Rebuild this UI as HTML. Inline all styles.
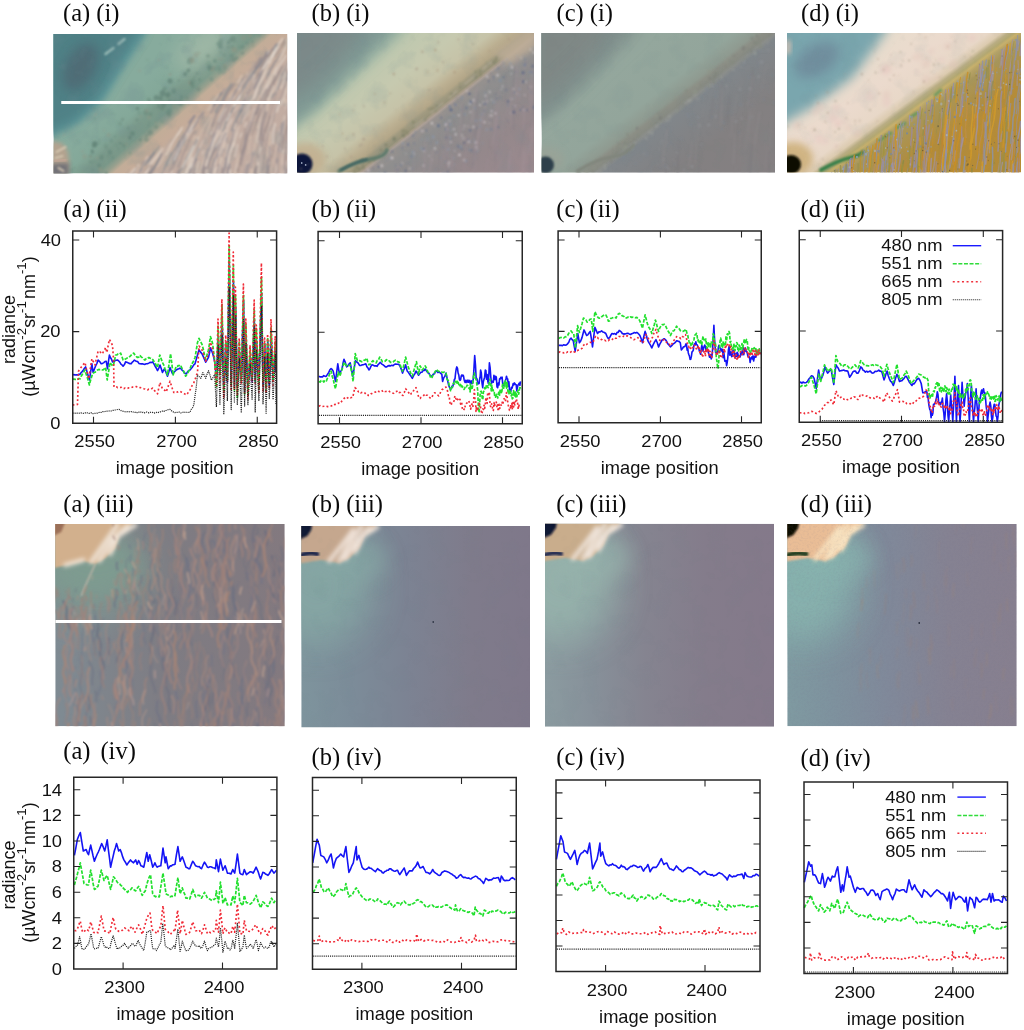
<!DOCTYPE html>
<html><head><meta charset="utf-8"><title>figure</title>
<style>html,body{margin:0;padding:0;background:#fff;}svg{display:block}</style></head>
<body>
<svg width="1024" height="1030" viewBox="0 0 1024 1030">
<defs>

<filter id="bl05" x="-20%" y="-20%" width="140%" height="140%"><feGaussianBlur stdDeviation="0.55"/></filter>
<filter id="bl08" x="-20%" y="-20%" width="140%" height="140%"><feGaussianBlur stdDeviation="0.85"/></filter>
<filter id="bl1" x="-20%" y="-20%" width="140%" height="140%"><feGaussianBlur stdDeviation="1"/></filter>
<filter id="bl2" x="-20%" y="-20%" width="140%" height="140%"><feGaussianBlur stdDeviation="2"/></filter>
<filter id="bl3" x="-30%" y="-30%" width="160%" height="160%"><feGaussianBlur stdDeviation="3.5"/></filter>
<filter id="bl6" x="-40%" y="-40%" width="180%" height="180%"><feGaussianBlur stdDeviation="6"/></filter>
<filter id="bl10" x="-50%" y="-50%" width="200%" height="200%"><feGaussianBlur stdDeviation="10"/></filter>
<filter id="bl18" x="-60%" y="-60%" width="220%" height="220%"><feGaussianBlur stdDeviation="18"/></filter>
<filter id="mot" x="0" y="0" width="100%" height="100%">
  <feTurbulence type="fractalNoise" baseFrequency="0.055" numOctaves="3" seed="4"/>
  <feColorMatrix type="matrix" values="0 0 0 0 0.15  0 0 0 0 0.25  0 0 0 0 0.28  3.2 0 0 0 -1.55"/>
</filter>
<filter id="motL" x="0" y="0" width="100%" height="100%">
  <feTurbulence type="fractalNoise" baseFrequency="0.07" numOctaves="3" seed="9"/>
  <feColorMatrix type="matrix" values="0 0 0 0 1  0 0 0 0 1  0 0 0 0 0.95  3.2 0 0 0 -1.6"/>
</filter>
<filter id="grain" x="0" y="0" width="100%" height="100%">
  <feTurbulence type="fractalNoise" baseFrequency="0.45" numOctaves="2" seed="2"/>
  <feColorMatrix type="matrix" values="0 0 0 0 0.2  0 0 0 0 0.2  0 0 0 0 0.3  2.6 0 0 0 -1.2"/>
</filter>

</defs>
<rect width="1024" height="1030" fill="#fff"/>
<svg x="53.5" y="34" width="234" height="139.5" viewBox="0 0 234 139.5" overflow="hidden">
<linearGradient id="ga1" gradientUnits="userSpaceOnUse" x1="228.5" y1="149.7" x2="53.9" y2="-49.6"><stop offset="0.0000" stop-color="#c1aca2"/><stop offset="0.3208" stop-color="#c2ada2"/><stop offset="0.4000" stop-color="#c3ac9b"/><stop offset="0.4151" stop-color="#c5ac99"/><stop offset="0.4491" stop-color="#c2ad98"/><stop offset="0.4679" stop-color="#98a08e"/><stop offset="0.4906" stop-color="#7a9889"/><stop offset="0.5283" stop-color="#7b9a8b"/><stop offset="0.5698" stop-color="#84a899"/><stop offset="0.6415" stop-color="#87ab9d"/><stop offset="0.7925" stop-color="#87ab9d"/><stop offset="1.0000" stop-color="#87ab9d"/></linearGradient>
<rect width="234" height="139.5" fill="url(#ga1)"/>
<polygon points="-20.0,-20.0 100.0,-20.0 92.0,0.0 72.0,30.0 50.0,66.0 26.0,88.0 -20.0,112.0" fill="#5f9a9c" filter="url(#bl3)"/>
<polygon points="-20.0,-20.0 94.0,-20.0 86.0,0.0 66.0,30.0 44.0,66.0 20.0,88.0 -20.0,106.0" fill="#4f8186" filter="url(#bl6)"/>
<ellipse cx="27" cy="33" rx="26" ry="15" fill="#506b74" filter="url(#bl6)" opacity="0.9" transform="rotate(-62 27 33)"/>
<ellipse cx="150" cy="14" rx="34" ry="16" fill="#a6bba9" filter="url(#bl10)" opacity="0.8" transform="rotate(-38 150 14)"/>
<path d="M52 20L60 14M65 10L71 5" stroke="#a9c6c0" stroke-width="2.4" stroke-linecap="round" filter="url(#bl1)" opacity=".85"/>
<rect width="234" height="139.5" filter="url(#mot)" opacity="0.22"/>
<g filter="url(#bl1)"><path d="M133.3 27.2a2.7 2.7 0 1 0 5.3 0a2.7 2.7 0 1 0 -5.3 0M90.8 105.7a2.2 2.2 0 1 0 4.4 0a2.2 2.2 0 1 0 -4.4 0M53.0 122.5a1.1 1.1 0 1 0 2.2 0a1.1 1.1 0 1 0 -2.2 0M173.3 8.5a1.6 1.6 0 1 0 3.3 0a1.6 1.6 0 1 0 -3.3 0M118.1 57.1a2.2 2.2 0 1 0 4.3 0a2.2 2.2 0 1 0 -4.3 0M113.7 67.5a2.3 2.3 0 1 0 4.6 0a2.3 2.3 0 1 0 -4.6 0M54.2 118.4a2.3 2.3 0 1 0 4.5 0a2.3 2.3 0 1 0 -4.5 0M126.3 63.0a1.7 1.7 0 1 0 3.4 0a1.7 1.7 0 1 0 -3.4 0M178.1 25.7a2.3 2.3 0 1 0 4.6 0a2.3 2.3 0 1 0 -4.6 0M187.5 19.2a1.6 1.6 0 1 0 3.2 0a1.6 1.6 0 1 0 -3.2 0M94.0 98.6a2.7 2.7 0 1 0 5.4 0a2.7 2.7 0 1 0 -5.4 0M60.2 102.6a1.2 1.2 0 1 0 2.4 0a1.2 1.2 0 1 0 -2.4 0M114.4 81.1a1.5 1.5 0 1 0 2.9 0a1.5 1.5 0 1 0 -2.9 0M164.6 12.9a2.3 2.3 0 1 0 4.6 0a2.3 2.3 0 1 0 -4.6 0M134.7 25.8a2.2 2.2 0 1 0 4.3 0a2.2 2.2 0 1 0 -4.3 0M112.6 79.9a1.5 1.5 0 1 0 3.1 0a1.5 1.5 0 1 0 -3.1 0M93.6 91.8a1.0 1.0 0 1 0 2.0 0a1.0 1.0 0 1 0 -2.0 0M124.5 68.6a2.8 2.8 0 1 0 5.5 0a2.8 2.8 0 1 0 -5.5 0M142.3 39.3a1.3 1.3 0 1 0 2.5 0a1.3 1.3 0 1 0 -2.5 0" fill="#5a7a70" fill-opacity="0.4"/>
<path d="M152.6 29.9a2.7 2.7 0 1 0 5.3 0a2.7 2.7 0 1 0 -5.3 0M184.0 13.4a2.3 2.3 0 1 0 4.6 0a2.3 2.3 0 1 0 -4.6 0M38.4 127.8a1.8 1.8 0 1 0 3.6 0a1.8 1.8 0 1 0 -3.6 0M167.9 37.6a2.2 2.2 0 1 0 4.5 0a2.2 2.2 0 1 0 -4.5 0M114.3 80.6a1.2 1.2 0 1 0 2.4 0a1.2 1.2 0 1 0 -2.4 0M203.1 1.6a2.1 2.1 0 1 0 4.2 0a2.1 2.1 0 1 0 -4.2 0M49.7 111.4a2.5 2.5 0 1 0 5.0 0a2.5 2.5 0 1 0 -5.0 0M164.7 38.8a1.6 1.6 0 1 0 3.3 0a1.6 1.6 0 1 0 -3.3 0M165.7 18.1a1.6 1.6 0 1 0 3.2 0a1.6 1.6 0 1 0 -3.2 0M44.0 109.2a1.8 1.8 0 1 0 3.6 0a1.8 1.8 0 1 0 -3.6 0M84.0 79.1a1.8 1.8 0 1 0 3.5 0a1.8 1.8 0 1 0 -3.5 0M182.0 8.2a1.1 1.1 0 1 0 2.2 0a1.1 1.1 0 1 0 -2.2 0M60.8 111.0a2.0 2.0 0 1 0 4.1 0a2.0 2.0 0 1 0 -4.1 0M163.9 38.0a2.6 2.6 0 1 0 5.2 0a2.6 2.6 0 1 0 -5.2 0M99.4 72.5a1.3 1.3 0 1 0 2.6 0a1.3 1.3 0 1 0 -2.6 0M15.4 135.9a2.2 2.2 0 1 0 4.4 0a2.2 2.2 0 1 0 -4.4 0M19.5 133.7a1.2 1.2 0 1 0 2.3 0a1.2 1.2 0 1 0 -2.3 0M139.5 42.7a1.7 1.7 0 1 0 3.4 0a1.7 1.7 0 1 0 -3.4 0M38.5 110.6a2.6 2.6 0 1 0 5.3 0a2.6 2.6 0 1 0 -5.3 0M154.0 36.3a2.2 2.2 0 1 0 4.5 0a2.2 2.2 0 1 0 -4.5 0M162.1 34.4a2.5 2.5 0 1 0 5.0 0a2.5 2.5 0 1 0 -5.0 0" fill="#6f9082" fill-opacity="0.4"/>
<path d="M144.5 45.8a1.7 1.7 0 1 0 3.4 0a1.7 1.7 0 1 0 -3.4 0M106.2 74.6a2.4 2.4 0 1 0 4.9 0a2.4 2.4 0 1 0 -4.9 0M73.1 94.3a1.4 1.4 0 1 0 2.9 0a1.4 1.4 0 1 0 -2.9 0M100.7 93.0a2.0 2.0 0 1 0 4.0 0a2.0 2.0 0 1 0 -4.0 0M197.7 7.7a1.2 1.2 0 1 0 2.3 0a1.2 1.2 0 1 0 -2.3 0M137.0 52.0a2.3 2.3 0 1 0 4.7 0a2.3 2.3 0 1 0 -4.7 0M95.6 80.2a1.6 1.6 0 1 0 3.1 0a1.6 1.6 0 1 0 -3.1 0M152.5 22.0a1.9 1.9 0 1 0 3.9 0a1.9 1.9 0 1 0 -3.9 0M142.8 55.2a2.1 2.1 0 1 0 4.3 0a2.1 2.1 0 1 0 -4.3 0M176.9 5.0a2.7 2.7 0 1 0 5.3 0a2.7 2.7 0 1 0 -5.3 0M89.7 78.6a2.7 2.7 0 1 0 5.4 0a2.7 2.7 0 1 0 -5.4 0M187.5 13.1a1.8 1.8 0 1 0 3.6 0a1.8 1.8 0 1 0 -3.6 0M76.0 99.5a2.3 2.3 0 1 0 4.7 0a2.3 2.3 0 1 0 -4.7 0M91.4 101.5a1.6 1.6 0 1 0 3.2 0a1.6 1.6 0 1 0 -3.2 0M103.4 71.1a1.3 1.3 0 1 0 2.5 0a1.3 1.3 0 1 0 -2.5 0M119.8 67.3a1.7 1.7 0 1 0 3.4 0a1.7 1.7 0 1 0 -3.4 0M108.7 54.8a2.4 2.4 0 1 0 4.8 0a2.4 2.4 0 1 0 -4.8 0M93.0 65.7a2.1 2.1 0 1 0 4.3 0a2.1 2.1 0 1 0 -4.3 0M68.2 111.6a2.1 2.1 0 1 0 4.2 0a2.1 2.1 0 1 0 -4.2 0" fill="#5f8074" fill-opacity="0.4"/>
<path d="M37.4 117.7a1.6 1.6 0 1 0 3.1 0a1.6 1.6 0 1 0 -3.1 0M106.3 59.3a2.8 2.8 0 1 0 5.5 0a2.8 2.8 0 1 0 -5.5 0M129.6 40.1a2.0 2.0 0 1 0 4.1 0a2.0 2.0 0 1 0 -4.1 0M38.9 110.0a2.6 2.6 0 1 0 5.1 0a2.6 2.6 0 1 0 -5.1 0M65.5 109.2a1.2 1.2 0 1 0 2.4 0a1.2 1.2 0 1 0 -2.4 0M135.7 49.0a1.8 1.8 0 1 0 3.5 0a1.8 1.8 0 1 0 -3.5 0M85.4 105.8a1.3 1.3 0 1 0 2.6 0a1.3 1.3 0 1 0 -2.6 0M132.8 36.6a2.0 2.0 0 1 0 4.1 0a2.0 2.0 0 1 0 -4.1 0M114.0 46.9a2.5 2.5 0 1 0 5.1 0a2.5 2.5 0 1 0 -5.1 0M74.8 103.8a1.6 1.6 0 1 0 3.1 0a1.6 1.6 0 1 0 -3.1 0M112.1 60.8a2.4 2.4 0 1 0 4.7 0a2.4 2.4 0 1 0 -4.7 0" fill="#5a7a70" fill-opacity="0.6"/>
<path d="M63.7 115.0a1.5 1.5 0 1 0 3.0 0a1.5 1.5 0 1 0 -3.0 0M175.5 26.6a1.4 1.4 0 1 0 2.8 0a1.4 1.4 0 1 0 -2.8 0M38.1 112.4a2.0 2.0 0 1 0 4.1 0a2.0 2.0 0 1 0 -4.1 0M35.3 127.9a1.7 1.7 0 1 0 3.4 0a1.7 1.7 0 1 0 -3.4 0M169.6 33.6a2.0 2.0 0 1 0 3.9 0a2.0 2.0 0 1 0 -3.9 0M136.8 47.3a2.7 2.7 0 1 0 5.4 0a2.7 2.7 0 1 0 -5.4 0M57.1 123.6a2.0 2.0 0 1 0 4.0 0a2.0 2.0 0 1 0 -4.0 0M75.4 119.3a1.3 1.3 0 1 0 2.5 0a1.3 1.3 0 1 0 -2.5 0M168.7 31.7a1.6 1.6 0 1 0 3.3 0a1.6 1.6 0 1 0 -3.3 0M192.1 9.2a1.6 1.6 0 1 0 3.3 0a1.6 1.6 0 1 0 -3.3 0M37.5 136.0a1.7 1.7 0 1 0 3.4 0a1.7 1.7 0 1 0 -3.4 0M177.2 12.8a1.7 1.7 0 1 0 3.5 0a1.7 1.7 0 1 0 -3.5 0M163.0 9.2a1.2 1.2 0 1 0 2.4 0a1.2 1.2 0 1 0 -2.4 0M175.9 22.0a2.4 2.4 0 1 0 4.8 0a2.4 2.4 0 1 0 -4.8 0M137.9 45.6a1.7 1.7 0 1 0 3.4 0a1.7 1.7 0 1 0 -3.4 0M56.5 106.9a1.6 1.6 0 1 0 3.1 0a1.6 1.6 0 1 0 -3.1 0M175.1 5.9a1.7 1.7 0 1 0 3.5 0a1.7 1.7 0 1 0 -3.5 0M64.2 89.7a2.3 2.3 0 1 0 4.6 0a2.3 2.3 0 1 0 -4.6 0M131.0 63.9a2.3 2.3 0 1 0 4.7 0a2.3 2.3 0 1 0 -4.7 0M164.8 6.9a2.5 2.5 0 1 0 4.9 0a2.5 2.5 0 1 0 -4.9 0M35.2 122.0a1.8 1.8 0 1 0 3.6 0a1.8 1.8 0 1 0 -3.6 0" fill="#66877a" fill-opacity="0.4"/>
<path d="M123.8 46.6a1.5 1.5 0 1 0 3.0 0a1.5 1.5 0 1 0 -3.0 0M94.2 89.0a1.6 1.6 0 1 0 3.2 0a1.6 1.6 0 1 0 -3.2 0M81.4 86.0a2.1 2.1 0 1 0 4.2 0a2.1 2.1 0 1 0 -4.2 0M44.6 106.2a1.1 1.1 0 1 0 2.3 0a1.1 1.1 0 1 0 -2.3 0M169.1 21.0a1.7 1.7 0 1 0 3.4 0a1.7 1.7 0 1 0 -3.4 0M163.6 10.2a2.7 2.7 0 1 0 5.5 0a2.7 2.7 0 1 0 -5.5 0M164.5 34.9a1.8 1.8 0 1 0 3.7 0a1.8 1.8 0 1 0 -3.7 0M107.3 87.6a1.4 1.4 0 1 0 2.7 0a1.4 1.4 0 1 0 -2.7 0M173.2 13.2a1.8 1.8 0 1 0 3.6 0a1.8 1.8 0 1 0 -3.6 0M51.1 113.6a1.7 1.7 0 1 0 3.4 0a1.7 1.7 0 1 0 -3.4 0M67.2 85.5a1.8 1.8 0 1 0 3.7 0a1.8 1.8 0 1 0 -3.7 0M43.1 137.2a1.2 1.2 0 1 0 2.4 0a1.2 1.2 0 1 0 -2.4 0M158.1 34.2a2.1 2.1 0 1 0 4.2 0a2.1 2.1 0 1 0 -4.2 0M155.9 45.2a2.1 2.1 0 1 0 4.2 0a2.1 2.1 0 1 0 -4.2 0M105.3 63.2a1.6 1.6 0 1 0 3.2 0a1.6 1.6 0 1 0 -3.2 0" fill="#6f9082" fill-opacity="0.6"/>
<path d="M194.3 1.8a2.2 2.2 0 1 0 4.4 0a2.2 2.2 0 1 0 -4.4 0M93.7 83.5a1.8 1.8 0 1 0 3.6 0a1.8 1.8 0 1 0 -3.6 0M136.2 26.4a2.5 2.5 0 1 0 4.9 0a2.5 2.5 0 1 0 -4.9 0M167.3 25.3a1.1 1.1 0 1 0 2.3 0a1.1 1.1 0 1 0 -2.3 0M169.9 31.6a1.5 1.5 0 1 0 2.9 0a1.5 1.5 0 1 0 -2.9 0M45.1 135.9a2.1 2.1 0 1 0 4.1 0a2.1 2.1 0 1 0 -4.1 0M156.6 35.8a2.2 2.2 0 1 0 4.4 0a2.2 2.2 0 1 0 -4.4 0M118.6 72.0a2.0 2.0 0 1 0 4.0 0a2.0 2.0 0 1 0 -4.0 0M178.4 16.0a2.7 2.7 0 1 0 5.5 0a2.7 2.7 0 1 0 -5.5 0M159.3 33.1a1.3 1.3 0 1 0 2.7 0a1.3 1.3 0 1 0 -2.7 0M86.3 82.5a1.0 1.0 0 1 0 2.1 0a1.0 1.0 0 1 0 -2.1 0M35.8 123.0a1.1 1.1 0 1 0 2.3 0a1.1 1.1 0 1 0 -2.3 0M197.8 11.5a1.6 1.6 0 1 0 3.2 0a1.6 1.6 0 1 0 -3.2 0" fill="#8e9684" fill-opacity="0.6"/>
<path d="M104.0 72.6a1.3 1.3 0 1 0 2.5 0a1.3 1.3 0 1 0 -2.5 0M159.4 26.9a2.0 2.0 0 1 0 4.0 0a2.0 2.0 0 1 0 -4.0 0M181.4 24.1a1.7 1.7 0 1 0 3.4 0a1.7 1.7 0 1 0 -3.4 0M51.4 139.2a1.6 1.6 0 1 0 3.1 0a1.6 1.6 0 1 0 -3.1 0M113.0 77.8a2.7 2.7 0 1 0 5.4 0a2.7 2.7 0 1 0 -5.4 0M94.6 68.0a1.4 1.4 0 1 0 2.9 0a1.4 1.4 0 1 0 -2.9 0M111.3 61.1a1.8 1.8 0 1 0 3.6 0a1.8 1.8 0 1 0 -3.6 0M77.3 99.6a2.3 2.3 0 1 0 4.6 0a2.3 2.3 0 1 0 -4.6 0M45.9 123.4a2.3 2.3 0 1 0 4.5 0a2.3 2.3 0 1 0 -4.5 0M43.4 131.5a2.2 2.2 0 1 0 4.5 0a2.2 2.2 0 1 0 -4.5 0M38.2 110.7a2.6 2.6 0 1 0 5.3 0a2.6 2.6 0 1 0 -5.3 0M36.9 116.6a1.4 1.4 0 1 0 2.8 0a1.4 1.4 0 1 0 -2.8 0" fill="#66877a" fill-opacity="0.6"/>
<path d="M52.9 100.9a2.2 2.2 0 1 0 4.4 0a2.2 2.2 0 1 0 -4.4 0M165.3 1.5a1.5 1.5 0 1 0 3.0 0a1.5 1.5 0 1 0 -3.0 0M144.4 19.0a1.4 1.4 0 1 0 2.9 0a1.4 1.4 0 1 0 -2.9 0M134.4 48.9a1.6 1.6 0 1 0 3.1 0a1.6 1.6 0 1 0 -3.1 0M164.5 25.4a1.3 1.3 0 1 0 2.7 0a1.3 1.3 0 1 0 -2.7 0M177.6 15.7a1.6 1.6 0 1 0 3.2 0a1.6 1.6 0 1 0 -3.2 0M83.7 107.5a1.1 1.1 0 1 0 2.2 0a1.1 1.1 0 1 0 -2.2 0M139.9 20.9a2.6 2.6 0 1 0 5.2 0a2.6 2.6 0 1 0 -5.2 0M42.1 124.0a1.5 1.5 0 1 0 3.0 0a1.5 1.5 0 1 0 -3.0 0M28.6 122.5a2.5 2.5 0 1 0 5.1 0a2.5 2.5 0 1 0 -5.1 0M187.5 3.8a2.7 2.7 0 1 0 5.5 0a2.7 2.7 0 1 0 -5.5 0M71.5 110.5a1.5 1.5 0 1 0 3.0 0a1.5 1.5 0 1 0 -3.0 0M91.3 76.8a2.1 2.1 0 1 0 4.2 0a2.1 2.1 0 1 0 -4.2 0M100.6 88.6a1.3 1.3 0 1 0 2.5 0a1.3 1.3 0 1 0 -2.5 0" fill="#8e9684" fill-opacity="0.4"/>
<path d="M105.0 64.7a2.2 2.2 0 1 0 4.4 0a2.2 2.2 0 1 0 -4.4 0M107.2 70.4a2.8 2.8 0 1 0 5.6 0a2.8 2.8 0 1 0 -5.6 0M100.2 63.7a2.6 2.6 0 1 0 5.2 0a2.6 2.6 0 1 0 -5.2 0M153.6 33.8a2.4 2.4 0 1 0 4.9 0a2.4 2.4 0 1 0 -4.9 0M81.9 74.5a2.0 2.0 0 1 0 4.1 0a2.0 2.0 0 1 0 -4.1 0" fill="#5f8074" fill-opacity="0.6"/></g>
<g filter="url(#bl1)"><path d="M116.1 39.3a1.0 1.0 0 1 0 2.0 0a1.0 1.0 0 1 0 -2.0 0M39.4 74.5a1.2 1.2 0 1 0 2.3 0a1.2 1.2 0 1 0 -2.3 0M112.6 33.7a0.6 0.6 0 1 0 1.2 0a0.6 0.6 0 1 0 -1.2 0M129.8 12.7a0.8 0.8 0 1 0 1.5 0a0.8 0.8 0 1 0 -1.5 0M3.1 103.3a1.1 1.1 0 1 0 2.2 0a1.1 1.1 0 1 0 -2.2 0M39.9 84.9a1.3 1.3 0 1 0 2.5 0a1.3 1.3 0 1 0 -2.5 0M23.9 77.4a1.0 1.0 0 1 0 2.0 0a1.0 1.0 0 1 0 -2.0 0M139.9 9.3a0.8 0.8 0 1 0 1.6 0a0.8 0.8 0 1 0 -1.6 0M22.2 106.8a1.0 1.0 0 1 0 2.1 0a1.0 1.0 0 1 0 -2.1 0M57.8 79.2a1.0 1.0 0 1 0 2.1 0a1.0 1.0 0 1 0 -2.1 0M0.1 114.1a0.8 0.8 0 1 0 1.5 0a0.8 0.8 0 1 0 -1.5 0M93.1 25.9a0.9 0.9 0 1 0 1.7 0a0.9 0.9 0 1 0 -1.7 0M33.6 109.9a0.8 0.8 0 1 0 1.7 0a0.8 0.8 0 1 0 -1.7 0M12.0 130.1a1.0 1.0 0 1 0 2.0 0a1.0 1.0 0 1 0 -2.0 0" fill="#6f9082" fill-opacity="0.4"/>
<path d="M48.5 68.3a1.2 1.2 0 1 0 2.4 0a1.2 1.2 0 1 0 -2.4 0M9.4 100.6a1.0 1.0 0 1 0 2.1 0a1.0 1.0 0 1 0 -2.1 0M27.9 117.4a1.1 1.1 0 1 0 2.3 0a1.1 1.1 0 1 0 -2.3 0M22.4 91.1a0.6 0.6 0 1 0 1.3 0a0.6 0.6 0 1 0 -1.3 0M40.9 80.6a1.1 1.1 0 1 0 2.2 0a1.1 1.1 0 1 0 -2.2 0M64.3 42.4a0.7 0.7 0 1 0 1.5 0a0.7 0.7 0 1 0 -1.5 0M115.2 40.8a1.3 1.3 0 1 0 2.6 0a1.3 1.3 0 1 0 -2.6 0M3.7 113.0a0.6 0.6 0 1 0 1.2 0a0.6 0.6 0 1 0 -1.2 0M49.6 96.5a0.8 0.8 0 1 0 1.5 0a0.8 0.8 0 1 0 -1.5 0M85.2 36.7a1.0 1.0 0 1 0 1.9 0a1.0 1.0 0 1 0 -1.9 0M104.4 25.9a1.1 1.1 0 1 0 2.2 0a1.1 1.1 0 1 0 -2.2 0" fill="#9a8f80" fill-opacity="0.4"/></g>
<polygon points="-3.0,107.0 8.0,109.0 14.0,116.0 16.0,128.0 15.0,142.0 -3.0,142.0" fill="#b3a38f" filter="url(#bl2)"/>
<polygon points="-3.0,130.0 15.0,129.0 15.0,142.0 -3.0,142.0" fill="#6a6c74" filter="url(#bl2)" opacity="0.9"/>
<path d="M3 118L12 113M2 124L9 122M5 134L10 137" stroke="#d8cab4" stroke-width="2.2" stroke-linecap="round" filter="url(#bl1)" opacity=".85"/>
<path d="M1 127L12 126" stroke="#c6a898" stroke-width="3" stroke-linecap="round" filter="url(#bl1)" opacity=".8"/>
<g filter="url(#bl08)">
<path d="M208.7 84.9L207.5 88.7L206.2 92.5L205.1 96.3L204.4 100.3L204.0 104.2L203.9 108.2M144.6 103.1L143.5 107.0L142.2 110.7L140.5 114.4L138.7 117.9L137.4 121.7L136.5 125.6L135.5 129.5L134.1 133.2L132.5 136.9L131.4 140.7L130.7 144.7L130.1 148.6L128.9 152.5L127.6 156.3L126.7 160.2L126.4 164.1L126.0 168.1M216.1 27.8L214.4 31.5L213.1 35.2L211.6 38.9L209.7 42.5L207.7 45.9L205.9 49.5L204.5 53.2L203.4 57.1L202.1 60.9L200.4 64.5M207.5 107.2L207.3 111.2L207.0 115.2L206.5 119.1L205.6 123.0L204.8 127.0L204.3 130.9L204.2 134.9L204.3 138.9L204.2 142.9L203.8 146.9L203.0 150.8L202.3 154.8L201.8 158.7M261.8 85.6L261.2 89.6L260.8 93.6M261.1 101.5L260.9 105.5L260.3 109.5L260.0 113.5L260.2 117.5L260.4 121.5L260.0 125.5L259.4 129.4L259.2 133.4L259.5 137.4L259.6 141.4M244.6 9.9L242.7 13.4L240.7 16.9L239.1 20.5L238.0 24.4L236.8 28.2L235.3 31.9L233.5 35.4L231.9 39.1L230.9 43.0L230.1 46.9L228.9 50.7L227.4 54.4M166.1 94.3L164.8 98.0L163.1 101.7L161.3 105.2L159.7 108.9L158.7 112.8L157.8 116.7L156.6 120.5L155.0 124.2L153.5 127.9L152.4 131.7M241.4 -6.2L239.4 -2.7L237.2 0.6L234.9 3.9L232.7 7.2M219.9 52.7L218.5 56.4L217.2 60.2L215.8 63.9L214.2 67.6L212.3 71.1L210.4 74.6M247.9 18.8L246.5 22.6M242.7 29.6L241.1 33.3L239.9 37.1L238.7 40.9M235.3 48.2L233.9 51.9L233.0 55.8L232.0 59.7L230.6 63.4L229.0 67.1L227.9 70.9" stroke="#dfd2c6" stroke-width="1.5" stroke-opacity="0.8" fill="none" stroke-linecap="round" stroke-linejoin="round"/>
<path d="M180.5 108.5L179.0 112.2L177.5 116.0L176.3 119.8L175.5 123.7L175.0 127.7L174.5 131.6M173.0 139.5L172.0 143.3L171.0 147.2L170.3 151.1L170.0 155.1L170.0 159.1M238.2 92.1L237.9 96.1L237.3 100.1L236.5 104.0L235.5 107.8L234.6 111.7L234.0 115.7L233.7 119.7M233.4 127.7L233.1 131.7L232.4 135.6L231.5 139.5L230.5 143.4L229.7 147.3M229.0 155.3L228.9 159.3M81.6 134.3L78.8 137.2L76.2 140.2L74.0 143.6L71.9 147.0L69.3 150.0M128.6 93.6L126.7 97.1L124.4 100.4L122.0 103.6L119.8 106.9L118.0 110.5L116.4 114.2L114.7 117.8L112.5 121.1M229.1 4.5L226.9 7.9L224.6 11.2L222.5 14.5L220.7 18.1L219.2 21.9L217.9 25.6L216.3 29.3M232.4 21.5L230.5 25.0L228.2 28.3L225.8 31.4L223.6 34.8L221.9 38.4L220.2 42.1L218.1 45.5L215.8 48.7L213.7 52.1L212.1 55.8L210.6 59.5L208.7 63.0M227.2 66.4L225.8 70.1L224.5 73.9L223.6 77.8M221.8 89.6L220.7 93.5L219.9 97.4L219.6 101.4L219.6 105.4L219.3 109.4M102.6 139.5L101.3 143.3L100.0 147.0L98.2 150.6L96.2 154.1L94.6 157.7L93.4 161.6L92.4 165.4M89.5 172.9L87.8 176.5L86.6 180.3L85.8 184.3L85.0 188.2L83.9 192.0L82.5 195.8L81.2 199.6" stroke="#e4d8ce" stroke-width="1.5" stroke-opacity="0.8" fill="none" stroke-linecap="round" stroke-linejoin="round"/>
<path d="M178.3 85.0L176.6 88.7L175.0 92.3L173.7 96.1L172.8 100.0L172.1 104.0L171.5 107.9L170.7 111.8L169.6 115.7L168.4 119.5M174.2 110.6L173.7 114.5L173.3 118.5L172.7 122.5L171.9 126.4L170.9 130.2L169.9 134.1M236.5 88.7L236.2 92.7L235.8 96.7L235.1 100.6L234.3 104.6L233.5 108.5L233.1 112.5M214.1 24.4L212.4 28.0L210.7 31.6L208.8 35.1L206.7 38.5M202.1 45.1L200.0 48.5M85.1 130.7L83.3 134.3L81.3 137.7L78.9 141.0L76.5 144.1L74.4 147.5L72.7 151.1L71.0 154.8L68.9 158.2L66.6 161.5M62.7 168.4M171.4 96.3L169.9 100.0M167.2 107.5L166.5 111.5L165.9 115.4L164.9 119.3L163.6 123.1L162.4 126.9L161.7 130.8L161.4 134.8L161.1 138.8L160.4 142.8M142.7 84.8M139.0 91.9L136.6 95.1L134.4 98.4L132.7 102.1L131.1 105.7M126.7 112.4M188.2 48.4L186.1 51.8L184.2 55.4M180.4 62.4L178.0 65.6L175.6 68.8M171.0 75.3L169.1 78.9L167.5 82.5L165.9 86.2L164.0 89.7L161.9 93.1L159.7 96.4L157.5 99.8M192.8 88.6L191.4 92.3M188.0 99.5L186.3 103.2M184.0 110.8L183.3 114.7L182.5 118.7L181.6 122.6M109.6 114.2L107.6 117.6L105.5 121.0L102.9 124.1L100.3 127.1L98.1 130.4L96.2 133.9L94.1 137.3L91.5 140.4L89.1 143.6L87.0 147.0L85.3 150.6L83.1 154.0L80.7 157.1L78.4 160.4L76.6 164.0" stroke="#e4d8ce" stroke-width="1.5" stroke-opacity="0.6" fill="none" stroke-linecap="round" stroke-linejoin="round"/>
<path d="M233.0 14.1L231.1 17.7L229.4 21.3M225.6 28.3L223.3 31.6L220.9 34.8L218.7 38.1L216.7 41.6L215.0 45.2L213.6 49.0L212.0 52.7L210.3 56.3L208.3 59.7L206.1 63.1L204.1 66.5L202.4 70.2M172.9 102.4M170.5 110.1L170.0 114.0L169.1 117.9L167.9 121.7L166.8 125.6L166.3 129.5M165.3 137.5L164.3 141.4L163.7 145.3L163.7 149.3L163.6 153.3M162.5 161.2L162.4 165.2M198.1 100.1L197.0 104.0L195.9 107.8L195.5 111.8L195.4 115.8L195.1 119.8M193.6 127.7L193.5 131.7L193.7 135.6L193.7 139.6L193.2 143.6L192.7 147.6L192.7 151.6L193.0 155.6M216.1 30.1L214.0 33.5L211.9 36.9L210.1 40.4M206.0 51.7L204.2 55.3L202.3 58.8L200.7 62.5L199.4 66.3L198.5 70.2L197.4 74.0L196.0 77.7L194.3 81.4L192.9 85.1M214.7 27.0L212.3 30.2L209.8 33.4M203.9 43.8L202.3 47.4L200.3 50.9L198.1 54.3M171.5 55.2L168.9 58.1M224.7 49.1L223.0 52.7L221.1 56.2L219.1 59.7L217.2 63.2L215.8 67.0L214.7 70.8L213.6 74.6L212.2 78.4M257.3 7.9L255.8 11.6L254.3 15.3M250.9 22.6L248.9 26.0L246.8 29.4L244.7 32.8L242.9 36.4M244.8 85.8L244.1 89.7L243.7 93.7L243.8 97.7L244.0 101.7L243.8 105.7L243.1 109.6L242.7 113.6L242.8 117.6L243.0 121.6M206.9 86.4L205.5 90.2L204.1 93.9M202.4 101.7L202.0 105.7L201.6 109.7L200.8 113.6L199.8 117.5L198.9 121.4M198.2 129.3L198.3 133.3L198.2 137.3L197.6 141.3L196.8 145.2L196.2 149.2M256.0 107.0L255.8 111.0L255.1 115.0L254.6 118.9L254.5 122.9L254.7 126.9L254.3 130.9L253.6 134.8L253.2 138.8M220.0 112.4L219.9 116.4L219.8 120.4L219.4 124.3L218.7 128.3L217.8 132.2L216.9 136.1L216.1 140.0L215.6 144.0L215.3 147.9L215.3 151.9L215.2 155.9M186.6 45.5L184.3 48.8M178.9 59.4L176.6 62.7L174.6 66.2L173.1 69.9L171.5 73.5L169.4 77.0L167.3 80.4L165.7 84.0L164.4 87.8L162.8 91.5L160.8 94.9M262.2 -10.4L260.4 -6.9L258.7 -3.2L257.0 0.4L255.1 3.9L253.1 7.4L250.9 10.7M246.3 17.3L244.2 20.7M240.7 27.8L239.3 31.6L237.9 35.3M230.1 33.4L228.0 36.8L226.3 40.4L225.0 44.2L223.9 48.1L222.7 51.9L221.0 55.5L219.3 59.1L217.7 62.8L216.6 66.6M214.9 74.4L213.6 78.2L212.2 82.0L210.8 85.7M95.5 121.9M91.4 128.7L88.7 131.7L86.2 134.8L84.1 138.2L82.2 141.7L80.0 145.0L77.4 148.1M166.1 73.4L164.4 77.0L162.4 80.5L160.2 83.8L158.0 87.2L156.3 90.8L154.9 94.5L153.4 98.2L151.5 101.8L149.4 105.2L147.6 108.7L146.2 112.5L145.0 116.3L143.7 120.1L141.9 123.7" stroke="#d8c5b4" stroke-width="1.5" stroke-opacity="0.6" fill="none" stroke-linecap="round" stroke-linejoin="round"/>
<path d="M201.4 28.8L199.6 32.4L197.9 36.0L196.1 39.6L193.9 43.0L191.6 46.2L189.3 49.5L187.2 52.9L185.4 56.4M265.3 35.6L263.8 39.3L262.7 43.2L262.1 47.1L261.3 51.0L260.1 54.8L258.9 58.7L258.3 62.6M218.2 116.5L217.6 120.5M215.8 128.3L215.7 132.3" stroke="#dbcabe" stroke-width="1.0" stroke-opacity="0.8" fill="none" stroke-linecap="round" stroke-linejoin="round"/>
<path d="M215.5 35.8L213.0 38.9L210.7 42.2L208.9 45.8L207.1 49.4L204.9 52.7L202.5 55.9L200.4 59.3M197.1 66.6L195.0 70.0L192.8 73.3L190.9 76.8L189.5 80.6M185.9 87.7M269.4 31.8L268.7 35.7L268.5 39.7L268.0 43.7L267.0 47.6L266.2 51.5L266.1 55.5M265.7 63.5L265.1 67.4L264.8 71.4L265.2 75.4L265.4 79.4L265.0 83.4L264.5 87.4L264.6 91.4M226.2 94.5L226.0 98.5L225.6 102.5L224.9 106.4L224.1 110.3L223.6 114.3L223.4 118.3L223.5 122.3L223.7 126.3L223.5 130.3L223.1 134.3L222.3 138.2L221.7 142.1L221.3 146.1L221.3 150.1L221.5 154.1L221.5 158.1M179.6 109.3L178.0 112.9L176.7 116.7L176.0 120.7L175.3 124.6L174.1 128.4L172.7 132.2L171.7 136.1L171.2 140.0L170.8 144.0L170.0 147.9L169.0 151.8M167.9 159.7L167.8 163.7M172.1 80.7L170.9 84.5L169.5 88.3L167.9 91.9L166.1 95.5L164.2 99.0L162.5 102.6M159.2 114.1L158.3 118.0L157.3 121.9L156.1 125.7L154.7 129.5L153.3 133.2L152.0 137.0L151.1 140.9M233.0 100.7M232.6 108.7L231.8 112.6L230.8 116.5M229.2 124.3L228.9 128.3L228.7 132.3L228.3 136.3L227.5 140.2L226.4 144.0L225.5 147.9L225.0 151.9L224.8 155.9L224.6 159.9L224.0 163.9L223.1 167.7M219.9 51.8L218.7 55.6L217.1 59.3L215.4 62.9L214.2 66.7L213.4 70.6L212.7 74.6L211.7 78.5L210.3 82.2L209.0 86.0L208.2 89.9L207.9 93.9M206.6 101.8L205.6 105.7M245.4 72.3L244.2 76.1L242.8 79.9L241.4 83.6L240.3 87.5L239.5 91.4L239.0 95.4L238.7 99.3M213.0 99.7L211.9 103.5L210.6 107.3L209.3 111.1L208.3 115.0L207.6 118.9L207.4 122.9L207.2 126.9L206.8 130.9L206.1 134.8L205.1 138.7L204.0 142.6L203.1 146.4L202.5 150.4L202.2 154.4" stroke="#dbcabe" stroke-width="1.0" stroke-opacity="0.6" fill="none" stroke-linecap="round" stroke-linejoin="round"/>
<path d="M237.3 130.0L237.5 134.0L237.7 138.0L237.9 142.0L237.8 146.0L237.5 150.0L237.0 153.9L236.3 157.9L235.7 161.8L235.2 165.8L235.1 169.8L235.2 173.8L235.4 177.8M198.4 38.5L196.1 41.7L194.0 45.2L192.3 48.8L190.9 52.5L189.4 56.2L187.7 59.8L185.6 63.3L183.5 66.7L181.6 70.2L180.1 73.9L178.8 77.7M174.7 88.9L172.9 92.5M194.4 38.7L192.4 42.2L190.5 45.7L188.4 49.1L186.0 52.3L183.4 55.4L181.2 58.7L179.3 62.2L177.6 65.8L175.7 69.3L173.4 72.6" stroke="#dfd2c6" stroke-width="1.0" stroke-opacity="0.6" fill="none" stroke-linecap="round" stroke-linejoin="round"/>
<path d="M245.9 93.7L245.5 97.7L244.7 101.6L243.8 105.5L243.3 109.5L243.2 113.5L243.0 117.5L242.2 121.4L241.2 125.3L240.6 129.2L240.5 133.2L240.4 137.2L239.7 141.2M237.4 80.2L237.2 84.2L237.0 88.2L236.5 92.2L235.7 96.1L235.0 100.0M149.3 119.8L147.4 123.4M145.0 131.0L144.0 134.9L142.7 138.6L141.1 142.3" stroke="#d8c5b4" stroke-width="1.0" stroke-opacity="0.6" fill="none" stroke-linecap="round" stroke-linejoin="round"/>
<path d="M160.5 102.1L159.2 105.9L157.9 109.6L156.1 113.2L154.1 116.7L152.6 120.4L151.5 124.3L150.5 128.1L149.0 131.8L147.3 135.5L145.9 139.2M144.2 147.0L143.1 150.9L141.7 154.6L140.4 158.4M224.2 68.0L223.3 71.9L222.1 75.7L220.6 79.4L218.9 83.0L217.7 86.8L216.9 90.8L216.2 94.7L215.1 98.5M272.3 76.2L272.0 80.2M270.6 88.1L270.4 92.1L270.5 96.1M269.6 104.0L268.8 108.0L268.5 111.9L268.6 115.9L268.5 119.9M267.1 127.8L266.7 131.8M248.5 67.7L247.6 71.6L247.1 75.6L246.8 79.6L246.7 83.6L246.6 87.6L246.2 91.6L245.6 95.5L244.8 99.4L243.9 103.4L243.3 107.3L242.8 111.3M242.7 119.3L242.7 123.3M185.0 70.7L182.9 74.1L181.0 77.7M178.4 85.2L177.3 89.1M174.2 96.4L172.4 100.0L170.9 103.7L169.8 107.6L169.0 111.5L168.1 115.4L167.0 119.2L165.6 123.0M163.1 130.6M229.7 110.0L229.8 114.0L229.7 118.0L229.2 121.9L228.7 125.9L228.3 129.9M228.7 137.9L229.0 141.9L229.1 145.9M217.8 47.6L216.4 51.4L215.4 55.3M213.8 63.1L212.8 67.0L211.7 70.8L210.3 74.6L208.9 78.3L207.6 82.1L206.5 86.0L205.8 89.9L205.4 93.9L205.2 97.9M117.3 109.1L114.9 112.2L112.6 115.5L110.6 119.0L108.8 122.6L107.2 126.2L105.5 129.8L103.6 133.3M107.9 114.3L105.7 117.6L103.6 121.1L101.2 124.2L98.5 127.2L96.1 130.4L94.2 133.9L92.1 137.3L89.5 140.4L87.0 143.5L85.0 146.9L83.2 150.5L80.9 153.8M252.9 32.0L252.1 35.9M249.5 43.4L248.2 47.2L247.5 51.1L246.9 55.1L245.8 59.0L244.6 62.8L243.7 66.7L243.4 70.6L243.0 74.6M241.1 82.4L240.8 86.4L240.9 90.4" stroke="#dbcabe" stroke-width="1.5" stroke-opacity="0.6" fill="none" stroke-linecap="round" stroke-linejoin="round"/>
<path d="M185.2 93.3L183.7 97.0L182.6 100.9L181.8 104.8L181.0 108.7L180.0 112.6M96.7 125.8L94.5 129.2M89.2 135.2L86.9 138.5L85.0 142.0L83.0 145.5M168.7 124.2L167.5 128.0L166.5 131.9L166.1 135.8L165.9 139.8L165.3 143.8L164.4 147.7L163.8 151.7L163.9 155.7L164.0 159.7L163.6 163.6L163.0 167.6L162.7 171.6L163.0 175.6M106.5 117.5L104.1 120.7L101.5 123.8L98.9 126.8L96.7 130.1L94.7 133.6L92.9 137.2L91.0 140.7L88.8 144.0L86.3 147.2L83.9 150.4L81.8 153.8L80.0 157.4L78.4 161.1M272.7 17.6L271.8 21.5M270.2 29.4L268.9 33.2L267.6 36.9L266.8 40.8L266.4 44.8L266.0 48.8L265.2 52.7L264.1 56.6L263.4 60.5M259.3 29.2L257.5 32.8L256.2 36.5L255.0 40.4L253.5 44.1L251.7 47.6L250.0 51.3L248.8 55.1L248.0 59.0L246.8 62.8L245.3 66.5L243.7 70.2M233.6 74.4M231.2 82.0L230.4 86.0L229.9 89.9L229.7 93.9L229.6 97.9L229.4 101.9L229.0 105.9M227.5 113.8L226.7 117.7M222.7 33.7L220.9 37.2L218.9 40.7L216.7 44.0L214.5 47.4L212.4 50.8L210.6 54.4L209.1 58.1L207.8 61.9" stroke="#dfd2c6" stroke-width="1.5" stroke-opacity="0.6" fill="none" stroke-linecap="round" stroke-linejoin="round"/>
<path d="M248.1 128.2M247.1 136.2L246.9 140.2L246.3 144.1L245.3 148.0L244.4 151.9L243.9 155.8L243.7 159.8M176.8 136.3L176.3 140.3L176.1 144.3L175.9 148.3L175.4 152.2L174.6 156.1L173.7 160.0L173.2 164.0L173.0 168.0" stroke="#e4d8ce" stroke-width="2.0" stroke-opacity="0.6" fill="none" stroke-linecap="round" stroke-linejoin="round"/>
<path d="M38.9 171.6L36.9 175.0L35.1 178.6M201.2 41.4L199.8 45.2L198.5 49.0L196.7 52.5L194.7 56.0L193.2 59.7L192.1 63.6M189.0 70.9L187.4 74.6M185.5 82.3M182.5 89.8L181.4 93.6L180.7 97.6L179.9 101.5L178.6 105.3M163.4 133.2L162.1 137.0L161.3 140.9L160.6 144.9L159.6 148.8L158.3 152.5L157.0 156.3L155.9 160.2L155.3 164.1L155.0 168.1M153.6 176.0L152.4 179.8L151.4 183.7M160.4 132.7L159.3 136.5L158.7 140.5L158.4 144.5L157.9 148.4L157.0 152.3L156.1 156.2L155.4 160.2L155.3 164.2L155.4 168.2M223.8 40.9L222.2 44.6M219.6 52.1L217.9 55.8L215.9 59.3M156.7 117.5L155.9 121.5L155.3 125.4L154.5 129.3L153.4 133.2L152.1 137.0L150.9 140.8L149.9 144.7L149.3 148.6M221.7 11.0L219.9 14.5M273.9 105.8L273.5 109.8L272.8 113.7L272.3 117.7L272.3 121.7L272.5 125.7L272.1 129.7L271.4 133.6L270.9 137.6L270.9 141.6L271.0 145.6L270.7 149.6L270.0 153.5L269.5 157.5M150.2 116.4L148.8 120.1M145.5 127.4L144.3 131.2L143.5 135.1L142.8 139.1M246.1 119.2L245.1 123.1L244.3 127.0L243.9 131.0L243.8 135.0L243.6 139.0L243.0 143.0M183.2 130.0L182.5 134.0L181.7 137.9L181.0 141.8L180.5 145.8L180.3 149.8L180.4 153.8L180.7 157.8L180.8 161.8M164.4 135.5M161.5 142.9L160.8 146.9L160.1 150.8L159.1 154.6L157.7 158.4L156.6 162.3L156.0 166.2L155.7 170.2L155.0 174.1L153.9 178.0L152.8 181.8M254.5 -2.4L252.3 0.9L249.8 4.0L247.5 7.2L245.6 10.8L243.9 14.4L241.7 17.7M249.8 -13.1L247.3 -10.0L245.2 -6.6L243.2 -3.1L241.0 0.2M173.7 84.9L172.2 88.7L170.5 92.2L168.4 95.7L166.3 99.1L164.6 102.7L163.2 106.4L162.0 110.3L160.7 114.0L158.9 117.6" stroke="#dbcabe" stroke-width="1.5" stroke-opacity="0.8" fill="none" stroke-linecap="round" stroke-linejoin="round"/>
<path d="M242.2 -6.0L240.1 -2.6L238.5 1.1M235.0 8.2L232.8 11.6L231.0 15.2L229.6 18.9L228.2 22.7L226.3 26.2M129.5 92.8L127.6 96.4L125.7 99.9M121.4 106.6M116.5 113.0L114.4 116.4L112.6 119.9L111.0 123.6L109.2 127.2L107.2 130.6M223.6 28.6L222.2 32.3L221.0 36.2L219.8 40.0L218.3 43.7L216.6 47.3L214.8 50.9L213.1 54.5L211.6 58.2L210.5 62.0L209.7 66.0L208.9 69.9L207.9 73.8M205.2 81.3M157.7 80.8L156.0 84.4L154.0 87.8L151.7 91.1L149.5 94.4L147.7 98.0L146.2 101.7L144.7 105.4L142.9 109.0L140.8 112.4L138.8 115.9L137.2 119.5L135.9 123.3L134.7 127.1L133.2 130.8M95.3 123.1L93.3 126.6L90.9 129.8L88.6 133.1L86.6 136.5" stroke="#d8c5b4" stroke-width="1.0" stroke-opacity="0.8" fill="none" stroke-linecap="round" stroke-linejoin="round"/>
<path d="M140.6 137.1L139.6 141.0M137.0 148.5L135.4 152.2L133.9 155.9L132.7 159.7L132.0 163.6L131.4 167.6M129.6 175.4L128.3 179.2L127.1 183.0L126.4 186.9M271.3 55.1L271.2 59.1L271.4 63.1L271.3 67.1L270.7 71.0L270.5 75.0L270.8 79.0L271.0 83.0L270.6 87.0M270.6 99.0L270.5 103.0L269.9 106.9L269.7 110.9L270.0 114.9M217.5 90.5M216.9 98.5L216.8 102.5L216.6 106.4L216.1 110.4L215.4 114.4L214.7 118.3L214.2 122.3M155.5 116.2L153.4 119.6L151.4 123.1L149.9 126.8L148.6 130.6L147.5 134.4L146.1 138.2M188.4 41.4L186.5 44.9L184.2 48.2M201.0 29.5L199.2 33.1L197.5 36.7L195.9 40.3L194.0 43.9L192.0 47.3M186.9 118.3L185.5 122.1L184.2 125.8L183.1 129.7M182.1 137.6L181.8 141.6L181.5 145.6L180.8 149.6L179.9 153.4L178.9 157.3L178.0 161.2L177.4 165.2L177.1 169.2M176.8 177.1M252.2 69.6L250.7 73.3L249.4 77.1M247.9 85.0L247.6 88.9L247.2 92.9M254.3 97.5L254.6 101.5L254.5 105.5L254.0 109.5L253.6 113.4L253.8 117.4M253.7 125.4L253.2 129.4M269.1 7.3L268.1 11.2L266.6 14.9L265.0 18.5L263.8 22.4L263.1 26.3L262.2 30.2L260.8 34.0L259.5 37.7L258.7 41.7L258.3 45.6L257.5 49.6L256.3 53.4L255.4 57.3L255.1 61.3L254.9 65.3M141.9 102.5L140.6 106.3L139.3 110.1L137.6 113.7L135.7 117.2L133.8 120.7L132.2 124.4L131.1 128.3L130.0 132.1L128.7 135.9L127.0 139.5L125.3 143.2L124.0 146.9L123.1 150.8" stroke="#d8c5b4" stroke-width="1.5" stroke-opacity="0.8" fill="none" stroke-linecap="round" stroke-linejoin="round"/>
<path d="M210.5 41.7L208.7 45.3L206.5 48.6L204.4 52.0L202.8 55.7L201.5 59.5L199.8 63.1L197.7 66.5L195.9 70.1L194.5 73.8L193.4 77.7L191.8 81.3L189.9 84.9L188.3 88.5M203.9 67.1M201.0 74.5L200.0 78.4L199.2 82.3L198.2 86.2L196.8 89.9L195.3 93.7L193.9 97.4M224.0 129.8L223.2 133.8L222.8 137.7L222.8 141.7L222.9 145.7L222.7 149.7L222.0 153.7M220.7 161.6L220.6 165.6L220.7 169.6L220.6 173.6L220.0 177.5L219.2 181.4L218.6 185.4L218.4 189.4M165.3 91.4L163.6 95.1L162.3 98.8L161.3 102.7L160.5 106.6L159.6 110.5L158.4 114.3L156.9 118.1L155.5 121.8L154.4 125.6L153.7 129.6L153.3 133.6L152.9 137.5L152.2 141.5L151.2 145.4M207.9 107.0L207.6 111.0L207.1 114.9M205.1 122.7L204.8 126.7L204.7 130.7L204.2 134.7L203.2 138.5L202.5 142.5M242.2 44.9L241.0 48.8L239.4 52.4L237.6 56.0L236.1 59.7L235.1 63.6L234.3 67.5L233.1 71.3L231.5 75.0M215.2 51.2L213.8 54.9L212.5 58.7L210.8 62.3L208.9 65.8L206.9 69.3L205.1 72.9L203.7 76.6M226.9 6.9L224.6 10.2L222.4 13.6L220.8 17.2L219.4 20.9L217.7 24.6L215.7 28.0L213.6 31.5L211.9 35.1L210.6 38.9L209.4 42.7L207.7 46.3M204.1 53.4L202.9 57.3L201.9 61.1L200.7 64.9" stroke="#e4d8ce" stroke-width="1.0" stroke-opacity="0.6" fill="none" stroke-linecap="round" stroke-linejoin="round"/>
<path d="M231.9 95.2M230.3 103.1L229.9 107.0L229.9 111.0L229.8 115.0L229.2 119.0M165.8 60.0L163.1 62.9L160.6 66.1L158.5 69.5L156.5 73.0L154.4 76.4M242.7 126.8L241.9 130.7L241.1 134.7L241.0 138.6L240.9 142.6L240.4 146.6L239.5 150.5L238.9 154.5L238.9 158.5L238.7 162.5L238.0 166.4L237.2 170.3L236.8 174.3L236.8 178.3L236.5 182.3L235.6 186.2L234.9 190.1M184.4 98.6L182.5 102.1L180.9 105.8L179.8 109.7L178.8 113.5L177.4 117.3M174.1 124.5L172.9 128.3M171.3 136.2L170.3 140.1L168.9 143.8L167.5 147.6L166.6 151.5L166.1 155.4L165.7 159.4" stroke="#dfd2c6" stroke-width="1.0" stroke-opacity="0.8" fill="none" stroke-linecap="round" stroke-linejoin="round"/>
<path d="M198.4 122.5L198.3 126.5L198.4 130.5L198.3 134.5L198.0 138.5L197.4 142.4L196.6 146.3M273.9 125.3L273.7 129.3L273.9 133.3L274.2 137.3L274.4 141.3L274.3 145.3L274.0 149.3L273.5 153.2L272.8 157.2L272.3 161.1L272.1 165.1" stroke="#d8c5b4" stroke-width="2.0" stroke-opacity="0.6" fill="none" stroke-linecap="round" stroke-linejoin="round"/>
<path d="M264.2 57.3L263.3 61.2M262.7 69.1L262.9 73.1L262.8 77.1L262.3 81.1L261.7 85.0L261.2 89.0M235.7 114.4L235.7 118.4L235.8 122.4L235.9 126.4M235.0 134.3" stroke="#e4d8ce" stroke-width="1.0" stroke-opacity="0.8" fill="none" stroke-linecap="round" stroke-linejoin="round"/>
<path d="M139.1 123.8L138.0 127.6L136.6 131.4L134.9 135.0L133.3 138.7L131.9 142.5L131.0 146.3L130.4 150.3L129.7 154.2L128.7 158.1L127.4 161.9M268.2 71.5L267.9 75.5L267.3 79.4L266.3 83.3L265.1 87.1L264.3 91.0L263.8 95.0" stroke="#dfd2c6" stroke-width="2.0" stroke-opacity="0.8" fill="none" stroke-linecap="round" stroke-linejoin="round"/>
<path d="M253.0 -16.5L251.2 -12.9L249.6 -9.3L247.8 -5.7L245.6 -2.4L243.3 0.9L241.1 4.2L239.2 7.8M251.2 8.7L249.5 12.3L247.5 15.8L245.8 19.4L244.6 23.2L243.6 27.1L242.2 30.8L240.4 34.4L238.9 38.1L237.9 42.0L237.1 45.9L236.0 49.8M233.2 57.2M231.8 65.1L231.2 69.1" stroke="#d8c5b4" stroke-width="2.0" stroke-opacity="0.8" fill="none" stroke-linecap="round" stroke-linejoin="round"/>
<path d="M88.3 136.8L86.6 140.4L84.7 143.9L82.4 147.2L80.1 150.5L78.2 154.0L76.7 157.7L74.9 161.3L72.7 164.6" stroke="#dbcabe" stroke-width="2.0" stroke-opacity="0.6" fill="none" stroke-linecap="round" stroke-linejoin="round"/>
<path d="M257.7 40.4L257.1 44.4L256.4 48.3L255.2 52.1L253.9 55.9L253.0 59.8L252.7 63.8L252.4 67.8L251.7 71.8L250.8 75.6L250.0 79.6L249.8 83.6L249.9 87.6L249.7 91.6L249.1 95.5L248.4 99.4M94.3 122.8L92.5 126.4L90.9 130.1L89.0 133.6L86.8 137.0L84.5 140.3L82.5 143.7L80.9 147.3" stroke="#dbcabe" stroke-width="2.0" stroke-opacity="0.8" fill="none" stroke-linecap="round" stroke-linejoin="round"/>
<path d="M270.4 123.6L269.8 127.5L269.6 131.5L269.4 135.5L269.2 139.5L268.7 143.5L267.9 147.4L266.9 151.3" stroke="#e4d8ce" stroke-width="2.0" stroke-opacity="0.8" fill="none" stroke-linecap="round" stroke-linejoin="round"/>
<path d="M213.4 18.4L211.6 21.9L209.6 25.4L207.4 28.7L205.0 31.9L202.5 35.0M195.4 129.7L194.3 133.6L193.6 137.5L193.4 141.5M192.4 149.4L191.4 153.3M141.2 81.4L139.1 84.8L137.3 88.4L135.8 92.1L134.0 95.7L131.9 99.1L129.7 102.4L127.6 105.9L126.0 109.5L124.6 113.3M119.4 124.0M142.9 125.7L140.8 129.1L138.8 132.6L137.0 136.1L135.6 139.9L134.4 143.7L133.2 147.5L132.0 151.3L130.5 155.0M53.0 160.3L50.7 163.6L48.6 167.0L47.1 170.6M212.5 29.7M208.7 36.7L207.2 40.4L205.7 44.2L204.1 47.8L202.3 51.4L200.2 54.8M251.7 29.5M249.5 37.1L247.9 40.8L246.2 44.4L244.7 48.1L243.7 52.0L242.9 55.9M233.0 135.4L232.0 139.3L231.2 143.2L230.8 147.2L230.7 151.2L230.3 155.2L229.4 159.1M202.3 135.5L201.4 139.4L200.4 143.3L199.4 147.1L198.7 151.1L198.4 155.1L198.2 159.1L198.0 163.1L197.5 167.0L196.8 171.0L195.8 174.8L194.7 178.7L193.9 182.6L193.4 186.6L193.2 190.6L193.1 194.6L192.7 198.6" stroke="#878490" stroke-width="1.5" stroke-opacity="0.8" fill="none" stroke-linecap="round" stroke-linejoin="round"/>
<path d="M254.1 112.3L253.7 116.3L252.9 120.2L252.3 124.2L251.8 128.1L251.8 132.1L252.0 136.1L252.0 140.1L251.8 144.1L251.2 148.1L250.5 152.0M140.9 96.6L138.8 100.0L136.8 103.5L135.4 107.2L134.1 111.0L132.4 114.6L130.5 118.1L128.9 121.8L127.9 125.6L126.6 129.4L124.9 133.1M98.9 132.2L96.7 135.5L94.8 139.0L93.3 142.7L91.9 146.5M88.4 153.7L86.4 157.1L84.6 160.7L83.1 164.4L82.0 168.3M201.8 28.7L199.9 32.1L197.7 35.5M192.5 41.6L190.0 44.7M206.9 23.8L204.5 27.0L202.3 30.4L200.3 33.8M202.8 28.4M198.0 34.8L196.1 38.3L194.5 42.0L192.8 45.6L190.7 49.0L188.5 52.3M192.9 100.4L192.1 104.3L191.7 108.3L191.2 112.2L190.3 116.1L189.3 120.0M203.5 132.4L203.4 136.4L203.4 140.4L203.0 144.4L202.2 148.3L201.3 152.2L200.5 156.1L200.2 160.1L200.1 164.1M199.6 172.1L198.8 176.0L197.9 179.9L197.2 183.8L196.9 187.8L196.9 191.8L196.7 195.8M219.1 115.5L218.8 119.5L218.4 123.4M216.4 131.2L215.7 135.1L215.4 139.1L215.0 143.1M237.0 75.8L235.8 79.6L235.1 83.5L234.9 87.5L234.7 91.5L234.1 95.5L233.3 99.4L232.9 103.4L233.0 107.4L233.0 111.4L232.5 115.3L231.8 119.3L231.4 123.3L231.5 127.3L231.5 131.3L231.0 135.2M127.2 116.8L125.0 120.1L123.3 123.7L121.9 127.5L120.2 131.1L118.1 134.5L116.0 137.9M113.1 145.4L111.7 149.1L109.9 152.7M232.8 106.2L233.0 110.2L233.3 114.2L233.1 118.2L232.6 122.2L232.2 126.1L232.3 130.1L232.6 134.1L232.5 138.1L231.9 142.1L231.6 146.1" stroke="#998b8a" stroke-width="1.5" stroke-opacity="0.6" fill="none" stroke-linecap="round" stroke-linejoin="round"/>
<path d="M215.7 47.8M212.7 55.2L210.8 58.7L208.7 62.1M205.4 69.4L204.1 73.2L202.6 76.8L200.7 80.4M270.0 89.0L268.9 92.8L268.2 96.7L267.9 100.7L267.4 104.7L266.3 108.6L265.3 112.4L264.8 116.4M96.4 121.7L94.3 125.2L91.9 128.4L89.4 131.5L87.2 134.8L85.3 138.3L83.5 141.9M198.5 88.7L196.7 92.2L195.1 95.9L193.8 99.7L192.9 103.6L192.0 107.5L190.9 111.3L189.6 115.1L188.1 118.8M185.4 126.3M184.1 134.2L183.6 138.2M92.3 127.7L90.7 131.4L88.8 134.9L86.8 138.4L84.6 141.8L82.5 145.2M238.7 60.3M236.1 67.9L235.1 71.7L234.4 75.7L234.1 79.6L233.9 83.6L233.6 87.6M96.4 130.9L93.8 133.9L91.2 137.0L88.7 140.1L86.5 143.4L84.6 146.9M273.3 73.5L272.4 77.4L271.8 81.3L271.5 85.3L271.3 89.3L270.8 93.3L270.0 97.2L269.0 101.1L267.8 104.9M220.7 41.8L219.4 45.6L218.0 49.3L216.5 53.0L214.8 56.6L212.9 60.2L211.0 63.7L209.1 67.2M206.1 74.6L205.1 78.5L204.2 82.4L203.3 86.3L202.3 90.2L201.1 94.0L199.7 97.7L198.3 101.5M246.7 -9.5L244.8 -6.0M219.9 111.7L219.7 115.7L219.2 119.7L218.2 123.6L217.3 127.5L216.8 131.4" stroke="#9f8d88" stroke-width="1.5" stroke-opacity="0.6" fill="none" stroke-linecap="round" stroke-linejoin="round"/>
<path d="M175.5 134.0L174.0 137.7L172.8 141.5L172.1 145.5L171.7 149.5L171.1 153.4L170.3 157.3L169.1 161.2M167.2 168.9L166.8 172.9L166.5 176.9L165.9 180.8M175.9 64.2L173.9 67.7L172.4 71.4L171.2 75.2L169.5 78.8L167.6 82.3L166.0 86.0L164.9 89.8L163.7 93.7L162.1 97.3L160.4 100.9L159.2 104.7L158.4 108.7L157.3 112.5M229.4 16.9L226.9 20.0M221.9 26.3L219.8 29.7L217.9 33.2L216.1 36.8L214.4 40.4M210.4 47.3L208.1 50.6L205.7 53.8M196.8 87.1L195.2 90.8L193.8 94.5L192.9 98.4L192.2 102.3L191.7 106.3L191.0 110.2L190.0 114.1L188.8 117.9L187.7 121.8L186.9 125.7M186.5 133.7" stroke="#878490" stroke-width="1.0" stroke-opacity="0.6" fill="none" stroke-linecap="round" stroke-linejoin="round"/>
<path d="M158.2 113.4L156.3 116.9L154.9 120.6L153.8 124.5M150.7 131.8L149.1 135.5L147.9 139.3L147.1 143.2L145.9 147.1L144.4 150.7L143.0 154.5M174.1 70.2L172.0 73.6L170.3 77.2L168.3 80.7L165.9 83.9L163.5 87.1L161.4 90.5L159.6 94.1L158.0 97.7" stroke="#998b8a" stroke-width="1.5" stroke-opacity="0.4" fill="none" stroke-linecap="round" stroke-linejoin="round"/>
<path d="M246.2 17.6L244.6 21.2L243.1 24.9L241.4 28.5L239.3 32.0L237.2 35.3L235.4 38.9L234.1 42.7L232.8 46.5M206.5 69.7L204.9 73.4L203.1 76.9L201.2 80.5L199.8 84.2L198.8 88.1L197.9 92.0L196.8 95.8L195.4 99.6L193.8 103.2L192.4 107.0L191.5 110.9L190.9 114.8L190.3 118.8L189.4 122.7L188.3 126.5L187.1 130.4M216.4 51.5L214.5 55.0L212.4 58.4L210.2 61.8L208.3 65.3L206.8 69.0L205.6 72.8L204.4 76.6L203.0 80.4M229.4 32.2L227.3 35.6L225.6 39.2L224.0 42.8L222.0 46.3L219.7 49.6M255.3 115.0L255.2 119.0L254.9 123.0M253.7 130.9L253.0 134.9L252.6 138.9M271.5 74.0L270.9 77.9L269.9 81.8L268.8 85.6L267.9 89.5L267.4 93.5L267.2 97.5L266.8 101.5L266.1 105.4L265.0 109.3L264.0 113.1L263.2 117.0L262.8 121.0L262.6 125.0L262.1 129.0L261.3 132.9M168.3 133.4L167.3 137.3L166.2 141.1L165.2 145.0L164.7 148.9L164.5 152.9L164.5 156.9L164.3 160.9M265.0 83.4L263.9 87.3L262.9 91.1L262.4 95.1L262.1 99.1L261.4 103.0L260.2 106.9L259.4 110.8L259.1 114.8M242.0 112.5L241.5 116.4L241.3 120.4L241.5 124.4L241.8 128.4L242.0 132.4L242.1 136.4L241.8 140.4L241.3 144.4M240.3 152.3L240.2 156.3L240.4 160.3L240.7 164.3L240.9 168.3L240.9 172.3L240.5 176.3M254.1 -17.6L251.8 -14.4L249.0 -11.5L246.4 -8.5L244.3 -5.1L242.2 -1.6M267.5 28.1M266.0 35.9L264.6 39.7L263.3 43.4L262.5 47.4L262.1 51.3L261.4 55.3L260.3 59.1M241.9 59.6L241.0 63.5L240.4 67.5L239.8 71.4L239.0 75.3L238.0 79.2L236.8 83.0L235.7 86.9L234.9 90.8L234.5 94.8L234.4 98.8L234.3 102.8L233.9 106.7L233.1 110.7L232.2 114.6" stroke="#90868a" stroke-width="1.5" stroke-opacity="0.6" fill="none" stroke-linecap="round" stroke-linejoin="round"/>
<path d="M229.6 39.8L227.8 43.3L226.3 47.0L225.0 50.8L223.5 54.5L221.6 58.0L219.6 61.5L218.0 65.1L216.8 69.0L215.7 72.8L214.4 76.6L212.8 80.2L211.1 83.9" stroke="#90868a" stroke-width="1.0" stroke-opacity="0.4" fill="none" stroke-linecap="round" stroke-linejoin="round"/>
<path d="M254.7 0.8L253.2 4.5L251.9 8.3M248.8 15.7L246.9 19.2M83.6 132.6L82.0 136.3L80.2 139.8L78.1 143.2L75.8 146.5L73.7 149.9L71.8 153.4L70.3 157.1L69.0 160.9L67.6 164.7L66.1 168.4M62.3 175.4L60.4 178.9L58.9 182.6M164.9 120.3L163.9 124.1M161.2 131.7L159.5 135.3L158.3 139.1L157.6 143.0L156.7 146.9L155.3 150.7L153.9 154.4L153.1 158.4L152.6 162.3M150.8 170.1L149.8 174.0L149.2 177.9M213.5 126.7L213.5 130.7L213.5 134.7L213.0 138.7L212.2 142.6L211.6 146.6L211.5 150.6L211.6 154.6M260.5 -22.8L258.5 -19.3L256.4 -15.9L254.0 -12.7L251.4 -9.7L249.0 -6.5L246.9 -3.1L245.1 0.5M240.9 7.3M231.9 50.4L230.4 54.1L229.2 58.0L228.1 61.8L226.7 65.6L224.9 69.2L223.1 72.7L221.6 76.4L220.5 80.3L219.7 84.2L218.9 88.1L217.7 91.9L216.2 95.7L214.8 99.4L213.8 103.3L213.2 107.2M189.1 75.1L188.0 79.0M184.8 86.3L183.4 90.0M181.7 97.9" stroke="#90868a" stroke-width="1.0" stroke-opacity="0.6" fill="none" stroke-linecap="round" stroke-linejoin="round"/>
<path d="M90.2 126.6L88.4 130.2M182.5 55.4L180.8 59.0L178.7 62.5M174.4 69.2L172.7 72.8L171.3 76.6L169.9 80.3L168.3 84.0L166.3 87.5L164.3 90.9L162.6 94.5M206.6 35.5L204.9 39.1L202.9 42.5L200.5 45.7L198.3 49.0L196.5 52.7L194.9 56.3L192.8 59.7M225.0 113.2L224.5 117.2L224.2 121.2L224.2 125.2L224.2 129.2L224.1 133.2L223.8 137.2L223.2 141.1L222.3 145.1L221.5 149.0L220.7 152.9M244.8 128.9L243.8 132.8L243.2 136.7M242.9 144.7L242.3 148.7L241.4 152.6M240.0 160.5L239.9 164.5L239.7 168.4L238.9 172.4L237.9 176.3L237.2 180.2L236.9 184.2M211.5 96.4L210.5 100.3L209.7 104.2L209.2 108.2L208.7 112.2L208.1 116.1L207.2 120.0L206.2 123.9L205.0 127.7M248.7 5.7L246.5 9.1L244.2 12.4L242.4 15.9L240.9 19.6L239.4 23.3L237.5 26.9M233.4 33.7L231.9 37.4M229.3 45.0L227.5 48.6L225.6 52.1L224.1 55.8" stroke="#998b8a" stroke-width="1.0" stroke-opacity="0.8" fill="none" stroke-linecap="round" stroke-linejoin="round"/>
<path d="M152.6 97.3L151.2 101.1L149.5 104.7L147.5 108.2L145.5 111.6L143.7 115.2L142.3 118.9M74.6 140.0L72.5 143.4M164.6 87.1L163.3 90.9L161.7 94.6L159.8 98.1L157.9 101.6L156.2 105.3L154.9 109.0M270.7 48.9L269.7 52.8L268.9 56.7L268.4 60.7L268.4 64.7M268.6 72.6L268.4 76.6L267.8 80.6L267.1 84.5L266.7 88.5L266.6 92.5L266.8 96.5L267.0 100.5L267.0 104.5L266.5 108.5L265.9 112.4M184.4 69.3L182.0 72.5L179.7 75.7L177.5 79.1L175.6 82.6L174.0 86.3L172.5 90.0L171.0 93.7L169.2 97.3L167.3 100.8L165.1 104.2L163.1 107.6L161.1 111.1L159.5 114.8L158.2 118.5M98.6 130.5L96.7 134.0M91.8 140.3L89.4 143.5L87.5 147.1L85.7 150.6M267.6 66.0L266.9 69.9L266.5 73.9L266.4 77.9L266.5 81.9L266.4 85.9L266.1 89.9M264.7 97.8L263.8 101.7L263.2 105.6L262.9 109.6L262.9 113.6L262.9 117.6L262.8 121.6L262.5 125.6" stroke="#9f8d88" stroke-width="1.0" stroke-opacity="0.6" fill="none" stroke-linecap="round" stroke-linejoin="round"/>
<path d="M222.4 10.3L220.2 13.6L217.7 16.7L215.3 20.0L213.3 23.4L211.6 27.1L209.7 30.5L207.3 33.8M214.6 17.8L212.4 21.1L210.4 24.6L208.4 28.0L206.1 31.3L203.5 34.4L200.9 37.4L198.6 40.7L196.6 44.2L194.8 47.7L192.9 51.2L190.6 54.5L188.2 57.7L185.8 60.9L183.7 64.3L182.1 68.0M264.4 -3.2L263.0 0.6L261.5 4.2L259.7 7.8L257.8 11.4L256.2 15.0L254.9 18.8L253.9 22.7L253.1 26.6L252.2 30.5L251.1 34.3M248.3 41.8L246.9 45.6L245.9 49.5L245.3 53.4L245.0 57.4M172.8 123.5L172.3 127.5L171.4 131.4L170.3 135.2L169.2 139.1M168.2 151.0M180.6 49.8L178.3 53.2L176.0 56.4L173.8 59.7L172.0 63.3L170.5 67.0L168.9 70.7L166.9 74.1L164.7 77.5L162.6 80.9L161.0 84.6L159.7 88.3L158.3 92.1M141.3 139.0L140.6 142.9L139.6 146.8L138.4 150.6L137.1 154.4L136.1 158.3L135.4 162.2L135.1 166.2M134.3 178.2L133.6 182.1L132.8 186.1L132.3 190.0" stroke="#90868a" stroke-width="1.5" stroke-opacity="0.8" fill="none" stroke-linecap="round" stroke-linejoin="round"/>
<path d="M254.7 109.4L253.8 113.3M251.4 125.0L251.1 129.0L251.0 133.0L250.9 137.0L250.7 141.0L250.2 145.0L249.4 148.9L248.5 152.8L247.6 156.7L246.8 160.6L246.4 164.6L246.2 168.6L246.2 172.6M143.1 104.3L140.7 107.5L138.6 110.9L137.0 114.6L135.5 118.3L133.6 121.8L131.5 125.2M127.7 132.2M220.1 14.9L218.3 18.5L216.4 22.1L214.4 25.5L212.0 28.7L209.6 31.9L207.3 35.2L205.4 38.7L203.8 42.4L202.2 46.0L200.4 49.6L198.2 53.0L196.0 56.3L193.9 59.7L192.2 63.3L190.8 67.0L189.4 70.8M245.0 41.8L243.4 45.5M241.5 53.2L240.9 57.2L240.1 61.1L239.0 64.9L237.7 68.7L236.7 72.6L236.1 76.5L235.9 80.5L235.7 84.5L235.1 88.5L234.2 92.4M222.7 59.6L221.7 63.5L220.9 67.4L219.6 71.2L218.1 74.9L216.7 78.6L215.9 82.5L215.3 86.5L214.5 90.4L213.3 94.2L212.1 98.0L211.4 102.0L211.2 106.0L210.8 110.0M271.7 20.6L270.0 24.2L268.4 27.9L267.3 31.7L266.5 35.6M264.9 43.4L263.8 47.3L262.4 51.0L261.2 54.8L260.3 58.7M195.1 105.6L193.9 109.4L192.5 113.1L191.0 116.9L189.7 120.6L188.6 124.5L187.9 128.4L187.5 132.4" stroke="#998b8a" stroke-width="1.0" stroke-opacity="0.6" fill="none" stroke-linecap="round" stroke-linejoin="round"/>
<path d="M71.7 142.9L69.0 145.8M101.0 119.6L98.7 122.8L96.2 125.9L93.6 129.0M88.7 135.2L86.6 138.6M173.5 103.5L172.6 107.4M170.3 115.1L168.7 118.7L167.2 122.4M165.6 130.3L164.9 134.2L164.0 138.1L162.7 141.9L161.5 145.7L160.9 149.7L160.6 153.7L160.4 157.7L159.8 161.6M158.1 169.4M230.6 86.9L229.7 90.8L229.3 94.8L229.1 98.8L229.1 102.8L229.1 106.8L228.8 110.8L228.1 114.7L227.3 118.7" stroke="#878490" stroke-width="1.0" stroke-opacity="0.8" fill="none" stroke-linecap="round" stroke-linejoin="round"/>
<path d="M149.8 79.0L147.1 82.0L144.8 85.3L142.8 88.8L140.7 92.2L138.2 95.3L135.6 98.3M131.7 105.3L129.6 108.7L127.1 111.8L124.7 115.0L122.8 118.6L121.1 122.2L119.1 125.6M140.8 82.4L138.2 85.4L135.6 88.5M175.8 130.0L175.0 133.9L174.3 137.9L174.2 141.9L174.4 145.9L174.3 149.9L173.9 153.8L173.4 157.8L173.4 161.8L173.7 165.8M173.6 173.8L173.1 177.7" stroke="#878490" stroke-width="2.0" stroke-opacity="0.6" fill="none" stroke-linecap="round" stroke-linejoin="round"/>
<path d="M213.0 109.2L211.9 113.0L211.0 116.9L210.6 120.9L210.5 124.9L210.4 128.9L210.0 132.9L209.2 136.8M209.6 22.8L207.6 26.2L205.3 29.5L203.1 32.9L201.5 36.5L199.9 40.2L197.9 43.7L195.7 47.0M133.8 124.2L132.3 127.8L130.4 131.4L128.4 134.8L126.6 138.4L125.2 142.2M268.3 109.0L268.5 113.0L268.5 117.0L268.0 120.9L267.4 124.9L266.9 128.8L266.7 132.8L266.9 136.8L267.1 140.8M201.3 133.8L201.5 137.8L201.8 141.8L201.8 145.8L201.5 149.7L200.9 153.7L200.4 157.7L200.2 161.7L200.5 165.7L200.7 169.6" stroke="#90868a" stroke-width="1.5" stroke-opacity="0.4" fill="none" stroke-linecap="round" stroke-linejoin="round"/>
<path d="M213.2 67.1L212.1 70.9L211.5 74.9L210.8 78.8L209.7 82.7L208.4 86.4L207.5 90.3L207.0 94.3L206.7 98.3L206.1 102.2L205.1 106.1M273.3 45.2L272.5 49.1L271.4 52.9L270.8 56.9L270.8 60.9L270.6 64.9L269.9 68.8L269.2 72.8L269.1 76.8M268.9 84.7L268.1 88.7L267.6 92.6M216.9 82.1L215.7 86.0L214.2 89.7L212.6 93.3L211.1 97.0M209.5 104.9L208.7 108.8L207.5 112.6M205.0 120.2L204.5 124.1M203.5 132.1L202.5 136.0L201.3 139.8L200.4 143.7L199.9 147.6M228.6 33.5L226.7 37.0L224.6 40.4L222.4 43.7L220.5 47.3L219.1 51.0L217.7 54.8L216.0 58.4L214.0 61.8L212.1 65.3L210.5 69.0L209.3 72.8L208.2 76.7L206.7 80.4L204.9 84.0L203.2 87.6M201.1 95.3" stroke="#998b8a" stroke-width="1.5" stroke-opacity="0.8" fill="none" stroke-linecap="round" stroke-linejoin="round"/>
<path d="M267.1 121.6L266.1 125.4M264.5 133.3L264.3 137.3L263.9 141.2L262.9 145.1M261.2 152.9L261.0 156.9L260.6 160.9L259.8 164.8L258.7 168.7M257.6 176.6M244.8 53.7L243.4 57.5L241.8 61.1L240.2 64.8L238.7 68.5L237.5 72.3L236.7 76.2L236.1 80.2L235.5 84.1L234.7 88.0L233.6 91.9L232.4 95.7L231.3 99.6L230.4 103.4L229.8 107.4L229.5 111.4L229.3 115.4M96.8 137.6L94.9 141.1L93.3 144.8L92.1 148.6L90.9 152.4L89.4 156.1L87.6 159.7L85.8 163.2L84.2 166.9L83.0 170.7M267.1 102.6L266.9 106.6L266.3 110.6L266.2 114.6L266.5 118.6L266.7 122.6M241.1 21.7L239.5 25.4L237.5 28.9M234.1 36.1L233.0 39.9M231.7 5.6L229.8 9.2L227.7 12.6L225.4 15.8L223.1 19.1L221.0 22.5" stroke="#9f8d88" stroke-width="1.5" stroke-opacity="0.8" fill="none" stroke-linecap="round" stroke-linejoin="round"/>
<path d="M172.3 99.1L170.6 102.7L168.6 106.2L166.9 109.8L165.5 113.5L164.5 117.4L163.4 121.2L161.8 124.9L160.1 128.5L158.7 132.3L157.7 136.1L157.0 140.1M216.0 112.5L216.1 116.5L216.0 120.5L215.4 124.4L214.7 128.4L214.4 132.4L214.5 136.4L214.5 140.4L213.9 144.3L213.2 148.3L212.8 152.2L212.9 156.2L212.9 160.2L212.4 164.2L211.6 168.1M141.1 135.1L139.8 138.8L138.1 142.5L136.2 146.0L134.6 149.7L133.6 153.5L132.6 157.4L131.2 161.1L129.5 164.8L128.1 168.5M199.8 118.4L198.8 122.3L198.3 126.3L198.1 130.3L197.8 134.3M196.0 142.1M194.4 149.9L194.2 153.9L194.0 157.9L193.5 161.9L192.5 165.8L191.5 169.6M171.3 55.0L169.1 58.4L166.7 61.6L164.5 64.9L162.7 68.5L161.1 72.2L159.3 75.7L157.1 79.1M189.4 44.9L187.7 48.5L185.8 52.0L183.7 55.4L181.5 58.8L179.5 62.2L177.9 65.9L176.5 69.6L175.3 73.4L174.0 77.2L172.4 80.9L170.6 84.4L168.7 88.0L167.0 91.6L165.6 95.4M242.7 126.8L242.9 130.7L242.9 134.7L242.5 138.7L242.0 142.7L241.4 146.7M180.6 95.8L179.7 99.7L179.0 103.6L178.0 107.5L176.6 111.3L175.2 115.0L174.0 118.8L173.3 122.8L172.9 126.7L172.3 130.7L171.5 134.6L170.4 138.5L169.5 142.3M228.7 89.2L228.3 93.2L227.4 97.1L226.4 100.9M225.5 108.9L225.6 112.9L225.3 116.9M223.7 124.7L223.2 128.7M207.5 23.9L205.9 27.5L203.9 31.0L201.7 34.3M161.4 99.5L160.2 103.3L159.0 107.2L157.5 110.9L155.7 114.4L153.9 118.0L152.4 121.8L151.5 125.6L150.6 129.5L149.3 133.3L147.8 137.0M145.2 144.6L144.5 148.5L143.9 152.5L143.0 156.4L141.8 160.2L140.6 164.0" stroke="#878490" stroke-width="1.5" stroke-opacity="0.6" fill="none" stroke-linecap="round" stroke-linejoin="round"/>
<path d="M258.1 7.4M255.2 14.8L253.4 18.4L251.6 21.9M249.4 29.6L248.3 33.5L246.9 37.2L245.3 40.9L243.9 44.6L243.0 48.5L242.3 52.5L241.5 56.4L240.3 60.2L239.0 64.0M150.9 137.9L149.7 141.8L149.0 145.7L148.6 149.7L148.1 153.6L147.2 157.6L146.1 161.4L145.1 165.3L144.5 169.2" stroke="#9f8d88" stroke-width="2.0" stroke-opacity="0.8" fill="none" stroke-linecap="round" stroke-linejoin="round"/>
<path d="M212.9 78.3L212.0 82.2L210.7 86.0L209.5 89.8L208.8 93.8L208.5 97.7L208.2 101.7L207.5 105.7L206.6 109.6M125.3 135.8L123.9 139.6L122.1 143.1L120.4 146.8L119.2 150.6L118.3 154.5L117.3 158.4L116.0 162.1L114.4 165.8L113.2 169.6L112.5 173.5L111.9 177.5L111.1 181.4L109.9 185.2L108.7 189.1L108.0 193.0" stroke="#90868a" stroke-width="2.0" stroke-opacity="0.6" fill="none" stroke-linecap="round" stroke-linejoin="round"/>
<path d="M107.8 120.1L106.3 123.8L104.5 127.4L102.6 130.9L100.6 134.3L98.5 137.7L96.5 141.2L94.7 144.8L93.3 148.5L92.1 152.4L91.0 156.2L89.9 160.0L88.6 163.8L87.2 167.6L85.5 171.2L83.8 174.8L82.2 178.5M162.8 112.5L161.0 116.0L159.0 119.5L157.2 123.1L155.8 126.9L154.8 130.7L153.8 134.6M151.7 133.4L150.8 137.3L149.4 141.0L147.9 144.7L146.9 148.6L146.3 152.5L145.6 156.5L144.5 160.3L143.3 164.1M142.4 172.1L142.0 176.0" stroke="#90868a" stroke-width="2.0" stroke-opacity="0.8" fill="none" stroke-linecap="round" stroke-linejoin="round"/>
<path d="M255.7 73.0L255.0 76.9L254.6 80.9L254.5 84.9L254.2 88.9L253.6 92.8L252.6 96.7L251.6 100.6L250.7 104.5L250.0 108.4L249.7 112.4L249.6 116.4L249.3 120.4L248.7 124.4L247.8 128.3" stroke="#9f8d88" stroke-width="1.0" stroke-opacity="0.4" fill="none" stroke-linecap="round" stroke-linejoin="round"/>
<path d="M256.6 23.8L254.7 27.3L253.2 31.0L251.9 34.8M248.8 42.2L246.9 45.7L245.2 49.3L244.1 53.2L243.1 57.1L241.9 60.9L240.3 64.5L238.7 68.2L237.5 72.0L236.7 75.9L236.0 79.9" stroke="#9f8d88" stroke-width="1.5" stroke-opacity="0.4" fill="none" stroke-linecap="round" stroke-linejoin="round"/>
<path d="M193.4 130.4L192.3 134.2L191.2 138.1L190.5 142.0L190.0 146.0L189.8 150.0L189.6 153.9L189.1 157.9L188.2 161.8L187.1 165.7M185.4 173.5L185.1 177.5L184.9 181.5L184.6 185.5L184.0 189.4L183.0 193.3" stroke="#878490" stroke-width="1.5" stroke-opacity="0.4" fill="none" stroke-linecap="round" stroke-linejoin="round"/>
<path d="M258.2 -0.5L256.5 3.1L254.9 6.8L252.9 10.2L250.6 13.5L248.5 16.9L246.7 20.5L245.3 24.2L243.7 27.9M118.9 104.8L116.4 107.9L114.2 111.3L112.4 114.8L110.6 118.4L108.6 121.9L106.3 125.2M213.9 30.0L211.6 33.3L209.1 36.4L206.7 39.6L204.6 43.0L202.9 46.6L201.1 50.2L199.0 53.6L196.6 56.8L194.3 60.1L192.5 63.7L190.9 67.3L189.3 71.0L187.3 74.5L185.1 77.8" stroke="#878490" stroke-width="1.0" stroke-opacity="0.4" fill="none" stroke-linecap="round" stroke-linejoin="round"/>
<path d="M198.0 71.7L197.1 75.5M194.3 83.0L192.9 86.8M191.4 94.6L190.9 98.6L190.2 102.5L189.1 106.4L188.0 110.2L187.2 114.2L187.0 118.2L186.9 122.2L186.7 126.2L186.1 130.1L185.4 134.0L184.9 138.0" stroke="#9f8d88" stroke-width="1.0" stroke-opacity="0.8" fill="none" stroke-linecap="round" stroke-linejoin="round"/>
<path d="M213.8 18.6M209.8 25.5L207.8 29.0L205.4 32.2L203.0 35.4L200.8 38.7L199.0 42.3L197.2 45.9" stroke="#7f8a94" stroke-width="1.5" stroke-opacity="0.4" fill="none" stroke-linecap="round" stroke-linejoin="round"/>
<path d="M191.4 78.5L189.8 82.1L188.4 85.9L187.2 89.7M110.5 136.1L108.6 139.6L106.7 143.2L105.2 146.8L104.0 150.7L102.7 154.5M150.0 82.5L147.9 85.9M143.1 96.9L141.2 100.4" stroke="#6e7c89" stroke-width="1.0" stroke-opacity="0.6" fill="none" stroke-linecap="round" stroke-linejoin="round"/>
<path d="M168.2 58.5L165.9 61.8M161.6 68.6L159.3 71.8M240.4 33.2L239.0 37.0L237.4 40.6M233.8 47.7" stroke="#6e7c89" stroke-width="1.5" stroke-opacity="0.6" fill="none" stroke-linecap="round" stroke-linejoin="round"/>
<path d="M105.8 112.4L103.3 115.5L101.1 118.9L99.0 122.3L96.9 125.7L94.6 128.9" stroke="#75838f" stroke-width="1.5" stroke-opacity="0.4" fill="none" stroke-linecap="round" stroke-linejoin="round"/>
<path d="M199.8 34.7L198.1 38.3L196.4 41.9L194.7 45.5L192.7 49.0L190.6 52.4L188.5 55.8" stroke="#6e7c89" stroke-width="1.0" stroke-opacity="0.4" fill="none" stroke-linecap="round" stroke-linejoin="round"/>
<path d="M235.5 27.2L233.7 30.8L231.7 34.2L229.8 37.7L228.0 41.3L226.6 45.1L225.3 48.9L224.2 52.7L223.0 56.5L221.6 60.3M202.7 34.7L200.2 37.8L197.6 40.9L195.2 44.1L193.2 47.5L191.3 51.0L189.2 54.5M133.0 101.7L131.2 105.3L129.6 108.9L128.1 112.6L126.4 116.2L124.4 119.7L122.4 123.2L120.8 126.9L119.5 130.6" stroke="#75838f" stroke-width="1.0" stroke-opacity="0.6" fill="none" stroke-linecap="round" stroke-linejoin="round"/>
<path d="M154.3 114.7L153.3 118.5L152.5 122.4M91.6 126.0L89.8 129.5L88.1 133.1L86.1 136.6M81.7 143.3" stroke="#7f8a94" stroke-width="1.0" stroke-opacity="0.6" fill="none" stroke-linecap="round" stroke-linejoin="round"/>
<path d="M219.8 60.0L218.4 63.7M190.9 67.4L189.5 71.2L187.9 74.9L186.3 78.5L184.5 82.1L182.7 85.6L181.0 89.3L179.5 93.0L178.3 96.8M100.6 118.0L98.2 121.2L95.8 124.4L93.7 127.8L91.9 131.3" stroke="#707e8c" stroke-width="1.5" stroke-opacity="0.6" fill="none" stroke-linecap="round" stroke-linejoin="round"/>
<path d="M180.4 71.6L179.0 75.3L177.3 79.0L175.3 82.4L173.4 86.0L172.0 89.7L170.7 93.5L169.0 97.1M224.3 9.6L222.2 13.0L220.4 16.5M216.4 23.5M106.2 123.9L104.3 127.5L102.3 130.9L99.9 134.1L97.5 137.3L95.3 140.6L93.4 144.2L91.6 147.8L89.7 151.3M145.9 114.4L144.2 118.0L142.9 121.8L141.8 125.7M139.2 133.2M125.9 107.2L124.1 110.8L122.2 114.3L119.9 117.6L117.7 120.9L115.8 124.5L114.2 128.1L112.5 131.7L110.4 135.1M106.6 142.2L105.1 145.9" stroke="#75838f" stroke-width="1.5" stroke-opacity="0.6" fill="none" stroke-linecap="round" stroke-linejoin="round"/>
<path d="M238.0 39.3L236.6 43.1L235.1 46.8L233.4 50.4L231.6 53.9" stroke="#707e8c" stroke-width="1.0" stroke-opacity="0.4" fill="none" stroke-linecap="round" stroke-linejoin="round"/>
<path d="M177.7 50.2L175.6 53.6L173.3 56.9L171.3 60.4L169.7 64.0L168.1 67.7L166.0 71.1L163.9 74.5L162.2 78.1" stroke="#75838f" stroke-width="2.0" stroke-opacity="0.6" fill="none" stroke-linecap="round" stroke-linejoin="round"/>
<path d="M252.0 -8.9L249.9 -5.5L247.8 -2.1L245.5 1.2L243.0 4.3M226.2 20.8L224.3 24.3L222.5 27.9L220.4 31.3L218.1 34.6L216.2 38.1L214.6 41.7L212.7 45.3" stroke="#707e8c" stroke-width="1.5" stroke-opacity="0.4" fill="none" stroke-linecap="round" stroke-linejoin="round"/>
<path d="M166.4 103.1L165.0 106.8L163.3 110.5L161.5 114.0" stroke="#6e7c89" stroke-width="1.5" stroke-opacity="0.4" fill="none" stroke-linecap="round" stroke-linejoin="round"/>
<path d="M143.6 106.1L141.9 109.7L140.0 113.2L137.8 116.6L135.6 119.9L133.8 123.5L132.2 127.2L130.6 130.8L128.8 134.4L126.7 137.8L124.8 141.3L123.4 145.0M247.6 11.4L245.5 14.8L243.7 18.4L242.2 22.1L240.6 25.8" stroke="#7f8a94" stroke-width="1.5" stroke-opacity="0.6" fill="none" stroke-linecap="round" stroke-linejoin="round"/>
<path d="M244.6 30.7L242.8 34.3L241.3 38.0L240.0 41.8L238.8 45.6" stroke="#75838f" stroke-width="1.0" stroke-opacity="0.4" fill="none" stroke-linecap="round" stroke-linejoin="round"/>
<path d="M149.6 106.6L147.9 110.2L146.1 113.8L144.2 117.3L142.4 120.8L140.7 124.5L139.3 128.2M140.2 89.0L138.2 92.5L136.2 96.0L134.1 99.4M129.3 105.8L127.3 109.2L125.5 112.8L123.6 116.3L121.4 119.6L119.1 122.9L117.0 126.3L115.3 130.0M264.6 17.3L263.4 21.1L262.2 24.9M160.9 104.1L159.4 107.7L158.2 111.6L157.1 115.4" stroke="#e9e2da" stroke-width="1.0" stroke-opacity="0.4" fill="none" stroke-linecap="round" stroke-linejoin="round"/>
<path d="M247.8 -11.6L245.5 -8.3M240.7 -1.9L238.7 1.5L236.9 5.1L234.9 8.6M215.6 16.4L213.9 20.0M140.8 122.8M137.9 130.2L136.8 134.1" stroke="#e9e2da" stroke-width="1.0" stroke-opacity="0.6" fill="none" stroke-linecap="round" stroke-linejoin="round"/>
<path d="M200.3 39.9L197.9 43.2L195.9 46.6L194.0 50.1L191.8 53.5L189.4 56.7L187.0 59.9L184.9 63.3L183.0 66.8M228.1 42.1L226.3 45.7L224.8 49.4L223.6 53.3L222.5 57.1" stroke="#ece6de" stroke-width="1.0" stroke-opacity="0.4" fill="none" stroke-linecap="round" stroke-linejoin="round"/>
<path d="M139.2 129.7L137.7 133.5M127.6 95.1L125.4 98.4L123.1 101.7M118.6 137.4L117.2 141.1L115.7 144.8M111.9 151.8L110.1 155.4L108.7 159.2" stroke="#e2d8ce" stroke-width="1.5" stroke-opacity="0.6" fill="none" stroke-linecap="round" stroke-linejoin="round"/>
<path d="M229.6 5.6M225.8 12.6L223.6 15.9L221.4 19.3L219.6 22.9" stroke="#ece6de" stroke-width="1.5" stroke-opacity="0.4" fill="none" stroke-linecap="round" stroke-linejoin="round"/>
<path d="M250.3 -13.6L248.1 -10.3L246.2 -6.8L244.4 -3.2M173.2 94.2M170.1 101.5L168.3 105.1L166.7 108.8M124.0 118.7L122.2 122.3L120.2 125.8M117.1 133.1M114.5 140.7M144.1 84.9L141.8 88.2L139.7 91.6L138.0 95.2L136.3 98.9" stroke="#e2d8ce" stroke-width="1.0" stroke-opacity="0.6" fill="none" stroke-linecap="round" stroke-linejoin="round"/>
<path d="M140.3 112.0L138.3 115.4L136.6 119.0L135.0 122.7L133.2 126.3L131.1 129.7L129.1 133.2" stroke="#e9e2da" stroke-width="1.5" stroke-opacity="0.6" fill="none" stroke-linecap="round" stroke-linejoin="round"/>
<path d="M222.8 14.2L220.8 17.7L218.7 21.0L216.2 24.2L213.8 27.4L211.7 30.8L209.8 34.3M186.6 61.9L184.6 65.4L182.4 68.7L180.2 72.1M176.9 79.3L175.4 83.0L173.6 86.6" stroke="#ece6de" stroke-width="1.5" stroke-opacity="0.6" fill="none" stroke-linecap="round" stroke-linejoin="round"/>
<path d="M168.7 98.9L167.3 102.7L165.7 106.3L163.8 109.9L162.2 113.5M139.0 95.4L136.8 98.8L134.5 102.0L132.1 105.3L129.8 108.5L127.7 111.9L125.8 115.4L124.1 119.1L122.5 122.7L120.8 126.4M237.6 1.9L236.0 5.5L234.4 9.2L232.3 12.6L230.3 16.0L228.6 19.7L227.2 23.4L225.6 27.1" stroke="#ece6de" stroke-width="1.0" stroke-opacity="0.6" fill="none" stroke-linecap="round" stroke-linejoin="round"/>
<path d="M172.7 74.0L170.6 77.4L168.5 80.8L166.5 84.3L164.9 87.9" stroke="#e9e2da" stroke-width="1.5" stroke-opacity="0.4" fill="none" stroke-linecap="round" stroke-linejoin="round"/>
</g>
<rect x="7.75" y="67" width="218.75" height="3" fill="#fff"/>
</svg>
<svg x="297" y="33" width="237" height="139.75" viewBox="0 0 237 139.75" overflow="hidden">
<linearGradient id="gb1" gradientUnits="userSpaceOnUse" x1="224.0" y1="149.8" x2="63.7" y2="-53.5"><stop offset="0.0000" stop-color="#9c8a8f"/><stop offset="0.1892" stop-color="#94888b"/><stop offset="0.3668" stop-color="#8f8e8e"/><stop offset="0.4015" stop-color="#98928f"/><stop offset="0.4112" stop-color="#ada097"/><stop offset="0.4189" stop-color="#a59a86"/><stop offset="0.4247" stop-color="#98937a"/><stop offset="0.4440" stop-color="#a29b81"/><stop offset="0.4556" stop-color="#b3a688"/><stop offset="0.4826" stop-color="#bcb092"/><stop offset="0.5251" stop-color="#c6c3a8"/><stop offset="0.6062" stop-color="#c6c9af"/><stop offset="0.7297" stop-color="#bdc8af"/><stop offset="1.0000" stop-color="#b9c6af"/></linearGradient>
<rect width="237" height="139.75" fill="url(#gb1)"/>
<polygon points="-20.0,-20.0 118.0,-20.0 104.0,2.0 62.0,40.0 22.0,78.0 -20.0,108.0" fill="#97b0a2" filter="url(#bl6)"/>
<polygon points="-20.0,-20.0 104.0,-20.0 90.0,2.0 50.0,40.0 12.0,78.0 -20.0,100.0" fill="#809a94" filter="url(#bl6)"/>
<polygon points="-20.0,-20.0 80.0,-20.0 48.0,22.0 14.0,56.0 -20.0,72.0" fill="#7c8989" filter="url(#bl10)" opacity="0.95"/>
<rect width="237" height="139.75" filter="url(#mot)" opacity="0.12"/>
<polygon points="196.0,22.0 240.0,-12.0 240.0,14.0 212.0,32.0" fill="#bfae98" filter="url(#bl3)" opacity="0.85"/>
<g filter="url(#bl1)"><path d="M108.5 100.0a1.7 1.7 0 1 0 3.3 0a1.7 1.7 0 1 0 -3.3 0M57.6 134.4a1.9 1.9 0 1 0 3.8 0a1.9 1.9 0 1 0 -3.8 0M196.6 27.4a1.9 1.9 0 1 0 3.8 0a1.9 1.9 0 1 0 -3.8 0M177.7 38.9a1.2 1.2 0 1 0 2.3 0a1.2 1.2 0 1 0 -2.3 0M56.1 138.2a1.7 1.7 0 1 0 3.3 0a1.7 1.7 0 1 0 -3.3 0M136.8 77.2a1.6 1.6 0 1 0 3.1 0a1.6 1.6 0 1 0 -3.1 0M162.5 50.8a1.0 1.0 0 1 0 2.0 0a1.0 1.0 0 1 0 -2.0 0M133.0 75.7a1.4 1.4 0 1 0 2.9 0a1.4 1.4 0 1 0 -2.9 0M107.1 97.9a1.3 1.3 0 1 0 2.7 0a1.3 1.3 0 1 0 -2.7 0M135.4 75.0a1.0 1.0 0 1 0 2.0 0a1.0 1.0 0 1 0 -2.0 0M181.7 41.8a1.8 1.8 0 1 0 3.6 0a1.8 1.8 0 1 0 -3.6 0" fill="#868668" fill-opacity="0.6"/>
<path d="M153.7 60.9a1.3 1.3 0 1 0 2.6 0a1.3 1.3 0 1 0 -2.6 0M181.4 38.2a1.7 1.7 0 1 0 3.4 0a1.7 1.7 0 1 0 -3.4 0M198.0 24.8a1.5 1.5 0 1 0 3.1 0a1.5 1.5 0 1 0 -3.1 0M189.6 31.9a1.4 1.4 0 1 0 2.8 0a1.4 1.4 0 1 0 -2.8 0M74.9 126.7a1.6 1.6 0 1 0 3.2 0a1.6 1.6 0 1 0 -3.2 0" fill="#7e8068" fill-opacity="0.6"/>
<path d="M177.1 44.1a1.5 1.5 0 1 0 3.0 0a1.5 1.5 0 1 0 -3.0 0M82.9 117.1a1.1 1.1 0 1 0 2.1 0a1.1 1.1 0 1 0 -2.1 0M138.5 73.3a1.5 1.5 0 1 0 3.0 0a1.5 1.5 0 1 0 -3.0 0M126.3 86.4a1.6 1.6 0 1 0 3.2 0a1.6 1.6 0 1 0 -3.2 0M64.5 134.8a1.6 1.6 0 1 0 3.3 0a1.6 1.6 0 1 0 -3.3 0M87.5 111.9a1.5 1.5 0 1 0 3.1 0a1.5 1.5 0 1 0 -3.1 0M60.8 135.9a1.4 1.4 0 1 0 2.7 0a1.4 1.4 0 1 0 -2.7 0M71.0 128.6a1.4 1.4 0 1 0 2.8 0a1.4 1.4 0 1 0 -2.8 0M130.6 76.0a1.0 1.0 0 1 0 2.1 0a1.0 1.0 0 1 0 -2.1 0M64.7 131.9a1.2 1.2 0 1 0 2.4 0a1.2 1.2 0 1 0 -2.4 0M195.5 29.4a1.3 1.3 0 1 0 2.7 0a1.3 1.3 0 1 0 -2.7 0" fill="#767a64" fill-opacity="0.6"/>
<path d="M162.1 54.3a1.1 1.1 0 1 0 2.2 0a1.1 1.1 0 1 0 -2.2 0M63.5 127.5a1.9 1.9 0 1 0 3.9 0a1.9 1.9 0 1 0 -3.9 0M95.7 106.1a1.6 1.6 0 1 0 3.1 0a1.6 1.6 0 1 0 -3.1 0" fill="#767a64" fill-opacity="0.8"/>
<path d="M104.4 98.0a1.5 1.5 0 1 0 3.0 0a1.5 1.5 0 1 0 -3.0 0M153.1 61.7a1.2 1.2 0 1 0 2.4 0a1.2 1.2 0 1 0 -2.4 0M114.7 89.2a1.6 1.6 0 1 0 3.2 0a1.6 1.6 0 1 0 -3.2 0" fill="#868668" fill-opacity="0.8"/>
<path d="M104.5 102.4a1.8 1.8 0 1 0 3.7 0a1.8 1.8 0 1 0 -3.7 0" fill="#7e8068" fill-opacity="0.8"/></g>
<path d="M118 93L128 85M134 80L146 70M152 65L160 58M168 51L178 43M186 36L194 29" stroke="#cfc2b8" stroke-width="1.1" fill="none" stroke-linecap="round" filter="url(#bl1)" opacity=".45"/>
<path d="M42 138Q60 128 74 126T90 117" stroke="#5f7a6c" stroke-width="3.6" fill="none" stroke-linecap="round" filter="url(#bl1)"/>
<path d="M44 137Q58 129 70 126.5" stroke="#3b6060" stroke-width="2.2" fill="none" stroke-linecap="round" filter="url(#bl1)"/>
<ellipse cx="8" cy="127" rx="21" ry="17" fill="#c2b091" filter="url(#bl3)" opacity=".9"/>
<circle cx="5" cy="131" r="10.5" fill="#10183a" filter="url(#bl1)"/>
<path d="M4.1 130.0a0.7 0.7 0 1 0 1.3 0a0.7 0.7 0 1 0 -1.3 0M7.8 131.9a0.8 0.8 0 1 0 1.7 0a0.8 0.8 0 1 0 -1.7 0" fill="#c9d4e8" fill-opacity="0.8"/>
<g filter="url(#bl1)"><path d="M193.7 78.2a0.9 0.9 0 1 0 1.9 0a0.9 0.9 0 1 0 -1.9 0M169.2 58.0a0.7 0.7 0 1 0 1.3 0a0.7 0.7 0 1 0 -1.3 0M233.1 54.0a0.7 0.7 0 1 0 1.5 0a0.7 0.7 0 1 0 -1.5 0M131.5 122.9a0.7 0.7 0 1 0 1.4 0a0.7 0.7 0 1 0 -1.4 0M134.5 126.5a0.6 0.6 0 1 0 1.2 0a0.6 0.6 0 1 0 -1.2 0M70.1 137.5a1.2 1.2 0 1 0 2.4 0a1.2 1.2 0 1 0 -2.4 0M191.4 90.1a0.6 0.6 0 1 0 1.2 0a0.6 0.6 0 1 0 -1.2 0M116.9 120.9a0.7 0.7 0 1 0 1.4 0a0.7 0.7 0 1 0 -1.4 0M104.7 130.0a0.7 0.7 0 1 0 1.4 0a0.7 0.7 0 1 0 -1.4 0M177.6 109.5a1.2 1.2 0 1 0 2.4 0a1.2 1.2 0 1 0 -2.4 0M189.5 68.2a0.8 0.8 0 1 0 1.6 0a0.8 0.8 0 1 0 -1.6 0M188.9 43.6a1.2 1.2 0 1 0 2.4 0a1.2 1.2 0 1 0 -2.4 0M147.8 91.3a1.1 1.1 0 1 0 2.1 0a1.1 1.1 0 1 0 -2.1 0M157.0 117.9a0.6 0.6 0 1 0 1.3 0a0.6 0.6 0 1 0 -1.3 0M226.2 76.9a0.7 0.7 0 1 0 1.4 0a0.7 0.7 0 1 0 -1.4 0" fill="#d4ccd2" fill-opacity="0.8"/>
<path d="M138.7 109.8a1.2 1.2 0 1 0 2.4 0a1.2 1.2 0 1 0 -2.4 0M135.0 104.2a1.2 1.2 0 1 0 2.4 0a1.2 1.2 0 1 0 -2.4 0M82.5 138.6a0.7 0.7 0 1 0 1.4 0a0.7 0.7 0 1 0 -1.4 0M177.8 87.7a1.2 1.2 0 1 0 2.4 0a1.2 1.2 0 1 0 -2.4 0M114.7 119.3a1.2 1.2 0 1 0 2.4 0a1.2 1.2 0 1 0 -2.4 0M182.5 87.0a1.2 1.2 0 1 0 2.4 0a1.2 1.2 0 1 0 -2.4 0M149.7 117.4a0.7 0.7 0 1 0 1.4 0a0.7 0.7 0 1 0 -1.4 0M179.7 117.8a0.9 0.9 0 1 0 1.9 0a0.9 0.9 0 1 0 -1.9 0M157.1 131.4a0.6 0.6 0 1 0 1.3 0a0.6 0.6 0 1 0 -1.3 0M156.3 82.7a0.8 0.8 0 1 0 1.5 0a0.8 0.8 0 1 0 -1.5 0M195.6 69.1a1.2 1.2 0 1 0 2.4 0a1.2 1.2 0 1 0 -2.4 0M188.7 96.6a1.1 1.1 0 1 0 2.3 0a1.1 1.1 0 1 0 -2.3 0M104.9 110.4a1.0 1.0 0 1 0 2.1 0a1.0 1.0 0 1 0 -2.1 0M221.0 56.1a1.2 1.2 0 1 0 2.4 0a1.2 1.2 0 1 0 -2.4 0M221.4 62.2a0.8 0.8 0 1 0 1.6 0a0.8 0.8 0 1 0 -1.6 0M151.4 91.5a1.1 1.1 0 1 0 2.2 0a1.1 1.1 0 1 0 -2.2 0M150.3 116.1a1.1 1.1 0 1 0 2.2 0a1.1 1.1 0 1 0 -2.2 0" fill="#8a99ad" fill-opacity="0.8"/>
<path d="M155.7 96.2a1.2 1.2 0 1 0 2.4 0a1.2 1.2 0 1 0 -2.4 0M226.9 62.1a0.8 0.8 0 1 0 1.6 0a0.8 0.8 0 1 0 -1.6 0M125.8 117.3a1.1 1.1 0 1 0 2.1 0a1.1 1.1 0 1 0 -2.1 0M172.4 79.1a1.1 1.1 0 1 0 2.3 0a1.1 1.1 0 1 0 -2.3 0M191.8 82.4a0.6 0.6 0 1 0 1.1 0a0.6 0.6 0 1 0 -1.1 0M214.0 34.3a1.2 1.2 0 1 0 2.3 0a1.2 1.2 0 1 0 -2.3 0M150.4 130.7a1.1 1.1 0 1 0 2.3 0a1.1 1.1 0 1 0 -2.3 0M170.1 93.2a0.8 0.8 0 1 0 1.6 0a0.8 0.8 0 1 0 -1.6 0M213.8 66.0a1.0 1.0 0 1 0 2.0 0a1.0 1.0 0 1 0 -2.0 0M171.6 70.8a1.2 1.2 0 1 0 2.5 0a1.2 1.2 0 1 0 -2.5 0M187.6 62.8a1.0 1.0 0 1 0 1.9 0a1.0 1.0 0 1 0 -1.9 0M124.2 98.0a1.2 1.2 0 1 0 2.5 0a1.2 1.2 0 1 0 -2.5 0M212.7 80.1a0.6 0.6 0 1 0 1.2 0a0.6 0.6 0 1 0 -1.2 0M204.9 53.3a0.8 0.8 0 1 0 1.5 0a0.8 0.8 0 1 0 -1.5 0M152.6 109.1a1.2 1.2 0 1 0 2.4 0a1.2 1.2 0 1 0 -2.4 0M125.4 132.6a1.1 1.1 0 1 0 2.2 0a1.1 1.1 0 1 0 -2.2 0M149.4 96.1a0.8 0.8 0 1 0 1.5 0a0.8 0.8 0 1 0 -1.5 0M175.6 67.2a1.2 1.2 0 1 0 2.3 0a1.2 1.2 0 1 0 -2.3 0" fill="#d4ccd2" fill-opacity="0.6"/>
<path d="M213.8 40.7a0.6 0.6 0 1 0 1.1 0a0.6 0.6 0 1 0 -1.1 0M164.2 102.2a0.8 0.8 0 1 0 1.7 0a0.8 0.8 0 1 0 -1.7 0M228.2 48.9a0.8 0.8 0 1 0 1.6 0a0.8 0.8 0 1 0 -1.6 0M193.7 66.8a0.7 0.7 0 1 0 1.5 0a0.7 0.7 0 1 0 -1.5 0M166.7 92.7a0.7 0.7 0 1 0 1.3 0a0.7 0.7 0 1 0 -1.3 0M199.5 42.2a1.1 1.1 0 1 0 2.1 0a1.1 1.1 0 1 0 -2.1 0M166.0 127.0a0.9 0.9 0 1 0 1.9 0a0.9 0.9 0 1 0 -1.9 0M157.7 101.4a1.0 1.0 0 1 0 1.9 0a1.0 1.0 0 1 0 -1.9 0M111.8 135.5a0.9 0.9 0 1 0 1.8 0a0.9 0.9 0 1 0 -1.8 0M136.8 115.4a1.2 1.2 0 1 0 2.4 0a1.2 1.2 0 1 0 -2.4 0M108.1 120.6a0.6 0.6 0 1 0 1.3 0a0.6 0.6 0 1 0 -1.3 0M232.5 16.5a0.9 0.9 0 1 0 1.8 0a0.9 0.9 0 1 0 -1.8 0M219.5 60.6a0.7 0.7 0 1 0 1.4 0a0.7 0.7 0 1 0 -1.4 0M170.6 108.6a1.2 1.2 0 1 0 2.4 0a1.2 1.2 0 1 0 -2.4 0M151.2 133.4a0.7 0.7 0 1 0 1.3 0a0.7 0.7 0 1 0 -1.3 0M203.6 56.4a0.7 0.7 0 1 0 1.4 0a0.7 0.7 0 1 0 -1.4 0M185.7 69.0a0.6 0.6 0 1 0 1.1 0a0.6 0.6 0 1 0 -1.1 0M83.7 132.7a1.2 1.2 0 1 0 2.3 0a1.2 1.2 0 1 0 -2.3 0" fill="#e4dde0" fill-opacity="0.6"/>
<path d="M200.4 94.2a0.9 0.9 0 1 0 1.8 0a0.9 0.9 0 1 0 -1.8 0M86.9 139.6a0.9 0.9 0 1 0 1.9 0a0.9 0.9 0 1 0 -1.9 0M198.7 65.5a0.7 0.7 0 1 0 1.5 0a0.7 0.7 0 1 0 -1.5 0M215.9 73.6a0.6 0.6 0 1 0 1.1 0a0.6 0.6 0 1 0 -1.1 0M171.2 60.7a1.2 1.2 0 1 0 2.5 0a1.2 1.2 0 1 0 -2.5 0M80.7 133.8a1.1 1.1 0 1 0 2.2 0a1.1 1.1 0 1 0 -2.2 0M205.8 44.3a0.9 0.9 0 1 0 1.8 0a0.9 0.9 0 1 0 -1.8 0M225.3 48.6a1.1 1.1 0 1 0 2.1 0a1.1 1.1 0 1 0 -2.1 0M125.9 116.2a0.9 0.9 0 1 0 1.7 0a0.9 0.9 0 1 0 -1.7 0M215.6 79.1a1.2 1.2 0 1 0 2.3 0a1.2 1.2 0 1 0 -2.3 0M172.9 97.5a0.8 0.8 0 1 0 1.6 0a0.8 0.8 0 1 0 -1.6 0M198.0 61.5a0.6 0.6 0 1 0 1.2 0a0.6 0.6 0 1 0 -1.2 0M152.7 76.7a1.1 1.1 0 1 0 2.1 0a1.1 1.1 0 1 0 -2.1 0M225.0 39.7a1.2 1.2 0 1 0 2.3 0a1.2 1.2 0 1 0 -2.3 0" fill="#4a5a80" fill-opacity="0.8"/>
<path d="M115.9 122.5a0.8 0.8 0 1 0 1.5 0a0.8 0.8 0 1 0 -1.5 0M134.7 103.0a0.9 0.9 0 1 0 1.8 0a0.9 0.9 0 1 0 -1.8 0M195.4 78.0a0.6 0.6 0 1 0 1.2 0a0.6 0.6 0 1 0 -1.2 0M164.1 64.5a1.0 1.0 0 1 0 1.9 0a1.0 1.0 0 1 0 -1.9 0M171.0 116.5a0.9 0.9 0 1 0 1.8 0a0.9 0.9 0 1 0 -1.8 0M73.2 137.3a0.7 0.7 0 1 0 1.4 0a0.7 0.7 0 1 0 -1.4 0M202.2 47.4a1.2 1.2 0 1 0 2.3 0a1.2 1.2 0 1 0 -2.3 0M176.9 75.1a1.1 1.1 0 1 0 2.1 0a1.1 1.1 0 1 0 -2.1 0M167.8 128.0a1.2 1.2 0 1 0 2.5 0a1.2 1.2 0 1 0 -2.5 0M198.3 37.3a0.7 0.7 0 1 0 1.5 0a0.7 0.7 0 1 0 -1.5 0M211.1 34.4a0.7 0.7 0 1 0 1.5 0a0.7 0.7 0 1 0 -1.5 0M184.2 81.2a0.9 0.9 0 1 0 1.7 0a0.9 0.9 0 1 0 -1.7 0M182.5 93.3a0.9 0.9 0 1 0 1.7 0a0.9 0.9 0 1 0 -1.7 0M166.4 81.3a1.2 1.2 0 1 0 2.5 0a1.2 1.2 0 1 0 -2.5 0M187.7 60.2a0.6 0.6 0 1 0 1.1 0a0.6 0.6 0 1 0 -1.1 0M147.7 128.4a0.9 0.9 0 1 0 1.8 0a0.9 0.9 0 1 0 -1.8 0M163.0 113.7a1.1 1.1 0 1 0 2.1 0a1.1 1.1 0 1 0 -2.1 0" fill="#7f8ea3" fill-opacity="0.8"/>
<path d="M193.1 96.3a1.1 1.1 0 1 0 2.1 0a1.1 1.1 0 1 0 -2.1 0M144.9 112.6a0.7 0.7 0 1 0 1.4 0a0.7 0.7 0 1 0 -1.4 0M173.0 109.1a0.8 0.8 0 1 0 1.5 0a0.8 0.8 0 1 0 -1.5 0M152.1 134.2a0.7 0.7 0 1 0 1.5 0a0.7 0.7 0 1 0 -1.5 0M163.9 76.7a0.6 0.6 0 1 0 1.1 0a0.6 0.6 0 1 0 -1.1 0M205.3 29.4a0.9 0.9 0 1 0 1.8 0a0.9 0.9 0 1 0 -1.8 0M209.9 72.2a1.0 1.0 0 1 0 2.1 0a1.0 1.0 0 1 0 -2.1 0M163.7 66.9a0.7 0.7 0 1 0 1.4 0a0.7 0.7 0 1 0 -1.4 0" fill="#6a7c98" fill-opacity="0.6"/>
<path d="M151.6 73.5a1.2 1.2 0 1 0 2.5 0a1.2 1.2 0 1 0 -2.5 0M138.1 137.1a0.6 0.6 0 1 0 1.3 0a0.6 0.6 0 1 0 -1.3 0M233.5 38.9a1.2 1.2 0 1 0 2.5 0a1.2 1.2 0 1 0 -2.5 0M102.9 132.3a1.0 1.0 0 1 0 2.0 0a1.0 1.0 0 1 0 -2.0 0M200.4 35.4a1.0 1.0 0 1 0 2.1 0a1.0 1.0 0 1 0 -2.1 0M117.7 98.9a0.9 0.9 0 1 0 1.8 0a0.9 0.9 0 1 0 -1.8 0M157.3 72.0a1.1 1.1 0 1 0 2.3 0a1.1 1.1 0 1 0 -2.3 0M227.2 26.3a0.9 0.9 0 1 0 1.8 0a0.9 0.9 0 1 0 -1.8 0M116.5 101.4a0.6 0.6 0 1 0 1.3 0a0.6 0.6 0 1 0 -1.3 0M89.5 127.5a0.6 0.6 0 1 0 1.3 0a0.6 0.6 0 1 0 -1.3 0M152.9 105.9a0.8 0.8 0 1 0 1.6 0a0.8 0.8 0 1 0 -1.6 0M114.6 135.5a0.7 0.7 0 1 0 1.4 0a0.7 0.7 0 1 0 -1.4 0M143.0 125.0a0.7 0.7 0 1 0 1.4 0a0.7 0.7 0 1 0 -1.4 0M226.5 32.2a1.2 1.2 0 1 0 2.5 0a1.2 1.2 0 1 0 -2.5 0M157.1 70.5a0.7 0.7 0 1 0 1.4 0a0.7 0.7 0 1 0 -1.4 0M216.5 59.3a1.0 1.0 0 1 0 2.0 0a1.0 1.0 0 1 0 -2.0 0M233.0 59.3a0.7 0.7 0 1 0 1.4 0a0.7 0.7 0 1 0 -1.4 0" fill="#6a7c98" fill-opacity="0.8"/>
<path d="M227.6 30.3a0.7 0.7 0 1 0 1.5 0a0.7 0.7 0 1 0 -1.5 0M148.2 104.6a1.0 1.0 0 1 0 2.0 0a1.0 1.0 0 1 0 -2.0 0M161.2 114.2a0.7 0.7 0 1 0 1.4 0a0.7 0.7 0 1 0 -1.4 0M235.8 74.3a1.1 1.1 0 1 0 2.1 0a1.1 1.1 0 1 0 -2.1 0M104.9 114.8a0.6 0.6 0 1 0 1.1 0a0.6 0.6 0 1 0 -1.1 0M218.6 38.7a0.6 0.6 0 1 0 1.2 0a0.6 0.6 0 1 0 -1.2 0M153.7 77.2a1.0 1.0 0 1 0 2.0 0a1.0 1.0 0 1 0 -2.0 0M172.7 69.0a1.2 1.2 0 1 0 2.3 0a1.2 1.2 0 1 0 -2.3 0M149.7 138.7a1.0 1.0 0 1 0 2.0 0a1.0 1.0 0 1 0 -2.0 0M140.2 92.7a1.2 1.2 0 1 0 2.3 0a1.2 1.2 0 1 0 -2.3 0M195.9 46.9a0.6 0.6 0 1 0 1.3 0a0.6 0.6 0 1 0 -1.3 0M186.6 70.7a1.2 1.2 0 1 0 2.5 0a1.2 1.2 0 1 0 -2.5 0M128.4 97.4a0.9 0.9 0 1 0 1.8 0a0.9 0.9 0 1 0 -1.8 0M225.4 74.3a0.8 0.8 0 1 0 1.6 0a0.8 0.8 0 1 0 -1.6 0M133.1 109.1a0.6 0.6 0 1 0 1.2 0a0.6 0.6 0 1 0 -1.2 0" fill="#56688c" fill-opacity="0.8"/>
<path d="M165.4 105.2a1.1 1.1 0 1 0 2.1 0a1.1 1.1 0 1 0 -2.1 0M136.7 93.1a0.8 0.8 0 1 0 1.6 0a0.8 0.8 0 1 0 -1.6 0M151.3 129.2a1.1 1.1 0 1 0 2.1 0a1.1 1.1 0 1 0 -2.1 0M223.0 25.0a1.1 1.1 0 1 0 2.2 0a1.1 1.1 0 1 0 -2.2 0" fill="#d4ccd2" fill-opacity="0.4"/>
<path d="M92.0 124.7a1.1 1.1 0 1 0 2.1 0a1.1 1.1 0 1 0 -2.1 0M219.6 23.1a0.9 0.9 0 1 0 1.9 0a0.9 0.9 0 1 0 -1.9 0M234.6 15.1a1.2 1.2 0 1 0 2.4 0a1.2 1.2 0 1 0 -2.4 0M178.0 112.5a0.7 0.7 0 1 0 1.3 0a0.7 0.7 0 1 0 -1.3 0M209.0 26.5a0.9 0.9 0 1 0 1.7 0a0.9 0.9 0 1 0 -1.7 0M129.2 106.0a1.2 1.2 0 1 0 2.3 0a1.2 1.2 0 1 0 -2.3 0" fill="#8a99ad" fill-opacity="0.4"/>
<path d="M190.8 48.1a1.0 1.0 0 1 0 2.0 0a1.0 1.0 0 1 0 -2.0 0M192.6 87.6a0.7 0.7 0 1 0 1.4 0a0.7 0.7 0 1 0 -1.4 0M99.6 137.1a0.8 0.8 0 1 0 1.5 0a0.8 0.8 0 1 0 -1.5 0M234.9 32.7a0.9 0.9 0 1 0 1.7 0a0.9 0.9 0 1 0 -1.7 0M107.5 137.7a1.2 1.2 0 1 0 2.4 0a1.2 1.2 0 1 0 -2.4 0M94.1 118.4a1.0 1.0 0 1 0 2.1 0a1.0 1.0 0 1 0 -2.1 0M166.0 109.7a1.2 1.2 0 1 0 2.5 0a1.2 1.2 0 1 0 -2.5 0M147.7 90.4a0.7 0.7 0 1 0 1.4 0a0.7 0.7 0 1 0 -1.4 0M209.9 68.5a1.2 1.2 0 1 0 2.3 0a1.2 1.2 0 1 0 -2.3 0M193.1 40.1a0.7 0.7 0 1 0 1.4 0a0.7 0.7 0 1 0 -1.4 0M231.0 54.9a0.6 0.6 0 1 0 1.2 0a0.6 0.6 0 1 0 -1.2 0M202.1 64.8a0.7 0.7 0 1 0 1.4 0a0.7 0.7 0 1 0 -1.4 0M210.0 87.9a0.6 0.6 0 1 0 1.2 0a0.6 0.6 0 1 0 -1.2 0" fill="#4a5a80" fill-opacity="0.6"/>
<path d="M123.7 106.6a0.9 0.9 0 1 0 1.8 0a0.9 0.9 0 1 0 -1.8 0M123.0 115.2a1.2 1.2 0 1 0 2.4 0a1.2 1.2 0 1 0 -2.4 0M176.1 105.6a0.6 0.6 0 1 0 1.1 0a0.6 0.6 0 1 0 -1.1 0M206.1 32.9a0.9 0.9 0 1 0 1.8 0a0.9 0.9 0 1 0 -1.8 0M151.8 104.0a1.0 1.0 0 1 0 2.0 0a1.0 1.0 0 1 0 -2.0 0M135.0 103.8a0.7 0.7 0 1 0 1.4 0a0.7 0.7 0 1 0 -1.4 0M145.8 139.6a1.0 1.0 0 1 0 2.0 0a1.0 1.0 0 1 0 -2.0 0M235.0 42.4a0.6 0.6 0 1 0 1.2 0a0.6 0.6 0 1 0 -1.2 0M155.9 124.8a0.9 0.9 0 1 0 1.8 0a0.9 0.9 0 1 0 -1.8 0M212.4 30.4a1.1 1.1 0 1 0 2.1 0a1.1 1.1 0 1 0 -2.1 0M177.2 107.9a0.6 0.6 0 1 0 1.3 0a0.6 0.6 0 1 0 -1.3 0M217.3 65.2a0.6 0.6 0 1 0 1.2 0a0.6 0.6 0 1 0 -1.2 0" fill="#8a99ad" fill-opacity="0.6"/>
<path d="M148.1 96.3a1.0 1.0 0 1 0 1.9 0a1.0 1.0 0 1 0 -1.9 0M173.2 117.5a1.2 1.2 0 1 0 2.4 0a1.2 1.2 0 1 0 -2.4 0M178.9 95.2a0.7 0.7 0 1 0 1.3 0a0.7 0.7 0 1 0 -1.3 0M114.9 103.0a1.0 1.0 0 1 0 2.0 0a1.0 1.0 0 1 0 -2.0 0M171.6 97.4a1.1 1.1 0 1 0 2.2 0a1.1 1.1 0 1 0 -2.2 0M195.5 43.9a1.1 1.1 0 1 0 2.2 0a1.1 1.1 0 1 0 -2.2 0M168.4 75.0a1.1 1.1 0 1 0 2.1 0a1.1 1.1 0 1 0 -2.1 0M169.8 106.9a1.0 1.0 0 1 0 2.1 0a1.0 1.0 0 1 0 -2.1 0M234.3 34.5a1.1 1.1 0 1 0 2.2 0a1.1 1.1 0 1 0 -2.2 0M222.6 76.9a0.9 0.9 0 1 0 1.7 0a0.9 0.9 0 1 0 -1.7 0M145.9 114.7a0.6 0.6 0 1 0 1.1 0a0.6 0.6 0 1 0 -1.1 0M159.8 112.9a1.0 1.0 0 1 0 2.0 0a1.0 1.0 0 1 0 -2.0 0M110.0 111.5a1.1 1.1 0 1 0 2.1 0a1.1 1.1 0 1 0 -2.1 0M93.5 125.7a0.6 0.6 0 1 0 1.2 0a0.6 0.6 0 1 0 -1.2 0M177.5 119.4a0.7 0.7 0 1 0 1.5 0a0.7 0.7 0 1 0 -1.5 0M208.3 57.0a1.0 1.0 0 1 0 2.1 0a1.0 1.0 0 1 0 -2.1 0" fill="#56688c" fill-opacity="0.6"/>
<path d="M226.5 23.4a0.6 0.6 0 1 0 1.1 0a0.6 0.6 0 1 0 -1.1 0M176.9 108.9a0.9 0.9 0 1 0 1.8 0a0.9 0.9 0 1 0 -1.8 0M153.0 85.4a0.7 0.7 0 1 0 1.4 0a0.7 0.7 0 1 0 -1.4 0M122.2 97.8a0.8 0.8 0 1 0 1.6 0a0.8 0.8 0 1 0 -1.6 0M231.3 39.0a1.1 1.1 0 1 0 2.2 0a1.1 1.1 0 1 0 -2.2 0M227.5 77.2a0.9 0.9 0 1 0 1.8 0a0.9 0.9 0 1 0 -1.8 0M200.7 84.8a0.9 0.9 0 1 0 1.8 0a0.9 0.9 0 1 0 -1.8 0M113.6 123.8a1.1 1.1 0 1 0 2.2 0a1.1 1.1 0 1 0 -2.2 0" fill="#7f8ea3" fill-opacity="0.6"/>
<path d="M191.5 59.0a1.2 1.2 0 1 0 2.3 0a1.2 1.2 0 1 0 -2.3 0M165.6 95.8a0.8 0.8 0 1 0 1.7 0a0.8 0.8 0 1 0 -1.7 0M217.0 73.1a1.0 1.0 0 1 0 2.0 0a1.0 1.0 0 1 0 -2.0 0" fill="#e4dde0" fill-opacity="0.4"/>
<path d="M134.0 90.3a1.0 1.0 0 1 0 1.9 0a1.0 1.0 0 1 0 -1.9 0M186.5 89.1a0.9 0.9 0 1 0 1.7 0a0.9 0.9 0 1 0 -1.7 0M235.9 19.5a0.8 0.8 0 1 0 1.5 0a0.8 0.8 0 1 0 -1.5 0M181.9 72.1a0.9 0.9 0 1 0 1.8 0a0.9 0.9 0 1 0 -1.8 0M161.2 82.3a0.7 0.7 0 1 0 1.3 0a0.7 0.7 0 1 0 -1.3 0M151.7 87.9a0.8 0.8 0 1 0 1.6 0a0.8 0.8 0 1 0 -1.6 0M178.4 114.3a0.8 0.8 0 1 0 1.5 0a0.8 0.8 0 1 0 -1.5 0M197.6 80.4a0.9 0.9 0 1 0 1.8 0a0.9 0.9 0 1 0 -1.8 0M93.9 125.0a1.2 1.2 0 1 0 2.4 0a1.2 1.2 0 1 0 -2.4 0M175.9 93.9a0.8 0.8 0 1 0 1.5 0a0.8 0.8 0 1 0 -1.5 0M215.7 55.8a0.8 0.8 0 1 0 1.7 0a0.8 0.8 0 1 0 -1.7 0M161.3 121.9a1.1 1.1 0 1 0 2.3 0a1.1 1.1 0 1 0 -2.3 0M193.5 82.4a1.0 1.0 0 1 0 2.0 0a1.0 1.0 0 1 0 -2.0 0" fill="#e4dde0" fill-opacity="0.8"/>
<path d="M113.1 123.4a1.1 1.1 0 1 0 2.2 0a1.1 1.1 0 1 0 -2.2 0M161.1 68.9a0.6 0.6 0 1 0 1.2 0a0.6 0.6 0 1 0 -1.2 0M98.2 132.8a0.7 0.7 0 1 0 1.3 0a0.7 0.7 0 1 0 -1.3 0M116.1 110.3a1.0 1.0 0 1 0 1.9 0a1.0 1.0 0 1 0 -1.9 0M163.5 116.3a1.2 1.2 0 1 0 2.4 0a1.2 1.2 0 1 0 -2.4 0M186.4 77.9a1.1 1.1 0 1 0 2.2 0a1.1 1.1 0 1 0 -2.2 0M218.0 47.0a0.6 0.6 0 1 0 1.2 0a0.6 0.6 0 1 0 -1.2 0" fill="#56688c" fill-opacity="0.4"/>
<path d="M110.4 130.5a0.7 0.7 0 1 0 1.4 0a0.7 0.7 0 1 0 -1.4 0M228.9 77.0a1.2 1.2 0 1 0 2.4 0a1.2 1.2 0 1 0 -2.4 0M143.2 84.7a1.1 1.1 0 1 0 2.1 0a1.1 1.1 0 1 0 -2.1 0M76.0 135.7a0.7 0.7 0 1 0 1.3 0a0.7 0.7 0 1 0 -1.3 0" fill="#4a5a80" fill-opacity="0.4"/>
<path d="M184.5 110.2a1.0 1.0 0 1 0 1.9 0a1.0 1.0 0 1 0 -1.9 0M152.1 97.2a1.1 1.1 0 1 0 2.3 0a1.1 1.1 0 1 0 -2.3 0M152.4 91.3a1.2 1.2 0 1 0 2.5 0a1.2 1.2 0 1 0 -2.5 0M155.6 125.9a0.7 0.7 0 1 0 1.4 0a0.7 0.7 0 1 0 -1.4 0" fill="#7f8ea3" fill-opacity="0.4"/>
<path d="M139.2 119.3a1.0 1.0 0 1 0 2.1 0a1.0 1.0 0 1 0 -2.1 0" fill="#6a7c98" fill-opacity="0.4"/></g>
<g filter="url(#bl1)"><path d="M226.8 96.0Q226.9 85.8 227.3 75.6M98.1 156.4Q98.1 144.5 101.1 133.0M185.2 92.0Q188.3 77.2 190.0 62.1M233.8 103.2Q235.1 93.1 235.2 82.9M128.6 158.9Q132.8 137.7 136.0 116.3M175.0 88.1Q176.3 71.2 179.9 54.6M176.0 128.5Q180.4 113.1 182.0 97.2M153.6 147.6Q155.5 134.9 154.8 122.0M195.9 111.1Q198.9 97.9 199.5 84.4M224.4 153.6Q226.2 135.8 226.7 117.9M211.6 136.3Q212.0 126.9 213.3 117.5M233.4 77.1Q233.3 56.5 235.0 35.9M231.6 120.4Q235.4 107.3 237.0 93.8M149.4 123.9Q150.7 105.7 150.5 87.5" stroke="#a5939a" stroke-width="1.5" stroke-opacity="0.4" fill="none" stroke-linecap="round"/>
<path d="M140.8 141.4Q142.4 120.8 142.7 100.1M181.2 114.5Q183.3 97.9 187.9 81.8M155.5 108.8Q156.9 86.3 160.0 63.9M166.5 119.6Q166.4 105.1 168.4 90.7M220.4 72.4Q220.9 58.7 221.3 45.0M175.0 135.0Q176.5 114.0 180.5 93.4" stroke="#857c84" stroke-width="1.5" stroke-opacity="0.2" fill="none" stroke-linecap="round"/>
<path d="M143.7 133.6Q147.0 123.2 147.4 112.4M224.7 49.6Q227.3 39.4 228.7 28.9M197.4 122.5Q198.2 109.2 200.3 96.1M221.6 67.7Q221.6 57.9 224.5 48.6M209.4 82.2Q212.6 69.1 214.8 55.8M220.0 62.9Q219.1 48.8 220.4 34.7M200.0 124.2Q199.1 102.9 200.1 81.5M166.6 141.8Q168.8 123.0 169.1 104.0M207.0 160.2Q211.3 143.5 213.3 126.3M198.1 97.1Q199.1 80.7 198.2 64.2M199.1 90.3Q202.0 74.1 202.6 57.7M234.3 72.6Q235.5 60.2 237.2 47.9" stroke="#a5939a" stroke-width="1.5" stroke-opacity="0.2" fill="none" stroke-linecap="round"/>
<path d="M240.2 152.9Q243.3 142.6 243.7 131.9M216.6 96.4Q216.8 84.6 217.4 72.8M231.7 158.2Q233.8 140.7 233.3 123.1M178.5 102.0Q178.7 83.7 179.8 65.4M175.5 106.0Q179.2 89.8 182.2 73.6M214.7 68.3Q216.5 51.0 217.9 33.7M177.8 104.1Q178.6 81.6 181.5 59.2M233.6 94.4Q236.9 76.5 239.5 58.4M176.5 131.6Q177.9 122.4 178.3 113.1M165.3 95.3Q166.9 82.6 165.8 69.9M149.9 106.5Q150.3 96.2 152.9 86.3" stroke="#857c84" stroke-width="1.5" stroke-opacity="0.4" fill="none" stroke-linecap="round"/>
<path d="M221.8 124.6Q224.4 107.2 229.1 90.3M149.3 136.4Q149.0 119.8 151.6 103.3M208.1 70.8Q208.9 55.0 209.2 39.1M197.3 127.5Q197.8 111.6 200.0 95.9M197.1 135.8Q199.2 123.6 201.0 111.4" stroke="#857c84" stroke-width="1.0" stroke-opacity="0.4" fill="none" stroke-linecap="round"/>
<path d="M116.8 144.4Q116.0 126.0 117.5 107.7M200.3 136.5Q202.7 126.4 202.1 116.0M199.1 116.3Q200.2 104.7 203.1 93.3M148.9 135.4Q151.3 118.9 152.8 102.3M125.0 158.5Q126.4 144.8 127.2 131.0M214.7 143.7Q215.3 128.9 215.8 114.0M205.1 125.5Q204.7 109.7 207.2 94.0M200.9 156.9Q201.7 141.5 204.7 126.3M187.5 148.4Q189.1 134.2 191.7 120.2M204.6 103.6Q205.8 92.5 205.8 81.2M213.7 93.8Q218.8 71.4 221.9 48.6" stroke="#a5939a" stroke-width="1.0" stroke-opacity="0.2" fill="none" stroke-linecap="round"/>
<path d="M168.7 111.1Q172.6 91.6 173.9 71.8M191.3 124.7Q192.0 114.8 191.8 104.8M151.2 146.3Q152.5 135.9 153.9 125.5" stroke="#857c84" stroke-width="1.0" stroke-opacity="0.2" fill="none" stroke-linecap="round"/>
<path d="M227.3 141.9Q227.8 127.8 229.1 113.7M180.7 116.8Q181.9 97.8 185.3 79.1M219.1 60.2Q218.9 42.6 220.3 25.2M212.7 87.7Q214.0 72.7 216.1 57.9M163.4 109.5Q163.3 89.6 165.0 69.8M177.8 139.1Q178.0 124.8 178.2 110.5M126.3 150.1Q128.3 128.2 128.5 106.3" stroke="#a5939a" stroke-width="1.0" stroke-opacity="0.4" fill="none" stroke-linecap="round"/>
<path d="M239.3 86.4Q241.0 74.4 242.2 62.4" stroke="#a5939a" stroke-width="2.0" stroke-opacity="0.2" fill="none" stroke-linecap="round"/></g>
<g filter="url(#bl1)"><path d="M41.6 81.3a0.8 0.8 0 1 0 1.5 0a0.8 0.8 0 1 0 -1.5 0M211.0 6.3a1.3 1.3 0 1 0 2.7 0a1.3 1.3 0 1 0 -2.7 0M76.1 96.0a0.8 0.8 0 1 0 1.6 0a0.8 0.8 0 1 0 -1.6 0M124.0 18.4a0.9 0.9 0 1 0 1.8 0a0.9 0.9 0 1 0 -1.8 0M10.2 131.3a0.8 0.8 0 1 0 1.6 0a0.8 0.8 0 1 0 -1.6 0M139.1 37.3a1.4 1.4 0 1 0 2.7 0a1.4 1.4 0 1 0 -2.7 0M13.2 111.9a0.7 0.7 0 1 0 1.5 0a0.7 0.7 0 1 0 -1.5 0M129.3 39.0a1.2 1.2 0 1 0 2.4 0a1.2 1.2 0 1 0 -2.4 0M3.1 135.8a1.0 1.0 0 1 0 2.0 0a1.0 1.0 0 1 0 -2.0 0M55.6 77.5a0.8 0.8 0 1 0 1.5 0a0.8 0.8 0 1 0 -1.5 0M76.6 60.9a1.2 1.2 0 1 0 2.4 0a1.2 1.2 0 1 0 -2.4 0" fill="#a9957c" fill-opacity="0.4"/>
<path d="M61.5 112.8a1.5 1.5 0 1 0 3.0 0a1.5 1.5 0 1 0 -3.0 0M85.9 69.6a1.4 1.4 0 1 0 2.8 0a1.4 1.4 0 1 0 -2.8 0M174.9 11.2a1.2 1.2 0 1 0 2.4 0a1.2 1.2 0 1 0 -2.4 0M46.7 115.7a1.3 1.3 0 1 0 2.6 0a1.3 1.3 0 1 0 -2.6 0M124.3 18.9a1.4 1.4 0 1 0 2.8 0a1.4 1.4 0 1 0 -2.8 0M107.9 82.1a1.1 1.1 0 1 0 2.2 0a1.1 1.1 0 1 0 -2.2 0M28.7 123.5a1.3 1.3 0 1 0 2.7 0a1.3 1.3 0 1 0 -2.7 0M55.1 101.4a1.3 1.3 0 1 0 2.5 0a1.3 1.3 0 1 0 -2.5 0M140.2 9.2a1.2 1.2 0 1 0 2.3 0a1.2 1.2 0 1 0 -2.3 0M130.8 57.1a1.5 1.5 0 1 0 3.0 0a1.5 1.5 0 1 0 -3.0 0M144.9 29.2a1.3 1.3 0 1 0 2.6 0a1.3 1.3 0 1 0 -2.6 0M65.8 73.2a1.1 1.1 0 1 0 2.1 0a1.1 1.1 0 1 0 -2.1 0M92.2 60.4a1.1 1.1 0 1 0 2.3 0a1.1 1.1 0 1 0 -2.3 0M24.7 113.1a1.1 1.1 0 1 0 2.1 0a1.1 1.1 0 1 0 -2.1 0M76.1 112.1a0.9 0.9 0 1 0 1.8 0a0.9 0.9 0 1 0 -1.8 0M98.2 76.6a0.8 0.8 0 1 0 1.6 0a0.8 0.8 0 1 0 -1.6 0M56.8 72.7a0.8 0.8 0 1 0 1.7 0a0.8 0.8 0 1 0 -1.7 0M48.9 105.7a0.9 0.9 0 1 0 1.7 0a0.9 0.9 0 1 0 -1.7 0M104.9 63.3a0.8 0.8 0 1 0 1.6 0a0.8 0.8 0 1 0 -1.6 0" fill="#a39382" fill-opacity="0.4"/>
<path d="M65.5 106.1a1.3 1.3 0 1 0 2.5 0a1.3 1.3 0 1 0 -2.5 0M63.8 111.4a0.9 0.9 0 1 0 1.9 0a0.9 0.9 0 1 0 -1.9 0M53.1 123.8a1.0 1.0 0 1 0 2.0 0a1.0 1.0 0 1 0 -2.0 0M118.2 35.9a1.4 1.4 0 1 0 2.8 0a1.4 1.4 0 1 0 -2.8 0M160.6 6.5a1.0 1.0 0 1 0 2.0 0a1.0 1.0 0 1 0 -2.0 0" fill="#a39382" fill-opacity="0.6"/>
<path d="M137.2 17.0a1.2 1.2 0 1 0 2.3 0a1.2 1.2 0 1 0 -2.3 0M156.5 39.2a1.2 1.2 0 1 0 2.3 0a1.2 1.2 0 1 0 -2.3 0M95.4 41.1a1.4 1.4 0 1 0 2.8 0a1.4 1.4 0 1 0 -2.8 0M191.4 17.8a0.9 0.9 0 1 0 1.9 0a0.9 0.9 0 1 0 -1.9 0M44.5 100.5a1.0 1.0 0 1 0 2.0 0a1.0 1.0 0 1 0 -2.0 0" fill="#a9957c" fill-opacity="0.6"/></g>
</svg>
<svg x="541.5" y="33" width="233.5" height="139.75" viewBox="0 0 233.5 139.75" overflow="hidden">
<linearGradient id="gc1" gradientUnits="userSpaceOnUse" x1="217.3" y1="150.1" x2="58.2" y2="-55.3"><stop offset="0.0000" stop-color="#858082"/><stop offset="0.2308" stop-color="#838081"/><stop offset="0.4000" stop-color="#81868a"/><stop offset="0.4154" stop-color="#8b8e8b"/><stop offset="0.4269" stop-color="#888b83"/><stop offset="0.4462" stop-color="#8c8f86"/><stop offset="0.4615" stop-color="#8f9a90"/><stop offset="0.5154" stop-color="#93a59b"/><stop offset="0.6923" stop-color="#94a79d"/><stop offset="1.0000" stop-color="#94a79d"/></linearGradient>
<rect width="233.5" height="139.75" fill="url(#gc1)"/>
<polygon points="-20.0,-20.0 112.0,-20.0 98.0,2.0 58.0,40.0 20.0,78.0 -20.0,106.0" fill="#8b9d96" filter="url(#bl6)"/>
<polygon points="-20.0,-20.0 98.0,-20.0 84.0,2.0 48.0,40.0 10.0,78.0 -20.0,98.0" fill="#80908d" filter="url(#bl6)"/>
<polygon points="-20.0,-20.0 80.0,-20.0 48.0,22.0 14.0,56.0 -20.0,72.0" fill="#7f8785" filter="url(#bl10)" opacity="0.95"/>
<rect width="233.5" height="139.75" filter="url(#mot)" opacity="0.07"/>
<g filter="url(#bl1)"><path d="M43.8 139.0a1.7 1.7 0 1 0 3.4 0a1.7 1.7 0 1 0 -3.4 0M151.4 58.7a2.1 2.1 0 1 0 4.1 0a2.1 2.1 0 1 0 -4.1 0M82.9 111.6a1.1 1.1 0 1 0 2.1 0a1.1 1.1 0 1 0 -2.1 0M165.8 38.6a1.9 1.9 0 1 0 3.7 0a1.9 1.9 0 1 0 -3.7 0M71.7 113.3a1.4 1.4 0 1 0 2.8 0a1.4 1.4 0 1 0 -2.8 0M82.6 114.1a2.0 2.0 0 1 0 4.0 0a2.0 2.0 0 1 0 -4.0 0M113.3 82.6a1.9 1.9 0 1 0 3.8 0a1.9 1.9 0 1 0 -3.8 0M76.5 112.8a1.4 1.4 0 1 0 2.8 0a1.4 1.4 0 1 0 -2.8 0M134.5 77.8a1.4 1.4 0 1 0 2.8 0a1.4 1.4 0 1 0 -2.8 0M184.6 27.5a1.7 1.7 0 1 0 3.4 0a1.7 1.7 0 1 0 -3.4 0M154.4 52.2a1.3 1.3 0 1 0 2.6 0a1.3 1.3 0 1 0 -2.6 0M80.7 115.3a2.1 2.1 0 1 0 4.2 0a2.1 2.1 0 1 0 -4.2 0" fill="#8f9488" fill-opacity="0.6"/>
<path d="M143.5 57.7a1.3 1.3 0 1 0 2.6 0a1.3 1.3 0 1 0 -2.6 0M115.7 80.7a1.1 1.1 0 1 0 2.2 0a1.1 1.1 0 1 0 -2.2 0M211.3 9.9a2.2 2.2 0 1 0 4.4 0a2.2 2.2 0 1 0 -4.4 0M113.3 90.1a1.1 1.1 0 1 0 2.2 0a1.1 1.1 0 1 0 -2.2 0M140.2 71.5a1.3 1.3 0 1 0 2.7 0a1.3 1.3 0 1 0 -2.7 0M170.0 48.3a2.0 2.0 0 1 0 4.1 0a2.0 2.0 0 1 0 -4.1 0M82.0 110.3a1.7 1.7 0 1 0 3.5 0a1.7 1.7 0 1 0 -3.5 0M73.2 119.9a1.7 1.7 0 1 0 3.4 0a1.7 1.7 0 1 0 -3.4 0M158.5 52.1a1.2 1.2 0 1 0 2.3 0a1.2 1.2 0 1 0 -2.3 0M208.6 5.3a1.8 1.8 0 1 0 3.6 0a1.8 1.8 0 1 0 -3.6 0" fill="#7f837a" fill-opacity="0.6"/>
<path d="M215.7 5.4a2.1 2.1 0 1 0 4.2 0a2.1 2.1 0 1 0 -4.2 0M186.7 27.9a1.3 1.3 0 1 0 2.6 0a1.3 1.3 0 1 0 -2.6 0M75.7 115.8a1.8 1.8 0 1 0 3.7 0a1.8 1.8 0 1 0 -3.7 0M189.2 29.9a2.0 2.0 0 1 0 3.9 0a2.0 2.0 0 1 0 -3.9 0M36.1 139.2a1.5 1.5 0 1 0 3.0 0a1.5 1.5 0 1 0 -3.0 0M217.0 13.4a2.1 2.1 0 1 0 4.1 0a2.1 2.1 0 1 0 -4.1 0M84.4 101.5a1.6 1.6 0 1 0 3.1 0a1.6 1.6 0 1 0 -3.1 0M108.4 92.4a1.3 1.3 0 1 0 2.6 0a1.3 1.3 0 1 0 -2.6 0M214.6 9.1a1.7 1.7 0 1 0 3.5 0a1.7 1.7 0 1 0 -3.5 0" fill="#858a80" fill-opacity="0.6"/>
<path d="M182.3 33.2a1.6 1.6 0 1 0 3.2 0a1.6 1.6 0 1 0 -3.2 0M174.6 35.0a1.1 1.1 0 1 0 2.2 0a1.1 1.1 0 1 0 -2.2 0M190.5 23.0a1.9 1.9 0 1 0 3.9 0a1.9 1.9 0 1 0 -3.9 0M226.4 2.6a1.8 1.8 0 1 0 3.6 0a1.8 1.8 0 1 0 -3.6 0M90.8 106.9a1.9 1.9 0 1 0 3.9 0a1.9 1.9 0 1 0 -3.9 0M50.9 138.7a1.1 1.1 0 1 0 2.1 0a1.1 1.1 0 1 0 -2.1 0" fill="#7f837a" fill-opacity="0.4"/>
<path d="M76.2 110.7a1.2 1.2 0 1 0 2.3 0a1.2 1.2 0 1 0 -2.3 0M176.8 43.7a1.1 1.1 0 1 0 2.3 0a1.1 1.1 0 1 0 -2.3 0M171.2 43.9a2.0 2.0 0 1 0 4.0 0a2.0 2.0 0 1 0 -4.0 0M172.2 40.5a2.0 2.0 0 1 0 4.0 0a2.0 2.0 0 1 0 -4.0 0M207.6 18.0a1.9 1.9 0 1 0 3.8 0a1.9 1.9 0 1 0 -3.8 0" fill="#787c76" fill-opacity="0.4"/>
<path d="M132.5 64.3a1.8 1.8 0 1 0 3.6 0a1.8 1.8 0 1 0 -3.6 0M117.7 88.7a1.5 1.5 0 1 0 3.0 0a1.5 1.5 0 1 0 -3.0 0M166.0 52.5a1.7 1.7 0 1 0 3.3 0a1.7 1.7 0 1 0 -3.3 0M152.7 51.8a1.2 1.2 0 1 0 2.4 0a1.2 1.2 0 1 0 -2.4 0M51.7 134.6a1.2 1.2 0 1 0 2.4 0a1.2 1.2 0 1 0 -2.4 0" fill="#8f9488" fill-opacity="0.4"/>
<path d="M94.3 95.2a1.3 1.3 0 1 0 2.5 0a1.3 1.3 0 1 0 -2.5 0M68.1 128.5a1.2 1.2 0 1 0 2.4 0a1.2 1.2 0 1 0 -2.4 0M166.9 45.4a1.4 1.4 0 1 0 2.7 0a1.4 1.4 0 1 0 -2.7 0M117.1 85.3a1.8 1.8 0 1 0 3.5 0a1.8 1.8 0 1 0 -3.5 0M140.5 72.5a1.1 1.1 0 1 0 2.1 0a1.1 1.1 0 1 0 -2.1 0M200.4 15.1a1.7 1.7 0 1 0 3.3 0a1.7 1.7 0 1 0 -3.3 0M213.9 2.6a1.3 1.3 0 1 0 2.5 0a1.3 1.3 0 1 0 -2.5 0M69.2 127.7a1.1 1.1 0 1 0 2.1 0a1.1 1.1 0 1 0 -2.1 0M136.3 75.1a1.9 1.9 0 1 0 3.8 0a1.9 1.9 0 1 0 -3.8 0" fill="#787c76" fill-opacity="0.6"/>
<path d="M94.3 101.7a1.9 1.9 0 1 0 3.7 0a1.9 1.9 0 1 0 -3.7 0M74.3 114.3a1.4 1.4 0 1 0 2.8 0a1.4 1.4 0 1 0 -2.8 0M200.5 26.0a1.6 1.6 0 1 0 3.1 0a1.6 1.6 0 1 0 -3.1 0M216.3 8.5a1.7 1.7 0 1 0 3.5 0a1.7 1.7 0 1 0 -3.5 0" fill="#858a80" fill-opacity="0.4"/></g>
<g filter="url(#bl1)"><path d="M147.6 67.1a1.3 1.3 0 1 0 2.6 0a1.3 1.3 0 1 0 -2.6 0M90.2 115.8a0.8 0.8 0 1 0 1.6 0a0.8 0.8 0 1 0 -1.6 0M103.6 105.2a1.2 1.2 0 1 0 2.4 0a1.2 1.2 0 1 0 -2.4 0M109.8 100.6a1.0 1.0 0 1 0 1.9 0a1.0 1.0 0 1 0 -1.9 0M145.7 67.8a1.4 1.4 0 1 0 2.8 0a1.4 1.4 0 1 0 -2.8 0M124.7 87.6a0.9 0.9 0 1 0 1.7 0a0.9 0.9 0 1 0 -1.7 0M107.0 99.6a1.0 1.0 0 1 0 1.9 0a1.0 1.0 0 1 0 -1.9 0M211.9 20.2a1.5 1.5 0 1 0 3.0 0a1.5 1.5 0 1 0 -3.0 0M92.2 109.6a1.0 1.0 0 1 0 2.0 0a1.0 1.0 0 1 0 -2.0 0M191.2 37.2a0.9 0.9 0 1 0 1.8 0a0.9 0.9 0 1 0 -1.8 0M62.4 132.5a0.9 0.9 0 1 0 1.8 0a0.9 0.9 0 1 0 -1.8 0M126.8 83.5a1.3 1.3 0 1 0 2.6 0a1.3 1.3 0 1 0 -2.6 0" fill="#a3a6a0" fill-opacity="0.6"/>
<path d="M169.3 53.2a1.3 1.3 0 1 0 2.5 0a1.3 1.3 0 1 0 -2.5 0M137.2 75.5a1.5 1.5 0 1 0 2.9 0a1.5 1.5 0 1 0 -2.9 0M55.7 139.6a0.9 0.9 0 1 0 1.7 0a0.9 0.9 0 1 0 -1.7 0M145.5 68.1a1.4 1.4 0 1 0 2.7 0a1.4 1.4 0 1 0 -2.7 0M126.4 87.1a1.4 1.4 0 1 0 2.8 0a1.4 1.4 0 1 0 -2.8 0" fill="#9b9e9a" fill-opacity="0.4"/>
<path d="M153.7 62.2a0.9 0.9 0 1 0 1.8 0a0.9 0.9 0 1 0 -1.8 0M89.1 112.1a1.0 1.0 0 1 0 1.9 0a1.0 1.0 0 1 0 -1.9 0M142.7 69.7a1.2 1.2 0 1 0 2.4 0a1.2 1.2 0 1 0 -2.4 0M178.6 44.3a1.3 1.3 0 1 0 2.6 0a1.3 1.3 0 1 0 -2.6 0M110.2 98.7a0.8 0.8 0 1 0 1.6 0a0.8 0.8 0 1 0 -1.6 0M87.5 116.5a0.9 0.9 0 1 0 1.7 0a0.9 0.9 0 1 0 -1.7 0M58.3 138.6a1.1 1.1 0 1 0 2.2 0a1.1 1.1 0 1 0 -2.2 0M62.3 135.7a1.4 1.4 0 1 0 2.8 0a1.4 1.4 0 1 0 -2.8 0M140.1 72.2a1.0 1.0 0 1 0 2.1 0a1.0 1.0 0 1 0 -2.1 0" fill="#9b9e9a" fill-opacity="0.6"/>
<path d="M113.8 93.1a1.5 1.5 0 1 0 3.0 0a1.5 1.5 0 1 0 -3.0 0M155.0 65.7a1.5 1.5 0 1 0 3.0 0a1.5 1.5 0 1 0 -3.0 0M225.8 10.0a1.0 1.0 0 1 0 2.0 0a1.0 1.0 0 1 0 -2.0 0M151.5 62.7a1.1 1.1 0 1 0 2.2 0a1.1 1.1 0 1 0 -2.2 0" fill="#a3a6a0" fill-opacity="0.4"/></g>
<path d="M36 138Q55 126 70 124T92 112" stroke="#80857c" stroke-width="3.2" fill="none" stroke-linecap="round" filter="url(#bl1)"/>
<ellipse cx="6" cy="127" rx="17" ry="13" fill="#9aa397" filter="url(#bl3)" opacity=".8"/>
<circle cx="4" cy="132" r="8.5" fill="#2d404c" filter="url(#bl1)"/>
<g filter="url(#bl1)"><path d="M231.6 69.4a1.0 1.0 0 1 0 2.0 0a1.0 1.0 0 1 0 -2.0 0M123.8 132.3a0.6 0.6 0 1 0 1.3 0a0.6 0.6 0 1 0 -1.3 0M147.9 81.0a0.7 0.7 0 1 0 1.4 0a0.7 0.7 0 1 0 -1.4 0M138.8 105.7a1.0 1.0 0 1 0 2.1 0a1.0 1.0 0 1 0 -2.1 0M227.7 58.9a0.7 0.7 0 1 0 1.4 0a0.7 0.7 0 1 0 -1.4 0M121.5 133.4a1.0 1.0 0 1 0 2.0 0a1.0 1.0 0 1 0 -2.0 0M145.0 139.4a0.8 0.8 0 1 0 1.6 0a0.8 0.8 0 1 0 -1.6 0M121.6 95.2a0.6 0.6 0 1 0 1.2 0a0.6 0.6 0 1 0 -1.2 0M229.4 42.0a1.1 1.1 0 1 0 2.2 0a1.1 1.1 0 1 0 -2.2 0M174.8 74.0a0.8 0.8 0 1 0 1.6 0a0.8 0.8 0 1 0 -1.6 0M104.3 121.5a0.9 0.9 0 1 0 1.8 0a0.9 0.9 0 1 0 -1.8 0M164.0 56.0a1.2 1.2 0 1 0 2.3 0a1.2 1.2 0 1 0 -2.3 0M144.9 81.3a1.0 1.0 0 1 0 2.0 0a1.0 1.0 0 1 0 -2.0 0M81.1 124.2a1.0 1.0 0 1 0 1.9 0a1.0 1.0 0 1 0 -1.9 0M119.8 91.3a0.8 0.8 0 1 0 1.7 0a0.8 0.8 0 1 0 -1.7 0M206.8 44.2a0.9 0.9 0 1 0 1.8 0a0.9 0.9 0 1 0 -1.8 0" fill="#7b8796" fill-opacity="0.6"/>
<path d="M206.9 84.5a1.2 1.2 0 1 0 2.4 0a1.2 1.2 0 1 0 -2.4 0M173.3 53.4a1.0 1.0 0 1 0 2.0 0a1.0 1.0 0 1 0 -2.0 0M145.9 83.7a1.1 1.1 0 1 0 2.1 0a1.1 1.1 0 1 0 -2.1 0M132.8 131.2a0.9 0.9 0 1 0 1.7 0a0.9 0.9 0 1 0 -1.7 0M185.4 80.3a1.1 1.1 0 1 0 2.2 0a1.1 1.1 0 1 0 -2.2 0M110.1 103.6a0.6 0.6 0 1 0 1.2 0a0.6 0.6 0 1 0 -1.2 0M93.4 130.3a1.1 1.1 0 1 0 2.2 0a1.1 1.1 0 1 0 -2.2 0M98.0 126.4a0.9 0.9 0 1 0 1.8 0a0.9 0.9 0 1 0 -1.8 0M198.2 71.4a1.2 1.2 0 1 0 2.3 0a1.2 1.2 0 1 0 -2.3 0M149.3 73.2a0.6 0.6 0 1 0 1.2 0a0.6 0.6 0 1 0 -1.2 0M148.0 92.1a1.1 1.1 0 1 0 2.2 0a1.1 1.1 0 1 0 -2.2 0M169.1 52.5a1.1 1.1 0 1 0 2.2 0a1.1 1.1 0 1 0 -2.2 0M182.1 90.0a1.0 1.0 0 1 0 2.0 0a1.0 1.0 0 1 0 -2.0 0M217.1 17.6a1.0 1.0 0 1 0 2.0 0a1.0 1.0 0 1 0 -2.0 0M108.6 134.9a0.7 0.7 0 1 0 1.3 0a0.7 0.7 0 1 0 -1.3 0M146.2 123.1a1.1 1.1 0 1 0 2.2 0a1.1 1.1 0 1 0 -2.2 0M128.2 96.5a0.9 0.9 0 1 0 1.7 0a0.9 0.9 0 1 0 -1.7 0M107.9 138.0a1.2 1.2 0 1 0 2.4 0a1.2 1.2 0 1 0 -2.4 0M180.8 88.9a1.2 1.2 0 1 0 2.4 0a1.2 1.2 0 1 0 -2.4 0M194.5 49.2a0.8 0.8 0 1 0 1.6 0a0.8 0.8 0 1 0 -1.6 0M162.5 60.7a1.1 1.1 0 1 0 2.3 0a1.1 1.1 0 1 0 -2.3 0M209.9 71.8a0.9 0.9 0 1 0 1.9 0a0.9 0.9 0 1 0 -1.9 0M158.8 111.2a0.6 0.6 0 1 0 1.3 0a0.6 0.6 0 1 0 -1.3 0M206.1 67.4a0.8 0.8 0 1 0 1.6 0a0.8 0.8 0 1 0 -1.6 0M215.3 30.0a1.1 1.1 0 1 0 2.2 0a1.1 1.1 0 1 0 -2.2 0" fill="#7b8796" fill-opacity="0.4"/>
<path d="M221.9 18.0a0.6 0.6 0 1 0 1.2 0a0.6 0.6 0 1 0 -1.2 0M198.9 33.7a0.9 0.9 0 1 0 1.8 0a0.9 0.9 0 1 0 -1.8 0M199.2 85.4a1.1 1.1 0 1 0 2.2 0a1.1 1.1 0 1 0 -2.2 0M157.1 92.5a1.1 1.1 0 1 0 2.1 0a1.1 1.1 0 1 0 -2.1 0M183.9 52.6a1.1 1.1 0 1 0 2.2 0a1.1 1.1 0 1 0 -2.2 0M216.1 43.5a1.2 1.2 0 1 0 2.3 0a1.2 1.2 0 1 0 -2.3 0M134.4 119.7a1.0 1.0 0 1 0 2.0 0a1.0 1.0 0 1 0 -2.0 0M68.2 136.4a0.6 0.6 0 1 0 1.2 0a0.6 0.6 0 1 0 -1.2 0M118.0 110.3a0.6 0.6 0 1 0 1.3 0a0.6 0.6 0 1 0 -1.3 0M135.3 138.9a1.0 1.0 0 1 0 2.0 0a1.0 1.0 0 1 0 -2.0 0M232.4 34.6a0.7 0.7 0 1 0 1.4 0a0.7 0.7 0 1 0 -1.4 0M119.7 108.2a1.0 1.0 0 1 0 2.0 0a1.0 1.0 0 1 0 -2.0 0M210.1 83.6a0.8 0.8 0 1 0 1.7 0a0.8 0.8 0 1 0 -1.7 0M141.4 137.0a1.0 1.0 0 1 0 2.1 0a1.0 1.0 0 1 0 -2.1 0M101.8 120.2a0.9 0.9 0 1 0 1.9 0a0.9 0.9 0 1 0 -1.9 0M208.3 56.1a0.9 0.9 0 1 0 1.7 0a0.9 0.9 0 1 0 -1.7 0M225.3 17.6a1.0 1.0 0 1 0 2.1 0a1.0 1.0 0 1 0 -2.1 0M131.2 126.8a0.6 0.6 0 1 0 1.2 0a0.6 0.6 0 1 0 -1.2 0M159.4 62.5a0.7 0.7 0 1 0 1.4 0a0.7 0.7 0 1 0 -1.4 0M106.8 102.9a0.6 0.6 0 1 0 1.2 0a0.6 0.6 0 1 0 -1.2 0M121.5 126.5a0.8 0.8 0 1 0 1.5 0a0.8 0.8 0 1 0 -1.5 0" fill="#9a9da3" fill-opacity="0.4"/>
<path d="M207.4 55.7a1.0 1.0 0 1 0 2.1 0a1.0 1.0 0 1 0 -2.1 0M184.4 53.1a0.7 0.7 0 1 0 1.3 0a0.7 0.7 0 1 0 -1.3 0M117.0 116.5a0.7 0.7 0 1 0 1.4 0a0.7 0.7 0 1 0 -1.4 0M115.7 131.6a0.6 0.6 0 1 0 1.3 0a0.6 0.6 0 1 0 -1.3 0M156.0 84.3a0.9 0.9 0 1 0 1.7 0a0.9 0.9 0 1 0 -1.7 0M197.8 56.2a0.9 0.9 0 1 0 1.7 0a0.9 0.9 0 1 0 -1.7 0M166.0 92.0a1.1 1.1 0 1 0 2.3 0a1.1 1.1 0 1 0 -2.3 0M124.2 134.4a1.0 1.0 0 1 0 2.1 0a1.0 1.0 0 1 0 -2.1 0M202.0 29.2a0.9 0.9 0 1 0 1.7 0a0.9 0.9 0 1 0 -1.7 0M173.4 83.4a1.1 1.1 0 1 0 2.2 0a1.1 1.1 0 1 0 -2.2 0M179.9 46.8a0.7 0.7 0 1 0 1.4 0a0.7 0.7 0 1 0 -1.4 0M126.5 136.2a0.7 0.7 0 1 0 1.3 0a0.7 0.7 0 1 0 -1.3 0M158.6 111.6a0.7 0.7 0 1 0 1.5 0a0.7 0.7 0 1 0 -1.5 0M123.9 102.3a0.6 0.6 0 1 0 1.3 0a0.6 0.6 0 1 0 -1.3 0M149.3 133.4a1.2 1.2 0 1 0 2.4 0a1.2 1.2 0 1 0 -2.4 0M219.0 29.1a1.1 1.1 0 1 0 2.1 0a1.1 1.1 0 1 0 -2.1 0M193.5 88.7a1.1 1.1 0 1 0 2.2 0a1.1 1.1 0 1 0 -2.2 0" fill="#9a9da3" fill-opacity="0.6"/>
<path d="M169.4 84.2a1.1 1.1 0 1 0 2.2 0a1.1 1.1 0 1 0 -2.2 0M66.7 131.5a0.7 0.7 0 1 0 1.4 0a0.7 0.7 0 1 0 -1.4 0M117.8 135.3a1.0 1.0 0 1 0 2.0 0a1.0 1.0 0 1 0 -2.0 0M128.6 109.7a0.9 0.9 0 1 0 1.9 0a0.9 0.9 0 1 0 -1.9 0M221.5 66.6a0.9 0.9 0 1 0 1.7 0a0.9 0.9 0 1 0 -1.7 0M196.4 99.4a1.1 1.1 0 1 0 2.2 0a1.1 1.1 0 1 0 -2.2 0M186.6 47.4a0.7 0.7 0 1 0 1.4 0a0.7 0.7 0 1 0 -1.4 0M96.3 138.7a0.9 0.9 0 1 0 1.8 0a0.9 0.9 0 1 0 -1.8 0M174.2 58.9a0.9 0.9 0 1 0 1.8 0a0.9 0.9 0 1 0 -1.8 0M179.4 95.8a1.1 1.1 0 1 0 2.2 0a1.1 1.1 0 1 0 -2.2 0" fill="#76828f" fill-opacity="0.6"/>
<path d="M225.0 53.2a0.8 0.8 0 1 0 1.6 0a0.8 0.8 0 1 0 -1.6 0M98.9 139.5a1.1 1.1 0 1 0 2.3 0a1.1 1.1 0 1 0 -2.3 0M150.4 70.8a0.8 0.8 0 1 0 1.7 0a0.8 0.8 0 1 0 -1.7 0M109.9 132.3a1.0 1.0 0 1 0 2.0 0a1.0 1.0 0 1 0 -2.0 0M170.1 78.8a0.6 0.6 0 1 0 1.3 0a0.6 0.6 0 1 0 -1.3 0M215.5 33.3a1.1 1.1 0 1 0 2.2 0a1.1 1.1 0 1 0 -2.2 0M153.7 124.0a0.9 0.9 0 1 0 1.7 0a0.9 0.9 0 1 0 -1.7 0M159.1 64.2a1.1 1.1 0 1 0 2.2 0a1.1 1.1 0 1 0 -2.2 0M125.1 112.7a1.0 1.0 0 1 0 2.0 0a1.0 1.0 0 1 0 -2.0 0M173.6 63.1a1.1 1.1 0 1 0 2.1 0a1.1 1.1 0 1 0 -2.1 0M174.4 93.6a0.9 0.9 0 1 0 1.9 0a0.9 0.9 0 1 0 -1.9 0M100.1 119.6a0.6 0.6 0 1 0 1.3 0a0.6 0.6 0 1 0 -1.3 0M219.8 54.1a0.9 0.9 0 1 0 1.9 0a0.9 0.9 0 1 0 -1.9 0M156.2 84.0a0.8 0.8 0 1 0 1.6 0a0.8 0.8 0 1 0 -1.6 0M189.3 79.8a1.0 1.0 0 1 0 2.1 0a1.0 1.0 0 1 0 -2.1 0M86.5 118.2a0.7 0.7 0 1 0 1.5 0a0.7 0.7 0 1 0 -1.5 0M172.4 63.1a1.0 1.0 0 1 0 2.0 0a1.0 1.0 0 1 0 -2.0 0M150.9 81.5a1.1 1.1 0 1 0 2.3 0a1.1 1.1 0 1 0 -2.3 0M103.8 138.2a1.0 1.0 0 1 0 2.0 0a1.0 1.0 0 1 0 -2.0 0M149.8 88.7a0.8 0.8 0 1 0 1.6 0a0.8 0.8 0 1 0 -1.6 0M186.2 69.1a1.0 1.0 0 1 0 2.0 0a1.0 1.0 0 1 0 -2.0 0" fill="#76828f" fill-opacity="0.4"/></g>
<g filter="url(#bl1)"><path d="M208.3 144.7Q208.9 128.3 210.0 111.8M124.2 152.7Q124.6 142.9 124.6 133.1M168.4 85.9Q171.3 76.0 171.5 65.8M185.5 89.1Q186.2 75.8 187.8 62.6M208.3 68.7Q211.2 52.8 211.5 36.8" stroke="#78767a" stroke-width="1.5" stroke-opacity="0.4" fill="none" stroke-linecap="round"/>
<path d="M210.8 99.6Q211.7 86.6 212.8 73.7M202.3 117.9Q204.7 98.9 208.3 80.2M215.8 145.7Q217.0 133.9 216.3 121.9M199.5 164.3Q201.1 144.0 200.2 123.6M203.8 116.4Q206.5 98.1 209.9 79.9M119.0 132.7Q121.8 121.5 122.8 110.0M86.5 148.0Q86.3 138.6 88.9 129.5M223.9 134.6Q224.9 122.1 224.6 109.5M220.4 56.9Q221.4 43.9 225.3 31.4M211.9 131.1Q213.5 110.9 216.0 90.7M210.7 154.6Q212.0 136.9 213.9 119.3M202.0 145.4Q204.0 134.1 204.2 122.5" stroke="#918b8e" stroke-width="1.5" stroke-opacity="0.2" fill="none" stroke-linecap="round"/>
<path d="M215.1 153.0Q216.5 143.3 216.9 133.6M226.1 160.8Q228.0 137.9 230.4 115.1M183.7 93.5Q182.1 70.7 183.3 47.9M194.9 132.9Q196.9 110.7 196.0 88.4M152.9 138.5Q151.8 125.6 152.7 112.7" stroke="#78767a" stroke-width="1.0" stroke-opacity="0.2" fill="none" stroke-linecap="round"/>
<path d="M206.7 71.0Q209.6 57.5 211.2 43.8M191.7 130.4Q193.6 116.0 193.2 101.4M120.7 133.3Q123.7 114.4 126.0 95.4M179.5 92.2Q180.2 71.6 180.0 51.0M147.3 133.8Q150.2 121.2 150.5 108.3M233.9 53.3Q237.8 38.5 238.8 23.1M213.0 110.2Q215.2 94.9 218.1 79.8" stroke="#918b8e" stroke-width="1.5" stroke-opacity="0.4" fill="none" stroke-linecap="round"/>
<path d="M186.5 83.6Q187.3 72.0 190.7 60.8M193.8 109.9Q195.3 100.1 197.4 90.4M236.0 72.4Q236.0 61.2 237.6 50.1M187.8 97.5Q187.5 86.9 187.9 76.3M233.1 129.1Q234.3 111.9 232.6 94.7M155.9 127.2Q156.5 116.4 159.6 106.0" stroke="#78767a" stroke-width="1.5" stroke-opacity="0.2" fill="none" stroke-linecap="round"/>
<path d="M158.3 95.6Q161.6 79.5 163.6 63.1M153.4 137.1Q153.8 115.3 153.3 93.4M227.9 128.2Q227.9 106.6 230.2 85.2M228.8 154.3Q229.2 143.9 231.1 133.7M193.7 140.8Q197.6 120.9 198.9 100.7" stroke="#918b8e" stroke-width="1.0" stroke-opacity="0.2" fill="none" stroke-linecap="round"/>
<path d="M204.0 84.5Q202.8 72.3 204.4 60.1" stroke="#78767a" stroke-width="2.0" stroke-opacity="0.2" fill="none" stroke-linecap="round"/>
<path d="M176.3 86.2Q179.1 67.0 180.5 47.7M134.7 163.7Q137.0 143.6 136.9 123.3M226.7 156.1Q227.4 137.4 227.4 118.6M135.4 150.2Q135.3 128.0 138.3 106.0M156.7 140.4Q158.2 129.1 160.9 118.0" stroke="#78767a" stroke-width="1.0" stroke-opacity="0.4" fill="none" stroke-linecap="round"/>
<path d="M230.5 164.8Q233.9 142.9 238.8 121.2" stroke="#918b8e" stroke-width="2.0" stroke-opacity="0.2" fill="none" stroke-linecap="round"/>
<path d="M153.4 129.8Q155.9 108.6 157.2 87.3M207.5 109.9Q206.9 93.2 208.1 76.4M189.0 103.9Q191.4 82.4 195.7 61.2" stroke="#918b8e" stroke-width="1.0" stroke-opacity="0.4" fill="none" stroke-linecap="round"/></g>
</svg>
<svg x="787" y="33" width="234" height="139.5" viewBox="0 0 234 139.5" overflow="hidden">
<linearGradient id="gd1" gradientUnits="userSpaceOnUse" x1="203.0" y1="162.2" x2="46.7" y2="-50.6"><stop offset="0.0000" stop-color="#b98c32"/><stop offset="0.2803" stop-color="#b48c3a"/><stop offset="0.3939" stop-color="#a8965a"/><stop offset="0.4205" stop-color="#b7a366"/><stop offset="0.4318" stop-color="#c7b06c"/><stop offset="0.4413" stop-color="#b3a872"/><stop offset="0.4545" stop-color="#b9ad84"/><stop offset="0.4697" stop-color="#dccbb0"/><stop offset="0.5000" stop-color="#e8d8c8"/><stop offset="0.5833" stop-color="#ebdacd"/><stop offset="0.7348" stop-color="#e8ddcd"/><stop offset="1.0000" stop-color="#e6ddcd"/></linearGradient>
<rect width="234" height="139.5" fill="url(#gd1)"/>
<polygon points="-20.0,-20.0 108.0,-20.0 98.0,0.0 66.0,44.0 24.0,75.0 -20.0,100.0" fill="#7aa6ae" filter="url(#bl6)"/>
<ellipse cx="30" cy="27" rx="25" ry="15" fill="#708c9c" filter="url(#bl6)" opacity="0.9" transform="rotate(-32 30 27)"/>
<ellipse cx="1" cy="14" rx="3.5" ry="8" fill="#d4c1b4" filter="url(#bl2)" opacity=".8"/>
<rect width="234" height="139.5" filter="url(#mot)" opacity="0.08"/>
<g filter="url(#bl2)"><path d="M134.7 46.4a4.9 4.9 0 1 0 9.8 0a4.9 4.9 0 1 0 -9.8 0M95.7 61.5a3.8 3.8 0 1 0 7.6 0a3.8 3.8 0 1 0 -7.6 0M66.2 101.9a3.0 3.0 0 1 0 6.1 0a3.0 3.0 0 1 0 -6.1 0M99.7 35.4a2.6 2.6 0 1 0 5.2 0a2.6 2.6 0 1 0 -5.2 0M6.2 92.4a3.7 3.7 0 1 0 7.3 0a3.7 3.7 0 1 0 -7.3 0M95.9 35.3a4.5 4.5 0 1 0 9.0 0a4.5 4.5 0 1 0 -9.0 0M28.1 73.8a4.4 4.4 0 1 0 8.8 0a4.4 4.4 0 1 0 -8.8 0M24.4 78.8a3.4 3.4 0 1 0 6.9 0a3.4 3.4 0 1 0 -6.9 0M56.3 87.8a2.1 2.1 0 1 0 4.2 0a2.1 2.1 0 1 0 -4.2 0M161.9 31.5a4.4 4.4 0 1 0 8.9 0a4.4 4.4 0 1 0 -8.9 0M58.2 95.0a3.1 3.1 0 1 0 6.2 0a3.1 3.1 0 1 0 -6.2 0M134.5 30.7a4.6 4.6 0 1 0 9.2 0a4.6 4.6 0 1 0 -9.2 0M142.4 18.0a2.7 2.7 0 1 0 5.5 0a2.7 2.7 0 1 0 -5.5 0M126.4 24.0a3.9 3.9 0 1 0 7.8 0a3.9 3.9 0 1 0 -7.8 0M157.0 13.2a3.5 3.5 0 1 0 7.1 0a3.5 3.5 0 1 0 -7.1 0M24.0 96.4a2.1 2.1 0 1 0 4.2 0a2.1 2.1 0 1 0 -4.2 0" fill="#e0c4b8" fill-opacity="0.4"/>
<path d="M152.1 26.6a2.9 2.9 0 1 0 5.8 0a2.9 2.9 0 1 0 -5.8 0M127.9 38.7a2.2 2.2 0 1 0 4.4 0a2.2 2.2 0 1 0 -4.4 0M79.5 63.8a3.4 3.4 0 1 0 6.9 0a3.4 3.4 0 1 0 -6.9 0M35.5 108.3a2.8 2.8 0 1 0 5.5 0a2.8 2.8 0 1 0 -5.5 0M46.7 113.8a2.3 2.3 0 1 0 4.5 0a2.3 2.3 0 1 0 -4.5 0M180.9 4.9a4.1 4.1 0 1 0 8.2 0a4.1 4.1 0 1 0 -8.2 0M69.2 98.8a2.2 2.2 0 1 0 4.5 0a2.2 2.2 0 1 0 -4.5 0M95.3 68.9a4.4 4.4 0 1 0 8.7 0a4.4 4.4 0 1 0 -8.7 0M28.2 106.3a3.9 3.9 0 1 0 7.7 0a3.9 3.9 0 1 0 -7.7 0M41.7 85.0a4.2 4.2 0 1 0 8.4 0a4.2 4.2 0 1 0 -8.4 0M45.3 74.5a3.6 3.6 0 1 0 7.2 0a3.6 3.6 0 1 0 -7.2 0M93.7 37.2a4.4 4.4 0 1 0 8.7 0a4.4 4.4 0 1 0 -8.7 0M146.5 45.0a2.4 2.4 0 1 0 4.7 0a2.4 2.4 0 1 0 -4.7 0M46.2 89.8a4.7 4.7 0 1 0 9.5 0a4.7 4.7 0 1 0 -9.5 0" fill="#e6c6c0" fill-opacity="0.4"/></g>
<g filter="url(#bl1)"><path d="M89.7 87.9a0.7 0.7 0 1 0 1.5 0a0.7 0.7 0 1 0 -1.5 0M125.8 58.9a0.7 0.7 0 1 0 1.4 0a0.7 0.7 0 1 0 -1.4 0M39.7 79.7a1.0 1.0 0 1 0 2.1 0a1.0 1.0 0 1 0 -2.1 0M91.2 60.4a0.9 0.9 0 1 0 1.8 0a0.9 0.9 0 1 0 -1.8 0M39.7 59.4a0.8 0.8 0 1 0 1.5 0a0.8 0.8 0 1 0 -1.5 0M137.7 4.4a0.8 0.8 0 1 0 1.6 0a0.8 0.8 0 1 0 -1.6 0M0.6 117.6a1.1 1.1 0 1 0 2.2 0a1.1 1.1 0 1 0 -2.2 0M123.4 10.8a0.8 0.8 0 1 0 1.7 0a0.8 0.8 0 1 0 -1.7 0M73.8 41.2a1.1 1.1 0 1 0 2.2 0a1.1 1.1 0 1 0 -2.2 0M34.7 126.1a0.9 0.9 0 1 0 1.9 0a0.9 0.9 0 1 0 -1.9 0M86.8 19.0a0.6 0.6 0 1 0 1.2 0a0.6 0.6 0 1 0 -1.2 0" fill="#a4917f" fill-opacity="0.6"/>
<path d="M82.1 76.9a1.0 1.0 0 1 0 2.0 0a1.0 1.0 0 1 0 -2.0 0M87.9 39.6a0.8 0.8 0 1 0 1.5 0a0.8 0.8 0 1 0 -1.5 0M47.6 68.2a0.9 0.9 0 1 0 1.9 0a0.9 0.9 0 1 0 -1.9 0M14.9 131.7a0.9 0.9 0 1 0 1.9 0a0.9 0.9 0 1 0 -1.9 0M28.4 62.7a0.7 0.7 0 1 0 1.4 0a0.7 0.7 0 1 0 -1.4 0M50.9 95.7a1.0 1.0 0 1 0 2.1 0a1.0 1.0 0 1 0 -2.1 0M-0.1 93.4a0.7 0.7 0 1 0 1.5 0a0.7 0.7 0 1 0 -1.5 0M26.7 96.7a1.0 1.0 0 1 0 1.9 0a1.0 1.0 0 1 0 -1.9 0M112.6 19.1a0.8 0.8 0 1 0 1.6 0a0.8 0.8 0 1 0 -1.6 0M121.1 27.5a1.0 1.0 0 1 0 2.0 0a1.0 1.0 0 1 0 -2.0 0M146.2 31.7a0.8 0.8 0 1 0 1.5 0a0.8 0.8 0 1 0 -1.5 0" fill="#918c74" fill-opacity="0.6"/>
<path d="M84.6 29.5a0.5 0.5 0 1 0 1.0 0a0.5 0.5 0 1 0 -1.0 0M154.6 43.4a0.6 0.6 0 1 0 1.2 0a0.6 0.6 0 1 0 -1.2 0M1.1 137.6a0.7 0.7 0 1 0 1.5 0a0.7 0.7 0 1 0 -1.5 0M102.0 46.8a0.9 0.9 0 1 0 1.8 0a0.9 0.9 0 1 0 -1.8 0M177.0 23.7a0.7 0.7 0 1 0 1.3 0a0.7 0.7 0 1 0 -1.3 0M37.3 88.8a1.0 1.0 0 1 0 2.0 0a1.0 1.0 0 1 0 -2.0 0M95.7 36.7a0.9 0.9 0 1 0 1.9 0a0.9 0.9 0 1 0 -1.9 0M113.4 32.4a0.9 0.9 0 1 0 1.7 0a0.9 0.9 0 1 0 -1.7 0M3.5 134.7a0.8 0.8 0 1 0 1.6 0a0.8 0.8 0 1 0 -1.6 0M77.9 99.8a0.6 0.6 0 1 0 1.2 0a0.6 0.6 0 1 0 -1.2 0M135.8 48.6a1.1 1.1 0 1 0 2.1 0a1.1 1.1 0 1 0 -2.1 0M92.5 32.5a0.6 0.6 0 1 0 1.2 0a0.6 0.6 0 1 0 -1.2 0M48.9 112.9a0.6 0.6 0 1 0 1.3 0a0.6 0.6 0 1 0 -1.3 0M57.1 40.8a0.6 0.6 0 1 0 1.2 0a0.6 0.6 0 1 0 -1.2 0M105.9 42.2a1.0 1.0 0 1 0 2.0 0a1.0 1.0 0 1 0 -2.0 0M90.2 26.1a0.8 0.8 0 1 0 1.5 0a0.8 0.8 0 1 0 -1.5 0M134.3 22.5a0.6 0.6 0 1 0 1.2 0a0.6 0.6 0 1 0 -1.2 0" fill="#b8a490" fill-opacity="0.6"/>
<path d="M151.7 44.6a1.0 1.0 0 1 0 2.0 0a1.0 1.0 0 1 0 -2.0 0M114.8 27.7a0.9 0.9 0 1 0 1.8 0a0.9 0.9 0 1 0 -1.8 0M192.8 19.7a0.6 0.6 0 1 0 1.2 0a0.6 0.6 0 1 0 -1.2 0M50.5 92.5a0.5 0.5 0 1 0 1.0 0a0.5 0.5 0 1 0 -1.0 0M30.0 70.1a1.0 1.0 0 1 0 1.9 0a1.0 1.0 0 1 0 -1.9 0M193.9 3.8a0.6 0.6 0 1 0 1.3 0a0.6 0.6 0 1 0 -1.3 0M80.5 59.6a0.7 0.7 0 1 0 1.4 0a0.7 0.7 0 1 0 -1.4 0M103.3 22.0a0.7 0.7 0 1 0 1.5 0a0.7 0.7 0 1 0 -1.5 0M148.3 26.9a0.6 0.6 0 1 0 1.2 0a0.6 0.6 0 1 0 -1.2 0M67.1 87.8a1.0 1.0 0 1 0 2.1 0a1.0 1.0 0 1 0 -2.1 0M104.6 30.9a0.6 0.6 0 1 0 1.1 0a0.6 0.6 0 1 0 -1.1 0M167.2 8.6a1.0 1.0 0 1 0 2.0 0a1.0 1.0 0 1 0 -2.0 0M31.5 130.5a0.6 0.6 0 1 0 1.1 0a0.6 0.6 0 1 0 -1.1 0M60.3 70.0a0.7 0.7 0 1 0 1.3 0a0.7 0.7 0 1 0 -1.3 0M159.9 13.7a0.9 0.9 0 1 0 1.8 0a0.9 0.9 0 1 0 -1.8 0M131.5 0.9a0.8 0.8 0 1 0 1.6 0a0.8 0.8 0 1 0 -1.6 0M71.8 87.6a0.9 0.9 0 1 0 1.7 0a0.9 0.9 0 1 0 -1.7 0" fill="#a4917f" fill-opacity="0.4"/>
<path d="M110.7 43.5a0.5 0.5 0 1 0 1.1 0a0.5 0.5 0 1 0 -1.1 0M17.3 94.3a0.7 0.7 0 1 0 1.4 0a0.7 0.7 0 1 0 -1.4 0M112.2 41.4a0.5 0.5 0 1 0 1.0 0a0.5 0.5 0 1 0 -1.0 0M38.5 129.0a0.9 0.9 0 1 0 1.9 0a0.9 0.9 0 1 0 -1.9 0M156.0 35.6a0.9 0.9 0 1 0 1.8 0a0.9 0.9 0 1 0 -1.8 0M182.8 24.1a1.1 1.1 0 1 0 2.1 0a1.1 1.1 0 1 0 -2.1 0M105.1 80.1a0.8 0.8 0 1 0 1.6 0a0.8 0.8 0 1 0 -1.6 0M67.5 90.8a0.7 0.7 0 1 0 1.3 0a0.7 0.7 0 1 0 -1.3 0M63.9 46.7a0.5 0.5 0 1 0 1.1 0a0.5 0.5 0 1 0 -1.1 0M138.7 25.1a0.7 0.7 0 1 0 1.3 0a0.7 0.7 0 1 0 -1.3 0" fill="#b8a490" fill-opacity="0.4"/>
<path d="M6.9 121.8a1.1 1.1 0 1 0 2.2 0a1.1 1.1 0 1 0 -2.2 0M17.8 120.7a0.9 0.9 0 1 0 1.8 0a0.9 0.9 0 1 0 -1.8 0M21.2 79.1a0.7 0.7 0 1 0 1.4 0a0.7 0.7 0 1 0 -1.4 0M52.3 118.7a0.8 0.8 0 1 0 1.6 0a0.8 0.8 0 1 0 -1.6 0M164.0 4.0a0.7 0.7 0 1 0 1.4 0a0.7 0.7 0 1 0 -1.4 0M124.9 25.0a0.5 0.5 0 1 0 1.0 0a0.5 0.5 0 1 0 -1.0 0M143.6 39.1a0.7 0.7 0 1 0 1.3 0a0.7 0.7 0 1 0 -1.3 0M58.2 84.9a0.9 0.9 0 1 0 1.8 0a0.9 0.9 0 1 0 -1.8 0M80.7 47.2a0.8 0.8 0 1 0 1.6 0a0.8 0.8 0 1 0 -1.6 0M150.4 31.0a1.0 1.0 0 1 0 2.0 0a1.0 1.0 0 1 0 -2.0 0M10.9 92.2a0.6 0.6 0 1 0 1.3 0a0.6 0.6 0 1 0 -1.3 0M184.7 18.1a1.0 1.0 0 1 0 2.1 0a1.0 1.0 0 1 0 -2.1 0M0.5 115.8a1.1 1.1 0 1 0 2.1 0a1.1 1.1 0 1 0 -2.1 0M47.1 99.1a1.0 1.0 0 1 0 2.0 0a1.0 1.0 0 1 0 -2.0 0" fill="#918c74" fill-opacity="0.4"/></g>
<path d="M34 137Q50 128 62 125T76 119" stroke="#357f48" stroke-width="3.8" fill="none" stroke-linecap="round" filter="url(#bl1)"/>
<path d="M92 108L104 100M110 95L118 90M124 84L130 80M148 62L154 57" stroke="#5f965f" stroke-width="2.8" fill="none" stroke-linecap="round" filter="url(#bl1)" opacity=".9"/>
<ellipse cx="6" cy="126" rx="20" ry="17" fill="#cdb07c" filter="url(#bl3)" opacity=".9"/>
<ellipse cx="4" cy="131.5" rx="10" ry="9.5" fill="#0b0b06" filter="url(#bl1)"/>
<g filter="url(#bl05)">
<path d="M15.7 160.9L14.8 165.8L14.3 170.8L14.4 175.8L13.9 180.8L13.0 185.7M12.8 195.7L12.1 200.7L11.4 205.6L11.3 210.6" stroke="#9a8ea8" stroke-width="1.0" stroke-opacity="1.0" fill="none" stroke-linecap="round" stroke-linejoin="round"/>
<path d="M39.6 143.8L39.4 148.8L39.0 153.8L38.1 158.7L37.1 163.6M124.8 94.4L124.9 99.4L124.5 104.4L123.9 109.3L123.7 114.3M124.0 124.3L123.6 129.3L123.0 134.3M64.5 137.8L64.3 142.8L64.5 147.8L64.4 152.8L63.8 157.7L63.3 162.7L63.3 167.7L63.5 172.7L63.1 177.7L62.4 182.6L62.1 187.6L62.3 192.6L62.3 197.6L61.7 202.6M176.0 63.8L175.6 68.8L175.1 73.8L175.2 78.8L175.4 83.8M174.5 93.8L174.6 98.8L174.9 103.8L174.4 108.7L174.0 113.7M219.1 14.2L217.9 19.1L217.4 24.0L217.1 29.0L216.1 33.9M131.8 112.5L131.5 117.5L130.6 122.4L129.8 127.4L129.6 132.4L129.5 137.4L129.0 142.4L128.0 147.3L127.4 152.2L127.2 157.2L127.1 162.2L126.5 167.2L125.5 172.1L125.0 177.1L124.9 182.1L124.7 187.1L123.9 192.0L123.0 196.9M92.0 131.5L91.0 136.4M89.3 146.3L89.1 151.3L88.9 156.2L88.5 161.2L87.6 166.2L86.6 171.0L85.6 176.0L85.1 180.9M144.9 67.1L144.7 72.1L143.9 77.0L142.9 81.9M142.2 91.9L141.8 96.8L140.8 101.7L140.0 106.7M130.7 79.0L130.9 84.0L130.7 89.0L130.1 93.9L129.8 98.9L130.1 103.9L130.1 108.9L129.5 113.9L129.0 118.8L129.2 123.8L129.3 128.8L128.9 133.8M139.5 93.7L139.5 98.7L139.6 103.7L139.6 108.7L139.3 113.7L138.6 118.7L137.8 123.6L137.3 128.6L137.2 133.6L137.3 138.6L137.4 143.6M215.4 16.9L215.2 21.9L215.3 26.9L215.5 31.9L215.3 36.9L214.8 41.8L214.1 46.8L213.6 51.8L213.6 56.8M158.8 56.9L158.3 61.9L158.2 66.9" stroke="#9c8a9c" stroke-width="1.5" stroke-opacity="0.8" fill="none" stroke-linecap="round" stroke-linejoin="round"/>
<path d="M106.9 102.0L106.9 107.0L107.1 112.0L106.8 116.9L106.1 121.9L105.7 126.9L105.9 131.9L105.9 136.9L105.3 141.8L104.7 146.8L104.7 151.8L104.9 156.8L104.5 161.8M149.7 119.1M149.5 129.1L148.8 134.1L148.7 139.1L148.8 144.1L148.3 149.0L147.7 154.0L147.8 159.0L147.8 164.0L147.1 169.0L146.7 173.9L146.9 178.9M170.6 71.2L170.2 76.2L169.4 81.1L168.8 86.1L168.7 91.1L168.8 96.1L168.5 101.1L167.7 106.0L167.1 111.0L166.9 116.0L167.0 121.0L166.8 126.0L166.1 130.9M165.0 140.8L165.1 145.8M136.5 138.0L135.6 142.9L134.7 147.8L134.4 152.8L133.9 157.8L132.9 162.7L132.2 167.6L132.1 172.6L131.3 177.6L130.2 182.5L129.9 187.5L129.6 192.5L128.6 197.4L127.7 202.3L127.5 207.3M32.9 150.0L32.9 155.0L32.3 159.9M126.4 122.8L126.7 127.8L126.8 132.8L126.4 137.7M125.5 147.7L125.7 152.7L126.0 157.7L125.9 162.7L125.4 167.7L124.9 172.6" stroke="#9c8a9c" stroke-width="1.5" stroke-opacity="0.6" fill="none" stroke-linecap="round" stroke-linejoin="round"/>
<path d="M240.9 116.2L240.4 121.1L240.0 126.1L239.2 131.0L237.9 135.9L237.0 140.8L236.7 145.8L236.2 150.8L235.2 155.7L234.0 160.5L233.3 165.5L233.0 170.5L232.3 175.4L231.1 180.3L230.1 185.2L229.6 190.1L229.2 195.1M23.2 157.2L22.8 162.2M113.3 121.7L113.1 126.7L112.4 131.7L111.6 136.6L110.9 141.6L110.7 146.6L110.8 151.6L110.7 156.6L110.2 161.6M214.8 58.3L214.1 63.3L213.8 68.3L213.9 73.3L213.9 78.3L213.6 83.3L212.9 88.2L212.1 93.1L211.5 98.1L211.3 103.1L211.4 108.1L211.4 113.1L211.0 118.1M161.7 56.7L161.2 61.7L160.5 66.6L160.1 71.6L160.1 76.6L160.3 81.6M198.7 59.7L198.4 64.7L198.6 69.7L198.9 74.7L198.5 79.7M198.0 89.6L198.4 94.6L198.3 99.6L197.8 104.6M204.6 36.6L204.4 41.6L203.8 46.6L202.7 51.4L201.8 56.3L201.4 61.3L201.1 66.3L200.4 71.3M198.4 81.1M94.3 102.6L93.9 107.6L93.0 112.5L91.9 117.4L91.1 122.3M90.5 132.3L89.8 137.3L88.7 142.1L87.8 147.1L87.3 152.0L87.1 157.0L86.5 162.0L85.5 166.9M195.0 133.6L194.6 138.6L194.4 143.6L194.3 148.6M193.1 158.5L192.2 163.4L191.2 168.3L190.4 173.3L190.0 178.2L189.9 183.2L189.7 188.2L189.3 193.2L188.5 198.2L187.6 203.1L186.6 208.0M95.0 125.1L95.0 130.1L94.7 135.1L94.0 140.0L93.2 144.9M92.6 154.9L92.6 159.9L92.3 164.9L91.6 169.9L90.8 174.8L90.2 179.8" stroke="#9a8ea8" stroke-width="1.5" stroke-opacity="0.8" fill="none" stroke-linecap="round" stroke-linejoin="round"/>
<path d="M161.7 56.8L161.5 61.8L161.7 66.8L161.8 71.8L161.6 76.8L161.0 81.8L160.3 86.7L159.9 91.7L159.9 96.7L160.1 101.7L160.1 106.7L159.7 111.7L159.0 116.6L158.4 121.6L158.2 126.6L158.3 131.6L158.4 136.6L158.3 141.6M105.7 130.1L105.5 135.1L105.0 140.1L103.9 145.0L102.9 149.9L102.4 154.9L102.2 159.9L101.4 164.8L100.3 169.7L99.5 174.6L99.1 179.6L98.8 184.6L97.8 189.5L96.7 194.4M234.8 7.8L233.9 12.7L233.6 17.7L233.1 22.6M194.4 32.9L193.6 37.9L193.5 42.9L193.6 47.9L193.1 52.8L192.3 57.8L191.9 62.8L192.0 67.8L191.8 72.8L191.1 77.7L190.5 82.7L190.4 87.7L190.4 92.7L189.9 97.6L189.1 102.6L188.9 107.6L188.9 112.6M178.0 137.5L177.5 142.5M175.6 152.3L175.0 157.2L174.8 162.2L174.7 167.2L174.1 172.2L173.2 177.1L172.2 182.0L171.7 187.0L171.5 192.0L171.3 197.0L170.7 201.9M24.4 156.7M23.6 166.6L23.9 171.6L23.7 176.6L23.1 181.6L23.2 186.6L23.4 191.6L22.9 196.6L22.5 201.5L22.8 206.5L22.8 211.5L22.2 216.5L22.0 221.5L22.3 226.5M207.0 22.8L206.6 27.8L205.9 32.7L205.7 37.7L205.9 42.7L205.4 47.7L204.7 52.6L204.6 57.6M155.7 75.7L154.9 80.7L154.5 85.6L154.3 90.6L153.9 95.6L153.2 100.6L152.2 105.5L151.0 110.3M176.2 105.1L175.3 110.0L174.2 114.9L173.5 119.9L173.3 124.8L173.0 129.8L172.3 134.8M200.9 106.3L200.8 111.3L200.3 116.2L199.6 121.2L199.0 126.1L198.7 131.1M199.0 141.1M198.9 151.1L198.3 156.1M144.4 125.5L144.0 130.5L143.8 135.5L143.3 140.4L142.3 145.3L141.2 150.2L140.4 155.2M139.8 165.1L139.2 170.1L138.2 175.0L137.1 179.9L136.5 184.8" stroke="#a194a6" stroke-width="1.5" stroke-opacity="0.8" fill="none" stroke-linecap="round" stroke-linejoin="round"/>
<path d="M91.4 108.1L90.6 113.1L89.6 118.0M98.7 122.9L98.6 127.9L98.3 132.9L97.6 137.9L96.7 142.8M95.2 152.7L94.9 157.7L94.9 162.7L94.8 167.7L94.6 172.7L94.0 177.6L93.2 182.6M82.0 119.3L81.0 124.2L80.4 129.2L80.2 134.2M78.7 144.0L78.2 149.0L78.0 154.0L77.5 159.0M115.2 91.1L114.1 95.9L113.4 100.9L113.1 105.9L112.6 110.8L111.7 115.8L110.5 120.6L109.8 125.6L109.4 130.5L109.0 135.5L108.1 140.4L107.0 145.3M239.7 48.9L238.8 53.8L237.9 58.8L237.2 63.7L236.8 68.7L236.8 73.7L236.7 78.7M31.5 153.4L31.6 158.4L31.2 163.4L30.6 168.4L30.3 173.4M195.1 39.9L194.4 44.8L193.4 49.8L192.7 54.7M192.3 64.7L192.3 69.7L192.0 74.7L191.4 79.6M230.7 2.4L230.7 7.4L230.5 12.3L229.9 17.3L229.1 22.2M227.5 32.1L227.2 37.1M59.7 134.9L59.4 139.9L58.4 144.8L57.3 149.7L56.8 154.7L56.4 159.7L55.3 164.5" stroke="#8a93ac" stroke-width="1.0" stroke-opacity="0.8" fill="none" stroke-linecap="round" stroke-linejoin="round"/>
<path d="M-7.9 177.9L-8.7 182.9L-9.0 187.9L-9.3 192.9L-9.9 197.8L-10.9 202.7L-12.0 207.6M62.8 129.7L62.7 134.7L62.1 139.6L61.1 144.5L60.7 149.5L60.6 154.5L59.9 159.5L59.0 164.4M94.5 134.8L94.2 139.8L93.6 144.7L92.8 149.7M91.8 159.6L91.9 164.6L91.9 169.6L91.8 174.6M90.4 184.5L89.7 189.4L89.3 194.4L89.2 199.4L89.3 204.4L89.2 209.4L88.8 214.4L88.0 219.4M109.9 106.0L109.2 111.0L108.6 116.0L108.4 121.0L108.6 126.0L108.7 131.0L108.4 135.9M107.1 145.9L106.8 150.8L106.8 155.8L107.0 160.8M36.9 146.6L35.9 151.5L35.2 156.4L35.0 161.4L34.9 166.4L34.2 171.4L33.2 176.3M96.8 123.0L96.1 128.0L95.1 132.9L94.0 137.8L93.0 142.7L92.4 147.6L92.1 152.6L91.9 157.6L91.5 162.6L90.7 167.5L89.7 172.4L88.6 177.3L87.7 182.2L87.1 187.2L86.8 192.2L86.6 197.2L86.1 202.2L85.3 207.1L84.3 212.0M125.1 83.3L124.7 88.3" stroke="#9a8ea8" stroke-width="1.5" stroke-opacity="0.6" fill="none" stroke-linecap="round" stroke-linejoin="round"/>
<path d="M63.4 126.3L63.0 131.3L62.0 136.2L60.9 141.1M39.1 145.1L39.0 150.1L38.3 155.0L37.6 160.0L37.2 165.0L37.3 170.0L37.3 175.0L36.9 179.9L36.1 184.9" stroke="#8f90ad" stroke-width="1.5" stroke-opacity="1.0" fill="none" stroke-linecap="round" stroke-linejoin="round"/>
<path d="M58.4 132.0L58.5 137.0L58.1 142.0L57.4 147.0L57.1 151.9L57.2 156.9L56.9 161.9L56.1 166.9L55.8 171.9M159.6 116.5L159.3 121.5L158.7 126.4L157.9 131.4L156.8 136.2L155.7 141.1L154.8 146.0L154.3 151.0L154.1 156.0L153.8 161.0L153.2 166.0L152.4 170.9L151.2 175.8L150.1 180.7L149.3 185.6L148.8 190.6" stroke="#8a93ac" stroke-width="1.5" stroke-opacity="1.0" fill="none" stroke-linecap="round" stroke-linejoin="round"/>
<path d="M196.2 86.4L195.8 91.3L195.5 96.3L194.8 101.3L193.6 106.1L192.7 111.1L192.4 116.1L192.1 121.0L191.3 126.0L190.2 130.9L189.3 135.8M225.8 6.7L224.9 11.6L224.5 16.6L224.4 21.6M223.7 31.5L222.8 36.5L222.0 41.4L221.7 46.4L221.6 51.4L221.4 56.4L220.7 61.3L219.7 66.2L219.1 71.2M180.8 49.8L180.3 54.7L179.7 59.7L179.5 64.7L179.6 69.7L179.9 74.7L179.9 79.7L179.4 84.7L178.8 89.6L178.5 94.6L178.7 99.6L179.0 104.6M-8.2 183.7L-8.4 188.7L-8.6 193.7M-10.0 203.5M76.4 116.9L76.0 121.9" stroke="#9a8ea8" stroke-width="1.0" stroke-opacity="0.6" fill="none" stroke-linecap="round" stroke-linejoin="round"/>
<path d="M130.3 117.4L130.4 122.4L130.3 127.4L129.7 132.3L128.9 137.2L128.4 142.2L128.5 147.2L128.5 152.2L128.0 157.2L127.2 162.1L126.6 167.1L126.5 172.1L126.6 177.1L126.4 182.1L125.6 187.0L124.9 192.0M241.6 10.1L240.8 15.0L240.5 20.0L240.4 25.0L239.8 30.0L238.9 34.9M238.3 44.9L237.9 49.8L237.0 54.8L236.3 59.7L236.2 64.7M59.4 130.9L58.7 135.9L58.6 140.9L58.5 145.9L57.8 150.8M66.0 125.1L65.3 130.0L65.0 135.0M65.0 145.0M64.1 154.9L63.3 159.9L62.6 164.8M128.0 131.9L127.0 136.8L125.9 141.7M125.2 151.6L124.5 156.6L123.4 161.5L122.5 166.4L122.1 171.4L121.8 176.3L120.9 181.3L119.8 186.1L119.1 191.1L118.8 196.1L118.3 201.1L117.3 205.9M233.5 35.8L232.7 40.7M232.4 50.7L231.8 55.7L230.9 60.6L230.3 65.6L230.3 70.6L230.1 75.5L229.3 80.5M82.9 127.2L82.5 132.2L81.6 137.2L80.5 142.0L79.6 146.9L79.2 151.9L78.9 156.9M77.3 166.8L76.2 171.7L75.5 176.6L75.2 181.6L74.9 186.6L74.2 191.5L73.1 196.4" stroke="#8a93ac" stroke-width="1.5" stroke-opacity="0.6" fill="none" stroke-linecap="round" stroke-linejoin="round"/>
<path d="M114.2 88.2L113.0 93.0L111.9 97.9L111.2 102.9L110.7 107.8L110.4 112.8L110.0 117.8L109.3 122.8L108.2 127.6L107.1 132.5L106.0 137.4M105.0 147.3M224.3 48.9M222.3 58.7L221.4 63.6L220.8 68.5L220.6 73.5L220.4 78.5L220.0 83.5L219.1 88.4M215.1 17.3L215.2 22.3L214.7 27.3L214.2 32.3M225.9 98.3L225.8 103.3L225.3 108.3L224.4 113.2L223.4 118.1L222.6 123.0L222.2 128.0L222.0 133.0L221.6 138.0M141.4 114.5L140.5 119.4L139.6 124.4L139.1 129.3L139.0 134.3L138.9 139.3L138.7 144.3L138.1 149.3L137.2 154.2L136.3 159.1L135.5 164.1L135.2 169.1L135.1 174.1L135.0 179.1L134.6 184.1L133.9 189.0M231.8 7.6L231.3 12.6L230.8 17.6M231.0 27.6L231.3 32.6L231.1 37.6L230.6 42.5L230.1 47.5L230.1 52.5M177.2 43.7L177.0 48.7L176.5 53.7L175.6 58.6L174.6 63.5L174.0 68.5L173.9 73.5L173.5 78.5L172.6 83.4" stroke="#a194a6" stroke-width="1.0" stroke-opacity="0.8" fill="none" stroke-linecap="round" stroke-linejoin="round"/>
<path d="M134.5 137.6L133.9 142.5L133.1 147.5L132.4 152.4L132.2 157.4L132.3 162.4M227.6 26.1L227.0 31.1L226.2 36.0L226.0 41.0L226.0 46.0L225.4 50.9L224.6 55.9L224.4 60.9M223.7 70.8L222.9 75.8L222.8 80.8L222.7 85.8L222.1 90.7L221.3 95.7M103.5 110.8L103.0 115.8M101.2 125.6L100.9 130.6L100.7 135.6L100.0 140.5L99.0 145.4L98.3 150.4L98.1 155.4L97.8 160.4L97.0 165.3L96.0 170.2L95.5 175.2L95.3 180.2L94.9 185.1" stroke="#8f90ad" stroke-width="1.5" stroke-opacity="0.6" fill="none" stroke-linecap="round" stroke-linejoin="round"/>
<path d="M204.7 34.9L204.3 39.9L203.7 44.9L203.4 49.9L203.6 54.9L203.9 59.9L203.9 64.9L203.5 69.8M202.7 79.8L202.9 84.8L203.2 89.8L203.2 94.8L202.7 99.8L202.1 104.7L202.0 109.7L202.3 114.7L202.5 119.7M63.7 125.9L63.3 130.9L63.4 135.9L63.2 140.9L62.6 145.8L61.8 150.8L61.4 155.8L61.4 160.8L61.3 165.8M215.1 98.6L214.3 103.5L213.8 108.5M213.5 118.5L213.4 123.5L212.9 128.5L212.1 133.4L211.2 138.3L210.3 143.2L209.7 148.2L209.4 153.2L209.3 158.2L209.2 163.2L208.8 168.2L208.1 173.1L207.2 178.1M168.7 117.9L167.9 122.8L167.5 127.8M167.5 137.8L167.0 142.7L166.2 147.7L165.6 152.6L165.6 157.6L165.7 162.6L165.3 167.6L164.5 172.6M30.3 152.1L29.3 157.0L28.4 161.9L28.1 166.9L27.9 171.9L27.4 176.9L26.3 181.8L25.5 186.7L25.1 191.7L24.9 196.7L24.4 201.7L23.4 206.6L22.5 211.5L22.1 216.5M148.5 118.9L148.0 123.9L147.6 128.9L146.8 133.8L145.7 138.7L144.6 143.5L144.0 148.5L143.7 153.5M226.5 106.8L225.6 111.7L225.3 116.7L225.1 121.7L224.3 126.6M222.8 136.5L222.6 141.5L222.0 146.5" stroke="#a194a6" stroke-width="1.5" stroke-opacity="0.6" fill="none" stroke-linecap="round" stroke-linejoin="round"/>
<path d="M238.6 54.0L237.5 58.8L237.0 63.8L236.7 68.8L236.0 73.8L234.9 78.6M233.5 88.5L233.1 93.5L232.3 98.4L231.2 103.3L230.3 108.2L229.9 113.2L229.6 118.2L228.6 123.1L227.5 128.0L226.7 132.9L226.4 137.9L225.9 142.9M133.1 136.3L133.4 141.3L133.3 146.3L132.7 151.2L132.2 156.2L132.2 161.2L132.5 166.2L132.4 171.2L131.8 176.2L131.3 181.1M96.9 128.6L96.2 133.6L95.8 138.6L95.8 143.6L95.9 148.5M95.2 158.5L94.5 163.5L93.8 168.4L93.4 173.4L93.3 178.4L93.4 183.4L93.3 188.4L92.9 193.4L92.1 198.3L91.4 203.3M90.9 213.2L91.0 218.2M102.0 98.6L102.0 103.6L101.9 108.6L101.4 113.5L100.6 118.5L99.7 123.4L98.9 128.3L98.6 133.3L98.5 138.3L98.4 143.3L98.2 148.3L97.6 153.3M95.8 163.1L95.2 168.1L94.9 173.1M195.6 28.3L195.6 33.3L195.4 38.3L194.9 43.3L194.1 48.2L193.2 53.1M229.8 6.7L229.8 11.7L229.4 16.7L228.8 21.7L228.3 26.6" stroke="#8f90ad" stroke-width="1.5" stroke-opacity="0.8" fill="none" stroke-linecap="round" stroke-linejoin="round"/>
<path d="M66.8 123.1L66.1 128.1L65.8 133.1L65.1 138.0L63.9 142.9L63.1 147.8L62.8 152.8L62.2 157.8M202.1 50.6L201.8 55.6L201.8 60.6L201.3 65.6L200.4 70.5L200.0 75.5L200.0 80.5L199.6 85.5L198.7 90.4L198.2 95.4M197.9 105.4L197.1 110.3L196.4 115.2L196.3 120.2L196.2 125.2L195.4 130.2M192.7 31.4L192.1 36.4L191.8 41.4L191.2 46.4L190.1 51.2L189.0 56.1L188.6 61.1M89.8 108.6L89.0 113.6L88.1 118.5L87.7 123.5L87.6 128.5L87.5 133.5L86.9 138.4L86.0 143.4M120.9 135.0L120.0 139.9L119.5 144.8L119.4 149.8L118.8 154.8L117.9 159.7L117.6 164.7L117.4 169.7L116.6 174.6M230.7 125.0L230.8 130.0L231.0 135.0L230.4 139.9L229.9 144.9L230.0 149.9L230.1 154.9L229.6 159.9L229.1 164.9L229.2 169.9L229.3 174.9L228.7 179.8L228.3 184.8M42.5 141.1L41.3 146.0M63.1 126.6L63.0 131.6L62.2 136.6L61.2 141.5L60.8 146.5L60.7 151.5L60.0 156.4L59.0 161.3L58.6 166.3L58.4 171.3L57.9 176.3L56.9 181.2M133.4 73.9L133.0 78.9L133.1 83.9L133.2 88.9L132.8 93.8L132.1 98.8L131.5 103.8L131.3 108.8L131.5 113.8L131.4 118.8L130.9 123.7M129.7 133.6L129.7 138.6M129.6 148.6L128.9 153.6M40.9 145.8L40.3 150.7L40.0 155.7L40.1 160.7M45.3 142.3L44.7 147.3L44.0 152.2L43.4 157.2L43.2 162.2L43.3 167.2L43.4 172.2M56.5 135.0L56.1 140.0L55.5 144.9L55.2 149.9L55.4 154.9L55.6 159.9L55.5 164.9L54.9 169.9L54.4 174.8L54.4 179.8L54.7 184.8" stroke="#9c8a9c" stroke-width="1.0" stroke-opacity="0.8" fill="none" stroke-linecap="round" stroke-linejoin="round"/>
<path d="M60.0 130.7L59.3 135.6L59.2 140.6L59.2 145.6L58.6 150.6L57.8 155.5L57.5 160.5L57.6 165.5L57.2 170.5L56.4 175.4L55.9 180.4L55.9 185.4M55.0 195.4M108.1 95.8L107.3 100.8L106.3 105.7L105.7 110.6L105.4 115.6L105.3 120.6M104.7 130.6L103.9 135.5L102.9 140.4L102.3 145.4M235.5 83.0L234.7 87.9L234.6 92.9L234.7 97.9L234.1 102.9L233.4 107.8L233.5 112.8L233.4 117.8L232.7 122.8L232.2 127.8L232.4 132.8L232.0 137.8L231.3 142.7L231.1 147.7L231.2 152.7L230.6 157.7L230.0 162.6L230.0 167.6M5.2 168.8L4.4 173.7L4.2 178.7L4.3 183.7L4.0 188.7L3.3 193.7L2.7 198.6L2.7 203.6M42.1 143.3L41.6 148.3L41.5 153.3L41.4 158.3M242.4 17.1L241.6 22.0L240.9 27.0L240.8 32.0L240.6 37.0L239.9 41.9L239.1 46.8L239.0 51.8L238.9 56.8L238.1 61.8L237.3 66.7M213.0 124.0L213.0 129.0L213.2 134.0L213.3 139.0L213.0 144.0L212.4 148.9L211.7 153.9L211.5 158.9L211.6 163.9L211.8 168.9L211.8 173.9L211.3 178.9L210.6 183.8M164.1 62.5L163.1 67.4L162.0 72.2L161.5 77.2L161.3 82.2L160.8 87.2L159.9 92.1L158.8 97.0L158.2 101.9L157.9 106.9L157.6 111.9L156.7 116.8L155.6 121.7L154.8 126.7L154.6 131.7L154.3 136.7L153.5 141.6" stroke="#9a8ea8" stroke-width="1.0" stroke-opacity="0.8" fill="none" stroke-linecap="round" stroke-linejoin="round"/>
<path d="M178.4 48.2L177.2 53.0L176.3 57.9L175.7 62.9L175.3 67.9L175.0 72.9L174.5 77.8L173.7 82.8M206.0 131.4L205.1 136.3L203.9 141.2L202.9 146.1L202.5 151.1L202.1 156.0L201.3 161.0M139.4 83.3L139.4 88.3L139.2 93.3L138.5 98.2L137.8 103.2L137.7 108.2L137.8 113.2L137.3 118.2L136.5 123.1L136.0 128.1L136.1 133.1L136.0 138.1L135.4 143.0L134.6 148.0L134.3 153.0L134.4 158.0L134.2 163.0L133.4 167.9M233.5 51.9L233.1 56.9L232.3 61.8L231.6 66.8L231.5 71.8L231.5 76.8L231.0 81.8L230.1 86.7L229.6 91.7L229.6 96.7L229.5 101.7M228.0 111.5L227.6 116.5L227.7 121.5M51.5 136.0L50.6 140.9L50.0 145.9L50.0 150.9L49.6 155.9L48.7 160.8L48.0 165.7L48.0 170.7L47.6 175.7L46.7 180.6" stroke="#8f90ad" stroke-width="1.0" stroke-opacity="0.6" fill="none" stroke-linecap="round" stroke-linejoin="round"/>
<path d="M225.6 131.1L225.8 136.1L225.6 141.1M224.3 151.0L224.0 156.0L224.1 161.0L224.4 166.0L224.3 171.0L223.8 176.0M230.3 129.0L229.8 134.0L229.2 138.9L228.9 143.9L229.1 148.9L229.3 153.9L229.4 158.9L229.0 163.9L228.4 168.9L227.9 173.8M228.2 193.8L227.7 198.8L227.1 203.8L226.7 208.7L226.8 213.7L227.1 218.7M204.7 22.7L204.3 27.7L203.7 32.6L203.8 37.6L203.9 42.6L203.3 47.6" stroke="#8f90ad" stroke-width="1.0" stroke-opacity="1.0" fill="none" stroke-linecap="round" stroke-linejoin="round"/>
<path d="M199.4 27.2L198.4 32.1M197.4 42.0L196.8 47.0L195.7 51.9L195.1 56.8M177.8 123.4L177.8 128.4L177.2 133.3L176.5 138.3L176.1 143.3L176.2 148.3L176.3 153.3L175.9 158.3M205.4 114.3L205.6 119.3L205.8 124.2L205.4 129.2L205.0 134.2L205.2 139.2L205.4 144.2L205.1 149.2L204.6 154.2M205.0 164.2M41.7 142.5L41.9 147.5M228.2 65.6L227.6 70.6L227.6 75.6L227.0 80.6L226.0 85.5L225.8 90.5L225.6 95.5L224.7 100.4L224.0 105.3L223.9 110.3M44.6 140.1L43.8 145.0L43.4 150.0L43.2 155.0L42.6 159.9L41.5 164.8L40.6 169.7L40.2 174.7L40.0 179.7L39.4 184.7L38.4 189.6L37.5 194.5L37.1 199.5L36.9 204.5L36.3 209.4L35.2 214.3M200.0 29.0M198.7 38.9L198.8 43.9M242.9 87.9L243.3 92.9L243.1 97.9L242.5 102.9L242.5 107.9L242.8 112.9L242.5 117.8L242.0 122.8L242.1 127.8L242.3 132.8L241.9 137.8L241.5 142.8L241.8 147.8L241.8 152.8L241.3 157.7L241.0 162.7L241.4 167.7L241.3 172.7L240.7 177.7M172.7 55.9L172.5 60.8L171.9 65.8L170.9 70.7L169.9 75.6L169.5 80.6L169.2 85.6L168.3 90.5L167.2 95.4L166.6 100.3L166.3 105.3L165.7 110.3L164.6 115.2L163.7 120.1M220.0 99.0L219.9 104.0L219.4 109.0L218.8 113.9L218.6 118.9M219.0 128.9L218.8 133.9L218.2 138.9L217.7 143.9L217.5 148.9L217.8 153.9L217.9 158.9L217.6 163.8L217.0 168.8M216.5 178.8L216.8 183.8L216.8 188.8M200.7 83.0L200.2 88.0L199.4 93.0L199.0 97.9L199.1 102.9L199.0 107.9L198.4 112.9L197.7 117.8L197.3 122.8L197.5 127.8L197.3 132.8L196.6 137.8L195.9 142.7L195.7 147.7L195.8 152.7L195.6 157.7M56.6 133.7L56.3 138.7L55.6 143.6L54.4 148.5L53.3 153.4L52.7 158.3L52.4 163.3L51.9 168.3L51.0 173.2L49.8 178.1" stroke="#8a93ac" stroke-width="1.5" stroke-opacity="0.8" fill="none" stroke-linecap="round" stroke-linejoin="round"/>
<path d="M147.5 65.9L146.5 70.8L146.1 75.8L145.8 80.8L145.2 85.7L144.2 90.6M204.5 51.1L204.5 56.1L204.7 61.1L204.6 66.1M203.3 76.1L202.7 81.0L202.4 86.0L202.5 91.0L202.7 96.0L202.4 101.0L201.8 106.0M172.2 115.5M172.1 125.5L171.4 130.5L170.8 135.4L170.9 140.4L170.6 145.4L169.8 150.3L169.5 155.3L169.6 160.3L169.0 165.3M192.8 46.4L192.3 51.4L192.0 56.4L191.2 61.4L190.0 66.2L189.1 71.1L188.7 76.1L188.3 81.1L187.5 86.0" stroke="#8a93ac" stroke-width="1.0" stroke-opacity="0.6" fill="none" stroke-linecap="round" stroke-linejoin="round"/>
<path d="M234.1 89.7L233.0 94.6L232.1 99.5L231.6 104.5M231.1 114.4L230.5 119.4M117.0 89.1L116.0 94.0L115.2 99.0L115.0 104.0L114.5 108.9L113.4 113.8L112.7 118.8M84.8 112.8L84.5 117.7L83.7 122.7L83.0 127.6L82.8 132.6L82.6 137.6L81.8 142.5M145.5 95.6L144.6 100.5L143.4 105.3L142.4 110.2L142.0 115.2L141.6 120.2L140.7 125.1L139.5 130.0L138.6 134.9L138.2 139.9L137.8 144.9L136.8 149.8L135.6 154.6L134.8 159.6L134.4 164.5L134.0 169.5L133.0 174.4L131.8 179.3M166.3 105.1L165.7 110.0L164.6 114.9L163.7 119.8L163.4 124.8L163.0 129.8L162.2 134.7L161.1 139.6L160.4 144.6L160.2 149.6L159.7 154.5L158.6 159.4L157.7 164.3L157.3 169.3L157.0 174.3L156.2 179.2L155.0 184.1L154.4 189.1M216.6 15.0L215.6 19.8L214.4 24.7L213.5 29.6L212.9 34.6M226.9 8.4M225.9 18.4L224.8 23.3L223.8 28.2L223.1 33.1L222.8 38.1M227.4 32.3L227.1 37.3L226.2 42.2L225.0 47.0L224.5 52.0L224.1 57.0L223.2 61.9L222.0 66.8L221.5 71.7L221.2 76.7L220.2 81.6L219.0 86.5" stroke="#a194a6" stroke-width="1.0" stroke-opacity="0.6" fill="none" stroke-linecap="round" stroke-linejoin="round"/>
<path d="M167.6 105.3L166.5 110.2L165.6 115.1L165.3 120.1L164.9 125.1L164.0 130.0L162.9 134.9M132.1 80.9L131.2 85.8L130.6 90.8L130.4 95.8L130.4 100.8L130.3 105.8L129.9 110.7L129.1 115.7L128.2 120.6L127.6 125.6L127.3 130.6L127.3 135.6L127.2 140.6L126.8 145.5L126.1 150.5M48.7 136.3L48.2 141.3L47.5 146.3L47.1 151.2L47.1 156.2L47.3 161.2M46.6 171.2M89.2 106.8L89.4 111.8L89.6 116.8L89.4 121.8L88.9 126.8L88.2 131.7L87.7 136.7L87.6 141.7L87.8 146.7L88.0 151.7L87.8 156.7M30.7 151.5L30.3 156.5M77.7 118.2L77.6 123.2L77.0 128.2L76.5 133.1L76.6 138.1L76.9 143.1L76.9 148.1L76.4 153.1M242.3 75.8L242.0 80.8L241.6 85.8L240.8 90.7L239.7 95.6M238.0 105.5L237.7 110.4L237.3 115.4M235.5 125.3M221.7 13.2L221.0 18.1L219.9 23.0L218.7 27.9L218.1 32.8L217.7 37.8M162.2 128.3L161.7 133.3L161.1 138.3L160.9 143.3L161.1 148.3L161.0 153.3L160.4 158.2M159.9 168.2L160.0 173.2L159.7 178.2L159.0 183.1L158.7 188.1L158.8 193.1L158.9 198.1L158.4 203.1L157.7 208.0L157.6 213.0M166.6 50.3L166.5 55.3L166.1 60.3L165.2 65.2M163.6 75.1L163.4 80.1L163.1 85.0L162.3 90.0L161.3 94.9L160.5 99.8L160.3 104.8L160.1 109.8L159.4 114.8" stroke="#8f90ad" stroke-width="1.0" stroke-opacity="0.8" fill="none" stroke-linecap="round" stroke-linejoin="round"/>
<path d="M127.2 129.6L126.3 134.5L125.7 139.4L125.4 144.4L125.4 149.4L125.4 154.4L125.2 159.4L124.6 164.4L123.7 169.3M139.6 69.5L139.3 74.5L139.3 79.5L139.3 84.5L138.7 89.4L137.9 94.4L137.3 99.3L137.3 104.3L137.3 109.3" stroke="#9c8a9c" stroke-width="1.0" stroke-opacity="0.6" fill="none" stroke-linecap="round" stroke-linejoin="round"/>
<path d="M165.5 54.0L165.1 59.0L164.0 63.9L162.9 68.8L162.4 73.7L162.1 78.7L161.2 83.6L160.0 88.5L159.4 93.5L159.1 98.5L158.3 103.4L157.1 108.2" stroke="#9c8a9c" stroke-width="1.0" stroke-opacity="1.0" fill="none" stroke-linecap="round" stroke-linejoin="round"/>
<path d="M215.2 129.6L214.1 134.5L213.5 139.4L213.3 144.4L212.9 149.4L212.0 154.3L210.9 159.2L210.3 164.2L210.1 169.2L209.7 174.2L208.8 179.1L207.7 184.0L207.1 188.9L206.9 193.9L206.5 198.9L205.6 203.8L204.6 208.7M68.1 139.3L67.0 144.2L66.3 149.2L66.0 154.1L65.8 159.1L65.4 164.1L64.8 169.1L63.8 174.0L62.7 178.9L61.8 183.8L61.1 188.7M162.0 122.2M161.3 132.2L160.3 137.1L159.2 142.0L158.4 146.9L158.1 151.9L157.7 156.9L156.9 161.8L155.7 166.7L154.8 171.6L154.4 176.6L154.1 181.6L153.4 186.5L152.3 191.4L151.3 196.3L150.8 201.3L150.5 206.3L149.9 211.2" stroke="#a194a6" stroke-width="1.5" stroke-opacity="1.0" fill="none" stroke-linecap="round" stroke-linejoin="round"/>
<path d="M60.6 131.3L60.7 136.3L61.0 141.3L60.9 146.3L60.3 151.2L59.9 156.2L60.1 161.2L60.4 166.2" stroke="#8a93ac" stroke-width="1.0" stroke-opacity="1.0" fill="none" stroke-linecap="round" stroke-linejoin="round"/>
<path d="M122.5 82.3L122.3 87.3L122.5 92.3" stroke="#a194a6" stroke-width="1.0" stroke-opacity="1.0" fill="none" stroke-linecap="round" stroke-linejoin="round"/>
<path d="M239.7 79.6L238.7 84.6L237.6 89.4L237.0 94.4L236.8 99.4L236.3 104.4M228.9 102.5L228.5 107.5L228.7 112.5L228.9 117.5L228.6 122.5L228.1 127.5L228.1 132.5M228.3 142.4L227.7 147.4L227.6 152.4L227.9 157.4L227.9 162.4L227.4 167.4M133.9 115.3L133.7 120.3L133.0 125.3L131.9 130.2L131.2 135.1L131.0 140.1L130.7 145.1L129.8 150.0L128.8 154.9L128.3 159.9L128.1 164.9M164.2 55.8L164.2 60.8L163.9 65.8L163.2 70.7L162.3 75.7L161.5 80.6L161.1 85.6" stroke="#8d8a44" stroke-width="1.0" stroke-opacity="0.8" fill="none" stroke-linecap="round" stroke-linejoin="round"/>
<path d="M55.3 135.4L55.2 140.4L54.5 145.3L54.0 150.3L54.1 155.3L53.8 160.3L53.0 165.2L52.9 170.2L52.9 175.2M103.1 129.9L102.9 134.9L102.0 139.8M101.5 149.8L101.0 154.8L100.1 159.7L99.8 164.7L99.7 169.7L99.0 174.6M98.2 184.6L97.9 189.6L97.0 194.5L96.5 199.5L96.5 204.5" stroke="#8d8a44" stroke-width="1.5" stroke-opacity="0.4" fill="none" stroke-linecap="round" stroke-linejoin="round"/>
<path d="M152.7 76.4L152.4 81.4L152.0 86.4L151.0 91.3L149.8 96.2L149.1 101.1" stroke="#948f4c" stroke-width="1.0" stroke-opacity="0.4" fill="none" stroke-linecap="round" stroke-linejoin="round"/>
<path d="M147.3 66.2L146.3 71.1L145.4 76.0L145.1 81.0L144.8 86.0" stroke="#8d8a44" stroke-width="1.0" stroke-opacity="0.4" fill="none" stroke-linecap="round" stroke-linejoin="round"/>
<path d="M213.1 110.7L213.1 115.7L212.4 120.7L212.3 125.7L212.6 130.7L212.3 135.7L211.7 140.6L211.7 145.6L212.0 150.6L211.6 155.6L211.1 160.6L211.1 165.6L211.4 170.6L210.9 175.5L210.4 180.5M79.5 114.7L79.1 119.7M164.6 53.6L164.1 58.6L163.6 63.6L163.8 68.6M122.9 112.4L122.1 117.4L121.2 122.3L120.9 127.3L120.8 132.3L120.0 137.2L119.1 142.1L118.8 147.1L118.6 152.1L117.9 157.1L117.0 162.0M204.8 126.1L204.1 131.1L204.0 136.1L204.2 141.1L204.0 146.1L203.3 151.0L202.8 156.0L202.8 161.0L202.9 166.0L202.5 171.0L201.8 175.9M116.6 127.6L115.4 132.5L114.7 137.4L114.5 142.4L114.0 147.4M112.0 157.2M73.2 120.8L73.1 125.8L73.0 130.8L72.9 135.8L72.4 140.8L71.6 145.7L70.6 150.6L69.8 155.6" stroke="#a0953f" stroke-width="1.0" stroke-opacity="0.6" fill="none" stroke-linecap="round" stroke-linejoin="round"/>
<path d="M59.4 129.5L58.7 134.5L58.2 139.4M58.3 149.4L57.8 154.4L57.1 159.4L57.0 164.4M103.8 104.2L103.2 109.2L102.5 114.2L101.9 119.1L101.8 124.1L102.0 129.1L102.0 134.1L101.6 139.1L100.9 144.1L100.2 149.0L99.9 154.0M94.0 127.9L93.3 132.9L93.2 137.9L92.9 142.8L92.0 147.8L91.3 152.7L91.2 157.7L91.0 162.7M98.7 102.9L98.5 107.9L98.0 112.9L97.3 117.8L96.7 122.8M161.4 137.9L161.4 142.9L161.6 147.9L161.3 152.9L160.7 157.8L160.8 162.8L161.0 167.8L160.4 172.8L160.0 177.8L160.3 182.8L160.2 187.8L159.6 192.8L159.4 197.8M48.2 137.2L47.5 142.1L47.4 147.1L47.3 152.1L46.7 157.1L45.8 162.0L45.5 167.0L45.5 172.0L45.0 177.0L44.2 181.9L43.6 186.9L43.6 191.9" stroke="#a0953f" stroke-width="1.5" stroke-opacity="0.6" fill="none" stroke-linecap="round" stroke-linejoin="round"/>
<path d="M169.5 49.9L169.0 54.9L168.1 59.8L167.5 64.8M132.0 109.3L131.8 114.3L131.8 119.3L131.6 124.3L131.1 129.3L130.3 134.2M43.9 142.2L43.1 147.1L42.5 152.1L42.3 157.1L42.4 162.1M137.4 87.3L137.3 92.3L136.5 97.3L135.6 102.2M135.2 112.2L134.5 117.1L133.6 122.0L133.3 127.0L133.2 132.0L132.4 137.0L131.6 141.9L131.3 146.9M71.7 120.7M71.1 130.7L71.2 135.7L70.5 140.6L70.1 145.6M39.1 147.8L38.9 152.8L38.9 157.8L39.0 162.8L38.8 167.8L38.3 172.8M237.2 127.8L237.5 132.8L237.6 137.8L237.1 142.8L236.5 147.8L236.4 152.8L236.7 157.8L236.7 162.8M202.0 27.3L201.6 32.3L201.1 37.3L201.2 42.3L201.4 47.3L201.0 52.3L200.5 57.2L200.6 62.2L200.9 67.2M215.1 120.9L215.0 125.9L214.4 130.9L213.4 135.8L212.5 140.7L212.1 145.7L211.9 150.7" stroke="#948f4c" stroke-width="1.5" stroke-opacity="0.6" fill="none" stroke-linecap="round" stroke-linejoin="round"/>
<path d="M183.3 39.9L182.4 44.8L181.3 49.7M207.5 127.2L206.4 132.1M205.4 142.0L204.9 147.0M202.3 161.7M101.4 113.1L100.3 118.0M99.6 127.9L98.8 132.9L97.7 137.8L97.1 142.7L96.9 147.7L96.1 152.7L95.0 157.5M95.0 102.8L94.3 107.8L94.0 112.8L94.2 117.8L93.9 122.8L93.2 127.7" stroke="#948f4c" stroke-width="1.5" stroke-opacity="0.4" fill="none" stroke-linecap="round" stroke-linejoin="round"/>
<path d="M242.8 73.0L242.7 78.0L242.2 83.0L241.6 87.9L241.4 92.9L241.6 97.9L241.7 102.9L241.3 107.9L240.6 112.9L240.2 117.9L240.4 122.9M240.3 132.9L239.7 137.8M131.7 116.1L132.0 121.1L132.1 126.1L131.6 131.0L131.4 136.0L131.7 141.0L131.6 146.0L131.0 151.0M163.8 111.2L163.0 116.1L162.0 121.0L161.4 126.0L161.3 131.0L160.7 136.0L159.6 140.8L158.9 145.8L158.7 150.8L158.3 155.8L157.4 160.7L156.4 165.6M3.8 171.9L2.9 176.8" stroke="#a0953f" stroke-width="1.5" stroke-opacity="0.8" fill="none" stroke-linecap="round" stroke-linejoin="round"/>
<path d="M85.2 139.0L84.5 144.0L84.2 149.0L83.3 153.9L82.2 158.8L81.8 163.8L81.4 168.7L80.3 173.6L79.4 178.5L79.1 183.5L78.5 188.5L77.3 193.4L76.7 198.3L76.4 203.3M116.5 127.8L115.6 132.7L114.9 137.7L114.6 142.7L114.6 147.7M114.4 157.7L113.7 162.6L112.9 167.6L112.2 172.5L111.9 177.5M184.9 135.3L184.9 140.3L185.1 145.3L184.8 150.3L184.2 155.3L184.0 160.3L184.2 165.3L184.1 170.3L183.5 175.2L183.1 180.2L183.3 185.2" stroke="#8d8a44" stroke-width="1.5" stroke-opacity="0.8" fill="none" stroke-linecap="round" stroke-linejoin="round"/>
<path d="M206.0 48.2L204.9 53.1L204.4 58.1L204.1 63.1L203.2 68.0L202.2 72.9L201.8 77.9L201.4 82.9L200.4 87.8M224.1 36.6M223.4 46.5L223.0 51.5L222.1 56.4L221.0 61.3L220.2 66.2L219.9 71.2L219.7 76.2L219.1 81.2L218.1 86.1L217.0 91.0L216.4 95.9L216.2 100.9L215.8 105.9M238.8 37.8L237.7 42.6M236.8 52.6L236.2 57.6L235.1 62.4L234.4 67.4L234.2 72.4M59.6 132.0L59.5 137.0L58.8 141.9L58.0 146.9L57.9 151.9L57.6 156.9" stroke="#8d8a44" stroke-width="1.5" stroke-opacity="0.6" fill="none" stroke-linecap="round" stroke-linejoin="round"/>
<path d="M241.5 124.5M240.3 134.4L239.1 139.2L238.3 144.1L237.9 149.1L237.3 154.1L236.2 159.0L235.1 163.8L234.6 168.8L234.2 173.8M155.8 67.9L155.8 72.9L155.6 77.9L154.8 82.9L154.0 87.8L153.5 92.8L153.4 97.8L153.4 102.8L152.9 107.7L152.0 112.6L151.3 117.6L151.1 122.6" stroke="#a0953f" stroke-width="1.0" stroke-opacity="0.4" fill="none" stroke-linecap="round" stroke-linejoin="round"/>
<path d="M158.7 60.6L158.6 65.6L158.3 70.6L157.4 75.5L156.4 80.4L155.8 85.4L155.6 90.4L155.4 95.4L154.8 100.3L153.9 105.2L153.0 110.1L152.5 115.1L152.4 120.1L152.1 125.1L151.3 130.0M136.5 97.5L136.7 102.5L136.5 107.5L135.9 112.5L135.5 117.5L135.7 122.5M207.4 56.3M206.6 66.3L205.5 71.2L204.8 76.1L204.5 81.1L203.8 86.1L202.7 90.9L202.2 95.9M179.1 136.4M178.2 146.4L177.7 151.4L177.5 156.4L177.6 161.4L177.9 166.4L178.1 171.3L177.9 176.3M50.0 137.0L50.1 142.0L49.9 147.0L49.3 152.0L48.5 156.9L48.0 161.9L48.0 166.9L48.0 171.9L47.6 176.9L46.8 181.8M45.9 191.7L45.9 196.7L45.8 201.7L45.2 206.7M227.1 8.3L226.2 13.2L225.5 18.2L225.0 23.1L224.9 28.1L224.9 33.1L224.7 38.1" stroke="#948f4c" stroke-width="1.0" stroke-opacity="0.6" fill="none" stroke-linecap="round" stroke-linejoin="round"/>
<path d="M53.5 132.8L53.7 137.8L53.9 142.8L53.6 147.8L53.0 152.7L52.7 157.7L52.9 162.7L53.1 167.7L52.7 172.7L52.1 177.6L51.9 182.6M200.2 25.1M199.8 35.1L199.3 40.1L199.4 45.1M219.7 79.9L219.8 84.9L219.7 89.9L219.0 94.9L218.3 99.8L218.3 104.8L218.4 109.8M217.3 119.8L216.8 124.7L216.9 129.7L216.9 134.7L216.4 139.7" stroke="#948f4c" stroke-width="1.5" stroke-opacity="0.8" fill="none" stroke-linecap="round" stroke-linejoin="round"/>
<path d="M123.4 113.4L122.8 118.4L122.6 123.3L122.6 128.3L122.2 133.3L121.3 138.3" stroke="#948f4c" stroke-width="1.0" stroke-opacity="0.8" fill="none" stroke-linecap="round" stroke-linejoin="round"/>
<path d="M135.4 75.9L134.4 80.8L133.7 85.7M115.3 131.6L115.3 136.6L115.6 141.6L115.8 146.6L115.7 151.6L115.2 156.6L114.7 161.6M85.9 112.0L85.6 117.0L84.7 121.9L84.1 126.9L84.1 131.9L83.7 136.9L82.8 141.8L82.3 146.7L82.3 151.7L81.8 156.7L80.9 161.6M98.1 100.7L97.4 105.7L96.6 110.6L96.5 115.6L96.4 120.6L95.6 125.6" stroke="#a0953f" stroke-width="1.0" stroke-opacity="0.8" fill="none" stroke-linecap="round" stroke-linejoin="round"/>
<path d="M182.8 41.2L182.3 46.2M127.8 105.4L127.2 110.4L126.4 115.3L126.3 120.3L126.3 125.3L125.9 130.3L125.1 135.2L124.7 140.2L124.7 145.2L124.6 150.2L123.9 155.1L123.2 160.1L123.1 165.1" stroke="#8d8a44" stroke-width="1.0" stroke-opacity="0.6" fill="none" stroke-linecap="round" stroke-linejoin="round"/>
<path d="M163.9 69.7L163.6 74.7L162.8 79.7L162.2 84.6L162.3 89.6L162.2 94.6L161.5 99.6L160.8 104.5L160.6 109.5L160.7 114.5L160.1 119.5M160.7 56.5L160.2 61.4L160.2 66.4L159.8 71.4L159.0 76.3L158.5 81.3L158.5 86.3L158.1 91.3L157.3 96.2L156.7 101.2L156.8 106.2L156.4 111.2M163.0 122.1L162.6 127.1L161.8 132.0L161.1 137.0L160.9 142.0L161.0 147.0M236.3 138.7L235.7 143.7L234.8 148.6L233.9 153.5L233.1 158.5L232.7 163.5L232.5 168.5L232.4 173.5M142.9 121.0L142.1 126.0L141.9 131.0L141.7 136.0L141.0 140.9L140.1 145.8L139.5 150.8L139.4 155.8L139.1 160.8L138.2 165.7L137.3 170.6L136.9 175.6M99.5 136.4L99.4 141.4L99.7 146.4L99.9 151.4M98.7 166.3L98.8 171.3L99.1 176.3M98.8 186.3M138.4 115.8L137.2 120.7L136.2 125.6M135.3 135.6L134.5 140.5L133.3 145.3L132.3 150.2" stroke="#d39c2c" stroke-width="1.0" stroke-opacity="0.6" fill="none" stroke-linecap="round" stroke-linejoin="round"/>
<path d="M236.7 50.1L236.6 55.1L236.8 60.1L236.8 65.1L236.6 70.0L236.0 75.0L235.3 80.0L234.6 84.9M195.3 129.1L195.2 134.1L195.3 139.1L195.0 144.1L194.2 149.1L193.8 154.1L193.9 159.1L193.8 164.1L193.1 169.0L192.5 174.0L192.5 179.0L192.6 184.0L192.0 188.9L191.3 193.9M185.9 71.0L185.6 76.0L185.7 81.0L185.4 86.0L184.7 91.0L184.3 96.0L184.5 101.0L184.2 105.9L183.4 110.9L183.1 115.9M188.3 81.3L187.5 86.3L187.3 91.3L187.1 96.2L186.4 101.2L185.4 106.1L184.6 111.0L184.4 116.0L184.2 121.0L183.6 126.0M210.9 56.6L209.8 61.5L209.0 66.4L208.5 71.4L208.2 76.4L207.8 81.4L207.1 86.3L206.1 91.2L204.9 96.1L203.9 101.0L203.2 105.9L202.9 110.9L202.6 115.9M159.9 82.2L159.6 87.2L158.8 92.2L158.1 97.1L157.7 102.1L157.8 107.1L157.8 112.1L157.3 117.1L156.4 122.0L155.8 127.0L155.7 132.0L155.8 137.0" stroke="#d39c2c" stroke-width="1.5" stroke-opacity="0.8" fill="none" stroke-linecap="round" stroke-linejoin="round"/>
<path d="M223.3 10.5L222.9 15.5L222.8 20.5M190.3 59.4L190.4 64.4L189.9 69.4L189.2 74.3L189.2 79.3L189.2 84.3M240.2 -1.1L240.0 3.9L239.7 8.8L238.9 13.8L237.9 18.7L237.1 23.6L236.7 28.6L236.6 33.6L236.1 38.6L235.3 43.5M-6.8 176.9L-7.3 181.9L-8.4 186.8L-8.9 191.8M132.9 105.0L133.2 110.0L133.2 115.0L132.8 119.9L132.2 124.9L132.2 129.9L132.5 134.9L132.5 139.9L131.9 144.9L131.4 149.8M203.2 67.5L202.3 72.4L201.6 77.4L201.5 82.4L201.3 87.4L200.4 92.3" stroke="#d39c2c" stroke-width="1.5" stroke-opacity="0.6" fill="none" stroke-linecap="round" stroke-linejoin="round"/>
<path d="M228.4 131.0L228.3 136.0L227.8 141.0L226.9 145.9L226.2 150.8L226.1 155.8M155.7 100.0L155.3 105.0L155.4 110.0L155.3 115.0L154.5 119.9L153.9 124.9L153.8 129.9M27.5 151.6L26.8 156.5L26.3 161.5L26.2 166.5L26.4 171.5L26.3 176.5M192.4 54.7L191.4 59.6L190.9 64.6L190.7 69.6L190.2 74.6L189.3 79.5L188.2 84.4L187.3 89.3L186.8 94.3" stroke="#c4842c" stroke-width="1.5" stroke-opacity="0.6" fill="none" stroke-linecap="round" stroke-linejoin="round"/>
<path d="M218.3 74.2L217.7 79.2L217.1 84.1L216.9 89.1L217.1 94.1L217.3 99.1L217.1 104.1L216.5 109.1L215.9 114.1M85.9 112.9L84.7 117.8L83.8 122.7L83.5 127.7L83.0 132.7L81.9 137.6L80.8 142.4L80.2 147.4M170.4 49.2L169.8 54.1L169.7 59.1L169.6 64.1L168.9 69.1M167.6 79.0L167.6 84.0L167.4 89.0L166.6 93.9L165.8 98.9L165.5 103.9M92.2 109.3L91.5 114.2L91.2 119.2L91.3 124.2L91.0 129.2L90.2 134.1L89.5 139.1L89.4 144.1L89.4 149.1L89.0 154.1L88.2 159.0L87.6 164.0L87.5 169.0L87.5 174.0L87.0 179.0L86.2 183.9" stroke="#cc9528" stroke-width="1.5" stroke-opacity="0.8" fill="none" stroke-linecap="round" stroke-linejoin="round"/>
<path d="M205.8 22.5L205.9 27.5L206.0 32.5L205.6 37.4M225.5 128.2L225.0 133.2L224.7 138.2L224.2 143.1L223.3 148.0L222.1 152.9L221.1 157.8M109.3 91.6L109.4 96.6L109.6 101.6L109.2 106.6L108.8 111.6L109.1 116.5L109.1 121.5L108.6 126.5L108.4 131.5L108.7 136.5L108.6 141.5L108.0 146.5L108.0 151.5L108.3 156.5L107.9 161.4M222.3 63.3L222.5 68.3L222.3 73.3L221.8 78.2L221.3 83.2L221.3 88.2L221.7 93.2L221.9 98.2M221.1 108.2" stroke="#d39c2c" stroke-width="1.0" stroke-opacity="0.8" fill="none" stroke-linecap="round" stroke-linejoin="round"/>
<path d="M235.9 106.7L235.2 111.6M233.1 121.4L232.2 126.3L231.8 131.3L231.6 136.3L231.3 141.3M205.8 23.9L205.5 28.9L205.2 33.9L204.4 38.8L203.2 43.7L202.3 48.6M236.9 42.3L236.9 47.3L236.5 52.3L235.9 57.3L235.7 62.2L235.9 67.2L236.2 72.2L236.0 77.2L235.5 82.2L235.0 87.2L234.9 92.2L235.2 97.2L235.4 102.2L235.1 107.2L234.5 112.1M57.9 137.1L57.0 142.0L55.9 146.9L55.3 151.8L55.1 156.8M53.1 166.6L52.4 171.6L52.2 176.6M153.9 85.8L153.9 90.8L154.0 95.8L153.6 100.8L152.9 105.7L152.3 110.7L152.1 115.7L152.3 120.7L152.1 125.7L151.5 130.7L150.7 135.6L150.4 140.6M101.0 101.5L100.6 106.5L100.6 111.5L100.0 116.4" stroke="#c4842c" stroke-width="1.0" stroke-opacity="0.6" fill="none" stroke-linecap="round" stroke-linejoin="round"/>
<path d="M220.4 11.5L219.8 16.5L218.9 21.4L217.9 26.3L217.1 31.2L216.6 36.2M216.3 46.2M127.7 135.3L127.0 140.3L126.3 145.2L126.1 150.2L126.2 155.2L125.9 160.2M124.5 170.1L124.5 175.1L124.5 180.1L124.0 185.1L123.2 190.0L122.8 195.0L122.9 200.0M6.6 169.4L6.1 174.4L6.2 179.4L6.2 184.4" stroke="#c4842c" stroke-width="1.5" stroke-opacity="0.8" fill="none" stroke-linecap="round" stroke-linejoin="round"/>
<path d="M176.6 75.2L175.4 80.0L174.5 85.0L174.0 89.9L173.7 94.9L173.1 99.9L172.1 104.8L170.9 109.6L169.9 114.5L169.4 119.5L169.1 124.5L168.5 129.5L167.5 134.4L166.3 139.2M90.0 105.7L89.6 110.7L88.8 115.6L88.1 120.6L87.9 125.6L88.0 130.6M67.4 122.3L67.3 127.3L66.5 132.2L65.7 137.2L65.7 142.2L65.3 147.2L64.4 152.1L63.9 157.1L63.9 162.1L63.3 167.0L62.4 171.9M170.2 81.2L169.4 86.2L168.7 91.1L168.5 96.1L168.6 101.1L168.2 106.1L167.4 111.1L166.8 116.0L166.7 121.0L166.7 126.0L166.3 131.0M153.7 59.7L152.8 64.7L152.3 69.6M180.8 39.5L180.0 44.4L179.6 49.4L179.7 54.4L179.5 59.4M77.9 137.3L77.8 142.3L77.5 147.3L76.6 152.2L75.7 157.1L75.3 162.1L75.2 167.1L74.9 172.1L74.1 177.0L73.1 181.9L72.6 186.9L72.5 191.9M242.7 128.1L242.8 133.1L242.7 138.1L242.0 143.1L241.5 148.0L241.6 153.0L241.5 158.0M240.3 168.0L240.4 173.0L240.4 177.9" stroke="#c98f24" stroke-width="1.5" stroke-opacity="0.8" fill="none" stroke-linecap="round" stroke-linejoin="round"/>
<path d="M147.4 63.8L147.1 68.8L147.2 73.8L147.3 78.8L147.0 83.8L146.3 88.7L145.8 93.7L145.9 98.7L146.1 103.7L145.8 108.7L145.1 113.6L144.6 118.6M82.8 114.1L83.1 119.1L83.0 124.1L82.4 129.0L82.2 134.0L82.4 139.0L82.4 144.0M191.4 97.2L190.9 102.2M190.0 112.1L190.1 117.1L190.4 122.1M75.1 117.4L74.3 122.3L73.7 127.3L73.6 132.3L73.7 137.3L73.6 142.3L73.0 147.3L72.2 152.2L71.7 157.2L71.6 162.2M38.0 147.4L37.7 152.4L37.1 157.3L36.7 162.3L36.9 167.3L37.2 172.3" stroke="#c98f24" stroke-width="1.0" stroke-opacity="0.6" fill="none" stroke-linecap="round" stroke-linejoin="round"/>
<path d="M198.2 65.3L198.0 70.3L197.8 75.3L197.2 80.2L196.2 85.1L195.4 90.1L195.2 95.1L195.1 100.1L194.5 105.0L193.6 109.9L192.8 114.9L192.5 119.9M181.2 61.5L180.7 66.5L179.9 71.4L179.8 76.4L179.9 81.4L179.6 86.4L178.8 91.4L178.4 96.4L178.6 101.3L178.4 106.3L177.7 111.3M88.3 110.8L87.9 115.7L87.4 120.7L87.3 125.7L87.6 130.7L87.8 135.7L87.6 140.7M153.4 139.3L153.4 144.3L152.9 149.3L152.2 154.2L151.9 159.2L152.0 164.2L151.8 169.2L151.1 174.2L150.5 179.1L150.5 184.1L150.6 189.1L150.0 194.1M109.0 91.9L108.5 96.9L108.5 101.9L108.7 106.8L108.9 111.8L108.8 116.8" stroke="#c98f24" stroke-width="1.5" stroke-opacity="0.6" fill="none" stroke-linecap="round" stroke-linejoin="round"/>
<path d="M173.5 44.6L172.6 49.5L172.2 54.5L172.3 59.5L172.0 64.5L171.1 69.4L170.6 74.4L170.6 79.4M64.9 125.1L64.6 130.1L64.7 135.1L64.1 140.1L63.3 145.0L63.1 150.0L63.1 155.0L62.5 160.0L61.7 164.9L61.5 169.9M37.0 145.1L37.0 150.1L36.8 155.1L36.1 160.1L35.3 165.0L34.7 169.9L34.5 174.9L34.5 179.9L34.5 184.9L34.1 189.9L33.4 194.9M17.6 158.9L16.8 163.8" stroke="#c98f24" stroke-width="1.0" stroke-opacity="0.8" fill="none" stroke-linecap="round" stroke-linejoin="round"/>
<path d="M207.6 62.8L207.3 67.8L206.6 72.7L205.6 77.6L204.5 82.5L203.9 87.5L203.6 92.5L203.1 97.4L202.2 102.3L201.0 107.2L200.2 112.1L199.9 117.1L199.5 122.1M219.8 12.2L219.1 17.2L218.3 22.1M18.5 161.2M16.5 171.0L15.4 175.9L14.7 180.8M184.6 111.7L184.1 116.7L183.8 121.7L183.4 126.7L182.5 131.6L181.5 136.5L180.7 141.4L180.4 146.4M179.5 156.3M219.1 35.6L218.9 40.6L218.8 45.6L218.0 50.5L217.4 55.5L217.5 60.5L217.1 65.5M215.9 75.4L215.9 80.4L215.2 85.3L214.5 90.3L214.4 95.3L214.2 100.3" stroke="#cc9528" stroke-width="1.0" stroke-opacity="0.8" fill="none" stroke-linecap="round" stroke-linejoin="round"/>
<path d="M30.9 152.2L30.0 157.1L28.8 161.9L27.8 166.8L27.4 171.8L27.0 176.8L26.1 181.7M169.8 138.3L168.7 143.1L167.8 148.0L167.3 153.0L166.9 158.0L166.5 163.0M23.7 159.0L23.7 164.0L23.3 169.0L22.4 173.9" stroke="#cc9528" stroke-width="1.5" stroke-opacity="0.6" fill="none" stroke-linecap="round" stroke-linejoin="round"/>
<path d="M137.9 92.4L137.8 97.3L137.3 102.3M135.9 112.2L135.6 117.2L135.7 122.2L135.8 127.2M227.8 109.5L228.1 114.5L227.9 119.4L227.3 124.4L226.8 129.4M227.2 139.4L227.1 144.4L226.6 149.4L226.1 154.3L226.0 159.3L226.3 164.3M80.1 117.7M79.5 127.7L79.1 132.7M79.0 142.7L78.3 147.6L78.1 152.6L78.2 157.6L77.8 162.6L77.1 167.5L77.2 172.5" stroke="#c4842c" stroke-width="1.0" stroke-opacity="0.8" fill="none" stroke-linecap="round" stroke-linejoin="round"/>
<path d="M109.5 95.6L108.6 100.5L107.5 105.4L106.8 110.3L106.4 115.3M163.0 55.2L161.9 60.0L161.4 65.0L161.0 70.0L160.0 74.9L158.8 79.8L158.2 84.7L157.9 89.7L157.0 94.6L155.8 99.5M-1.4 172.9L-1.6 177.9L-2.3 182.9M209.3 34.5L208.7 39.5L208.1 44.4L207.9 49.4L208.1 54.4L208.4 59.4L208.4 64.4L208.1 69.4L207.5 74.4L206.9 79.3L206.7 84.3" stroke="#cc9528" stroke-width="1.0" stroke-opacity="0.6" fill="none" stroke-linecap="round" stroke-linejoin="round"/>
</g>
<g filter="url(#bl05)"><path d="M168.5 97.7a0.9 0.9 0 1 0 1.8 0a0.9 0.9 0 1 0 -1.8 0M113.9 114.7a0.6 0.6 0 1 0 1.1 0a0.6 0.6 0 1 0 -1.1 0M158.9 102.1a0.9 0.9 0 1 0 1.7 0a0.9 0.9 0 1 0 -1.7 0M65.9 137.4a0.6 0.6 0 1 0 1.3 0a0.6 0.6 0 1 0 -1.3 0M80.7 117.8a0.8 0.8 0 1 0 1.6 0a0.8 0.8 0 1 0 -1.6 0M175.4 73.4a0.5 0.5 0 1 0 1.1 0a0.5 0.5 0 1 0 -1.1 0M97.9 115.1a0.8 0.8 0 1 0 1.6 0a0.8 0.8 0 1 0 -1.6 0M149.2 68.1a0.9 0.9 0 1 0 1.8 0a0.9 0.9 0 1 0 -1.8 0M218.4 51.4a0.8 0.8 0 1 0 1.7 0a0.8 0.8 0 1 0 -1.7 0M106.6 136.8a0.6 0.6 0 1 0 1.1 0a0.6 0.6 0 1 0 -1.1 0M202.5 72.6a0.7 0.7 0 1 0 1.3 0a0.7 0.7 0 1 0 -1.3 0M108.9 106.8a0.8 0.8 0 1 0 1.6 0a0.8 0.8 0 1 0 -1.6 0" fill="#a9b4c0" fill-opacity="0.8"/>
<path d="M193.8 64.6a0.6 0.6 0 1 0 1.3 0a0.6 0.6 0 1 0 -1.3 0M143.7 88.2a1.1 1.1 0 1 0 2.1 0a1.1 1.1 0 1 0 -2.1 0M182.9 70.4a1.1 1.1 0 1 0 2.2 0a1.1 1.1 0 1 0 -2.2 0M149.4 66.4a0.9 0.9 0 1 0 1.8 0a0.9 0.9 0 1 0 -1.8 0M109.6 125.3a0.5 0.5 0 1 0 1.1 0a0.5 0.5 0 1 0 -1.1 0M107.4 126.5a0.5 0.5 0 1 0 1.1 0a0.5 0.5 0 1 0 -1.1 0M106.3 117.1a0.9 0.9 0 1 0 1.8 0a0.9 0.9 0 1 0 -1.8 0M139.3 118.0a1.1 1.1 0 1 0 2.2 0a1.1 1.1 0 1 0 -2.2 0M147.9 65.2a0.7 0.7 0 1 0 1.4 0a0.7 0.7 0 1 0 -1.4 0M227.2 16.1a0.7 0.7 0 1 0 1.3 0a0.7 0.7 0 1 0 -1.3 0" fill="#7f93b0" fill-opacity="0.8"/>
<path d="M79.4 119.7a0.8 0.8 0 1 0 1.6 0a0.8 0.8 0 1 0 -1.6 0M169.7 48.4a1.0 1.0 0 1 0 2.1 0a1.0 1.0 0 1 0 -2.1 0M175.5 59.8a1.0 1.0 0 1 0 2.1 0a1.0 1.0 0 1 0 -2.1 0M143.6 100.1a0.6 0.6 0 1 0 1.3 0a0.6 0.6 0 1 0 -1.3 0M111.8 113.4a1.0 1.0 0 1 0 1.9 0a1.0 1.0 0 1 0 -1.9 0M119.0 114.2a0.8 0.8 0 1 0 1.6 0a0.8 0.8 0 1 0 -1.6 0M177.9 86.9a0.9 0.9 0 1 0 1.8 0a0.9 0.9 0 1 0 -1.8 0M165.7 57.8a0.6 0.6 0 1 0 1.2 0a0.6 0.6 0 1 0 -1.2 0M218.3 35.6a0.7 0.7 0 1 0 1.5 0a0.7 0.7 0 1 0 -1.5 0M206.4 56.7a0.7 0.7 0 1 0 1.5 0a0.7 0.7 0 1 0 -1.5 0M232.2 43.0a0.9 0.9 0 1 0 1.8 0a0.9 0.9 0 1 0 -1.8 0M154.9 62.2a0.7 0.7 0 1 0 1.3 0a0.7 0.7 0 1 0 -1.3 0M180.3 46.2a0.6 0.6 0 1 0 1.2 0a0.6 0.6 0 1 0 -1.2 0M89.9 117.7a0.9 0.9 0 1 0 1.8 0a0.9 0.9 0 1 0 -1.8 0M67.0 130.2a0.5 0.5 0 1 0 1.1 0a0.5 0.5 0 1 0 -1.1 0M194.5 72.2a1.0 1.0 0 1 0 2.1 0a1.0 1.0 0 1 0 -2.1 0M122.4 83.8a1.0 1.0 0 1 0 2.1 0a1.0 1.0 0 1 0 -2.1 0M139.3 70.3a0.8 0.8 0 1 0 1.5 0a0.8 0.8 0 1 0 -1.5 0" fill="#8ea0b6" fill-opacity="0.6"/>
<path d="M122.4 131.4a0.9 0.9 0 1 0 1.7 0a0.9 0.9 0 1 0 -1.7 0M213.3 54.6a0.9 0.9 0 1 0 1.7 0a0.9 0.9 0 1 0 -1.7 0M188.5 72.6a0.8 0.8 0 1 0 1.5 0a0.8 0.8 0 1 0 -1.5 0M211.2 54.1a0.7 0.7 0 1 0 1.3 0a0.7 0.7 0 1 0 -1.3 0M201.7 48.7a0.9 0.9 0 1 0 1.7 0a0.9 0.9 0 1 0 -1.7 0M140.2 87.5a0.8 0.8 0 1 0 1.6 0a0.8 0.8 0 1 0 -1.6 0M229.8 36.6a0.9 0.9 0 1 0 1.9 0a0.9 0.9 0 1 0 -1.9 0M122.3 126.5a0.6 0.6 0 1 0 1.2 0a0.6 0.6 0 1 0 -1.2 0M115.4 95.8a0.7 0.7 0 1 0 1.4 0a0.7 0.7 0 1 0 -1.4 0M191.7 75.3a1.0 1.0 0 1 0 2.0 0a1.0 1.0 0 1 0 -2.0 0M185.6 71.6a0.9 0.9 0 1 0 1.7 0a0.9 0.9 0 1 0 -1.7 0" fill="#a9b4c0" fill-opacity="0.4"/>
<path d="M137.4 111.7a0.8 0.8 0 1 0 1.5 0a0.8 0.8 0 1 0 -1.5 0M143.0 113.8a1.1 1.1 0 1 0 2.2 0a1.1 1.1 0 1 0 -2.2 0M208.9 39.5a0.9 0.9 0 1 0 1.9 0a0.9 0.9 0 1 0 -1.9 0M152.0 79.5a0.7 0.7 0 1 0 1.4 0a0.7 0.7 0 1 0 -1.4 0M188.5 40.4a0.8 0.8 0 1 0 1.6 0a0.8 0.8 0 1 0 -1.6 0M188.3 58.9a0.8 0.8 0 1 0 1.6 0a0.8 0.8 0 1 0 -1.6 0" fill="#8ea0b6" fill-opacity="0.4"/>
<path d="M119.9 118.2a1.0 1.0 0 1 0 2.0 0a1.0 1.0 0 1 0 -2.0 0M78.0 121.2a1.1 1.1 0 1 0 2.1 0a1.1 1.1 0 1 0 -2.1 0M129.8 78.4a0.5 0.5 0 1 0 1.0 0a0.5 0.5 0 1 0 -1.0 0M80.3 117.1a0.8 0.8 0 1 0 1.7 0a0.8 0.8 0 1 0 -1.7 0M106.5 102.5a0.6 0.6 0 1 0 1.1 0a0.6 0.6 0 1 0 -1.1 0M179.7 63.8a1.0 1.0 0 1 0 2.0 0a1.0 1.0 0 1 0 -2.0 0M195.0 36.8a1.0 1.0 0 1 0 2.0 0a1.0 1.0 0 1 0 -2.0 0M165.4 61.5a1.0 1.0 0 1 0 2.0 0a1.0 1.0 0 1 0 -2.0 0M175.9 49.4a0.7 0.7 0 1 0 1.3 0a0.7 0.7 0 1 0 -1.3 0M69.0 124.0a1.0 1.0 0 1 0 1.9 0a1.0 1.0 0 1 0 -1.9 0" fill="#8ea0b6" fill-opacity="0.8"/>
<path d="M185.9 72.0a0.8 0.8 0 1 0 1.6 0a0.8 0.8 0 1 0 -1.6 0M140.9 68.4a0.7 0.7 0 1 0 1.5 0a0.7 0.7 0 1 0 -1.5 0M74.3 122.5a0.5 0.5 0 1 0 1.0 0a0.5 0.5 0 1 0 -1.0 0M224.6 55.6a0.9 0.9 0 1 0 1.9 0a0.9 0.9 0 1 0 -1.9 0M100.1 124.1a0.6 0.6 0 1 0 1.3 0a0.6 0.6 0 1 0 -1.3 0M143.5 105.0a0.5 0.5 0 1 0 1.0 0a0.5 0.5 0 1 0 -1.0 0M109.4 105.4a1.0 1.0 0 1 0 2.0 0a1.0 1.0 0 1 0 -2.0 0M130.4 80.7a0.7 0.7 0 1 0 1.3 0a0.7 0.7 0 1 0 -1.3 0M103.6 133.0a0.9 0.9 0 1 0 1.7 0a0.9 0.9 0 1 0 -1.7 0M126.3 91.4a1.0 1.0 0 1 0 2.0 0a1.0 1.0 0 1 0 -2.0 0M213.6 16.6a0.6 0.6 0 1 0 1.2 0a0.6 0.6 0 1 0 -1.2 0M119.5 94.2a1.0 1.0 0 1 0 2.0 0a1.0 1.0 0 1 0 -2.0 0M227.7 6.9a0.9 0.9 0 1 0 1.9 0a0.9 0.9 0 1 0 -1.9 0M99.5 131.3a1.0 1.0 0 1 0 2.0 0a1.0 1.0 0 1 0 -2.0 0" fill="#7f93b0" fill-opacity="0.6"/>
<path d="M192.8 50.8a1.0 1.0 0 1 0 2.0 0a1.0 1.0 0 1 0 -2.0 0M103.0 121.1a1.1 1.1 0 1 0 2.1 0a1.1 1.1 0 1 0 -2.1 0M90.5 118.4a1.1 1.1 0 1 0 2.1 0a1.1 1.1 0 1 0 -2.1 0M203.9 64.4a0.6 0.6 0 1 0 1.3 0a0.6 0.6 0 1 0 -1.3 0M196.1 52.5a0.6 0.6 0 1 0 1.2 0a0.6 0.6 0 1 0 -1.2 0M195.7 77.7a0.6 0.6 0 1 0 1.2 0a0.6 0.6 0 1 0 -1.2 0M199.9 33.1a0.7 0.7 0 1 0 1.5 0a0.7 0.7 0 1 0 -1.5 0M218.3 36.0a0.5 0.5 0 1 0 1.1 0a0.5 0.5 0 1 0 -1.1 0M80.0 114.0a0.7 0.7 0 1 0 1.4 0a0.7 0.7 0 1 0 -1.4 0M132.4 113.5a1.0 1.0 0 1 0 1.9 0a1.0 1.0 0 1 0 -1.9 0M192.0 54.1a0.6 0.6 0 1 0 1.1 0a0.6 0.6 0 1 0 -1.1 0M137.3 79.5a0.9 0.9 0 1 0 1.8 0a0.9 0.9 0 1 0 -1.8 0M194.8 56.9a1.1 1.1 0 1 0 2.1 0a1.1 1.1 0 1 0 -2.1 0M202.6 48.2a0.8 0.8 0 1 0 1.6 0a0.8 0.8 0 1 0 -1.6 0M63.1 125.8a1.0 1.0 0 1 0 1.9 0a1.0 1.0 0 1 0 -1.9 0M144.6 72.4a1.0 1.0 0 1 0 2.0 0a1.0 1.0 0 1 0 -2.0 0M219.3 40.7a0.6 0.6 0 1 0 1.2 0a0.6 0.6 0 1 0 -1.2 0" fill="#6f86a6" fill-opacity="0.6"/>
<path d="M54.6 136.0a1.0 1.0 0 1 0 2.0 0a1.0 1.0 0 1 0 -2.0 0M94.7 139.2a0.7 0.7 0 1 0 1.4 0a0.7 0.7 0 1 0 -1.4 0M153.2 61.0a1.0 1.0 0 1 0 2.0 0a1.0 1.0 0 1 0 -2.0 0M135.4 95.2a0.8 0.8 0 1 0 1.5 0a0.8 0.8 0 1 0 -1.5 0M196.1 49.4a0.5 0.5 0 1 0 1.0 0a0.5 0.5 0 1 0 -1.0 0M164.5 103.4a0.7 0.7 0 1 0 1.4 0a0.7 0.7 0 1 0 -1.4 0M160.7 67.9a1.0 1.0 0 1 0 2.0 0a1.0 1.0 0 1 0 -2.0 0M126.2 106.8a0.6 0.6 0 1 0 1.1 0a0.6 0.6 0 1 0 -1.1 0M192.6 60.6a1.1 1.1 0 1 0 2.1 0a1.1 1.1 0 1 0 -2.1 0M98.1 102.8a0.8 0.8 0 1 0 1.6 0a0.8 0.8 0 1 0 -1.6 0M153.3 71.0a1.1 1.1 0 1 0 2.1 0a1.1 1.1 0 1 0 -2.1 0M232.1 46.7a1.0 1.0 0 1 0 2.0 0a1.0 1.0 0 1 0 -2.0 0M215.7 50.2a0.8 0.8 0 1 0 1.7 0a0.8 0.8 0 1 0 -1.7 0M205.1 40.4a0.9 0.9 0 1 0 1.8 0a0.9 0.9 0 1 0 -1.8 0M78.9 131.2a0.6 0.6 0 1 0 1.1 0a0.6 0.6 0 1 0 -1.1 0M87.0 117.9a1.0 1.0 0 1 0 1.9 0a1.0 1.0 0 1 0 -1.9 0M61.5 134.3a1.1 1.1 0 1 0 2.2 0a1.1 1.1 0 1 0 -2.2 0" fill="#a9b4c0" fill-opacity="0.6"/>
<path d="M137.8 110.1a1.1 1.1 0 1 0 2.2 0a1.1 1.1 0 1 0 -2.2 0M137.5 115.9a0.7 0.7 0 1 0 1.4 0a0.7 0.7 0 1 0 -1.4 0M166.8 84.0a1.0 1.0 0 1 0 1.9 0a1.0 1.0 0 1 0 -1.9 0M119.0 100.4a1.0 1.0 0 1 0 2.1 0a1.0 1.0 0 1 0 -2.1 0M173.4 50.5a0.6 0.6 0 1 0 1.2 0a0.6 0.6 0 1 0 -1.2 0M228.9 40.6a1.0 1.0 0 1 0 2.0 0a1.0 1.0 0 1 0 -2.0 0" fill="#6f86a6" fill-opacity="0.8"/>
<path d="M212.9 46.4a0.7 0.7 0 1 0 1.4 0a0.7 0.7 0 1 0 -1.4 0M204.1 30.0a1.0 1.0 0 1 0 2.0 0a1.0 1.0 0 1 0 -2.0 0M177.4 67.5a0.9 0.9 0 1 0 1.9 0a0.9 0.9 0 1 0 -1.9 0M100.8 137.8a0.5 0.5 0 1 0 1.1 0a0.5 0.5 0 1 0 -1.1 0" fill="#6f86a6" fill-opacity="0.4"/>
<path d="M114.4 120.1a0.6 0.6 0 1 0 1.2 0a0.6 0.6 0 1 0 -1.2 0M230.6 12.5a0.9 0.9 0 1 0 1.8 0a0.9 0.9 0 1 0 -1.8 0M189.0 56.8a1.1 1.1 0 1 0 2.2 0a1.1 1.1 0 1 0 -2.2 0M231.3 40.8a0.8 0.8 0 1 0 1.6 0a0.8 0.8 0 1 0 -1.6 0M231.5 9.1a0.8 0.8 0 1 0 1.6 0a0.8 0.8 0 1 0 -1.6 0" fill="#7f93b0" fill-opacity="0.4"/></g>
<path d="M227.3 103.6a0.5 0.5 0 1 0 0.9 0a0.5 0.5 0 1 0 -0.9 0M187.6 65.2a0.6 0.6 0 1 0 1.3 0a0.6 0.6 0 1 0 -1.3 0M100.3 138.5a0.6 0.6 0 1 0 1.2 0a0.6 0.6 0 1 0 -1.2 0M179.7 57.3a0.7 0.7 0 1 0 1.3 0a0.7 0.7 0 1 0 -1.3 0M232.0 68.2a0.5 0.5 0 1 0 1.0 0a0.5 0.5 0 1 0 -1.0 0M172.2 90.8a0.6 0.6 0 1 0 1.2 0a0.6 0.6 0 1 0 -1.2 0M185.1 111.3a0.7 0.7 0 1 0 1.5 0a0.7 0.7 0 1 0 -1.5 0M188.0 116.2a0.6 0.6 0 1 0 1.1 0a0.6 0.6 0 1 0 -1.1 0M193.9 77.1a0.4 0.4 0 1 0 0.9 0a0.4 0.4 0 1 0 -0.9 0" fill="#4f4a3a" fill-opacity="0.4"/>
<path d="M166.1 107.7a0.7 0.7 0 1 0 1.4 0a0.7 0.7 0 1 0 -1.4 0M189.5 46.8a0.5 0.5 0 1 0 1.1 0a0.5 0.5 0 1 0 -1.1 0M218.1 78.9a0.4 0.4 0 1 0 0.8 0a0.4 0.4 0 1 0 -0.8 0M184.9 132.5a0.7 0.7 0 1 0 1.4 0a0.7 0.7 0 1 0 -1.4 0M126.8 127.8a0.5 0.5 0 1 0 1.1 0a0.5 0.5 0 1 0 -1.1 0M219.3 136.8a0.5 0.5 0 1 0 0.9 0a0.5 0.5 0 1 0 -0.9 0M170.3 136.1a0.5 0.5 0 1 0 1.0 0a0.5 0.5 0 1 0 -1.0 0M203.8 111.2a0.6 0.6 0 1 0 1.2 0a0.6 0.6 0 1 0 -1.2 0M199.8 64.3a0.7 0.7 0 1 0 1.5 0a0.7 0.7 0 1 0 -1.5 0M179.4 132.3a0.7 0.7 0 1 0 1.3 0a0.7 0.7 0 1 0 -1.3 0M169.6 70.6a0.5 0.5 0 1 0 1.1 0a0.5 0.5 0 1 0 -1.1 0M222.0 39.8a0.7 0.7 0 1 0 1.5 0a0.7 0.7 0 1 0 -1.5 0M150.5 130.7a0.5 0.5 0 1 0 0.9 0a0.5 0.5 0 1 0 -0.9 0M207.4 129.9a0.4 0.4 0 1 0 0.8 0a0.4 0.4 0 1 0 -0.8 0M128.5 117.9a0.6 0.6 0 1 0 1.2 0a0.6 0.6 0 1 0 -1.2 0" fill="#5f5a4a" fill-opacity="0.6"/>
<path d="M181.7 124.5a0.5 0.5 0 1 0 0.9 0a0.5 0.5 0 1 0 -0.9 0M127.2 109.5a0.6 0.6 0 1 0 1.2 0a0.6 0.6 0 1 0 -1.2 0M211.3 110.8a0.7 0.7 0 1 0 1.5 0a0.7 0.7 0 1 0 -1.5 0M192.0 127.2a0.4 0.4 0 1 0 0.8 0a0.4 0.4 0 1 0 -0.8 0M185.0 71.8a0.6 0.6 0 1 0 1.2 0a0.6 0.6 0 1 0 -1.2 0M99.6 114.7a0.7 0.7 0 1 0 1.4 0a0.7 0.7 0 1 0 -1.4 0M191.6 44.7a0.5 0.5 0 1 0 1.0 0a0.5 0.5 0 1 0 -1.0 0M138.6 119.2a0.7 0.7 0 1 0 1.3 0a0.7 0.7 0 1 0 -1.3 0" fill="#5f5a4a" fill-opacity="0.4"/>
<path d="M217.4 46.1a0.4 0.4 0 1 0 0.9 0a0.4 0.4 0 1 0 -0.9 0M46.7 137.8a0.7 0.7 0 1 0 1.5 0a0.7 0.7 0 1 0 -1.5 0M164.7 122.6a0.4 0.4 0 1 0 0.9 0a0.4 0.4 0 1 0 -0.9 0M131.6 133.8a0.4 0.4 0 1 0 0.9 0a0.4 0.4 0 1 0 -0.9 0M154.9 78.0a0.6 0.6 0 1 0 1.2 0a0.6 0.6 0 1 0 -1.2 0M154.6 75.7a0.7 0.7 0 1 0 1.5 0a0.7 0.7 0 1 0 -1.5 0M150.7 111.6a0.7 0.7 0 1 0 1.5 0a0.7 0.7 0 1 0 -1.5 0M206.9 109.6a0.6 0.6 0 1 0 1.2 0a0.6 0.6 0 1 0 -1.2 0M213.9 118.4a0.5 0.5 0 1 0 0.9 0a0.5 0.5 0 1 0 -0.9 0M61.4 129.7a0.4 0.4 0 1 0 0.8 0a0.4 0.4 0 1 0 -0.8 0" fill="#6d6a5a" fill-opacity="0.6"/>
<path d="M155.0 138.6a0.6 0.6 0 1 0 1.3 0a0.6 0.6 0 1 0 -1.3 0M86.9 129.7a0.7 0.7 0 1 0 1.5 0a0.7 0.7 0 1 0 -1.5 0M199.4 124.0a0.5 0.5 0 1 0 0.9 0a0.5 0.5 0 1 0 -0.9 0M180.3 131.2a0.7 0.7 0 1 0 1.3 0a0.7 0.7 0 1 0 -1.3 0M181.3 70.8a0.6 0.6 0 1 0 1.3 0a0.6 0.6 0 1 0 -1.3 0M228.9 114.3a0.6 0.6 0 1 0 1.2 0a0.6 0.6 0 1 0 -1.2 0M150.5 93.3a0.7 0.7 0 1 0 1.3 0a0.7 0.7 0 1 0 -1.3 0M170.2 72.2a0.7 0.7 0 1 0 1.5 0a0.7 0.7 0 1 0 -1.5 0M214.6 23.1a0.5 0.5 0 1 0 1.0 0a0.5 0.5 0 1 0 -1.0 0M134.9 117.5a0.7 0.7 0 1 0 1.5 0a0.7 0.7 0 1 0 -1.5 0M222.0 51.4a0.6 0.6 0 1 0 1.2 0a0.6 0.6 0 1 0 -1.2 0M161.9 137.5a0.7 0.7 0 1 0 1.4 0a0.7 0.7 0 1 0 -1.4 0" fill="#4f4a3a" fill-opacity="0.6"/>
<path d="M135.5 114.4a0.6 0.6 0 1 0 1.1 0a0.6 0.6 0 1 0 -1.1 0M125.8 95.1a0.6 0.6 0 1 0 1.2 0a0.6 0.6 0 1 0 -1.2 0M188.6 42.6a0.6 0.6 0 1 0 1.1 0a0.6 0.6 0 1 0 -1.1 0M169.7 62.2a0.7 0.7 0 1 0 1.3 0a0.7 0.7 0 1 0 -1.3 0M224.3 39.4a0.5 0.5 0 1 0 0.9 0a0.5 0.5 0 1 0 -0.9 0M145.4 82.8a0.5 0.5 0 1 0 1.0 0a0.5 0.5 0 1 0 -1.0 0M138.5 111.2a0.6 0.6 0 1 0 1.1 0a0.6 0.6 0 1 0 -1.1 0" fill="#7a5a30" fill-opacity="0.4"/>
<path d="M227.0 103.2a0.7 0.7 0 1 0 1.4 0a0.7 0.7 0 1 0 -1.4 0M126.7 120.5a0.7 0.7 0 1 0 1.4 0a0.7 0.7 0 1 0 -1.4 0M179.9 60.3a0.7 0.7 0 1 0 1.4 0a0.7 0.7 0 1 0 -1.4 0M230.4 107.1a0.7 0.7 0 1 0 1.3 0a0.7 0.7 0 1 0 -1.3 0M210.7 75.7a0.7 0.7 0 1 0 1.4 0a0.7 0.7 0 1 0 -1.4 0M68.5 122.1a0.6 0.6 0 1 0 1.2 0a0.6 0.6 0 1 0 -1.2 0M64.0 134.8a0.7 0.7 0 1 0 1.5 0a0.7 0.7 0 1 0 -1.5 0M106.1 114.8a0.7 0.7 0 1 0 1.4 0a0.7 0.7 0 1 0 -1.4 0M97.8 103.3a0.7 0.7 0 1 0 1.3 0a0.7 0.7 0 1 0 -1.3 0M115.2 105.1a0.4 0.4 0 1 0 0.8 0a0.4 0.4 0 1 0 -0.8 0M179.2 128.0a0.5 0.5 0 1 0 1.0 0a0.5 0.5 0 1 0 -1.0 0M200.9 127.5a0.5 0.5 0 1 0 0.9 0a0.5 0.5 0 1 0 -0.9 0M102.3 124.8a0.5 0.5 0 1 0 1.0 0a0.5 0.5 0 1 0 -1.0 0M200.9 107.8a0.7 0.7 0 1 0 1.4 0a0.7 0.7 0 1 0 -1.4 0M112.0 91.3a0.5 0.5 0 1 0 0.9 0a0.5 0.5 0 1 0 -0.9 0M141.4 77.4a0.6 0.6 0 1 0 1.2 0a0.6 0.6 0 1 0 -1.2 0" fill="#7a5a30" fill-opacity="0.6"/>
<path d="M212.3 115.3a0.4 0.4 0 1 0 0.8 0a0.4 0.4 0 1 0 -0.8 0M191.8 31.0a0.5 0.5 0 1 0 1.0 0a0.5 0.5 0 1 0 -1.0 0M219.7 123.4a0.5 0.5 0 1 0 1.1 0a0.5 0.5 0 1 0 -1.1 0" fill="#6d6a5a" fill-opacity="0.4"/>
</svg>
<svg x="55.25" y="524" width="229.5" height="202.25" viewBox="0 0 229.5 202.25" overflow="hidden">
<linearGradient id="ga3" gradientUnits="userSpaceOnUse" x1="0" y1="0" x2="229.5" y2="0"><stop offset="0.0000" stop-color="#7f8b93"/><stop offset="0.2179" stop-color="#7f848b"/><stop offset="0.4793" stop-color="#7e7c83"/><stop offset="0.9978" stop-color="#83797f"/></linearGradient>
<rect width="229.5" height="202.25" fill="url(#ga3)"/>
<ellipse cx="34" cy="46" rx="58" ry="44" fill="#7f9a91" filter="url(#bl18)"/>
<ellipse cx="40" cy="44" rx="44" ry="24" fill="#7e9b90" filter="url(#bl10)" opacity=".85"/>
<polygon points="-5.0,-5.0 84.0,-5.0 74.0,3.0 64.0,10.0 60.0,24.0 50.0,34.0 40.0,40.0 28.0,37.0 12.0,41.0 -5.0,45.0" fill="#d2b08d" filter="url(#bl1)"/>
<polygon points="-2.0,-2.0 10.0,-2.0 6.0,8.0 -2.0,12.0" fill="#9b6f58" filter="url(#bl1)"/>
<path d="M80 1L63 12L55 30M72 2L57 16L44 37M62 1L50 18L36 38M28 36L10 41" stroke="#efe3d6" stroke-width="4.2" fill="none" stroke-linecap="round" stroke-linejoin="round" filter="url(#bl2)"/>
<path d="M40 40L30 62L26 72" stroke="#cdbcae" stroke-width="1.5" fill="none" filter="url(#bl1)" opacity=".8"/>
<g filter="url(#bl08)">
<path d="M32.2 169.2L32.9 172.6L34.2 175.9L34.9 179.3L34.3 182.8L33.5 186.2M35.2 192.9L36.1 196.3L35.8 199.8M75.0 81.7L73.6 84.9L71.9 88.0L70.7 91.3L70.5 94.8L70.8 98.2L70.9 101.7L70.0 105.1L68.4 108.2L66.8 111.3L66.0 114.7L66.2 118.2L66.5 121.7L66.2 125.2L64.9 128.4L63.2 131.5L61.9 134.7L61.5 138.2" stroke="#63687c" stroke-width="1.5" stroke-opacity="0.6" fill="none" stroke-linecap="round" stroke-linejoin="round"/>
<path d="M61.8 38.5L61.4 42.0L62.1 45.4M61.2 65.8L61.8 69.3L61.3 72.7L60.0 76.0L59.2 79.4L59.5 82.9M60.7 89.7" stroke="#6d7384" stroke-width="2.5" stroke-opacity="0.6" fill="none" stroke-linecap="round" stroke-linejoin="round"/>
<path d="M201.8 162.5L201.3 166.0L201.8 169.5L202.7 172.9L203.3 176.3M201.9 183.1L200.6 186.4L200.1 189.8L200.4 193.3L201.3 196.7L202.0 200.1L201.8 203.6L200.8 207.0L199.5 210.3M143.3 152.9L143.4 156.4L144.3 159.8L145.7 163.0M146.5 169.9L145.7 173.3M177.5 60.3L177.5 63.8L176.8 67.2L176.9 70.7L178.1 74.0L179.6 77.2L180.3 80.6L179.9 84.1L179.4 87.6L180.0 91.0L181.5 94.2L182.7 97.4L182.9 100.9L182.3 104.4L182.2 107.9L183.2 111.2M64.7 164.7L63.6 168.0L63.7 171.5L63.8 175.0L62.7 178.4L60.9 181.3L59.5 184.6M97.6 85.2M97.8 92.2L97.4 95.6L97.4 99.1L98.3 102.5L99.9 105.7L101.6 108.7L102.9 112.0L103.3 115.5L103.1 118.9L102.7 122.4L102.7 125.9L103.6 129.3L105.2 132.4L106.9 135.5L108.1 138.8L108.6 142.2L108.4 145.7M90.7 8.8L89.2 12.0L88.2 15.4L88.3 18.9L88.9 22.3L89.3 25.8M87.2 32.4M186.0 172.3L186.8 175.7L188.0 178.9M190.8 185.3L191.8 188.7L192.3 192.2L192.1 195.7L191.5 199.1L190.8 202.6L190.3 206.0L190.3 209.5L190.8 213.0L191.9 216.3L193.4 219.5L194.8 222.7L196.0 226.0L196.6 229.4L196.7 232.9L196.2 236.4M94.9 28.0L96.2 31.2L96.8 34.7L96.3 38.1L95.5 41.5L95.2 45.0" stroke="#6d7384" stroke-width="2.0" stroke-opacity="0.4" fill="none" stroke-linecap="round" stroke-linejoin="round"/>
<path d="M41.1 56.3M39.0 66.6M40.7 73.4M39.2 80.2L38.6 83.6L39.3 87.1L40.2 90.4L40.2 93.9L39.1 97.2L38.3 100.6L38.6 104.1L39.7 107.5M118.2 101.2L116.5 104.2L114.8 107.3L113.7 110.6M113.4 117.6L113.8 121.1L114.0 124.6L113.6 128.0L112.5 131.4L111.0 134.5M183.0 59.9L181.2 63.0L179.9 66.2L179.1 69.6L179.0 73.1L179.3 76.6L179.5 80.1L179.4 83.6L178.8 87.0L177.5 90.3L175.7 93.3L173.9 96.3L172.3 99.5L171.3 102.8L170.8 106.3L170.9 109.8L171.2 113.3M72.7 130.8L72.0 134.2L71.7 137.7L72.0 141.2L72.9 144.6L74.2 147.8L75.6 151.0L76.8 154.3L77.5 157.7L77.6 161.2L77.2 164.7L76.4 168.1L75.8 171.6L75.5 175.1L75.9 178.5L76.8 181.9L78.2 185.1M20.0 154.7L18.9 158.0L18.9 161.5L19.9 164.9L20.7 168.3L20.4 171.8L19.3 175.1L18.6 178.5L19.0 182.0L20.1 185.3M19.7 192.2L18.6 195.6L18.4 199.0L19.2 202.5L20.1 205.8M72.5 33.8L71.2 37.1L70.5 40.5L70.8 44.0L71.3 47.5L71.6 50.9L70.9 54.4M34.2 93.4L32.6 96.6L30.8 99.6L29.1 102.6L27.8 105.9L26.9 109.3L26.7 112.8L26.8 116.2L27.2 119.7L27.4 123.2L27.3 126.7L26.6 130.1L25.3 133.4L23.7 136.5M20.3 142.6L19.0 145.9" stroke="#6d7384" stroke-width="1.5" stroke-opacity="0.4" fill="none" stroke-linecap="round" stroke-linejoin="round"/>
<path d="M128.5 30.3L129.9 33.5L131.5 36.6L132.5 39.9L132.5 43.4L132.0 46.9L132.0 50.4L132.9 53.8M191.4 167.5L192.3 170.9L193.3 174.2L193.4 177.7L192.6 181.1L191.6 184.5L191.3 187.9L192.1 191.4L193.2 194.7L193.5 198.2L192.7 201.6L191.6 204.9M29.5 196.8L31.0 200.0L32.8 203.0L34.5 206.1L35.6 209.4L35.9 212.9L35.7 216.4L35.5 219.9L35.8 223.3L36.8 226.7M219.7 31.2L221.3 34.4L222.5 37.6M223.3 44.6L223.0 48.1L222.6 51.5L222.5 55.0L222.9 58.5L223.9 61.9L225.3 65.1L227.1 68.1M105.7 196.3L106.2 199.7M105.3 206.7L105.1 210.2L105.9 213.6L107.4 216.8L108.8 220.0L109.6 223.4L109.4 226.9L108.8 230.3L108.5 233.8M186.0 -4.0L186.9 -0.6L188.1 2.6L188.8 6.1L188.5 9.6L187.6 12.9L187.1 16.4L187.6 19.9L188.8 23.1L189.8 26.5L189.8 30.0L189.0 33.4L188.2 36.8L188.3 40.3L189.4 43.6M99.2 198.8L99.6 202.2L101.2 205.4L102.9 208.4L103.7 211.8L103.5 215.3L103.6 218.8L105.0 222.0M120.4 84.3L119.9 87.8L120.0 91.3M120.6 98.3L120.6 101.8L120.1 105.2L119.0 108.6L117.4 111.7L115.6 114.7L113.9 117.8L112.5 121.0L111.6 124.3L111.2 127.8L111.3 131.3L111.7 134.8L111.9 138.3M111.2 145.2M136.1 199.5L137.3 202.8L139.0 205.9L140.4 209.1L141.0 212.5L140.8 216.0M77.6 58.0L77.0 61.4L76.9 64.9L77.8 68.3L79.4 71.4M80.3 78.3L79.7 81.7L79.7 85.2L80.9 88.5M104.2 72.6L104.2 76.1L103.0 79.3L101.4 82.5L100.6 85.9L101.0 89.4L101.3 92.8L100.6 96.3L99.0 99.4L97.8 102.7L97.7 106.2L98.3 109.6M195.6 32.0L194.8 35.4L193.3 38.6L191.8 41.8L190.7 45.1L190.5 48.6L190.9 52.1L191.4 55.5M190.8 62.4M21.1 64.4L20.1 67.8M17.5 74.3L17.4 77.8M220.0 83.9L221.8 86.9L222.8 90.3L222.9 93.8L222.6 97.2L222.8 100.7L224.0 104.0M164.6 187.7L165.1 191.2L164.9 194.6L163.8 198.0L162.2 201.1L160.9 204.3L160.5 207.8L160.9 211.3L161.4 214.8L161.2 218.2L160.0 221.5L158.4 224.7M185.2 14.1L184.1 17.4L183.2 20.8L183.4 24.3L184.4 27.7L185.1 31.1L184.8 34.6M182.9 41.3" stroke="#686d7e" stroke-width="1.5" stroke-opacity="0.4" fill="none" stroke-linecap="round" stroke-linejoin="round"/>
<path d="M157.7 168.6L157.9 172.0L157.3 175.5L155.9 178.7L154.4 181.9L153.6 185.3L153.7 188.8M154.6 195.7L153.9 199.1L152.5 202.3L151.0 205.5M150.3 212.4M151.2 219.3M165.3 135.6L167.0 138.7L168.3 141.9L168.8 145.4L168.7 148.9L168.4 152.3L168.2 155.8M104.6 20.7L103.4 24.0L102.8 27.5L103.0 31.0L103.9 34.3L104.9 37.7M104.7 44.6L103.6 47.9L102.7 51.3L102.6 54.8L103.3 58.2L104.3 61.6L105.0 65.0L104.7 68.5L103.8 71.9L102.7 75.2L102.2 78.7M170.9 173.6L170.9 177.1L170.4 180.5L169.2 183.8L167.5 186.9L165.6 189.9L164.1 193.0L163.2 196.4L163.0 199.9L163.2 203.4M163.3 210.4L162.4 213.8L160.9 216.9L159.0 219.9L157.3 222.9L156.1 226.2L155.6 229.7L155.6 233.2M201.6 187.1L202.8 190.4L203.6 193.8L203.4 197.3L202.4 200.7L201.6 204.1L201.7 207.6L202.7 211.0L203.8 214.3L204.0 217.8L203.2 221.2L202.2 224.6L201.9 228.0L202.7 231.5L203.8 234.8L204.4 238.2L203.9 241.7L202.9 245.0L202.2 248.5L202.7 252.0M210.0 123.7L211.0 127.1L210.7 130.5L210.0 134.0L210.0 137.5L211.1 140.8L212.5 144.0L213.1 147.4L212.6 150.9L212.0 154.4L212.3 157.8L213.6 161.1L214.9 164.3L215.1 167.8L214.5 171.3M149.7 7.6L148.2 10.7L147.0 14.0L146.4 17.5L146.5 21.0L147.0 24.4L147.6 27.9L147.9 31.4L147.6 34.9M231.1 150.3L231.6 153.8L231.4 157.3L230.5 160.7L229.5 164.0L228.9 167.5L229.0 170.9L229.9 174.3" stroke="#686d7e" stroke-width="2.0" stroke-opacity="0.4" fill="none" stroke-linecap="round" stroke-linejoin="round"/>
<path d="M141.4 126.1L142.0 129.5L141.4 133.0L140.0 136.2L139.0 139.5L139.2 143.0L139.9 146.5M137.0 156.5L137.0 160.0M169.9 -8.4L169.0 -5.0L167.9 -1.7L167.3 1.8L167.5 5.3L168.3 8.7L169.5 12.0L170.3 15.4L170.5 18.9L169.9 22.3L168.9 25.7L168.0 29.0L167.7 32.5L168.2 36.0L169.2 39.3M39.5 91.6L40.2 95.0M39.4 101.9L38.1 105.2L37.2 108.6L37.0 112.1L37.6 115.5L38.5 118.9M141.5 176.5L140.6 179.9L140.6 183.4L141.2 186.8L141.9 190.2L141.9 193.7" stroke="#6a6f86" stroke-width="1.5" stroke-opacity="0.6" fill="none" stroke-linecap="round" stroke-linejoin="round"/>
<path d="M209.6 156.2L210.6 159.6L211.6 162.9L212.2 166.4L211.9 169.9L211.0 173.2L209.9 176.6L209.3 180.0M123.3 59.9L124.6 63.2L125.2 66.6L124.6 70.1M124.2 77.0L125.4 80.3L126.5 83.6L126.6 87.1L125.8 90.5L125.4 94.0L126.1 97.4L127.5 100.6L128.3 104.0M127.1 110.9L127.1 114.4L128.2 117.7L129.4 121.0L129.8 124.5M147.7 10.3L147.1 13.8L146.7 17.2L147.0 20.7L148.3 24.0L149.8 27.1L150.9 30.4L151.1 33.9L150.6 37.4L150.1 40.9L150.5 44.3L151.7 47.6M166.0 65.2L166.4 68.7L167.5 72.0L168.5 75.4L168.7 78.8L167.9 82.3L166.9 85.6L166.4 89.1L167.0 92.5M169.0 99.2L169.0 102.7L168.2 106.1L167.2 109.5L166.8 113.0L167.5 116.4L168.6 119.7L169.4 123.1L169.3 126.6L168.5 130.0M156.2 130.7L156.5 134.2L156.9 137.7L156.5 141.2L155.1 144.4L153.4 147.5L152.4 150.8L152.4 154.3L152.8 157.8L152.8 161.3L151.7 164.6L150.1 167.7L148.7 170.9L148.3 174.4L148.7 177.9L148.9 181.4L148.3 184.8M189.5 143.8L189.6 147.3L189.1 150.7L187.9 154.0L186.5 157.2L185.3 160.5L184.8 164.0L184.9 167.5M186.3 174.3L186.6 177.8L186.1 181.3L185.0 184.6L183.5 187.8L182.3 191.1L181.7 194.5" stroke="#6a6f86" stroke-width="1.5" stroke-opacity="0.4" fill="none" stroke-linecap="round" stroke-linejoin="round"/>
<path d="M18.1 83.1L16.7 86.3L15.5 89.6L14.9 93.0L15.0 96.5L15.6 100.0L16.2 103.4L16.6 106.9L16.3 110.4L15.5 113.8L14.1 117.0M216.4 32.0L217.5 35.3L218.7 38.6L219.4 42.0L219.6 45.5L219.2 49.0L218.3 52.4M216.5 59.1L216.2 62.6L216.5 66.1L217.4 69.5L218.6 72.8L219.7 76.1M154.2 156.3L153.0 159.5L152.5 163.0L152.8 166.5L153.3 170.0L153.7 173.4L153.3 176.9L152.2 180.2L150.6 183.4L149.2 186.6L148.3 189.9L148.2 193.4L148.7 196.9L149.3 200.4M42.5 97.6L43.0 101.1L42.5 104.6L42.0 108.0L42.4 111.5L43.8 114.7L45.2 117.9L45.8 121.4L45.3 124.9L44.8 128.3L45.1 131.8L46.5 135.0L47.9 138.2L48.6 141.7L48.2 145.1M99.4 75.5L98.6 78.9M96.4 85.5L95.9 89.0L96.1 92.5L96.9 95.9M98.6 102.7L98.7 106.2L98.1 109.6L97.0 112.9L95.9 116.3L95.2 119.7L95.2 123.2L95.8 126.6L96.8 130.0M206.6 0.8M209.8 7.0L211.0 10.3L211.6 13.8L211.7 17.3L211.3 20.7" stroke="#63687c" stroke-width="2.0" stroke-opacity="0.6" fill="none" stroke-linecap="round" stroke-linejoin="round"/>
<path d="M200.3 192.5L202.0 195.6L203.5 198.8L204.0 202.2L203.7 205.7L203.6 209.2L204.5 212.6L206.2 215.6L207.6 218.8L208.0 222.3L207.6 225.8L207.6 229.3L208.7 232.6L210.4 235.6L211.7 238.9L211.8 242.4M95.3 55.6L94.7 59.0L94.1 62.5L94.4 66.0L95.6 69.3L97.0 72.5M97.5 79.4M157.7 69.1L157.9 72.6L159.1 75.8L160.8 78.9L161.8 82.3L161.7 85.8L161.2 89.2L161.5 92.7L162.9 95.9L164.5 99.0L165.4 102.4M165.8 13.5L164.3 16.7L163.5 20.1L163.6 23.6L164.3 27.0L164.4 30.5L163.4 33.9L161.9 37.0L160.7 40.3L160.5 43.8L161.1 47.3L161.5 50.8L161.0 54.2L159.6 57.4L158.1 60.6" stroke="#63687c" stroke-width="1.5" stroke-opacity="0.4" fill="none" stroke-linecap="round" stroke-linejoin="round"/>
<path d="M25.6 138.5L26.5 141.9L26.8 145.4L26.6 148.9L26.0 152.3L25.3 155.8L24.9 159.2L25.0 162.7L25.7 166.2L26.9 169.5L28.3 172.6L29.8 175.8L31.0 179.1L31.6 182.6L31.7 186.1L31.2 189.5L30.6 193.0L30.0 196.4L29.8 199.9L30.1 203.4M171.7 92.5L172.9 95.8L174.2 99.0L175.6 102.3L176.6 105.6L177.1 109.1L176.9 112.6L176.3 116.0L175.5 119.4L175.0 122.9L174.9 126.4L175.4 129.9" stroke="#6d7384" stroke-width="1.5" stroke-opacity="0.6" fill="none" stroke-linecap="round" stroke-linejoin="round"/>
<path d="M45.7 146.6L45.1 150.1L45.5 153.6L46.2 157.0L46.3 160.5L45.2 163.8L43.8 167.0L42.9 170.4M192.3 48.9L192.1 52.4L192.7 55.9M195.1 62.5L196.3 65.7L197.0 69.2L197.0 72.7L196.4 76.1L195.6 79.5L194.9 83.0L194.8 86.5L195.3 89.9L196.4 93.2L197.7 96.5M199.6 103.2L199.6 106.7L199.0 110.2M120.4 167.4L121.4 170.7L122.2 174.1L122.2 177.6L121.5 181.0L120.2 184.3L119.3 187.7M73.6 14.2M73.8 21.1L75.2 24.3M75.7 31.2L75.0 34.6L75.3 38.1M77.8 44.6L77.9 48.1L77.1 51.5M79.3 61.6L79.9 65.0M69.1 134.2L70.8 137.2L71.4 140.7L71.1 144.1L71.3 147.6L72.7 150.9L74.4 153.9L75.2 157.3L75.0 160.8L75.0 164.3" stroke="#6a6f86" stroke-width="2.0" stroke-opacity="0.4" fill="none" stroke-linecap="round" stroke-linejoin="round"/>
<path d="M116.4 55.6L116.5 59.1L117.0 62.5L117.4 66.0L116.9 69.5L115.7 72.8L114.1 75.9L112.7 79.1L111.9 82.5L112.0 86.0L112.6 89.5L112.9 93.0L112.5 96.4L111.2 99.7L109.6 102.8M96.7 138.2L96.0 141.6L95.2 145.0L94.9 148.5L95.1 152.0L96.0 155.4L97.2 158.6L98.6 161.9L99.7 165.2L100.2 168.6M99.5 175.6M165.2 -1.8L166.5 1.5L166.9 5.0L166.5 8.4L166.2 11.9L166.9 15.4L168.4 18.5L170.0 21.6L170.9 25.0L170.8 28.5M173.5 122.7L175.0 125.8L175.4 129.3L175.0 132.7L175.1 136.2L176.3 139.5L178.0 142.6L179.0 145.9L178.8 149.4L178.5 152.9M220.6 124.4L219.3 127.6L218.1 130.9L217.7 134.4L218.3 137.8L219.0 141.2L218.9 144.7L217.8 148.1L216.5 151.3L215.8 154.7L216.1 158.2L216.9 161.6L217.1 165.1L216.3 168.5L214.9 171.7L213.9 175.1L214.0 178.6L214.7 182.0M137.3 49.4L138.5 52.7L138.6 56.2L138.1 59.7L138.0 63.2L138.9 66.6L140.5 69.7L142.0 72.8L142.6 76.3L142.3 79.8L141.9 83.3M222.2 111.9L222.1 115.4L220.9 118.7L219.2 121.8L217.9 125.0M218.1 132.0L218.1 135.5L217.0 138.8L215.3 141.9L214.0 145.1L213.6 148.6L214.1 152.1L214.1 155.6L213.2 158.9L211.5 162.0L210.0 165.2M155.2 15.9L154.9 19.4L155.3 22.9L154.9 26.4L153.5 29.6L151.8 32.6L151.0 36.1L151.3 39.5L151.4 43.0M33.8 137.1L35.2 140.3L36.7 143.4L37.7 146.8L37.7 150.3L37.2 153.7L36.8 157.2L37.1 160.7M39.9 167.1L41.1 170.4L41.3 173.9L40.9 177.4M226.0 22.7L226.3 26.2L227.1 29.6L227.4 33.1L226.7 36.5L225.3 39.7L224.2 43.1L224.1 46.6L224.8 50.0L225.5 53.4L225.2 56.9L224.0 60.2L222.7 63.5M222.6 70.4L223.3 73.8L223.5 77.3" stroke="#63687c" stroke-width="2.0" stroke-opacity="0.4" fill="none" stroke-linecap="round" stroke-linejoin="round"/>
<path d="M8.1 77.4L9.6 80.6L11.1 83.7L11.7 87.2L11.3 90.6L11.1 94.1L11.8 97.5L13.5 100.6L14.8 103.9" stroke="#63687c" stroke-width="2.5" stroke-opacity="0.6" fill="none" stroke-linecap="round" stroke-linejoin="round"/>
<path d="M159.2 2.4L158.8 5.9L158.0 9.3M158.1 16.3L159.3 19.6L160.7 22.8L161.8 26.1L162.1 29.6M231.2 161.3L230.7 164.7L231.2 168.2L231.8 171.6L231.3 175.1L229.9 178.3L228.7 181.6L228.5 185.1L229.2 188.5L229.6 192.0L228.8 195.4L227.3 198.6L226.3 202.0L226.5 205.5L227.2 208.9L227.2 212.4L226.2 215.7L224.7 218.9L224.0 222.3M102.2 177.2L101.7 180.7L101.2 184.2L101.7 187.6L103.1 190.8L104.5 194.1L104.7 197.6L104.1 201.0L103.8 204.5L104.5 207.9L106.0 211.1L107.1 214.4L107.2 217.9L106.6 221.3L106.4 224.8" stroke="#6a6f86" stroke-width="2.0" stroke-opacity="0.6" fill="none" stroke-linecap="round" stroke-linejoin="round"/>
<path d="M196.9 9.2M198.2 16.0L199.9 19.1L201.5 22.2L202.2 25.6L202.1 29.1L201.7 32.6L201.7 36.1L202.7 39.5L204.3 42.6L205.9 45.7L206.9 49.0L206.9 52.5L206.5 56.0L206.3 59.5M131.6 34.3L131.9 37.8L133.1 41.1L134.0 44.5L133.7 48.0L132.8 51.3L132.7 54.8L133.8 58.2L134.9 61.5L135.0 65.0L134.1 68.4L133.7 71.8L134.5 75.2L135.7 78.5M135.5 85.4L134.8 88.8L135.2 92.3L136.4 95.6L137.2 99.0M171.9 171.6L172.9 175.0L174.4 178.2L176.0 181.3L177.3 184.5L178.1 187.9L178.2 191.4L177.8 194.9L177.2 198.4L176.9 201.8L177.1 205.3L178.1 208.7" stroke="#6a6f86" stroke-width="2.5" stroke-opacity="0.4" fill="none" stroke-linecap="round" stroke-linejoin="round"/>
<path d="M200.4 60.2L201.5 63.5L201.4 67.0L201.2 70.5L201.8 74.0L203.4 77.1L205.0 80.1L205.8 83.5L205.6 87.0L205.5 90.5L206.4 93.9L208.1 97.0L209.6 100.1L210.1 103.6M209.9 110.6M201.1 -5.3L202.4 -2.1M202.9 4.8L202.1 8.2L201.7 11.7L202.2 15.2L203.5 18.4L204.7 21.7L205.1 25.2L204.6 28.6L203.8 32.0M204.5 38.9L205.9 42.2L206.9 45.5L207.0 49.0M72.9 49.0M73.6 55.9L73.0 59.3M70.6 65.9L69.8 69.3L69.6 72.8L70.1 76.3M95.9 76.8L95.5 80.3L94.3 83.6L93.8 87.1L94.4 90.5L95.4 93.9L95.7 97.4L94.9 100.8L93.8 104.1" stroke="#686d7e" stroke-width="2.5" stroke-opacity="0.4" fill="none" stroke-linecap="round" stroke-linejoin="round"/>
<path d="M48.0 94.1L47.6 97.6L46.6 101.0L45.1 104.1L43.3 107.1L41.5 110.1L40.1 113.4L39.3 116.8L39.1 120.2L39.3 123.7L39.6 127.2L39.6 130.7" stroke="#686d7e" stroke-width="1.0" stroke-opacity="0.6" fill="none" stroke-linecap="round" stroke-linejoin="round"/>
<path d="M159.1 57.8L159.7 61.2L161.4 64.3L163.1 67.4L163.9 70.8L163.7 74.3L163.8 77.8L165.0 81.0L166.8 84.0L168.2 87.2L168.3 90.7L168.1 94.2L168.7 97.7M172.1 103.8L172.9 107.2L172.7 110.7L172.8 114.2L174.0 117.5M53.5 114.0L53.5 117.5L53.1 120.9L52.9 124.4L53.3 127.9L54.5 131.2M171.6 42.6L171.4 46.1L171.7 49.6L172.9 52.9L174.5 56.0L176.3 59.0L177.6 62.2L178.2 65.7L178.1 69.2L177.7 72.7L177.7 76.2L178.3 79.6L179.6 82.8L181.3 85.9" stroke="#686d7e" stroke-width="2.0" stroke-opacity="0.6" fill="none" stroke-linecap="round" stroke-linejoin="round"/>
<path d="M216.3 128.2L217.7 131.4L218.3 134.9L218.2 138.4L217.7 141.8L217.6 145.3L218.3 148.7M24.7 174.1L23.4 177.4L22.7 180.8L22.7 184.3L23.2 187.8L23.7 191.2L23.9 194.7L23.4 198.2L22.4 201.5L20.8 204.7L19.3 207.8L18.0 211.1L17.3 214.5L17.3 218.0L17.7 221.5M186.7 156.0L186.0 159.5L186.2 163.0L186.9 166.4L187.6 169.8L187.7 173.3L187.1 176.8L185.8 180.0L184.4 183.3M86.3 51.7L86.4 55.2L85.5 58.6L83.7 61.6M81.7 68.2L82.0 71.7L81.9 75.2L80.7 78.5L78.8 81.5M228.8 157.4L230.1 160.7L231.9 163.7L233.1 167.0L233.3 170.5L232.9 174.0L232.9 177.5L233.9 180.8L235.6 183.9L237.1 187.1" stroke="#6d7384" stroke-width="2.0" stroke-opacity="0.6" fill="none" stroke-linecap="round" stroke-linejoin="round"/>
<path d="M107.3 127.3L108.3 130.7L108.1 134.2L107.5 137.6L107.5 141.1L108.6 144.5L110.2 147.6L111.2 151.0L111.0 154.5L110.4 157.9L110.5 161.4L111.6 164.7L113.1 167.9L114.1 171.2L113.9 174.7L113.3 178.2L113.4 181.7L114.5 185.0L116.1 188.1M200.1 0.8L199.0 4.1L198.0 7.5L197.4 10.9L197.4 14.4L198.0 17.9L199.0 21.2L200.1 24.6L200.9 27.9L201.3 31.4L201.0 34.9L200.2 38.3L199.2 41.7L198.1 45.0" stroke="#63687c" stroke-width="2.5" stroke-opacity="0.4" fill="none" stroke-linecap="round" stroke-linejoin="round"/>
<path d="M85.6 82.3L86.7 85.6L86.5 89.1L85.9 92.5L86.1 96.0L87.5 99.2L88.8 102.5L89.0 106.0L88.4 109.4L88.2 112.9L89.3 116.2L90.8 119.4M90.9 126.3M131.3 34.3L131.7 37.8L131.4 41.3L130.4 44.6L128.8 47.7L127.3 50.9L126.4 54.3L126.3 57.8L126.8 61.2L127.3 64.7L127.1 68.2L126.1 71.6L124.6 74.7L123.0 77.9L122.1 81.2L121.9 84.7L122.4 88.2" stroke="#6d7384" stroke-width="2.5" stroke-opacity="0.4" fill="none" stroke-linecap="round" stroke-linejoin="round"/>
<path d="M118.5 73.2L119.6 76.5L120.8 79.7L121.4 83.2L121.0 86.7L120.2 90.1M159.6 35.7L160.4 39.1L160.4 42.6L159.9 46.1L159.6 49.6L160.0 53.1L161.1 56.4L162.8 59.5L164.4 62.6" stroke="#686d7e" stroke-width="2.5" stroke-opacity="0.6" fill="none" stroke-linecap="round" stroke-linejoin="round"/>
<path d="M157.1 169.8L157.9 173.2L157.7 176.7L157.4 180.2L158.1 183.6L159.7 186.7L161.1 189.9L161.4 193.4L160.9 196.9L161.0 200.4L162.1 203.7L163.8 206.7" stroke="#63687c" stroke-width="1.0" stroke-opacity="0.4" fill="none" stroke-linecap="round" stroke-linejoin="round"/>
<path d="M133.0 101.0L134.6 104.1L135.8 107.4L135.8 110.9L135.3 114.4L135.2 117.9L136.3 121.2" stroke="#686d7e" stroke-width="1.5" stroke-opacity="0.6" fill="none" stroke-linecap="round" stroke-linejoin="round"/>
<path d="M2.3 65.7L2.2 69.2L3.1 72.6M5.8 82.6L5.1 86.0L4.6 89.5L5.1 93.0M122.1 23.3L123.2 26.6L123.9 30.0L123.6 33.5L122.7 36.9L121.8 40.3L121.5 43.8L122.1 47.2L123.3 50.5M212.3 66.0L213.2 69.4L213.2 72.9L212.4 76.2L211.4 79.6L211.0 83.1L211.6 86.5L212.7 89.8L213.5 93.2M134.5 82.6L135.2 86.0M135.8 93.0L135.2 96.4M132.5 102.8M130.4 109.5L130.3 113.0L130.8 116.5L131.5 119.9L132.0 123.4M214.7 196.8L213.9 200.2L213.4 203.7L213.5 207.2L214.1 210.6L215.3 213.9L216.7 217.1L217.9 220.4L218.7 223.8L218.8 227.3L218.4 230.8L217.6 234.2L216.9 237.6M216.6 244.6L217.4 248.0L218.7 251.3L220.0 254.5L221.2 257.8L221.8 261.2M209.6 194.1L209.6 197.6L210.2 201.0L210.5 204.5L209.7 207.9M206.9 214.3L206.4 217.8M207.4 224.7L207.2 228.2L206.1 231.5L204.5 234.7L203.5 238.0L203.5 241.5L204.2 245.0L204.4 248.5L203.7 251.9L202.3 255.1L200.9 258.3M168.6 33.8L168.6 37.3L168.0 40.7L167.2 44.1L166.6 47.6L166.6 51.1L167.4 54.5L168.6 57.8L169.9 61.0L170.8 64.4L170.9 67.9L170.4 71.4L169.5 74.8L168.9 78.2M72.3 94.7L72.0 98.2L72.7 101.6L74.2 104.8L75.6 108.0L76.1 111.5L75.8 114.9L75.2 118.4M63.4 50.3L62.6 53.7L61.6 57.0L61.0 60.5M61.5 67.4L62.7 70.7M64.8 77.4L65.1 80.9L64.7 84.4L63.9 87.8L62.9 91.1L62.3 94.6L62.4 98.1M176.7 144.5L175.1 147.6L173.7 150.8L173.1 154.3L173.4 157.7L173.8 161.2L173.2 164.7L171.8 167.9L170.2 171.0L169.3 174.4L169.4 177.9L169.9 181.3M168.4 188.1L166.8 191.2L165.6 194.5L165.5 198.0L166.0 201.4L166.0 204.9L165.0 208.3" stroke="#9c8079" stroke-width="2.0" stroke-opacity="0.6" fill="none" stroke-linecap="round" stroke-linejoin="round"/>
<path d="M169.4 169.0L170.4 172.4L170.9 175.8L170.5 179.3L169.4 182.6L168.4 186.0L168.2 189.5M216.7 -6.9L217.2 -3.5L216.8 0.0L215.9 3.4M214.7 10.3L215.2 13.7L216.3 17.1M216.6 154.7L217.9 158.0L219.5 161.1L220.6 164.4L221.0 167.9L220.6 171.4L220.0 174.8L219.9 178.3L220.7 181.7L222.2 184.9L223.7 188.1L224.7 191.4L224.8 194.9L224.2 198.4L223.7 201.9L223.9 205.4L224.9 208.7L226.4 211.9L227.8 215.1M58.1 -1.7L57.6 1.7M63.2 21.7L63.3 25.2M61.8 39.1M152.3 24.2M150.1 30.8L148.9 34.1L148.2 37.5L148.4 41.0L149.1 44.4L149.9 47.9L150.3 51.3M148.8 58.1L147.5 61.4L146.4 64.7L146.0 68.2L146.4 71.7L147.2 75.1L147.9 78.5M188.8 4.9L189.2 8.4L188.9 11.8L188.7 15.3L189.5 18.8L191.0 21.9L192.7 24.9L193.7 28.3L193.7 31.8L193.3 35.3M151.4 78.4L151.8 81.9L152.0 85.4L151.0 88.7L149.4 91.8L148.4 95.2L148.7 98.7L149.1 102.2L148.3 105.6L146.6 108.7M28.9 192.5L28.7 196.0L29.5 199.4L30.7 202.7L31.2 206.1L30.8 209.6L29.8 212.9L29.0 216.4L29.2 219.9L30.2 223.2L31.2 226.6L31.5 230.0L30.8 233.5L29.8 236.8L29.2 240.3M198.4 91.7L198.7 95.2L197.8 98.6L196.6 101.9L196.6 105.4L197.5 108.8L198.0 112.2L197.4 115.7L196.2 118.9L195.7 122.4L196.5 125.8L197.3 129.2M170.9 32.5L170.9 36.0L171.6 39.4L172.6 42.8L173.6 46.1L174.3 49.5L174.5 53.0M91.5 154.1L90.1 157.3L89.7 160.8L90.0 164.3L90.0 167.8L89.0 171.1L87.3 174.2L85.6 177.2L84.6 180.6L84.7 184.1L84.9 187.6L84.5 191.1M0.3 86.5L2.0 89.6L3.5 92.7L4.5 96.1L4.9 99.6L4.6 103.1L4.2 106.5L3.8 110.0L4.0 113.5M74.2 82.5L75.8 85.6M78.1 92.1L77.9 95.6L77.5 99.1L77.9 102.6L79.3 105.8M80.0 100.0L78.7 103.2L77.2 106.4L76.1 109.7L75.8 113.2L76.3 116.7L76.9 120.1L77.2 123.6M75.3 130.3M186.3 1.8L186.9 5.2L187.9 8.6L188.0 12.1L187.0 15.5L185.9 18.8L185.7 22.3L186.6 25.7L187.4 29.1L187.1 32.6M174.0 160.7L173.9 164.2L173.3 167.7L173.3 171.2L174.4 174.5L176.0 177.6L177.1 180.9L177.2 184.4L176.6 187.9L176.4 191.4L177.3 194.8L178.9 197.9" stroke="#a3837a" stroke-width="2.0" stroke-opacity="0.6" fill="none" stroke-linecap="round" stroke-linejoin="round"/>
<path d="M65.7 79.9L67.1 83.1L68.5 86.3L69.6 89.6L69.9 93.1L69.5 96.6L68.8 100.0L68.5 103.5L68.9 107.0L70.1 110.3L71.5 113.5L72.8 116.7L73.4 120.2L73.1 123.7L72.5 127.1L72.0 130.6L72.1 134.1L73.1 137.4L74.5 140.6M227.6 162.2L227.3 165.7L227.8 169.2L228.3 172.7L228.2 176.2L227.3 179.5L225.7 182.7L224.3 185.9L223.5 189.3L223.6 192.8M184.9 192.5L186.4 195.7L187.5 199.0L187.6 202.5L187.1 205.9L186.4 209.4L186.4 212.9L187.3 216.3L188.7 219.5L190.0 222.7L190.5 226.2L190.2 229.7L189.4 233.1L189.1 236.6L189.7 240.0M80.2 24.1L79.6 27.5L79.9 31.0L79.7 34.5M76.5 40.7M75.1 47.5L75.3 51.0L74.7 54.4L73.1 57.5L71.3 60.5M146.6 34.1L145.0 37.2L144.4 40.7L144.8 44.2L144.8 47.7L143.5 50.9L141.8 54.0M141.1 60.8L141.3 64.3L140.4 67.7L138.7 70.8L137.4 74.0L137.4 77.5L137.7 81.0L137.2 84.5L135.6 87.6M144.3 -6.0L143.6 -2.6L143.6 0.9L143.9 4.4L144.0 7.9L143.5 11.4L142.2 14.7L140.4 17.7L138.6 20.7L137.2 23.9L136.5 27.3L136.5 30.8M136.9 37.8L136.3 41.3L135.1 44.5M34.0 93.2L34.3 96.7L34.7 100.1L34.4 103.6L33.1 106.9L31.4 110.0L30.2 113.2L30.0 116.7L30.4 120.2L30.7 123.7L30.0 127.1M14.9 152.4L15.9 155.8L16.3 159.3L16.1 162.7L15.7 166.2L15.8 169.7L16.6 173.1L18.1 176.3L19.8 179.3M138.1 72.0L138.2 75.5L137.5 79.0L136.2 82.2L135.1 85.6L134.5 89.0L134.8 92.5L135.6 95.9L136.4 99.3L136.8 102.8L136.3 106.2L135.2 109.6L134.0 112.8L133.2 116.2L133.2 119.7L133.9 123.2L134.8 126.5L135.3 130.0L135.1 133.5M99.9 5.1L98.6 8.3L97.9 11.7L97.9 15.2L98.4 18.7L98.8 22.2L98.8 25.7L98.1 29.1L96.7 32.3L95.1 35.4M92.5 45.5L92.9 49.0M149.8 193.9L149.6 197.4L150.5 200.8L151.9 204.0L152.6 207.4L152.1 210.9L151.4 214.3" stroke="#ad8c80" stroke-width="1.0" stroke-opacity="0.6" fill="none" stroke-linecap="round" stroke-linejoin="round"/>
<path d="M169.4 53.6L170.9 56.7L172.0 60.0L172.0 63.5M171.1 70.5L171.9 73.9L173.4 77.1M122.7 176.5L122.6 180.0L122.8 183.5L123.2 187.0L123.3 190.5L122.9 194.0M103.4 81.9L103.2 85.4L102.0 88.7L100.5 91.9L99.8 95.3L100.0 98.8M92.4 50.3L92.9 53.8L92.6 57.3L91.6 60.6L90.0 63.7L88.6 66.9L87.8 70.3L87.9 73.8L88.5 77.3L88.8 80.8L88.4 84.3L87.2 87.5L85.6 90.7L84.3 93.9L83.7 97.3L83.9 100.8L84.5 104.3M155.2 143.6L153.7 146.8L152.4 150.0L151.6 153.4M152.9 163.8L153.1 167.3L152.6 170.8L151.5 174.1L150.0 177.3L148.7 180.5L147.9 183.9L147.9 187.4" stroke="#a98474" stroke-width="1.0" stroke-opacity="0.8" fill="none" stroke-linecap="round" stroke-linejoin="round"/>
<path d="M64.5 196.2L66.1 199.4L67.2 202.6L67.7 206.1L67.4 209.6L66.8 213.1L66.4 216.5L66.7 220.0M30.3 192.3L31.0 195.8L31.0 199.3L30.2 202.6L28.8 205.9L27.6 209.1L27.1 212.6L27.4 216.1L28.2 219.5L28.7 223.0L28.3 226.5L27.2 229.8M81.0 19.2M80.2 26.1M82.4 36.4L82.7 39.8L82.4 43.3L81.4 46.7L80.1 49.9L79.0 53.3L78.4 56.7L78.5 60.2L79.2 63.6L80.1 67.0L80.8 70.4M65.5 137.9L65.1 141.3L65.0 144.8L65.9 148.2L67.5 151.3L69.1 154.5L69.9 157.9L69.8 161.4L69.3 164.8L69.5 168.3M57.8 118.8L59.0 122.1L60.7 125.2L62.3 128.2L63.4 131.6L63.6 135.1L63.2 138.6L63.0 142.0L63.5 145.5L64.8 148.8L66.6 151.8L68.1 154.9L69.0 158.3L69.0 161.8L68.6 165.3L68.5 168.8L69.2 172.2L70.7 175.4M154.7 187.8L154.7 191.3L155.3 194.8L155.6 198.3L155.0 201.7L153.5 204.9L152.2 208.1L151.9 211.6L152.5 215.1L153.0 218.5L152.5 222.0L151.2 225.2L149.8 228.4M33.8 143.5L32.8 146.8L31.6 150.1M31.4 157.1L32.3 160.4L33.2 163.8L33.2 167.3L32.3 170.7L31.1 174.0L30.4 177.5L30.6 180.9L31.5 184.3L32.4 187.7M20.6 82.5L21.6 85.8L21.8 89.3L21.2 92.8L20.3 96.2L20.0 99.7L20.5 103.1L21.7 106.4L23.0 109.7M13.7 64.2L13.5 67.7L13.8 71.2M17.8 80.8M94.3 194.2L93.9 197.7L92.8 201.0L91.3 204.1L90.2 207.5L90.0 211.0L90.5 214.4L91.1 217.8L91.4 221.3L90.7 224.8M88.0 231.2L87.1 234.6" stroke="#a3837a" stroke-width="1.5" stroke-opacity="0.6" fill="none" stroke-linecap="round" stroke-linejoin="round"/>
<path d="M41.3 70.9L41.4 74.4M146.4 44.6L147.0 48.0L146.5 51.5L145.6 54.9L145.1 58.3L145.4 61.8L146.5 65.1L147.8 68.4L148.4 71.9L148.1 75.3L147.3 78.7L146.6 82.2M168.9 5.0L167.4 8.1L166.4 11.5L166.6 15.0L167.2 18.4L167.0 21.9L165.7 25.2L164.1 28.3L163.2 31.7M164.0 38.7L163.8 42.2L162.5 45.4M8.6 150.3L9.8 153.6L10.2 157.1L9.8 160.6L9.1 164.0L8.6 167.4L9.0 170.9L10.1 174.2L11.5 177.4L12.6 180.8L12.9 184.3L12.4 187.7L11.7 191.1M146.3 62.1L147.0 65.5L148.4 68.7L149.5 72.1L149.7 75.6L149.1 79.0L148.4 82.4L148.5 85.9L149.5 89.3L150.9 92.5M76.1 114.4L75.9 117.9L76.3 121.4L77.0 124.8L77.7 128.3L78.0 131.8L77.6 135.2L76.5 138.6L75.2 141.8L73.8 145.0L72.8 148.4L72.4 151.9L72.6 155.3" stroke="#a68780" stroke-width="1.0" stroke-opacity="0.6" fill="none" stroke-linecap="round" stroke-linejoin="round"/>
<path d="M124.1 4.4L123.3 7.8L123.3 11.3L123.7 14.7L124.4 18.2L124.7 21.7M120.4 34.8L119.3 38.2L118.8 41.6L119.1 45.1L119.7 48.6M120.3 55.5M160.2 199.4L158.6 202.6L157.7 206.0L157.3 209.4L157.4 212.9L157.6 216.4L157.8 219.9M156.5 226.8L155.0 230.0M151.4 236.0L149.9 239.1L148.9 242.4L148.5 245.9M31.3 62.1L30.6 65.5L29.0 68.7M26.2 75.1L26.2 78.6L26.5 82.0L26.5 85.5L25.5 88.9L23.9 92.0L22.2 95.1L21.4 98.5L21.5 102.0L21.8 105.4L21.6 108.9L20.5 112.2M218.1 115.9L217.8 119.4L218.3 122.9L218.8 126.3L218.9 129.8L218.2 133.2L216.8 136.5L215.2 139.6M79.1 92.9L79.2 96.4L78.5 99.8L77.1 103.1L75.4 106.2M73.5 112.9L73.7 116.3L74.2 119.8L74.5 123.3L74.1 126.8L72.9 130.1L71.3 133.2L69.8 136.3M69.2 83.9M68.3 90.8L66.7 93.9L65.7 97.2L65.7 100.7L66.3 104.2L66.2 107.7L65.0 111.0L63.5 114.1L62.6 117.5L62.9 121.0L63.4 124.4L63.1 127.9M145.5 33.4L146.4 36.8L146.8 40.2L146.6 43.7L145.7 47.1L144.4 50.4M74.2 164.7L74.4 168.2L74.1 171.6L73.0 175.0L71.4 178.1L69.7 181.1L68.3 184.4L67.6 187.8L67.7 191.3L68.1 194.8L68.4 198.3L68.1 201.8L67.2 205.1L65.6 208.3M94.5 119.2L95.7 122.5L96.7 125.8L96.7 129.3L95.8 132.7L95.2 136.2L95.4 139.7M58.4 65.4L58.1 68.9L58.3 72.4L58.4 75.9M29.0 44.8M35.5 67.8L35.9 71.3L35.6 74.7L35.7 78.2L37.0 81.5L38.8 84.5M158.4 150.9L158.0 154.4L157.4 157.8L157.4 161.3L158.3 164.7L159.8 167.9L161.1 171.1L161.6 174.6M160.6 181.5L160.6 185.0L161.5 188.4L163.0 191.5M158.9 25.3L158.0 28.7L157.5 32.1L158.1 35.6L159.4 38.8L160.0 42.3L159.5 45.7L158.6 49.1L158.7 52.6L159.9 55.9L160.9 59.3L160.8 62.8L160.0 66.1L159.6 69.6L160.4 73.0L161.6 76.3L162.1 79.8L161.4 83.2M79.5 197.8L79.3 201.3L80.1 204.7L81.6 207.9L83.1 211.1L83.6 214.5L83.2 218.0L82.9 221.5L83.5 224.9L85.0 228.1L86.5 231.2L87.2 234.7L86.9 238.2L86.5 241.6M172.9 185.0L172.8 188.5L173.3 191.9L173.9 195.4L174.2 198.9M172.5 205.6L171.0 208.8L169.8 212.1L169.3 215.5L169.6 219.0L170.2 222.4L170.7 225.9M169.6 232.8L168.1 236.0L166.8 239.2L165.9 242.6M11.7 76.5L10.6 79.8L9.4 83.1M8.4 90.0L9.0 93.4L9.9 96.8L10.6 100.2L10.6 103.7L9.9 107.2M107.2 5.4L107.7 8.8L107.6 12.3L107.0 15.7L105.8 19.1L104.5 22.3L103.3 25.6L102.6 29.0L102.5 32.5L103.0 36.0L103.8 39.4L104.7 42.8M199.9 11.9M199.4 18.8L200.5 22.1L201.4 25.5L201.3 29.0L200.4 32.4M199.5 39.2L200.5 42.6L201.5 45.9L201.7 49.4L200.9 52.8L199.9 56.2M200.5 63.1L201.6 66.4L202.0 69.9" stroke="#a98474" stroke-width="1.5" stroke-opacity="0.6" fill="none" stroke-linecap="round" stroke-linejoin="round"/>
<path d="M137.4 143.2L136.6 146.6L136.6 150.1L137.3 153.5L138.2 156.9L138.8 160.4L138.6 163.9L137.6 167.2L136.4 170.5L135.3 173.8L135.0 177.3L135.5 180.8L136.4 184.2L137.1 187.6L137.3 191.1L136.6 194.5M140.7 119.1L140.0 122.6L140.5 126.0L141.6 129.4L142.4 132.8L142.1 136.2L141.1 139.6L140.3 143.0L140.6 146.5L141.6 149.8L142.6 153.2L142.5 156.7L141.6 160.1L140.7 163.5L140.7 167.0M197.2 37.2L196.9 40.7L197.3 44.2L198.6 47.4L200.3 50.5L201.5 53.8L201.8 57.3L201.4 60.8M9.3 94.7L9.8 98.2L10.1 101.7L9.8 105.1L8.8 108.5L7.4 111.7L5.8 114.8M155.9 198.5L155.8 202.0M157.3 208.8L158.4 212.1L159.3 215.5L159.8 219.0L159.6 222.5L158.9 225.9L157.8 229.2L156.8 232.6L156.1 236.0L155.9 239.5L156.3 243.0L157.2 246.3L158.2 249.7M0.1 189.2L1.3 192.4L2.2 195.8L2.2 199.3L1.5 202.8L0.5 206.1L0.0 209.6L0.4 213.1" stroke="#a98474" stroke-width="1.0" stroke-opacity="0.6" fill="none" stroke-linecap="round" stroke-linejoin="round"/>
<path d="M154.6 137.3M154.2 144.3L154.9 147.7L156.2 150.9L157.9 154.0L159.5 157.1L160.6 160.4L161.0 163.9L160.8 167.4L160.4 170.9L160.1 174.4L160.5 177.9L161.6 181.2L163.2 184.3L164.9 187.4L166.3 190.6L167.0 194.0L167.0 197.5M105.9 124.8L106.1 128.3L106.8 131.7M108.9 138.4L109.8 141.8L110.3 145.3L110.1 148.8L109.5 152.2L108.5 155.5L107.5 158.9L106.6 162.3L106.2 165.8L106.4 169.3L107.1 172.7L108.1 176.0L109.2 179.3L110.1 182.7L110.5 186.2L110.4 189.7M182.9 110.2L182.3 113.6L182.5 117.1L182.7 120.6L182.2 124.0L180.7 127.2L178.9 130.2L177.8 133.5M106.5 108.7M106.0 115.7L106.5 119.2L107.7 122.5L109.3 125.6M14.0 79.9L14.4 83.4L14.2 86.9L14.3 90.4L15.4 93.7L17.2 96.7L18.8 99.8L19.5 103.2L19.4 106.7M210.2 115.6L209.6 119.1L208.4 122.4L207.8 125.8L208.4 129.3L209.4 132.6L209.5 136.1M53.3 98.2L51.9 101.4L51.0 104.8L50.6 108.3L50.9 111.7L51.6 115.2L52.3 118.6L52.7 122.1L52.4 125.6L51.4 128.9L50.1 132.2L48.7 135.4M47.2 142.2L47.4 145.7M165.0 81.8L164.2 85.2M165.0 95.6L166.1 98.9L167.3 102.2L168.2 105.6M168.3 112.5L167.6 116.0L166.6 119.3L165.7 122.7L165.0 126.1L164.9 129.6L165.5 133.1L166.4 136.5L167.6 139.8L168.7 143.1M182.3 10.7L181.7 14.1L180.2 17.3L179.1 20.7L179.2 24.2L179.9 27.6L180.0 31.1L178.9 34.4L177.5 37.6L176.8 41.0L177.3 44.5L177.9 48.0L177.5 51.4M129.1 -3.8L127.8 -0.6L127.2 2.9L127.6 6.3L128.2 9.8L128.1 13.3L127.0 16.6L125.4 19.8L124.3 23.1L124.1 26.6L124.6 30.0M124.6 37.0L123.3 40.2L121.8 43.3M225.9 38.3L225.7 41.8M227.2 48.7L226.7 52.1L225.5 55.4L224.9 58.8L225.4 62.3M47.0 144.5L47.1 148.0L48.0 151.4L48.9 154.8M48.3 161.7M46.7 171.9L47.6 175.3M111.0 79.9L111.3 83.4L112.0 86.8M111.4 93.8L109.9 97.0L108.5 100.1M114.4 104.8L114.4 108.3L114.0 111.8L114.2 115.3L115.4 118.5L117.2 121.6M119.0 128.2L118.7 131.7L118.5 135.2L119.3 138.6L120.9 141.8L122.6 144.8L123.5 148.2M123.1 155.2L123.3 158.7L124.6 161.9L126.3 165.0M228.3 61.7L229.6 64.9L230.8 68.2L231.4 71.7M230.8 78.6L230.0 82.0L229.4 85.5L229.2 89.0L229.8 92.4L230.8 95.7L232.2 99.0L233.5 102.2M196.8 151.7L197.9 155.0L197.9 158.5L197.5 162.0L197.7 165.5L199.0 168.8L200.7 171.8L202.2 175.0L202.7 178.5L202.4 181.9" stroke="#a68780" stroke-width="1.5" stroke-opacity="0.6" fill="none" stroke-linecap="round" stroke-linejoin="round"/>
<path d="M120.1 14.5L119.7 18.0L119.5 21.5L120.4 24.9L122.1 27.9L123.3 31.2L123.4 34.7L123.0 38.2L123.3 41.7L124.7 44.8L126.3 48.0L127.0 51.4L126.6 54.9L126.4 58.4L127.4 61.7L129.1 64.8L130.3 68.1M167.1 -1.9L168.0 1.5L167.9 5.0L167.6 8.5L168.2 11.9L169.8 15.1L171.6 18.1L172.4 21.5L172.3 25.0L172.0 28.5L172.7 31.9L174.4 35.0M94.9 -3.5L94.0 -0.1L93.3 3.3L93.5 6.8L94.6 10.1L95.8 13.4L96.1 16.9L95.5 20.4L94.6 23.7L94.2 27.2M195.7 156.7L194.9 160.1L193.6 163.4L192.2 166.6L191.3 170.0M43.4 116.1L42.7 119.6L43.1 123.1L44.5 126.3M45.5 133.1L44.8 136.5L44.9 140.0L46.1 143.3L47.4 146.5L47.7 150.0L47.0 153.5L46.7 157.0L47.7 160.3L49.2 163.5M59.0 160.0L58.5 163.5L58.6 167.0L59.2 170.4L60.2 173.8M62.0 180.6L62.2 184.1L61.8 187.5L60.9 190.9L59.8 194.2L58.7 197.6L58.0 201.0M170.0 57.5L168.7 60.7L167.4 64.0L167.0 67.4L167.6 70.9L168.1 74.3L167.6 77.8L166.2 81.0L165.0 84.3L164.8 87.8M223.4 156.5L224.2 159.9L224.1 163.4L223.3 166.8L222.4 170.2L222.4 173.7M224.4 180.4L225.3 183.8L225.2 187.3M177.6 100.5L177.6 104.0L176.7 107.3L175.3 110.6L174.2 113.9L173.7 117.3L174.1 120.8L174.9 124.2L175.5 127.7L175.4 131.2L174.5 134.6M23.7 56.8M27.5 73.3L27.4 76.8M218.2 196.9L219.4 200.2L219.8 203.7L219.2 207.1M219.1 214.1L220.4 217.3L221.8 220.5L222.4 224.0L221.9 227.4L221.3 230.9L221.5 234.4L222.7 237.7L224.2 240.8L225.0 244.2" stroke="#9c8079" stroke-width="1.5" stroke-opacity="0.8" fill="none" stroke-linecap="round" stroke-linejoin="round"/>
<path d="M191.4 136.9L190.2 140.2L189.2 143.6L188.8 147.1L189.0 150.6L189.8 154.0L190.8 157.3L191.7 160.7L192.1 164.2L191.8 167.7L190.9 171.0L189.7 174.3L188.8 177.7M163.5 80.6L163.3 84.1L164.0 87.5L165.6 90.7L167.0 93.9L167.6 97.3L167.3 100.8L166.8 104.3L167.0 107.8L168.1 111.1L169.7 114.2L170.9 117.5M170.4 124.4M132.0 58.6L132.3 62.0L132.2 65.5L131.4 69.0L130.2 72.2L128.7 75.4L127.2 78.6L126.2 81.9L125.6 85.4L125.7 88.9L126.2 92.3L126.9 95.8L127.4 99.2L127.4 102.7M125.6 109.5L124.2 112.7L122.7 115.8M104.8 99.5L105.1 103.0L104.9 106.5M104.2 113.5L104.4 117.0L105.2 120.4L106.6 123.6L108.2 126.7L109.9 129.8L111.1 133.0L111.7 136.5L111.6 140.0M68.3 156.4L68.0 159.9M65.1 166.2L63.7 169.5L63.2 172.9L63.5 176.4L64.0 179.9L63.8 183.4L62.6 186.7L61.0 189.8M107.9 85.4L107.2 88.9L107.4 92.4M108.7 99.2L108.5 102.7L107.4 106.0L106.1 109.3L105.2 112.6L105.2 116.1L105.9 119.6L106.6 123.0" stroke="#a68780" stroke-width="2.0" stroke-opacity="0.4" fill="none" stroke-linecap="round" stroke-linejoin="round"/>
<path d="M102.3 45.1L103.9 48.2L105.5 51.3L106.4 54.7L106.2 58.2L105.9 61.7L106.5 65.1L108.0 68.3L109.7 71.3L110.6 74.7L110.5 78.2L110.2 81.7L110.6 85.1M179.8 1.1L180.4 4.5M180.2 11.5L179.1 14.8L177.8 18.0L176.5 21.3L175.8 24.7L175.7 28.2L176.2 31.7L177.0 35.1L177.7 38.5L177.8 42.0L177.3 45.5M80.4 58.5L78.7 61.6L77.6 64.9M77.7 71.9L77.8 75.4L77.2 78.8L75.7 82.0L73.9 85.0L72.3 88.1L71.6 91.5L71.6 95.0L71.9 98.5L71.8 102.0L70.9 105.4M170.6 37.8L169.1 41.0L168.3 44.4L168.6 47.9L169.3 51.3L169.2 54.8L168.0 58.1L166.6 61.3L166.1 64.8L166.7 68.3L167.2 71.7L166.8 75.2L165.4 78.4L164.2 81.7L164.1 85.2L164.8 88.6M19.6 183.0L20.2 186.5L19.8 190.0L18.9 193.3L18.3 196.8L18.6 200.3L19.7 203.6L20.9 206.9L21.5 210.3M176.0 184.9L176.2 188.4L176.5 191.9L176.4 195.4L175.8 198.8L174.4 202.1L172.6 205.1L170.9 208.1L169.6 211.4L168.9 214.8L168.9 218.3L169.3 221.8M169.1 228.8L168.0 232.1L166.4 235.2M201.8 12.6L202.6 16.0L202.7 19.5L202.0 22.9L200.9 26.2L200.0 29.6L199.9 33.1M116.6 172.1L118.0 175.3L118.9 178.7L119.0 182.2L118.6 185.6L118.0 189.1M21.3 155.9L20.4 159.2L19.7 162.7M21.3 169.5L22.2 172.8L22.2 176.3L21.4 179.7M224.8 155.9L226.1 159.2L226.7 162.6L226.3 166.1L225.6 169.5L225.1 173.0L225.6 176.4L226.9 179.7L228.2 183.0L228.8 186.4L228.5 189.9L227.7 193.3L227.3 196.8L227.7 200.2L228.9 203.5L230.3 206.8L231.0 210.2" stroke="#ad8c80" stroke-width="2.0" stroke-opacity="0.6" fill="none" stroke-linecap="round" stroke-linejoin="round"/>
<path d="M-1.3 53.5M0.4 67.2L0.5 70.7L-0.3 74.1L-1.5 77.4L-2.4 80.8L-2.6 84.3L-1.9 87.7M27.6 201.5L26.7 204.8L25.4 208.1L24.8 211.5L25.2 215.0L26.1 218.4L26.1 221.9M126.3 196.1L126.6 199.6L126.9 203.1L126.9 206.6L126.3 210.0L125.1 213.3L123.5 216.4L121.7 219.4L120.1 222.5L118.9 225.8L118.4 229.3L118.5 232.8L118.8 236.3M83.1 23.0L83.7 26.5L83.8 30.0L82.9 33.3L81.4 36.5L80.1 39.8M79.7 46.7L80.3 50.1M136.6 71.4L135.3 74.7L133.7 77.8M132.4 84.6L132.9 88.1L132.9 91.6L132.0 94.9L130.3 98.0L128.9 101.2L128.5 104.7L128.9 108.2L129.2 111.7L128.5 115.1L127.0 118.2L125.4 121.4L124.7 124.8" stroke="#a3837a" stroke-width="1.5" stroke-opacity="0.8" fill="none" stroke-linecap="round" stroke-linejoin="round"/>
<path d="M231.6 21.6L233.3 24.6L234.6 27.9L235.3 31.3L235.4 34.8L235.2 38.3L234.9 41.8L235.0 45.3L235.6 48.7L236.8 52.0L238.5 55.1L240.3 58.1M126.0 32.2L126.9 35.6L127.5 39.1L127.5 42.6L126.8 46.0L125.5 49.3L124.3 52.5L123.5 56.0L123.4 59.5L124.0 62.9L124.9 66.3L125.6 69.7L125.7 73.2L125.1 76.7L123.9 80.0L122.6 83.2L121.7 86.6L121.5 90.1L122.0 93.6L122.9 96.9M135.0 163.4L133.4 166.5L131.7 169.6L130.3 172.8L129.3 176.1L128.8 179.6L128.9 183.1L129.3 186.6L129.8 190.0L129.9 193.5L129.5 197.0L128.5 200.4L127.0 203.5M123.7 209.7L122.4 213.0M22.4 147.5L24.1 150.6L25.7 153.7L26.6 157.1L26.5 160.6M26.5 167.5L27.8 170.8L29.6 173.8L30.9 177.0M30.8 187.5M66.7 35.5L66.1 39.0M67.2 49.3L68.7 52.4L70.2 55.6L71.1 59.0L71.3 62.5L70.8 66.0M70.0 72.9L70.5 76.4L71.7 79.6L73.3 82.8L74.6 86.0M75.4 92.9L74.9 96.4L74.4 99.8M88.3 53.5L88.0 57.0M89.5 63.8L91.1 66.9L92.7 70.0L93.7 73.4L94.0 76.9L93.7 80.3L93.2 83.8M39.4 117.0L38.6 120.4L38.5 123.9L39.1 127.3L40.1 130.7L40.9 134.1" stroke="#9c8079" stroke-width="1.0" stroke-opacity="0.6" fill="none" stroke-linecap="round" stroke-linejoin="round"/>
<path d="M153.1 131.7L151.3 134.7L150.5 138.1L150.7 141.6L150.7 145.1L149.5 148.4L147.6 151.4L146.5 154.7L146.5 158.2L146.7 161.7M151.1 -4.9L152.1 -1.6L153.1 1.8L153.3 5.3L152.6 8.7L151.5 12.0L150.9 15.5L151.3 18.9L152.3 22.3L153.2 25.7L153.2 29.2L152.3 32.6L151.3 35.9M145.3 167.8L144.5 171.3L144.4 174.7L145.0 178.2L146.2 181.5L147.5 184.7L148.4 188.1L148.5 191.6M203.6 159.5L202.1 162.7L201.6 166.1M202.1 173.1M199.4 179.5M198.9 186.4L199.2 189.9L198.4 193.3L196.7 196.4L195.6 199.7L195.7 203.2L196.1 206.6L195.7 210.1L194.1 213.3L192.7 216.5M101.9 71.7L103.3 74.9L104.2 78.3L104.5 81.8L104.3 85.2L103.8 88.7L103.5 92.2L103.6 95.7L104.4 99.1L105.7 102.3M109.0 108.5L110.3 111.8L111.1 115.2L111.2 118.7L110.8 122.2L110.4 125.7L110.1 129.1M97.0 30.2L98.4 33.4L100.0 36.5L101.3 39.8L102.0 43.2L102.0 46.7M101.0 53.6L100.6 57.1L100.9 60.6L101.8 64.0L103.3 67.2M101.1 14.5L101.9 17.9L102.2 21.4L101.5 24.9L100.3 28.1L99.0 31.4L98.5 34.9L98.9 38.4M22.7 72.0L22.0 75.4M17.6 85.0M15.9 91.7L16.0 95.2L16.5 98.7L17.0 102.1L17.2 105.6L16.8 109.1L15.8 112.5L14.3 115.6L12.7 118.8L11.4 122.0M214.7 95.3L214.9 98.8L214.3 102.3L212.8 105.4L211.1 108.5L209.7 111.7L209.3 115.2L209.5 118.6L209.7 122.1L209.1 125.6L207.7 128.8L205.9 131.8L204.5 135.0L204.1 138.5L204.3 142.0L204.5 145.5L203.9 148.9L202.5 152.1M52.0 193.5L52.0 197.0L52.7 200.4L52.7 203.9L51.5 207.2L50.2 210.4M97.4 83.4L95.8 86.5L94.7 89.8L94.4 93.3M94.9 100.3L95.1 103.8L94.6 107.3M193.5 193.3L192.7 196.7L191.8 200.1L191.5 203.6L192.0 207.0L193.2 210.3L194.3 213.6" stroke="#ad8c80" stroke-width="1.5" stroke-opacity="0.6" fill="none" stroke-linecap="round" stroke-linejoin="round"/>
<path d="M34.5 143.7L33.2 147.0L32.6 150.4L32.5 153.9L32.7 157.4L33.1 160.9L33.1 164.4L32.7 167.8L31.7 171.2L30.2 174.4L28.4 177.4L26.7 180.4L25.2 183.6L24.2 186.9L23.8 190.4L23.9 193.9L24.3 197.4M175.9 141.5L176.7 144.9L176.7 148.4L175.6 151.7L174.4 155.0M175.1 161.9M-1.4 191.8L-2.2 195.2L-2.6 198.7L-1.9 202.1L-0.6 205.3L0.3 208.7L0.2 212.2L-0.6 215.6L-1.2 219.1L-0.8 222.5L0.4 225.8L1.6 229.1L1.8 232.6L1.1 236.0M214.2 92.3L215.5 95.5M217.1 102.3L216.6 105.8L215.8 109.2L215.3 112.6L215.6 116.1L216.8 119.4L218.1 122.7L218.8 126.1L218.7 129.6L217.9 133.0M13.5 199.3L12.4 202.6L12.4 206.1L12.6 209.6L11.9 213.0M8.6 219.2L8.2 222.7L8.6 226.2L8.3 229.7L6.8 232.8L5.1 235.9L4.2 239.3L4.4 242.8M-3.6 70.8L-4.8 74.2L-5.3 77.6L-5.1 81.1L-4.4 84.5L-3.7 88.0L-3.3 91.4L-3.7 94.9L-4.7 98.3L-6.1 101.5M200.8 147.4L200.3 150.8L199.1 154.2L197.5 157.2L195.7 160.3L194.2 163.4L193.3 166.8L193.1 170.3L193.3 173.8L193.7 177.3M99.8 24.5L100.5 27.9L100.4 31.4L99.4 34.8L98.1 38.1L97.2 41.4L97.1 44.9L97.7 48.4L98.6 51.7L99.0 55.2L98.6 58.7L97.4 62.0L96.2 65.3M95.7 72.2L96.6 75.6M81.8 83.8L80.6 87.1L79.1 90.3L78.7 93.8L79.3 97.2L79.5 100.7L78.4 104.0L76.9 107.2L76.3 110.6L76.8 114.1L77.2 117.6L76.3 121.0L74.7 124.1L73.9 127.5L74.3 131.0L74.8 134.5L74.1 137.9M71.6 144.4M142.6 15.2L141.1 18.4L140.1 21.7L139.8 25.2L140.4 28.7M141.2 35.6L140.4 39.0L139.0 42.2L137.7 45.5L137.0 48.9L137.2 52.4L137.9 55.8L138.4 59.3L138.1 62.8" stroke="#ad8c80" stroke-width="1.5" stroke-opacity="0.8" fill="none" stroke-linecap="round" stroke-linejoin="round"/>
<path d="M231.1 13.0L230.2 16.4L229.9 19.9L230.3 23.3L231.3 26.7L232.6 30.0L233.5 33.3L233.7 36.8L233.2 40.3L232.2 43.7L231.4 47.1L231.1 50.5L231.5 54.0L232.5 57.4L233.8 60.6L234.6 64.0L234.9 67.5L234.3 71.0M158.8 194.7L158.5 198.2L159.0 201.6L158.8 205.1L157.4 208.4L155.8 211.4L154.9 214.8L155.1 218.3L155.4 221.8L154.6 225.2L153.0 228.3L151.5 231.5M151.6 238.4L151.5 241.9L150.3 245.2L148.6 248.3M198.7 82.1L199.9 85.4L200.6 88.8L200.4 92.3L199.6 95.7L198.7 99.1L198.3 102.6L198.7 106.0L199.8 109.4L201.0 112.6M201.8 119.5L201.1 123.0M13.5 199.9L12.3 203.2L11.8 206.7L12.5 210.1L13.3 213.5L13.1 217.0L11.9 220.3L10.8 223.6L10.9 227.1L11.7 230.5L12.2 234.0M120.2 127.8L119.6 131.2L119.8 134.7L120.5 138.1L121.3 141.6L121.5 145.1L121.0 148.5L119.8 151.8M220.8 190.0L221.5 193.4L221.9 196.9L221.3 200.4M218.6 206.8L218.1 210.3L218.5 213.8L219.2 217.2M218.1 224.0L216.6 227.2M215.7 234.1L216.3 237.5L216.7 241.0L216.1 244.4M231.5 65.2L233.1 68.3M235.8 74.7L236.4 78.2L236.4 81.7M36.0 170.7L35.6 174.2L35.8 177.7L36.9 181.0L38.3 184.2L39.6 187.5L40.2 190.9L40.0 194.4L39.3 197.8L38.7 201.3L38.7 204.8L39.4 208.2L40.8 211.4L42.1 214.6M140.6 2.7L141.9 5.9L143.5 9.0L144.2 12.4L143.8 15.9L143.7 19.4L145.0 22.7L146.6 25.8L147.4 29.2L147.1 32.7L146.9 36.2L148.0 39.5L149.7 42.6L150.7 45.9L150.4 49.4L150.2 52.9L151.1 56.3L152.7 59.3L153.9 62.7M227.5 63.2L226.3 66.5L225.7 69.9L225.7 73.4L226.0 76.9L226.5 80.4L226.8 83.9L226.6 87.4" stroke="#a98474" stroke-width="2.0" stroke-opacity="0.6" fill="none" stroke-linecap="round" stroke-linejoin="round"/>
<path d="M147.3 185.5L148.1 188.9L147.9 192.4L146.6 195.7L145.5 198.9L145.4 202.4L146.2 205.9L146.5 209.4L145.5 212.7L144.2 215.9L143.6 219.4L144.2 222.9M144.3 229.8L143.0 233.0M58.0 12.2L59.5 15.4M62.7 39.1M65.2 49.0L66.2 52.3L66.0 55.8L65.6 59.3L66.4 62.7L68.0 65.8L69.2 69.1M204.9 14.6L205.3 18.1L206.8 21.3L208.5 24.3L209.4 27.7L209.2 31.2L209.1 34.7L209.9 38.1L211.7 41.1L213.2 44.3L213.6 47.8L213.3 51.2L213.4 54.7L214.7 58.0L216.5 61.0L217.7 64.3L217.7 67.8M218.0 74.7L219.6 77.8M86.0 11.0M87.4 17.8L88.2 21.2L87.8 24.7M87.7 45.1M117.5 82.7L116.1 85.9L114.4 89.0L112.7 92.1L111.4 95.3L110.8 98.8L110.8 102.3L111.1 105.8L111.5 109.2M143.7 5.2L144.2 8.7L143.5 12.1L142.4 15.5L142.0 18.9L142.7 22.4L143.7 25.7L143.9 29.2M127.3 39.3L126.5 42.7L125.6 46.1L124.9 49.5L124.9 53.0L125.6 56.4L126.7 59.8L127.9 63.1L128.5 66.5L128.5 70.0L127.7 73.4M166.9 167.7L166.5 171.2L165.0 174.4L163.3 177.4L162.3 180.8L162.4 184.3L162.7 187.7L162.2 191.2L160.6 194.3M48.0 55.5M51.0 72.2L52.5 75.4L53.2 78.8L53.0 82.3L52.7 85.8M8.4 164.6L7.7 168.1M4.7 174.4L2.9 177.4L1.4 180.6L0.6 184.0L0.4 187.5L0.7 190.9L1.0 194.4L0.8 197.9L-0.1 201.3L-1.5 204.5L-3.3 207.5L-5.1 210.6L-6.4 213.8L-7.0 217.3L-7.0 220.8L-6.7 224.2L-6.5 227.7M8.3 111.0L9.5 114.3L10.9 117.5M12.3 124.3L11.8 127.8L11.1 131.2L10.6 134.7L10.8 138.2L11.8 141.5L13.2 144.8M15.1 151.5L14.9 155.0L14.2 158.4L13.6 161.8L13.5 165.3L14.2 168.8L15.5 172.0" stroke="#a68780" stroke-width="2.0" stroke-opacity="0.6" fill="none" stroke-linecap="round" stroke-linejoin="round"/>
<path d="M205.5 117.0M203.8 123.7L202.3 126.9L201.7 130.3L202.0 133.8L202.6 137.3L202.3 140.8L201.0 144.0L199.5 147.2L198.7 150.6L199.1 154.1L199.6 157.5L199.4 161.0L198.2 164.3M170.5 63.5L170.6 67.0L171.2 70.5L171.2 74.0L170.3 77.4M167.3 83.7L166.6 87.1L166.9 90.6L167.4 94.1L167.4 97.6L166.4 100.9L164.8 104.1" stroke="#a98474" stroke-width="1.0" stroke-opacity="0.4" fill="none" stroke-linecap="round" stroke-linejoin="round"/>
<path d="M148.5 158.8L149.4 162.2L150.9 165.3M152.3 172.1L151.7 175.6L151.3 179.1L151.8 182.5L153.2 185.7M20.4 95.1L19.9 98.5L19.6 102.0L20.2 105.5L21.7 108.6L23.2 111.8L23.8 115.3L23.4 118.7L22.9 122.2L23.2 125.7M26.0 132.1L27.0 135.5L27.0 139.0L26.4 142.4L26.3 145.9L27.2 149.3L28.8 152.4L30.1 155.7M183.2 87.1L183.7 90.6L184.1 94.1L183.7 97.6L182.4 100.8L180.8 103.9L179.4 107.2L178.8 110.6M179.6 117.6L179.8 121.0M177.7 127.7L176.1 130.8M174.5 137.6M175.4 144.5L175.4 148.0M180.5 140.7L180.0 144.2L180.3 147.7L181.3 151.0L182.8 154.2L184.0 157.5L184.4 161.0M183.3 167.9L182.8 171.3L183.2 174.8L184.3 178.1L185.7 181.3L186.9 184.6L187.2 188.1L186.8 191.6L186.0 195.0L185.6 198.5L186.1 202.0M154.9 -2.9L155.8 0.5L156.0 4.0L155.4 7.5L154.2 10.8L153.2 14.1L152.7 17.6L153.2 21.0L154.1 24.4L155.0 27.8M144.2 117.9L144.4 121.4L144.1 124.9L143.3 128.3L141.9 131.5L140.2 134.6L138.6 137.7L137.3 140.9L136.5 144.3M165.8 -1.1L164.5 2.1L163.4 5.4L162.9 8.9M163.7 15.8L164.6 19.2L165.2 22.7L165.1 26.2L164.4 29.6L163.3 32.9L162.0 36.1L161.0 39.5L160.6 43.0L160.9 46.5L161.7 49.9L162.5 53.3L163.0 56.7L162.8 60.2M11.9 145.5L12.7 148.9L12.9 152.4L12.3 155.8L11.0 159.1L9.9 162.4L9.5 165.9L10.0 169.3L10.9 172.7M10.3 179.4L11.4 182.7L12.3 186.1L12.3 189.6L11.5 193.0L10.5 196.3L10.2 199.8M30.1 77.4L28.4 80.5L26.8 83.6M25.4 90.5L25.7 94.0L26.1 97.4M26.0 104.4M106.4 162.8L106.1 166.3L105.6 169.8L106.0 173.3L107.3 176.5L108.9 179.6L110.0 183.0L110.0 186.5L109.5 189.9L109.3 193.4L110.1 196.8L111.7 200.0L113.2 203.1L113.8 206.6L113.5 210.1L113.1 213.5L113.3 217.0L114.5 220.3M119.4 197.3L119.5 200.8L118.7 204.2L117.4 207.5L116.2 210.8L115.6 214.2L115.9 217.7L116.7 221.1M0.8 196.3L1.5 199.7L1.9 203.2L1.5 206.7L0.4 210.0M-2.4 216.4L-3.2 219.8L-3.2 223.3L-2.6 226.8L-2.0 230.2L-2.0 233.7L-2.7 237.1L-4.0 240.4L-5.5 243.5L-6.7 246.8L-7.0 250.3M88.0 108.5L86.8 111.8L85.7 115.1L85.8 118.6L86.6 122.0M86.5 128.9L85.2 132.2L84.5 135.6L85.0 139.1L85.8 142.5L85.9 146.0" stroke="#9c8079" stroke-width="1.5" stroke-opacity="0.6" fill="none" stroke-linecap="round" stroke-linejoin="round"/>
<path d="M63.2 87.1L63.9 90.5L63.5 94.0L62.6 97.3M63.1 104.2L64.4 107.5L64.9 110.9L64.3 114.4L63.5 117.8L63.4 121.3L64.4 124.6L65.6 127.9L65.9 131.4L65.2 134.8M60.0 116.8L59.5 120.3L58.3 123.6L56.7 126.7L55.0 129.8L53.7 133.0L53.1 136.5L53.1 140.0M40.4 190.7L40.3 194.2L39.7 197.6L39.2 201.1M40.2 208.0L41.6 211.2M44.3 217.6L44.7 221.1L44.3 224.6L43.7 228.1L43.4 231.5L43.8 235.0M181.0 77.8L181.9 81.2L183.1 84.5L184.0 87.9L184.4 91.3L184.1 94.8L183.3 98.2M181.4 105.0L181.1 108.5L181.5 111.9M9.8 82.9L8.5 86.1L7.8 89.6L7.6 93.1L7.9 96.5L8.3 100.0M7.8 107.0L6.7 110.3M18.5 89.7L18.3 93.2L17.6 96.6L17.5 100.1L18.4 103.5L19.9 106.7L21.1 110.0L21.4 113.5L20.8 116.9L20.3 120.4L20.7 123.9M23.5 130.3M56.0 35.4M59.3 48.7M58.6 55.6L59.1 59.1L60.6 62.3" stroke="#ad8c80" stroke-width="1.5" stroke-opacity="0.4" fill="none" stroke-linecap="round" stroke-linejoin="round"/>
<path d="M-0.7 55.9M-0.1 62.8L-0.7 66.3M68.1 134.7L68.1 138.2L67.0 141.5L65.3 144.6L64.2 147.9L64.3 151.4L64.8 154.9L64.2 158.4M61.2 164.7L60.7 168.1L61.1 171.6L61.2 175.1M72.0 49.8L73.8 52.9L74.8 56.2L74.7 59.7L74.5 63.2L75.1 66.7L76.7 69.8L78.5 72.8" stroke="#a98474" stroke-width="1.5" stroke-opacity="0.8" fill="none" stroke-linecap="round" stroke-linejoin="round"/>
<path d="M74.3 164.3L75.6 167.6L76.0 171.0L75.5 174.5L74.8 177.9L74.9 181.4L76.0 184.7L77.4 188.0L78.1 191.4L77.7 194.9L76.9 198.3L76.8 201.8L77.8 205.2L79.2 208.4L80.1 211.7L79.9 215.2M162.7 11.8L163.3 15.2L163.0 18.7L163.2 22.2M166.4 28.4L167.6 31.7M136.9 154.0L136.5 157.5L135.0 160.7L133.2 163.7L132.1 167.0L132.2 170.5L132.4 174.0L131.7 177.4L130.1 180.5L128.4 183.6L127.6 187.0L127.8 190.5L127.9 194.0L126.9 197.3M29.9 58.4M29.3 65.3L28.9 68.8L29.6 72.3M32.2 78.7M31.7 85.7L31.3 89.1L31.9 92.6L33.3 95.8L34.5 99.1L34.7 102.6L34.1 106.0L33.6 109.5" stroke="#a98474" stroke-width="1.5" stroke-opacity="0.4" fill="none" stroke-linecap="round" stroke-linejoin="round"/>
<path d="M21.3 66.4M21.7 76.8M24.7 83.1L26.3 86.2L27.4 89.5L27.9 93.0L27.7 96.5M115.2 135.3L114.8 138.8L114.2 142.2L113.6 145.7L113.5 149.2L114.1 152.6L115.3 155.9L116.8 159.1M71.1 123.2L71.7 126.7L71.5 130.1L70.1 133.4L68.7 136.6L68.3 140.0L68.9 143.5M70.2 89.3L69.6 92.7L70.1 96.2L71.5 99.4L72.7 102.7L72.8 106.2L72.1 109.6L71.9 113.1L72.8 116.5L74.3 119.7L75.1 123.1L74.8 126.6M75.3 136.6L76.0 140.1L77.0 143.4L77.3 146.9L76.7 150.3L75.5 153.6L74.6 157.0L74.6 160.5L75.4 163.9L76.3 167.3L76.6 170.8M30.4 72.4L31.4 75.7M31.2 82.7L30.3 86.0L29.5 89.5L29.4 93.0L30.0 96.4L31.2 99.7L32.4 103.0L33.1 106.4" stroke="#a3837a" stroke-width="2.0" stroke-opacity="0.8" fill="none" stroke-linecap="round" stroke-linejoin="round"/>
<path d="M165.7 41.6L166.5 45.0L166.9 48.5L166.5 52.0L165.7 55.4L164.6 58.7L163.6 62.1L163.0 65.5L163.1 69.0L163.7 72.5L164.7 75.8L165.8 79.1L166.6 82.6L166.9 86.0L166.5 89.5L165.7 92.9L164.6 96.2L163.6 99.6L163.0 103.1M13.2 71.7L14.8 74.8M16.5 81.5M25.8 164.2M26.7 171.2L25.9 174.6L24.4 177.7L23.5 181.1L23.8 184.6L24.4 188.1L23.8 191.5L22.3 194.7L21.3 198.0L21.4 201.5L22.1 205.0L21.7 208.5L20.3 211.7M177.1 -6.2L175.7 -3.0L174.3 0.2L173.9 3.6L174.5 7.1M173.9 14.0L172.4 17.1L171.2 20.4L171.3 23.9L171.9 27.4L171.8 30.9L170.6 34.2L169.1 37.3L168.3 40.7L168.7 44.2L169.2 47.7L168.7 51.2L167.3 54.3M0.3 59.4M-4.0 76.1M-3.2 83.0L-3.1 86.5" stroke="#9c8079" stroke-width="2.0" stroke-opacity="0.8" fill="none" stroke-linecap="round" stroke-linejoin="round"/>
<path d="M174.7 47.4L175.3 50.9M176.3 57.8L176.1 61.3M173.8 67.9L172.4 71.1L171.1 74.3L170.4 77.8L170.3 81.3L170.7 84.7L171.4 88.2L171.9 91.6M171.3 98.6L170.1 101.9L168.7 105.0M9.7 121.6L8.8 125.0L7.9 128.3L8.1 131.8L9.2 135.2L9.9 138.6L9.6 142.1L8.5 145.4L7.9 148.9L8.5 152.3L9.6 155.6L10.0 159.1M164.1 95.9L164.9 99.3L165.4 102.7L164.7 106.2L163.4 109.4L162.4 112.8L162.4 116.3L163.2 119.7L163.7 123.1M82.0 77.8L80.3 80.8L78.6 83.9L77.1 87.1L76.4 90.5L76.3 94.0L76.6 97.5L76.9 101.0L76.6 104.4L75.6 107.8L74.1 110.9L72.3 113.9L70.7 117.1M151.4 199.9L151.3 203.4L150.1 206.7L148.9 210.0L148.6 213.5L149.2 216.9M149.4 223.8M118.9 107.1L120.1 110.4L120.5 113.9L119.9 117.3L118.9 120.6L118.6 124.1L119.3 127.5L120.4 130.9L120.8 134.3L120.0 137.8L119.0 141.1L118.9 144.6L119.8 148.0L120.8 151.3L121.0 154.8L120.1 158.2L119.2 161.6L119.2 165.1M214.8 5.2L213.9 8.6L212.6 11.8L211.1 15.0L209.8 18.3L208.8 21.6L208.5 25.1L208.7 28.6L209.4 32.1L210.0 35.5L210.5 39.0L210.4 42.5L209.8 45.9L208.6 49.2L207.1 52.4" stroke="#a98474" stroke-width="2.0" stroke-opacity="0.8" fill="none" stroke-linecap="round" stroke-linejoin="round"/>
<path d="M147.6 60.9L146.4 64.3L144.6 67.3L143.2 70.4L142.9 73.9L143.2 77.4L142.9 80.9L141.5 84.1L139.7 87.1L138.5 90.4L138.4 93.9L138.7 97.4L138.2 100.9L136.6 104.0L134.9 107.0L133.9 110.4L134.1 113.9L134.2 117.4L133.4 120.8L131.7 123.8M91.3 66.2L92.0 69.6L93.6 72.7L95.0 75.9L95.4 79.4M94.9 86.3L96.0 89.7L97.7 92.7L98.8 96.0L98.8 99.5L98.3 103.0L98.7 106.5L100.2 109.7L101.8 112.8L102.5 116.2L102.1 119.7L101.9 123.2" stroke="#a3837a" stroke-width="1.0" stroke-opacity="0.4" fill="none" stroke-linecap="round" stroke-linejoin="round"/>
<path d="M13.6 60.4M12.4 74.2L10.8 77.3L9.0 80.4L7.9 83.7L7.9 87.2M112.7 54.9L112.5 58.4L112.1 61.9L112.2 65.4L113.2 68.8L114.7 71.9L116.5 74.9L117.9 78.1L118.5 81.6M118.7 -6.7L118.9 -3.2L118.4 0.2L117.8 3.7L118.1 7.2L119.3 10.5L120.8 13.6L121.7 17.0L121.6 20.5L121.0 23.9L120.6 27.4L121.2 30.9M134.5 24.4L135.5 27.7L137.3 30.8L138.8 33.9L139.3 37.4L139.0 40.9L138.9 44.4L139.8 47.7L141.5 50.8L143.1 53.9L143.7 57.4L143.5 60.8L143.3 64.3L144.1 67.8L145.8 70.8L147.4 73.9L148.1 77.3L147.9 80.8M227.7 105.9L226.7 109.3L226.4 112.7L226.9 116.2L228.0 119.5L229.1 122.9L229.3 126.4L228.7 129.8L227.7 133.2L227.0 136.6L227.2 140.1M229.3 146.8L229.9 150.2L229.7 153.7L228.7 157.1" stroke="#a68780" stroke-width="1.5" stroke-opacity="0.8" fill="none" stroke-linecap="round" stroke-linejoin="round"/>
<path d="M109.1 89.9M107.9 96.7L107.7 100.2L108.6 103.6L109.7 106.9L109.8 110.4" stroke="#ad8c80" stroke-width="1.0" stroke-opacity="0.4" fill="none" stroke-linecap="round" stroke-linejoin="round"/>
<path d="M60.7 155.0L60.3 158.5L59.7 161.9L59.4 165.4L59.9 168.9L61.0 172.2L62.6 175.3M15.7 85.4L15.1 88.8L14.2 92.2L14.0 95.7L14.8 99.1L16.0 102.4L16.6 105.8L16.1 109.3L15.1 112.6L14.8 116.1L15.5 119.6L16.7 122.8L17.5 126.3L17.1 129.7L16.2 133.1L15.6 136.6L16.2 140.0L17.4 143.3L18.3 146.7M151.0 88.9L150.8 92.4L151.2 95.9L152.2 99.2L153.6 102.5L155.0 105.7L156.3 108.9L157.0 112.4M145.7 199.6L145.7 203.1L145.2 206.5L144.0 209.8L142.5 213.0L141.0 216.1L139.7 219.4L139.0 222.8L138.8 226.3L139.2 229.8L139.8 233.2M166.0 -0.8L165.2 2.6L165.3 6.1L165.8 9.6L165.7 13.1L164.7 16.4L163.0 19.5L161.6 22.7L160.9 26.1L161.1 29.6L161.6 33.1M160.2 39.9L158.5 42.9L157.1 46.2L156.7 49.6L157.0 53.1L157.4 56.6M135.2 130.9L136.0 134.3L136.2 137.8L135.8 141.3L134.8 144.7L133.7 148.0L132.6 151.3L131.9 154.7L131.9 158.2L132.4 161.7L133.3 165.1L134.3 168.4" stroke="#a68780" stroke-width="2.0" stroke-opacity="0.8" fill="none" stroke-linecap="round" stroke-linejoin="round"/>
<path d="M131.6 160.9L132.1 164.4L131.7 167.9L130.3 171.1L128.6 174.2L127.8 177.6L128.1 181.1L128.4 184.5L127.8 188.0L126.2 191.1L124.7 194.3L124.1 197.7L124.5 201.2L124.7 204.7L123.8 208.1L122.1 211.2L120.8 214.4M121.0 221.3L120.9 224.8" stroke="#a98474" stroke-width="2.0" stroke-opacity="0.4" fill="none" stroke-linecap="round" stroke-linejoin="round"/>
<path d="M20.0 97.1L19.0 100.5L17.6 103.7L16.7 107.1M17.2 114.0L18.0 117.4L18.3 120.9L17.8 124.4L16.5 127.6L15.3 130.9L14.6 134.3L14.9 137.8L15.7 141.2L16.3 144.7L16.3 148.2L15.4 151.5L14.1 154.8M111.4 120.9L111.7 124.4L110.9 127.8L109.8 131.1M109.8 138.0L110.8 141.4L111.4 144.8L110.9 148.3L109.8 151.6L109.0 155.0L109.2 158.5L110.2 161.9M46.4 78.5L45.5 81.9L44.5 85.2L44.1 88.7L44.5 92.2L45.6 95.5L46.6 98.8L47.0 102.3M45.6 109.1L44.7 112.5M229.7 158.0L229.7 161.5M227.2 168.0M226.9 174.9L227.7 178.4L227.8 181.9L226.7 185.2L225.3 188.4L224.6 191.8L224.9 195.3L225.7 198.7L225.8 202.2L224.9 205.6L223.5 208.8L222.7 212.2M98.1 -4.4L98.6 -0.9L98.3 2.6M96.4 9.3L95.4 12.6L94.9 16.1L95.1 19.6L95.8 23.0L96.9 26.4L97.9 29.7L98.3 33.2L98.1 36.7L97.3 40.1L96.2 43.4" stroke="#9c8079" stroke-width="1.0" stroke-opacity="0.8" fill="none" stroke-linecap="round" stroke-linejoin="round"/>
<path d="M100.8 10.6L101.4 14.1L102.6 17.4L104.1 20.5L105.2 23.9L105.5 27.3L105.0 30.8L104.4 34.3M192.3 45.8M195.3 52.1L196.2 55.5L196.1 59.0L195.6 62.4L195.6 65.9L196.6 69.3L198.2 72.4L199.6 75.6L200.0 79.1L199.6 82.6L199.2 86.0L199.7 89.5L201.0 92.7L202.6 95.8" stroke="#a3837a" stroke-width="1.5" stroke-opacity="0.4" fill="none" stroke-linecap="round" stroke-linejoin="round"/>
<path d="M176.8 132.8L176.3 136.3L175.2 139.6L173.8 142.8L172.4 146.0L171.2 149.3L170.6 152.8L170.6 156.3L171.1 159.7L171.8 163.2L172.4 166.6L172.5 170.1L171.9 173.6L170.8 176.9L169.4 180.1L168.0 183.3L166.9 186.6L166.3 190.1M171.9 41.9L170.8 45.2L169.8 48.6L169.3 52.0L169.7 55.5L170.7 58.9M171.8 65.7M201.8 147.4L201.0 150.8L200.7 154.3L201.4 157.7L202.8 160.9L204.0 164.2L204.3 167.7L203.7 171.2L203.0 174.6L203.0 178.1L204.0 181.4L205.5 184.6L206.4 188.0L206.3 191.5L205.6 194.9L205.1 198.4L205.5 201.9M59.7 38.7M57.6 48.8M58.2 59.2M54.1 72.4L54.7 75.9L55.2 79.3L55.2 82.8L54.2 86.2L52.7 89.3" stroke="#a3837a" stroke-width="1.0" stroke-opacity="0.8" fill="none" stroke-linecap="round" stroke-linejoin="round"/>
<path d="M10.7 66.3L11.2 69.8M15.8 79.2L17.5 82.2L18.8 85.5M19.6 92.4L19.4 95.9L19.2 99.4M75.2 165.2L74.5 168.6M71.3 174.8L69.6 177.9L68.5 181.2M114.2 18.5M113.2 25.4L114.1 28.8L115.3 32.1M115.5 39.0L114.6 42.4L114.2 45.9L114.8 49.3L116.1 52.6L117.0 55.9L116.9 59.4L116.0 62.8L115.3 66.3L115.6 69.8L116.8 73.1L117.9 76.4" stroke="#9c8079" stroke-width="1.5" stroke-opacity="0.4" fill="none" stroke-linecap="round" stroke-linejoin="round"/>
<path d="M38.8 195.8L37.8 199.1L37.5 202.6L38.3 206.0L39.4 209.3L40.1 212.8L39.7 216.3L38.7 219.6L37.9 223.0L38.1 226.5L39.2 229.9L40.2 233.2M53.6 181.0L54.9 184.2L56.4 187.4L57.6 190.7L58.1 194.1L58.0 197.6L57.4 201.1L56.7 204.5L56.6 208.0L57.1 211.5L58.3 214.8M159.7 46.1L159.4 49.5L159.3 53.0L159.9 56.5L161.2 59.8L162.8 62.9L164.5 65.9L165.9 69.1M166.9 76.0L166.6 79.5L166.1 83.0L166.0 86.5L166.4 90.0L167.5 93.3L169.1 96.4L170.8 99.5M34.2 92.0L33.9 95.5L33.0 98.8L32.3 102.3L32.5 105.7L33.6 109.1L34.7 112.4L35.0 115.9L34.3 119.3L33.3 122.7L33.0 126.2L33.7 129.6L34.9 132.9L35.7 136.3M34.6 143.2" stroke="#ad8c80" stroke-width="2.0" stroke-opacity="0.4" fill="none" stroke-linecap="round" stroke-linejoin="round"/>
<path d="M83.0 11.7M84.5 18.5M83.0 25.3M83.5 35.6L84.6 38.9M84.8 45.8L83.8 49.2M83.1 56.1L84.0 59.5L85.1 62.8L85.8 66.2L85.6 69.7M147.0 123.4L148.3 126.6L149.3 130.0L149.6 133.5L149.1 136.9L148.2 140.3L147.7 143.8L148.0 147.3L149.0 150.6L150.3 153.8L151.3 157.2" stroke="#9c8079" stroke-width="2.0" stroke-opacity="0.4" fill="none" stroke-linecap="round" stroke-linejoin="round"/>
<path d="M66.3 157.5L67.2 160.8L68.3 164.2L69.1 167.6L69.1 171.1L68.3 174.5L67.2 177.8L66.4 181.2L66.2 184.7M189.2 90.3L190.8 93.5L192.2 96.7L192.9 100.1L192.6 103.6L192.1 107.1L192.0 110.6L192.9 113.9L194.4 117.1L196.0 120.2L196.8 123.6L196.8 127.1L196.3 130.6L196.0 134.1L196.6 137.5L198.0 140.7L199.6 143.9L200.7 147.2L200.9 150.7" stroke="#ad8c80" stroke-width="2.0" stroke-opacity="0.8" fill="none" stroke-linecap="round" stroke-linejoin="round"/>
<path d="M231.7 91.0L232.2 94.4L233.4 97.7L235.0 100.8L236.8 103.8L238.4 106.9L239.6 110.2L240.2 113.7L240.2 117.2L239.9 120.6L239.7 124.1L239.8 127.6L240.6 131.0L241.9 134.3L243.6 137.3M219.1 34.9L218.6 38.3L218.8 41.8L220.1 45.1L221.7 48.2L222.9 51.5L223.1 55.0L222.6 58.4L222.3 61.9L223.0 65.4L224.5 68.5M213.0 81.6L211.8 84.9L210.8 88.3L210.3 91.8L210.4 95.3L211.0 98.7L212.0 102.1L212.9 105.4L213.6 108.9L213.7 112.4L213.3 115.8L212.3 119.2L211.1 122.5L210.0 125.8L209.3 129.2L209.1 132.7" stroke="#a3837a" stroke-width="1.0" stroke-opacity="0.6" fill="none" stroke-linecap="round" stroke-linejoin="round"/>
<path d="M39.4 179.0L39.8 182.5L39.2 185.9L38.2 189.3L37.5 192.7L37.6 196.2L38.5 199.6L39.7 202.9L40.5 206.3L40.3 209.8L39.5 213.2M63.6 150.8L62.3 154.1L61.3 157.4L60.9 160.9L61.2 164.4L62.0 167.8L62.9 171.2L63.5 174.6L63.5 178.1L62.8 181.5L61.6 184.8L60.4 188.1" stroke="#a68780" stroke-width="1.0" stroke-opacity="0.8" fill="none" stroke-linecap="round" stroke-linejoin="round"/>
<path d="M74.2 124.3L75.9 127.4L77.1 130.6L77.3 134.1L76.8 137.6L77.0 141.1L78.2 144.4M137.8 98.1L138.1 101.6L138.2 105.1L137.5 108.5L136.0 111.7L134.2 114.7L132.8 117.9L132.3 121.4L132.5 124.9L132.8 128.3L132.3 131.8L131.0 135.1M160.3 195.7L161.0 199.1L162.0 202.5L162.8 205.9M162.8 212.9" stroke="#a3837a" stroke-width="2.0" stroke-opacity="0.4" fill="none" stroke-linecap="round" stroke-linejoin="round"/>
<path d="M197.3 85.2L196.1 88.5L195.3 91.8L195.0 95.3L195.5 98.8L196.4 102.2L197.3 105.6M3.0 78.1M3.8 85.1L3.8 88.6L3.1 92.0L1.8 95.2L0.1 98.3L-1.5 101.4L-2.7 104.7L-3.2 108.2L-3.1 111.7L-2.6 115.1L-2.4 118.6L-2.7 122.1L-3.7 125.5L-5.2 128.6L-6.9 131.7L-8.4 134.8L-9.3 138.2L-9.4 141.7" stroke="#ad8c80" stroke-width="1.0" stroke-opacity="0.8" fill="none" stroke-linecap="round" stroke-linejoin="round"/>
<path d="M29.2 95.5L29.6 99.0L30.7 102.3L32.1 105.5M146.2 88.0L146.9 91.5L148.0 94.8L149.3 98.1M195.3 99.0L196.1 102.4M91.4 185.9L89.7 188.9L87.9 192.0L86.9 195.3L86.8 198.8L87.2 202.3M70.1 150.8L69.7 154.3L69.0 157.7L69.3 161.2L70.6 164.4L71.7 167.8L71.6 171.3M224.0 -8.7L222.9 -5.4L222.1 -2.0M118.6 100.0L118.6 103.5L117.9 106.9L116.6 110.2L115.0 113.3M208.3 105.8L208.7 109.3M208.1 116.3L206.8 119.5L205.2 122.6" stroke="#c09c8c" stroke-width="1.0" stroke-opacity="0.8" fill="none" stroke-linecap="round" stroke-linejoin="round"/>
<path d="M181.3 30.6M178.5 37.1L177.8 40.5L178.0 44.0L178.7 47.4M25.0 94.0L26.1 97.3L27.6 100.5L29.3 103.6L30.5 106.8L31.1 110.3M97.4 122.5L97.2 126.0L97.6 129.5L98.9 132.7L100.7 135.7L102.4 138.7M145.3 87.6L146.4 90.9L147.2 94.4L147.2 97.9L146.4 101.3L145.3 104.6M201.4 188.0L201.1 191.5L201.5 195.0L202.3 198.4M164.3 34.6L165.1 38.0L166.4 41.2" stroke="#c09c8c" stroke-width="1.0" stroke-opacity="0.6" fill="none" stroke-linecap="round" stroke-linejoin="round"/>
<path d="M132.4 48.8L132.8 52.3L133.7 55.7L134.0 59.2M208.9 142.3L208.4 145.7L207.6 149.1L207.7 152.6M223.6 87.1L224.8 90.4L226.6 93.4L228.1 96.6L228.9 100.0L228.8 103.5M129.7 8.1L129.5 11.6L130.1 15.1M92.6 78.4L94.2 81.6L96.0 84.6M186.4 63.2L185.3 66.5L184.7 70.0" stroke="#c8a794" stroke-width="1.5" stroke-opacity="0.8" fill="none" stroke-linecap="round" stroke-linejoin="round"/>
<path d="M199.8 77.4L198.9 80.8L197.5 84.0L196.1 87.2M187.8 84.7L186.7 88.0L186.1 91.5L186.2 95.0L186.9 98.4L187.7 101.8M63.5 153.3L63.1 156.8L63.4 160.2L64.1 163.7L64.6 167.1L64.4 170.6M182.4 89.4L183.2 92.8L183.5 96.3L182.9 99.8L181.8 103.1L180.6 106.3L179.7 109.7" stroke="#c8a794" stroke-width="1.0" stroke-opacity="0.8" fill="none" stroke-linecap="round" stroke-linejoin="round"/>
<path d="M37.0 51.8L37.0 55.3M133.4 178.5L132.7 181.9L131.4 185.2M170.7 67.9L169.8 71.3L169.5 74.8L170.0 78.2L171.1 81.6L172.2 84.9L172.7 88.4M164.5 68.4L165.0 71.9L165.0 75.4L164.1 78.8L162.7 82.0" stroke="#c8a794" stroke-width="1.0" stroke-opacity="0.6" fill="none" stroke-linecap="round" stroke-linejoin="round"/>
<path d="M35.2 91.2L34.5 94.6L34.3 98.1L35.3 101.5L36.7 104.6M77.0 37.8L78.4 41.0L80.2 44.0M83.0 50.4M189.6 13.2L189.4 16.6L190.2 20.1L191.2 23.4M66.2 39.2M69.5 45.4L71.2 48.5M73.4 55.1L73.6 58.6" stroke="#c09c8c" stroke-width="1.5" stroke-opacity="0.8" fill="none" stroke-linecap="round" stroke-linejoin="round"/>
<path d="M70.6 115.0L69.6 118.3L69.5 121.8L70.2 125.3L70.8 128.7M165.1 63.6L164.6 67.0M165.9 73.9M153.2 151.3L152.6 154.8L152.6 158.3L153.2 161.7M94.6 88.6L95.8 91.9L96.7 95.3L96.6 98.8L95.7 102.1L95.1 105.6M90.0 83.2L90.4 86.7L91.7 89.9L93.3 93.1L94.0 96.5" stroke="#b89a94" stroke-width="1.0" stroke-opacity="0.6" fill="none" stroke-linecap="round" stroke-linejoin="round"/>
<path d="M74.5 164.0L74.2 167.5L75.1 170.9L76.8 174.0L78.1 177.2L78.3 180.7M99.7 146.8L99.5 150.3L100.0 153.7M22.5 95.2L21.4 98.5L21.5 102.0M56.0 198.6L57.0 201.9L57.1 205.4" stroke="#b89a94" stroke-width="1.5" stroke-opacity="0.8" fill="none" stroke-linecap="round" stroke-linejoin="round"/>
<path d="M29.1 116.3M29.6 123.2L29.1 126.7M114.2 99.1L113.5 102.6L112.3 105.8M111.4 112.7L112.2 116.1M82.0 15.2L83.1 18.6L83.3 22.1L82.7 25.5M56.4 65.8L56.9 69.3L57.0 72.8M129.9 -1.0L129.8 2.5L129.0 5.9L128.0 9.2L127.6 12.7M89.8 166.3L88.4 169.5L87.6 173.0L87.6 176.5L88.1 179.9M112.5 121.4L113.5 124.8L113.8 128.3L112.9 131.6L111.8 135.0L111.7 138.5" stroke="#c09c8c" stroke-width="1.5" stroke-opacity="0.6" fill="none" stroke-linecap="round" stroke-linejoin="round"/>
<path d="M71.1 66.0L70.6 69.5M198.9 164.7L197.7 168.0L196.6 171.3M104.5 199.8L105.0 203.3L105.6 206.7L105.5 210.2L104.3 213.5L102.9 216.7M147.3 61.7L146.6 65.1L146.6 68.6L147.1 72.1L147.7 75.6" stroke="#c8a794" stroke-width="1.5" stroke-opacity="0.6" fill="none" stroke-linecap="round" stroke-linejoin="round"/>
<path d="M180.7 93.1L182.4 96.2L183.9 99.4L184.8 102.7L185.1 106.2L185.0 109.7M181.5 12.2L181.9 15.7L182.1 19.2L181.7 22.7L180.7 26.0L179.1 29.1M79.8 61.1L81.3 64.2L82.9 67.3L84.3 70.5M80.7 53.7L79.2 56.9L78.0 60.2L77.5 63.7L77.6 67.2M17.0 84.3L18.5 87.4L19.9 90.7M110.3 70.9L108.6 74.0L107.6 77.3L107.5 80.8M226.8 171.6L228.4 174.8L229.5 178.1L229.4 181.6L228.8 185.0" stroke="#b89a94" stroke-width="1.0" stroke-opacity="0.8" fill="none" stroke-linecap="round" stroke-linejoin="round"/>
<path d="M213.4 165.3L212.7 168.7L211.9 172.1M35.1 81.0L34.8 84.5L34.6 88.0L34.8 91.5L35.5 94.9L36.9 98.2M20.1 168.7L18.9 172.0L17.3 175.2L15.7 178.2L14.2 181.4" stroke="#b89a94" stroke-width="1.5" stroke-opacity="0.6" fill="none" stroke-linecap="round" stroke-linejoin="round"/>
</g>
<rect x="0" y="96" width="226.25" height="3" fill="#fff"/>
</svg>
<svg x="301.25" y="526" width="228.75" height="201.5" viewBox="0 0 228.75 201.5" overflow="hidden">
<linearGradient id="gb3" gradientUnits="userSpaceOnUse" x1="0" y1="0" x2="228.75" y2="0"><stop offset="0.0000" stop-color="#7e949d"/><stop offset="0.2186" stop-color="#7c8c99"/><stop offset="0.4590" stop-color="#7c8393"/><stop offset="0.7432" stop-color="#7f7b8b"/><stop offset="0.9967" stop-color="#7f788a"/></linearGradient>
<rect width="228.75" height="201.5" fill="url(#gb3)"/>
<ellipse cx="16" cy="58" rx="54" ry="60" fill="#86a7a4" filter="url(#bl18)" opacity="0.90"/>
<ellipse cx="46" cy="34" rx="40" ry="24" fill="#86a7a4" filter="url(#bl10)" opacity="0.65"/>
<polygon points="-5.0,-5.0 80.0,-5.0 72.0,3.0 63.0,10.0 58.0,22.0 48.0,32.0 38.0,37.0 20.0,34.0 -5.0,38.0" fill="#c5a78e" filter="url(#bl1)"/>
<path d="M76 1L62 10L54 26M68 2L56 14L44 33M60 1L50 14L38 35M52 4L40 20L28 35" stroke="#efe2d8" stroke-width="4.2" fill="none" stroke-linecap="round" stroke-linejoin="round" filter="url(#bl2)"/>
<polygon points="-3.0,-3.0 11.0,-3.0 10.0,4.0 6.0,10.0 -3.0,14.0" fill="#0c1633" filter="url(#bl1)"/>
<path d="M0 29Q8 26 16 28" stroke="#14214a" stroke-width="4.2" fill="none" stroke-linecap="round" filter="url(#bl1)"/>
<rect width="228.75" height="201.5" filter="url(#mot)" opacity="0.05"/>
<circle cx="132" cy="96" r="0.9" fill="#333a4a"/>
</svg>
<svg x="545" y="523.75" width="229" height="203" viewBox="0 0 229 203" overflow="hidden">
<linearGradient id="gc3" gradientUnits="userSpaceOnUse" x1="0" y1="0" x2="229" y2="0"><stop offset="0.0000" stop-color="#8b9ba0"/><stop offset="0.1965" stop-color="#87919a"/><stop offset="0.4367" stop-color="#858490"/><stop offset="0.6987" stop-color="#847c8b"/><stop offset="1.0000" stop-color="#84798a"/></linearGradient>
<rect width="229" height="203" fill="url(#gc3)"/>
<ellipse cx="16" cy="58" rx="54" ry="60" fill="#96b3ac" filter="url(#bl18)" opacity="0.90"/>
<ellipse cx="46" cy="34" rx="40" ry="24" fill="#96b3ac" filter="url(#bl10)" opacity="0.65"/>
<polygon points="-5.0,-5.0 80.0,-5.0 72.0,3.0 63.0,10.0 58.0,22.0 48.0,32.0 38.0,37.0 20.0,34.0 -5.0,38.0" fill="#c9ad8c" filter="url(#bl1)"/>
<path d="M76 1L62 10L54 26M68 2L56 14L44 33M60 1L50 14L38 35M52 4L40 20L28 35" stroke="#efe4da" stroke-width="4.2" fill="none" stroke-linecap="round" stroke-linejoin="round" filter="url(#bl2)"/>
<polygon points="-3.0,-3.0 12.0,-3.0 11.0,4.0 6.0,11.0 -3.0,15.0" fill="#0a1230" filter="url(#bl1)"/>
<path d="M0 31Q8 28 16 30" stroke="#1b2650" stroke-width="4" fill="none" stroke-linecap="round" filter="url(#bl1)"/>
<rect width="229" height="203" filter="url(#mot)" opacity="0.04"/>
</svg>
<svg x="787.25" y="524" width="229.5" height="202.25" viewBox="0 0 229.5 202.25" overflow="hidden">
<linearGradient id="gd3" gradientUnits="userSpaceOnUse" x1="0" y1="0" x2="229.5" y2="0"><stop offset="0.0000" stop-color="#7f9aa1"/><stop offset="0.1961" stop-color="#7e929e"/><stop offset="0.4357" stop-color="#80899a"/><stop offset="0.6972" stop-color="#858292"/><stop offset="0.9978" stop-color="#877f8f"/></linearGradient>
<rect width="229.5" height="202.25" fill="url(#gd3)"/>
<ellipse cx="16" cy="58" rx="54" ry="60" fill="#88b4af" filter="url(#bl18)" opacity="0.90"/>
<ellipse cx="46" cy="34" rx="40" ry="24" fill="#88b4af" filter="url(#bl10)" opacity="0.65"/>
<polygon points="-5.0,-5.0 80.0,-5.0 72.0,3.0 63.0,10.0 58.0,22.0 48.0,32.0 38.0,37.0 20.0,34.0 -5.0,38.0" fill="#e9bd96" filter="url(#bl1)"/>
<path d="M76 1L62 10L54 26M68 2L56 14L44 33M60 1L50 14L38 35M52 4L40 20L28 35" stroke="#f8e4c2" stroke-width="4.2" fill="none" stroke-linecap="round" stroke-linejoin="round" filter="url(#bl2)"/>
<polygon points="-3.0,-3.0 12.0,-3.0 11.0,4.0 6.0,11.0 -3.0,15.0" fill="#080806" filter="url(#bl1)"/>
<path d="M0 31Q9 28 19 30" stroke="#1c3a1c" stroke-width="4.4" fill="none" stroke-linecap="round" filter="url(#bl1)"/>
<g filter="url(#bl1)"><path d="M82.6 139.6Q83.6 132.9 82.0 126.3M137.6 65.4Q136.4 57.3 136.5 49.1M234.1 113.6Q232.6 104.4 232.8 95.1M149.7 88.4Q150.3 81.3 149.1 74.3M73.0 166.7Q74.7 158.8 73.4 150.9M75.4 79.3Q75.1 71.9 75.0 64.4M141.7 188.5Q140.7 180.3 140.7 172.0M111.6 163.3Q111.2 155.5 112.6 147.7M227.1 21.7Q226.4 14.1 226.7 6.4M176.4 2.8Q174.9 -3.8 175.6 -10.5M70.7 113.0Q69.8 106.1 71.8 99.5M93.7 141.8Q93.0 136.8 93.9 131.8M109.4 133.9Q110.2 129.1 110.4 124.2M224.9 11.6Q226.7 6.9 225.6 1.9M230.0 43.5Q228.4 35.8 228.8 27.9M157.8 61.4Q157.4 52.7 159.5 44.2M72.5 160.6Q74.0 153.1 72.8 145.5M224.6 191.5Q222.7 182.4 223.7 173.1M132.4 158.8Q133.1 154.4 132.2 150.0M74.4 148.3Q74.2 143.9 74.2 139.4M183.7 116.0Q185.3 109.0 184.5 101.9M82.3 137.0Q84.0 131.0 83.0 124.8" stroke="#9a8478" stroke-width="2.0" stroke-opacity="0.2" fill="none" stroke-linecap="round"/>
<path d="M181.4 175.1Q180.6 170.0 181.2 164.9M98.2 203.7Q96.9 197.5 98.4 191.4" stroke="#94807c" stroke-width="1.0" stroke-opacity="0.2" fill="none" stroke-linecap="round"/>
<path d="M221.4 47.0Q220.4 39.5 222.1 32.2M109.5 110.0Q109.5 103.9 110.5 97.9" stroke="#9a8478" stroke-width="1.0" stroke-opacity="0.4" fill="none" stroke-linecap="round"/>
<path d="M194.2 153.5Q195.4 146.4 194.0 139.4M123.0 95.2Q124.7 88.4 123.5 81.5M117.1 47.7Q117.6 40.8 115.7 34.1M144.2 125.2Q143.7 118.1 143.8 110.9M212.5 96.6Q212.7 88.5 213.5 80.5M127.4 83.5Q127.3 75.8 125.9 68.2" stroke="#94807c" stroke-width="2.0" stroke-opacity="0.4" fill="none" stroke-linecap="round"/>
<path d="M206.7 37.4Q207.6 28.1 207.1 18.8M130.0 149.3Q131.9 143.9 130.8 138.4M143.6 136.6Q143.6 127.5 145.2 118.5M181.2 61.2Q179.7 55.4 180.1 49.3M207.5 116.6Q206.7 107.9 206.4 99.0M183.5 28.9Q183.4 20.9 185.0 13.1M87.5 62.8Q87.1 54.5 86.6 46.3M139.6 86.7Q141.6 79.3 140.9 71.7M110.7 164.9Q109.4 157.4 109.5 149.7M128.3 126.5Q130.3 120.5 129.3 114.2M200.9 208.7Q200.3 199.4 202.1 190.3M101.2 206.0Q101.1 199.8 102.4 193.7M190.4 214.3Q191.6 206.5 190.1 198.8M113.1 51.0Q113.4 45.4 112.8 39.8M163.7 152.9Q163.2 147.3 163.8 141.7M121.3 131.2Q123.3 123.8 122.9 116.1M127.3 204.7Q127.5 196.3 126.2 188.0M161.6 121.2Q162.3 111.3 161.4 101.3" stroke="#9a8478" stroke-width="1.5" stroke-opacity="0.2" fill="none" stroke-linecap="round"/>
<path d="M120.1 122.2Q120.3 113.3 120.1 104.4M79.2 63.3Q79.6 58.8 79.4 54.2M141.2 190.8Q141.0 182.6 140.4 174.5M80.8 163.7Q78.8 156.4 79.4 148.8M158.8 68.8Q158.9 60.6 160.0 52.4M115.9 200.6Q117.9 191.3 117.6 181.8M165.7 185.4Q164.3 180.1 165.3 174.7M110.4 54.7Q108.6 47.4 109.2 40.0M209.4 186.8Q209.0 178.5 208.0 170.3M118.6 74.0Q118.8 69.7 118.4 65.5M211.0 100.7Q212.3 94.1 210.6 87.5M225.4 187.9Q225.4 181.7 225.8 175.5" stroke="#94807c" stroke-width="2.0" stroke-opacity="0.2" fill="none" stroke-linecap="round"/>
<path d="M125.6 195.5Q126.3 188.7 125.7 181.9M216.0 155.6Q215.3 149.7 217.1 144.0M196.5 174.7Q195.6 170.2 197.4 165.9M219.0 24.4Q219.3 16.7 218.8 9.1M91.1 154.0Q89.5 147.2 90.0 140.2M199.2 142.0Q199.7 135.7 199.6 129.5M166.0 73.0Q165.6 66.5 166.8 60.1M220.3 87.3Q219.4 81.1 220.0 74.9" stroke="#9a8478" stroke-width="1.5" stroke-opacity="0.4" fill="none" stroke-linecap="round"/>
<path d="M123.6 122.3Q124.8 117.0 124.0 111.6M97.7 90.5Q97.9 80.6 98.7 70.6M167.1 154.4Q167.4 145.0 166.7 135.7M187.6 142.5Q187.2 133.6 189.4 124.9M123.9 42.3Q125.4 36.8 124.2 31.2" stroke="#94807c" stroke-width="1.5" stroke-opacity="0.4" fill="none" stroke-linecap="round"/>
<path d="M142.7 139.8Q141.9 131.9 141.3 124.0M73.9 86.2Q74.8 81.2 74.9 76.0M130.6 193.5Q128.6 185.5 128.9 177.2M202.8 193.9Q204.2 187.3 203.8 180.5" stroke="#9a8478" stroke-width="2.0" stroke-opacity="0.4" fill="none" stroke-linecap="round"/>
<path d="M152.2 36.4Q151.8 26.5 152.2 16.7M194.2 112.1Q193.9 105.7 195.1 99.4M136.9 62.5Q135.8 56.7 136.4 50.8M148.0 71.9Q147.0 67.8 147.5 63.7M127.6 13.1Q129.6 3.7 129.0 -6.0M234.1 116.7Q235.3 109.5 234.4 102.3M132.1 160.1Q131.8 154.8 131.9 149.4M115.0 99.5Q117.2 89.8 116.8 79.8M177.7 163.6Q178.7 158.9 178.5 154.0" stroke="#94807c" stroke-width="1.5" stroke-opacity="0.2" fill="none" stroke-linecap="round"/>
<path d="M213.6 47.4Q214.0 43.3 213.2 39.2" stroke="#94807c" stroke-width="1.0" stroke-opacity="0.4" fill="none" stroke-linecap="round"/>
<path d="M168.9 9.1Q170.3 -0.2 169.6 -9.6" stroke="#9a8478" stroke-width="1.0" stroke-opacity="0.2" fill="none" stroke-linecap="round"/></g>
<rect width="229.5" height="202.25" filter="url(#grain)" opacity="0.10"/>
<circle cx="132" cy="99" r="0.9" fill="#2a3040"/>
</svg>
<path d="M72.5 375.0 73.8 374.5 75.0 375.0 76.2 374.8 77.5 375.0 78.8 374.3 80.0 374.4 81.1 372.6 82.2 371.6 83.4 370.0 84.5 368.2 85.6 366.9 86.9 371.4 88.1 375.5 89.4 380.0 90.6 372.2 91.9 363.8 93.1 372.5 94.4 369.0 95.6 366.0 96.9 363.5 98.1 360.0 99.2 361.1 100.2 362.3 101.2 363.8 102.5 363.4 103.8 362.6 105.0 361.5 106.2 361.2 107.5 368.8 108.4 361.9 109.4 355.0 110.4 357.5 111.5 359.2 112.5 361.9 113.8 361.6 115.0 360.6 116.2 360.3 117.5 360.0 118.6 360.8 119.8 362.2 120.9 364.2 122.0 364.9 123.1 366.2 124.4 364.6 125.6 361.9 126.8 362.2 127.9 362.7 129.0 363.4 130.1 363.6 131.2 363.8 132.3 362.1 133.3 361.3 134.4 360.0 135.5 360.9 136.6 361.2 137.8 361.8 138.9 363.4 140.0 363.8 141.2 363.9 142.5 363.8 143.8 364.2 145.0 364.4 146.2 363.7 147.5 363.8 148.8 363.1 150.0 362.3 151.2 362.6 152.5 361.9 153.8 363.7 155.0 366.0 156.2 368.0 157.5 370.6 158.8 368.1 160.0 365.0 161.2 368.4 162.5 372.5 163.4 370.7 164.4 368.8 165.4 370.8 166.5 373.7 167.5 376.2 168.8 372.1 170.0 367.5 171.2 370.7 172.5 373.8 173.8 372.5 175.0 371.2 176.2 370.0 177.5 369.3 178.8 368.8 180.0 368.1 181.1 368.8 182.2 370.3 183.4 371.2 184.5 373.0 185.6 373.8 186.7 373.3 187.8 371.4 188.9 370.6 190.0 370.0 191.2 368.6 192.5 366.9 193.8 364.8 195.0 363.8 196.2 359.6 197.5 355.0 199.0 349.8 200.5 352.1 201.9 353.6 203.2 356.4 204.4 359.2 205.7 362.2 207.1 359.8 208.5 357.4 209.5 353.1 210.4 347.9 211.6 350.5 212.7 353.6 213.7 357.2 214.6 361.2 216.4 377.3 218.2 336.9 219.9 371.7 221.0 346.3 222.1 321.4 223.8 386.9 224.8 364.7 225.8 342.1 227.4 381.9 228.3 320.9 229.2 260.0 230.2 321.4 231.2 383.2 232.3 332.8 233.5 282.6 234.4 386.8 235.6 306.2 237.3 385.9 238.3 367.5 239.3 350.0 240.3 363.4 241.3 377.1 242.4 339.5 243.6 301.0 244.6 392.0 246.0 336.8 246.9 361.5 247.9 386.1 249.0 370.8 250.2 356.1 251.1 369.4 252.1 381.8 253.2 350.0 254.3 318.5 255.2 381.3 256.4 339.1 257.6 358.7 258.9 378.8 260.2 335.3 261.5 292.6 263.0 386.4 264.8 344.0 266.1 380.9 267.8 341.1 269.3 384.8 270.2 359.7 271.1 335.3 272.1 356.6 273.1 378.5 274.2 363.7 275.3 349.5 276.0 372.0" fill="none" stroke="#1414f5" stroke-width="1.6" stroke-linejoin="round"/>
<path d="M72.5 379.4 73.8 379.0 75.0 379.4 76.2 379.3 77.5 379.4 78.8 378.5 80.0 378.8 81.2 376.2 82.5 374.0 83.8 371.9 85.0 370.0 86.1 374.0 87.2 377.1 88.3 381.3 89.4 385.0 90.4 380.9 91.5 377.3 92.5 373.8 93.8 372.7 95.0 372.3 96.2 371.1 97.5 370.0 98.8 369.4 100.0 369.7 101.2 369.6 102.5 370.0 103.5 369.6 104.6 368.7 105.6 367.5 107.2 380.0 108.6 371.6 110.0 362.5 111.0 364.1 112.1 365.3 113.1 366.2 114.4 361.2 115.6 355.0 116.9 354.9 118.1 353.8 119.4 354.0 120.6 353.1 121.9 356.5 123.1 360.0 124.2 359.8 125.4 359.1 126.5 358.4 127.6 357.8 128.8 357.5 130.0 356.3 131.2 355.1 132.5 353.8 133.8 353.1 135.0 355.0 136.2 356.4 137.5 357.5 138.8 357.1 140.0 355.6 141.2 356.9 142.5 357.9 143.8 359.2 145.0 360.0 146.2 358.7 147.5 358.5 148.8 357.5 149.8 358.1 150.9 358.4 152.0 359.0 153.1 360.0 154.2 361.9 155.3 363.5 156.4 365.6 157.5 367.5 158.6 361.4 159.8 355.0 161.1 358.6 162.5 362.5 163.8 365.2 165.0 368.7 166.2 371.6 167.5 375.0 168.5 367.6 169.6 360.5 170.6 353.8 171.9 364.2 173.1 375.0 174.2 371.6 175.2 369.3 176.2 366.2 177.3 366.5 178.4 365.5 179.5 365.6 180.6 365.0 181.9 368.3 183.1 370.1 184.4 373.0 185.6 376.2 186.7 374.7 187.8 372.9 188.9 370.8 190.0 368.8 191.2 365.5 192.5 363.0 193.8 360.8 195.0 357.5 196.2 350.5 197.5 342.5 199.0 338.4 200.5 341.6 201.9 344.1 203.2 348.8 204.4 354.7 205.7 359.3 207.1 354.4 208.5 349.8 209.5 343.4 210.4 336.5 211.6 339.8 212.7 344.1 213.7 352.3 214.6 359.3 216.4 387.0 218.1 326.1 219.0 350.9 219.9 375.4 221.0 340.3 222.0 304.6 222.9 348.1 223.8 392.3 224.8 367.2 225.8 341.8 227.4 380.0 228.3 313.2 229.2 246.3 230.2 316.0 231.2 385.6 232.3 325.4 233.4 265.5 234.4 391.0 235.5 295.7 236.4 347.3 237.3 398.4 238.3 369.7 239.3 341.4 240.3 361.7 241.3 382.4 242.4 338.5 243.5 295.3 244.6 394.0 245.9 324.3 246.9 359.9 247.9 395.2 249.0 371.2 250.1 348.2 251.1 362.7 252.1 378.0 253.2 343.5 254.3 310.0 255.2 381.1 256.4 328.7 257.6 359.9 258.9 390.8 260.2 334.2 261.5 277.5 263.0 385.8 264.7 342.2 266.1 391.1 267.7 337.6 269.3 382.9 270.2 355.4 271.1 327.8 272.1 353.8 273.1 380.8 274.2 361.0 275.3 341.3 276.0 368.0" fill="none" stroke="#22e02e" stroke-width="1.7" stroke-dasharray="3.6 1.5" stroke-linejoin="round"/>
<path d="M72.5 405.0 73.8 404.8 75.0 404.8 76.2 404.7 77.5 404.4 78.5 371.2 79.8 369.1 81.1 367.3 82.4 365.9 83.7 364.0 85.0 362.5 86.2 368.2 87.5 373.5 88.8 378.8 89.8 372.2 90.8 365.5 91.9 358.8 92.9 361.0 94.0 362.6 95.0 365.0 96.0 360.4 97.1 355.5 98.1 351.2 99.2 352.3 100.3 352.1 101.4 353.4 102.5 353.8 103.5 351.2 104.6 349.8 105.6 347.5 106.9 352.5 108.1 345.8 109.4 339.4 110.4 341.2 111.5 343.5 112.5 345.0 113.6 361.2 114.0 386.9 115.2 386.5 116.4 386.7 117.6 387.7 118.8 387.4 120.0 387.5 121.2 387.3 122.5 388.5 123.8 388.7 125.0 388.1 126.2 388.8 127.5 388.4 128.8 387.8 130.0 387.8 131.2 387.8 132.5 387.1 133.8 387.3 135.0 386.9 136.2 386.6 137.5 387.0 138.8 387.8 140.0 387.6 141.2 387.8 142.5 388.1 143.8 388.7 145.0 389.0 146.2 389.4 147.5 390.0 148.8 389.1 150.0 389.3 151.2 389.1 152.5 388.1 153.8 390.0 155.0 391.1 156.2 392.2 157.5 393.8 158.8 388.0 160.0 382.5 161.2 385.8 162.5 388.8 163.8 390.0 165.0 390.4 166.2 391.9 167.5 388.1 168.8 384.7 170.0 381.2 171.2 385.0 172.5 389.1 173.8 392.5 175.0 392.3 176.2 391.5 177.5 392.1 178.8 391.4 180.0 391.2 181.2 392.0 182.5 392.5 183.8 393.4 185.0 394.1 186.2 395.0 187.5 393.6 188.8 391.3 190.0 390.0 191.2 387.5 192.5 384.7 193.8 382.7 195.0 380.0 196.2 375.8 197.5 372.5 199.0 346.0 200.5 347.7 201.9 349.8 203.2 353.4 204.4 357.5 205.7 361.2 207.1 357.0 208.5 353.6 209.5 347.8 210.4 342.2 211.6 345.7 212.7 349.8 213.7 355.3 214.6 361.2 216.4 385.7 218.0 319.0 219.0 350.6 219.9 382.2 220.9 341.1 221.9 299.0 222.9 348.5 223.8 398.1 224.8 367.0 225.7 335.0 227.4 381.8 229.1 233.0 230.1 310.9 231.2 389.5 232.2 321.2 233.3 252.0 234.4 389.5 235.4 287.0 236.4 340.8 237.3 394.9 238.2 366.1 239.2 338.0 240.2 361.3 241.3 384.1 242.4 334.5 243.4 284.0 244.6 393.2 245.8 319.0 246.9 358.5 247.9 398.9 248.9 371.7 250.0 345.0 251.1 363.9 252.1 382.3 253.1 341.0 254.2 300.0 255.2 383.2 256.3 325.0 257.6 358.4 258.9 392.2 260.1 327.1 261.4 263.0 263.0 391.9 264.6 338.0 266.1 393.3 267.6 334.0 269.3 389.0 271.0 319.0 272.1 351.7 273.1 385.2 274.1 360.7 275.2 336.0 276.0 375.0" fill="none" stroke="#f02a36" stroke-width="1.65" stroke-dasharray="1.9 2.3" stroke-linejoin="round"/>
<path d="M72.5 413.1 73.7 413.1 74.9 413.2 76.1 413.5 77.3 413.1 78.5 413.1 79.6 413.2 80.8 412.8 82.0 413.1 83.2 413.3 84.4 413.4 85.6 412.7 86.8 412.9 88.0 412.7 89.2 413.4 90.4 413.3 91.5 412.7 92.7 413.6 93.9 413.6 95.1 413.3 96.3 413.2 97.5 413.1 98.8 412.5 100.0 412.2 101.2 412.5 102.5 411.7 103.8 411.6 105.0 411.5 106.2 411.0 107.5 411.2 108.8 411.0 110.0 410.8 111.2 411.0 112.5 410.4 113.8 410.3 115.0 410.0 116.2 410.0 117.5 409.5 118.8 409.4 120.0 409.6 121.2 410.7 122.5 411.1 123.8 411.4 125.0 411.7 126.2 411.9 127.5 411.7 128.7 411.7 129.9 411.8 131.1 411.6 132.3 412.3 133.5 412.0 134.7 412.5 135.9 412.0 137.1 412.6 138.3 412.6 139.5 411.7 140.7 412.0 141.9 412.7 143.1 412.3 144.3 412.9 145.5 412.3 146.7 412.0 147.9 412.6 149.1 412.8 150.3 412.3 151.5 412.2 152.7 412.4 153.9 413.1 155.1 412.9 156.3 412.3 157.5 412.8 158.8 412.2 160.0 411.8 161.2 411.9 162.5 411.1 163.8 411.5 165.0 410.5 166.2 410.5 167.5 410.0 168.8 409.4 170.0 409.4 171.2 410.6 172.5 411.1 173.8 412.5 174.9 412.6 176.1 412.1 177.2 412.4 178.4 412.1 179.6 412.2 180.7 412.9 181.9 412.7 183.0 412.2 184.2 412.7 185.4 412.0 186.5 412.2 187.7 412.6 188.8 412.4 190.0 412.2 191.2 409.4 192.5 407.9 193.8 405.0 195.0 396.0 196.2 387.5 197.5 375.0 198.6 375.9 199.8 377.5 200.9 378.3 201.9 375.3 202.8 372.6 204.3 375.3 205.7 378.3 207.1 374.1 208.5 370.7 210.0 375.1 211.4 380.2 212.5 378.4 213.6 376.2 214.6 374.5 216.4 407.1 218.2 345.1 219.9 405.2 221.0 370.3 222.1 335.2 223.8 414.6 224.8 386.4 225.9 358.4 227.4 401.1 228.3 344.3 229.3 287.6 230.2 349.0 231.2 409.6 232.3 352.5 233.5 295.5 234.4 402.1 235.6 315.8 237.3 405.1 238.3 382.0 239.4 358.7 240.3 386.2 241.3 412.9 242.4 365.4 243.6 318.6 244.6 406.1 246.0 342.7 246.9 373.3 247.9 404.6 249.1 384.6 250.2 363.9 251.1 382.4 252.1 400.2 253.2 362.8 254.4 326.0 255.2 411.9 256.5 350.3 257.7 375.3 258.9 401.0 260.2 353.6 261.6 305.7 263.0 404.3 263.9 381.1 264.8 357.0 266.1 413.3 267.8 353.1 269.3 399.1 270.2 373.8 271.2 349.2 272.1 374.9 273.1 399.7 274.2 377.2 275.4 353.9 276.0 404.0" fill="none" stroke="#222" stroke-width="1.2" stroke-dasharray="1.1 1.0" stroke-linejoin="round"/>
<path d="M318.7 376.2 320.0 376.9 321.2 376.9 322.5 376.9 323.8 375.6 325.1 376.4 326.4 376.2 327.6 374.2 328.8 372.4 329.9 369.8 331.1 368.5 332.1 369.3 333.2 371.1 334.3 376.1 335.5 381.4 336.7 372.2 337.8 363.8 339.4 374.2 340.7 371.5 342.0 369.0 343.0 363.3 344.0 359.2 345.3 362.4 346.6 366.9 347.8 365.9 349.0 364.0 350.2 362.8 351.5 369.5 352.8 376.2 354.1 368.8 355.4 360.7 356.8 362.0 358.2 363.1 359.5 365.4 360.8 365.5 362.0 364.9 363.3 364.7 364.5 364.3 365.8 363.8 366.8 366.6 367.8 367.7 368.9 370.0 369.9 368.7 370.9 366.4 372.0 364.8 373.3 365.3 374.6 365.9 375.9 365.7 377.1 366.4 378.2 364.4 379.2 363.6 380.3 362.3 381.5 363.8 382.8 364.7 384.1 365.7 385.4 366.9 386.7 366.9 388.0 365.9 389.3 365.6 390.6 365.9 391.8 365.3 393.1 365.8 394.3 364.5 395.6 364.0 396.8 364.3 397.9 364.2 398.9 364.6 399.9 365.9 401.2 369.1 402.5 373.1 403.5 370.5 404.6 368.1 405.6 364.8 407.2 371.1 408.5 372.6 409.8 374.5 411.0 376.2 412.3 378.3 413.6 375.6 414.8 373.9 416.0 371.1 417.3 373.2 418.6 375.2 420.1 373.1 421.1 372.2 422.1 372.1 423.2 370.4 424.2 370.5 425.2 369.0 426.4 370.8 427.5 372.4 428.7 372.9 429.8 374.9 430.9 376.2 432.1 375.9 433.2 374.3 434.4 373.8 435.5 371.6 436.6 371.1 437.9 372.6 439.2 371.9 440.5 373.3 441.8 374.2 442.6 381.4 443.7 377.9 444.8 376.4 446.0 373.1 447.3 379.1 448.7 385.4 450.1 388.7 450.7 389.0 451.3 388.7 451.9 386.2 452.5 387.2 453.1 385.3 453.7 383.5 454.3 379.6 455.0 378.8 455.6 373.0 456.2 369.0 456.8 366.9 457.5 368.3 458.1 373.0 458.8 375.0 459.4 379.3 460.0 380.4 460.6 379.8 461.2 376.1 461.8 375.0 462.4 376.0 463.0 375.2 463.5 375.9 464.1 379.5 464.6 381.4 465.2 382.5 465.7 380.2 466.3 380.7 466.9 382.6 467.5 380.6 468.0 380.1 468.6 382.2 469.2 381.7 469.8 380.4 470.4 384.1 471.0 382.8 471.6 380.9 472.2 383.7 472.9 382.4 473.5 376.2 474.1 365.7 474.7 355.5 475.5 365.2 476.2 379.3 476.8 378.4 477.3 380.2 477.9 384.1 478.5 383.1 479.1 383.5 479.6 379.4 480.1 377.2 480.6 370.0 481.3 372.6 482.0 382.9 482.7 387.6 483.3 381.8 484.0 379.3 484.6 377.2 485.3 370.0 485.9 370.6 486.5 379.2 487.2 374.6 487.8 381.3 488.4 383.5 488.9 373.5 489.4 362.8 490.1 367.5 490.8 377.1 491.5 383.5 492.1 382.2 492.7 381.0 493.3 382.2 493.9 375.2 494.5 377.3 495.0 379.7 495.6 376.2 496.3 377.0 497.0 386.9 497.7 387.6 498.3 383.1 499.0 385.0 499.6 378.7 500.2 378.9 500.8 377.3 501.4 378.3 502.1 377.1 502.7 383.9 503.3 383.7 503.9 385.5 504.6 384.8 505.2 381.2 505.9 379.0 506.5 376.2 507.1 378.7 507.7 379.0 508.3 386.3 508.9 381.7 509.5 390.6 510.1 389.7 510.8 391.5 511.4 387.2 512.0 388.3 512.6 386.2 513.2 383.5 513.8 385.0 514.4 382.9 515.0 383.7 515.6 384.6 516.2 384.8 516.8 390.9 517.4 387.6 518.0 385.0 518.6 384.2 519.2 383.2 519.9 385.3 520.5 381.4" fill="none" stroke="#1414f5" stroke-width="1.6" stroke-linejoin="round"/>
<path d="M318.7 381.4 320.0 382.1 321.2 380.6 322.5 380.3 323.8 382.0 325.1 380.4 326.4 380.9 327.6 377.7 328.8 376.2 329.9 373.2 331.1 371.1 332.2 376.2 333.3 379.4 334.4 385.1 335.5 388.7 336.9 380.0 338.3 372.1 339.9 376.2 341.3 371.8 342.6 367.7 344.0 362.3 345.3 364.4 346.6 365.9 347.8 366.3 349.0 365.6 350.2 364.8 351.7 372.3 353.1 381.4 354.2 368.1 355.2 353.5 356.3 357.2 357.5 360.7 358.9 360.7 360.2 360.8 361.6 361.7 362.9 361.5 364.2 360.1 365.5 359.8 366.8 358.1 367.8 362.0 368.9 364.8 370.2 364.3 371.6 362.2 373.0 360.7 374.0 361.8 375.1 362.3 376.1 362.8 377.3 360.4 378.5 359.8 379.7 357.1 381.0 359.1 382.3 361.7 383.7 361.6 385.1 361.2 386.5 359.7 387.8 360.8 389.2 360.8 390.6 362.3 391.8 362.5 393.1 361.9 394.3 360.8 395.6 360.2 396.8 360.7 397.9 361.8 398.9 361.9 399.9 363.8 401.2 368.2 402.5 371.1 403.5 366.4 404.6 361.8 405.6 357.1 406.9 361.8 408.2 366.9 409.6 370.3 411.0 373.9 412.3 376.2 413.7 371.1 415.1 366.3 416.5 361.7 417.5 368.1 418.6 374.2 420.1 365.9 421.1 367.6 422.1 370.0 423.2 368.8 424.2 367.3 425.2 365.9 426.4 368.2 427.5 371.2 428.7 373.4 429.8 375.1 430.9 378.3 432.1 377.4 433.2 374.5 434.4 372.9 435.5 371.1 436.6 369.5 437.9 370.9 439.2 371.6 440.5 371.5 441.8 372.1 443.2 372.3 444.6 372.1 446.0 373.1 447.1 379.3 448.3 380.5 449.4 386.5 450.6 390.7 451.2 388.9 451.8 387.6 452.4 386.6 452.9 384.7 453.5 382.9 454.1 383.9 454.7 383.9 455.3 381.4 455.9 382.4 456.5 380.7 457.0 383.1 457.6 380.6 458.2 382.5 458.8 384.6 459.4 383.5 460.0 385.9 460.6 384.5 461.2 386.8 461.8 385.8 462.4 386.5 463.0 387.4 463.5 387.6 464.1 389.5 464.7 388.1 465.3 386.6 465.9 387.4 466.5 386.8 467.1 385.2 467.7 385.5 468.3 387.4 468.9 388.1 469.5 387.8 470.1 392.0 470.6 384.1 471.2 389.1 471.8 389.7 472.5 386.8 473.1 379.9 473.8 374.2 474.4 373.1 475.1 378.0 475.7 378.7 476.4 380.3 477.0 385.5 477.7 390.3 478.4 407.8 479.1 412.5 479.6 404.2 480.1 395.1 480.6 391.8 481.1 391.2 481.7 393.6 482.2 398.0 482.8 399.7 483.4 391.7 484.0 390.9 484.7 387.6 485.3 389.7 485.9 388.2 486.5 384.6 487.1 384.7 487.7 387.1 488.2 387.7 488.8 385.7 489.4 381.4 490.0 379.2 490.7 384.4 491.3 390.8 491.9 385.4 492.5 391.8 493.1 389.7 493.7 393.0 494.3 392.7 494.8 396.8 495.4 397.2 496.0 395.6 496.6 394.3 497.1 394.8 497.7 398.0 498.3 394.4 499.0 391.1 499.6 395.1 500.2 389.0 500.8 390.7 501.4 393.6 502.0 390.7 502.5 384.6 503.1 388.0 503.7 388.2 504.3 382.4 504.8 385.8 505.4 380.9 506.0 384.5 506.6 388.2 507.1 382.5 507.7 389.5 508.3 394.0 508.9 394.0 509.4 389.7 510.0 393.7 510.6 391.3 511.2 395.9 511.7 394.2 512.3 398.8 512.9 398.1 513.5 390.5 514.0 393.6 514.6 395.8 515.2 391.3 515.8 396.8 516.3 393.8 516.9 396.7 517.5 392.8 518.1 390.3 518.7 394.1 519.3 390.3 519.9 386.5 520.5 388.7" fill="none" stroke="#22e02e" stroke-width="1.7" stroke-dasharray="3.6 1.5" stroke-linejoin="round"/>
<path d="M318.7 406.3 320.0 405.7 321.2 406.6 322.5 406.5 323.8 406.2 325.1 405.8 326.4 406.3 327.6 406.6 328.8 406.6 330.0 406.0 331.3 405.9 332.5 405.4 333.7 405.7 334.9 404.4 336.1 404.5 337.3 404.3 338.5 403.0 339.7 403.6 340.9 402.6 342.0 400.8 343.0 399.4 344.0 398.5 345.3 397.4 346.6 398.5 347.9 397.7 349.2 396.9 350.4 397.7 351.6 397.5 352.8 397.5 353.9 391.8 354.9 387.6 356.1 388.7 357.3 390.4 358.5 391.8 359.8 391.4 361.0 392.9 362.2 392.2 363.5 392.0 364.7 392.8 365.9 394.2 367.1 393.9 368.3 395.4 369.5 395.4 370.7 394.0 371.8 393.5 373.0 392.8 374.2 392.2 375.4 392.1 376.6 391.3 377.8 390.7 379.0 391.7 380.3 390.7 381.4 390.3 382.6 391.2 383.8 390.3 385.0 391.5 386.2 391.4 387.4 391.1 388.5 390.7 389.8 391.8 391.1 392.1 392.4 393.0 393.7 393.3 395.1 391.8 396.5 391.5 397.9 390.7 399.1 392.4 400.4 392.6 401.7 394.9 403.0 395.4 404.3 392.6 405.6 388.7 406.8 390.1 407.9 391.5 409.1 393.2 410.3 394.9 411.4 393.2 412.6 392.8 413.7 390.3 414.8 388.3 416.0 387.6 417.0 390.4 418.0 394.9 419.1 398.0 420.1 398.4 421.1 397.3 422.1 396.9 423.2 395.9 424.2 394.9 425.2 393.8 426.4 395.2 427.5 395.2 428.7 396.8 429.8 397.6 430.9 398.5 432.1 396.8 433.4 394.2 434.6 392.8 435.9 393.3 437.3 394.6 438.7 395.9 439.7 394.5 440.8 391.5 441.8 389.7 443.2 389.0 444.6 387.7 446.0 387.1 447.2 389.5 448.5 395.9 449.2 396.1 449.8 402.1 450.5 404.3 451.1 405.2 451.7 403.3 452.3 403.5 452.9 402.1 453.5 401.9 454.1 400.9 454.7 396.8 455.3 395.9 455.9 398.8 456.5 399.1 457.0 397.7 457.6 399.6 458.2 398.1 458.8 397.9 459.4 399.0 460.0 399.4 460.6 404.1 461.2 402.2 461.8 403.4 462.4 408.7 463.0 410.1 463.5 410.4 464.1 409.1 464.7 409.7 465.3 404.6 465.9 404.5 466.5 403.4 467.1 402.9 467.7 402.1 468.3 400.9 468.8 400.9 469.4 402.7 470.0 405.9 470.6 409.2 471.1 407.3 471.7 405.1 472.3 403.3 472.9 406.3 473.4 405.3 473.9 395.5 474.4 389.7 474.9 399.2 475.5 399.5 476.0 411.4 476.6 406.7 477.2 411.1 477.8 408.8 478.5 407.8 479.1 402.1 479.7 405.2 480.3 405.5 480.9 409.1 481.6 413.9 482.2 412.5 482.8 408.9 483.4 409.5 484.0 405.3 484.7 408.5 485.3 404.2 485.9 397.5 486.5 402.5 487.1 403.4 487.7 392.3 488.2 396.2 488.8 395.0 489.4 391.8 489.9 402.5 490.5 406.3 491.1 407.1 491.6 403.8 492.2 405.3 492.8 410.8 493.4 410.3 494.0 402.6 494.6 406.3 495.2 402.4 495.8 402.7 496.3 402.2 496.9 406.6 497.5 403.8 498.1 411.3 498.6 409.4 499.2 404.4 499.8 408.3 500.4 407.9 501.0 404.9 501.6 405.8 502.3 402.2 502.9 404.2 503.5 399.7 504.1 398.7 504.7 399.4 505.3 401.5 505.8 398.8 506.4 392.5 507.0 395.9 507.6 400.9 508.3 405.4 508.9 407.3 509.5 410.4 510.1 410.4 510.7 404.6 511.3 408.2 511.9 403.3 512.4 409.4 513.0 402.5 513.6 407.0 514.2 401.5 514.7 405.0 515.3 402.1 515.9 400.9 516.5 398.9 517.0 403.1 517.6 403.0 518.2 409.6 518.8 404.2 519.3 407.0 519.9 408.1 520.5 408.3" fill="none" stroke="#f02a36" stroke-width="1.65" stroke-dasharray="1.9 2.3" stroke-linejoin="round"/>
<path d="M318.8 415.3H521.6" fill="none" stroke="#222" stroke-width="1.2" stroke-dasharray="1.1 1.0" stroke-linejoin="round"/>
<path d="M558.7 345.4 560.0 345.4 561.2 345.4 562.5 345.6 563.8 344.7 565.1 345.2 566.4 344.9 567.6 343.8 568.8 342.2 569.9 339.3 571.1 338.1 572.1 339.7 573.2 340.7 574.2 346.1 575.2 351.1 576.5 342.3 577.8 333.5 579.4 342.8 580.7 341.0 582.0 337.6 583.0 333.8 584.0 329.9 585.3 332.6 586.6 335.5 587.8 334.9 589.0 333.0 590.2 331.4 591.4 338.9 592.5 346.9 593.7 336.8 594.9 327.3 596.2 330.4 597.5 333.5 598.9 331.9 600.2 331.9 601.6 330.9 603.0 332.1 604.4 332.5 605.8 333.5 607.1 336.6 608.3 338.7 609.6 337.6 610.8 335.3 612.0 333.5 613.4 334.1 614.7 333.6 616.1 334.5 617.1 332.4 618.2 332.5 619.2 330.4 620.3 331.1 621.3 332.0 622.3 333.5 623.7 334.1 625.1 333.9 626.5 333.5 627.8 333.2 629.2 333.9 630.6 334.5 631.8 333.7 633.1 333.3 634.3 332.5 635.6 332.9 636.8 332.4 637.9 333.2 638.9 334.3 639.9 335.5 641.2 338.7 642.5 342.8 643.8 336.5 645.1 331.4 646.1 334.3 647.2 338.7 648.3 341.6 649.5 343.7 650.7 345.7 651.8 348.0 653.2 344.6 654.6 341.9 656.0 339.7 657.3 342.7 658.6 346.9 659.8 344.1 661.1 341.8 662.1 340.0 663.2 339.3 664.2 338.7 665.5 339.8 666.7 341.5 667.9 343.9 669.2 345.2 670.4 346.9 671.7 345.7 672.9 344.2 674.1 343.3 675.4 342.4 676.6 340.7 677.8 341.1 679.0 341.4 680.3 342.8 681.3 350.0 682.5 348.5 683.6 346.7 684.8 346.7 686.0 343.8 686.5 344.2 687.1 350.1 687.7 348.2 688.3 352.9 688.9 354.7 689.5 356.3 690.1 359.4 690.7 359.3 691.4 356.4 692.0 351.9 692.6 351.5 693.3 350.1 693.9 345.4 694.5 343.7 695.2 344.2 695.8 341.8 696.4 344.4 697.0 344.7 697.6 346.0 698.2 348.0 698.8 348.4 699.4 351.1 700.0 352.4 700.6 354.3 701.2 349.6 701.8 345.1 702.4 348.0 703.0 351.1 703.5 348.0 704.1 346.7 704.7 345.1 705.3 346.1 705.9 351.0 706.5 350.5 707.1 347.9 707.7 350.0 708.3 352.2 708.9 354.4 709.5 357.2 710.1 357.1 710.6 354.6 711.2 359.0 711.8 357.3 712.5 350.3 713.2 339.1 713.9 325.2 714.4 336.4 714.9 343.9 715.5 352.1 716.0 351.7 716.6 354.2 717.2 351.7 717.8 352.0 718.4 347.1 718.9 345.4 719.5 346.5 720.1 348.0 720.7 349.9 721.3 351.0 721.9 348.9 722.5 350.0 723.1 357.8 723.7 351.3 724.3 356.3 724.8 361.2 725.4 361.1 726.0 360.6 726.6 365.6 727.2 362.5 727.8 357.8 728.4 350.0 729.1 346.4 729.8 355.3 730.5 352.1 731.1 351.8 731.7 356.6 732.3 356.1 732.9 350.6 733.6 350.1 734.2 350.4 734.8 357.5 735.4 358.0 736.1 353.4 736.7 356.3 737.3 352.3 737.9 353.9 738.4 357.1 739.0 356.0 739.6 356.5 740.2 356.8 740.8 352.1 741.4 354.2 742.0 354.8 742.5 347.5 743.1 347.3 743.7 354.7 744.3 352.5 744.8 349.8 745.4 347.9 746.0 351.1 746.6 351.2 747.2 352.9 747.8 355.9 748.4 357.1 748.9 356.6 749.5 357.2 750.1 362.5 750.7 359.2 751.3 357.8 751.9 356.9 752.4 359.0 753.0 355.8 753.6 361.0 754.2 358.0 754.7 356.6 755.3 356.3 755.9 357.2 756.5 353.5 757.0 351.4 757.6 351.6 758.2 353.7 758.8 353.7 759.3 352.5 759.9 352.7 760.5 354.2" fill="none" stroke="#1414f5" stroke-width="1.6" stroke-linejoin="round"/>
<path d="M558.7 338.7 560.0 337.6 561.2 337.5 562.5 337.3 563.8 337.9 565.1 336.9 566.4 336.6 567.6 335.5 568.8 333.1 569.9 332.3 571.1 330.9 572.4 332.7 573.7 333.5 575.4 348.0 576.5 336.9 577.6 325.7 579.4 332.4 580.7 328.3 582.1 323.4 583.5 318.0 584.7 319.1 585.9 319.9 587.1 322.1 588.5 321.5 589.9 319.4 591.3 319.0 592.8 331.4 593.9 320.8 594.9 311.7 596.1 314.2 597.3 316.4 598.5 318.0 599.5 318.1 600.6 318.0 601.6 316.9 603.0 315.7 604.4 314.9 605.8 314.8 607.1 317.3 608.3 321.1 609.6 320.8 610.8 318.4 612.0 318.0 613.4 317.4 614.7 317.2 616.1 318.0 617.1 315.7 618.2 314.1 619.2 313.3 620.3 313.9 621.3 314.5 622.3 315.9 623.7 316.3 625.1 317.9 626.5 318.0 627.8 317.1 629.2 317.8 630.6 316.9 631.8 317.4 633.1 317.2 634.3 317.3 635.6 317.8 636.8 317.4 637.9 318.8 638.9 319.4 639.9 321.1 641.2 324.4 642.5 328.3 643.8 321.2 645.1 314.8 646.1 318.8 647.2 323.1 648.3 326.5 649.5 328.2 650.7 330.2 651.8 333.5 653.0 329.0 654.2 325.0 655.4 320.0 656.5 323.7 657.5 327.9 658.6 331.4 659.8 327.9 661.1 325.7 662.1 324.5 663.2 324.9 664.2 324.2 665.5 325.7 666.7 328.4 667.9 330.8 669.2 332.8 670.4 335.5 671.7 332.9 672.9 331.0 674.1 330.7 675.4 328.4 676.6 326.2 677.9 328.2 679.2 328.8 680.5 330.8 681.8 331.4 683.2 331.3 684.6 330.6 686.0 329.3 686.6 331.9 687.2 334.3 687.8 335.5 688.4 338.7 689.1 341.8 689.7 344.2 690.4 343.1 691.1 345.9 691.7 346.2 692.3 343.1 692.9 342.1 693.5 341.8 694.0 339.5 694.6 335.6 695.2 334.7 695.8 334.5 696.4 333.3 697.0 334.7 697.6 340.3 698.2 339.8 698.8 342.8 699.4 341.8 700.0 342.8 700.6 339.5 701.2 345.0 701.8 344.3 702.4 339.9 703.0 336.3 703.5 339.7 704.1 338.8 704.7 338.2 705.3 340.7 705.9 339.0 706.5 345.3 707.1 348.3 707.7 344.9 708.3 342.0 708.9 346.7 709.5 344.7 710.1 343.5 710.6 347.0 711.2 342.0 711.8 342.8 712.5 343.2 713.2 333.9 713.9 335.5 714.5 344.4 715.1 342.2 715.7 345.4 716.3 357.8 716.9 361.2 717.4 365.5 718.0 368.7 718.7 361.7 719.4 349.0 720.1 340.7 720.7 338.1 721.3 340.6 721.9 346.9 722.5 347.9 723.1 342.0 723.7 344.7 724.3 345.9 724.8 343.5 725.4 345.6 726.0 335.8 726.6 341.1 727.2 334.1 727.8 334.8 728.4 332.4 729.0 331.4 729.6 333.2 730.2 342.5 730.8 341.3 731.4 347.7 731.9 349.0 732.5 348.0 733.2 349.8 733.8 343.4 734.4 347.5 735.0 350.6 735.6 345.9 736.2 346.2 736.8 342.5 737.4 343.8 737.9 351.1 738.5 351.2 739.1 345.1 739.7 345.9 740.2 349.6 740.8 348.0 741.4 347.2 742.0 343.6 742.5 349.8 743.1 345.8 743.7 342.8 744.3 338.9 744.8 342.4 745.4 343.7 746.0 340.7 746.6 339.5 747.2 340.3 747.8 347.6 748.4 350.9 748.9 347.8 749.5 350.2 750.1 352.1 750.7 353.2 751.3 352.1 751.9 348.5 752.4 349.7 753.0 349.0 753.6 348.8 754.2 347.7 754.7 350.2 755.3 351.1 755.9 348.7 756.5 354.4 757.0 349.9 757.6 355.6 758.2 354.4 758.8 349.7 759.3 348.8 759.9 352.6 760.5 352.1" fill="none" stroke="#22e02e" stroke-width="1.7" stroke-dasharray="3.6 1.5" stroke-linejoin="round"/>
<path d="M558.7 352.6 560.0 351.8 561.2 352.0 562.5 352.5 563.8 352.9 565.1 352.1 566.4 352.6 567.6 351.9 568.8 352.0 570.0 352.8 571.3 351.7 572.5 352.6 573.7 352.1 574.9 351.9 576.1 350.5 577.3 350.6 578.5 350.0 579.7 349.4 580.9 349.0 582.0 348.4 583.0 345.6 584.0 344.9 585.3 343.6 586.6 344.5 587.9 343.2 589.2 342.8 590.4 342.3 591.6 342.5 592.8 342.8 594.1 339.5 595.4 336.6 596.4 338.0 597.5 337.5 598.5 338.7 599.8 338.5 601.0 339.4 602.2 339.7 603.5 340.6 604.7 340.2 605.9 340.9 607.1 340.3 608.3 340.7 609.5 339.7 610.7 340.2 611.8 340.0 613.0 338.7 614.2 337.6 615.4 338.3 616.6 338.2 617.8 337.5 619.0 336.5 620.3 336.6 621.4 337.1 622.6 337.0 623.8 336.1 625.0 336.8 626.2 336.1 627.4 335.9 628.5 336.6 629.8 337.1 631.1 337.9 632.4 338.7 633.7 339.7 635.1 339.2 636.5 338.8 637.9 337.6 639.1 339.7 640.4 341.0 641.7 342.3 643.0 342.8 644.3 339.1 645.6 334.5 646.8 336.0 647.9 337.6 649.1 340.1 650.3 341.8 651.4 339.3 652.6 337.1 653.7 333.7 654.8 331.3 656.0 329.3 657.0 333.5 658.0 336.4 659.1 339.7 660.1 340.5 661.1 340.7 662.1 339.7 663.2 339.9 664.2 339.7 665.5 341.6 666.7 342.4 667.9 344.2 669.2 344.2 670.4 345.9 671.7 344.0 672.9 342.7 674.1 340.2 675.4 338.9 676.6 336.6 678.0 337.4 679.4 337.4 680.8 338.7 682.2 336.6 683.5 336.7 684.9 334.5 685.5 334.6 686.1 336.9 686.7 339.5 687.3 343.2 687.9 345.8 688.5 345.9 689.1 348.0 689.6 347.8 690.2 349.1 690.8 346.5 691.4 346.8 692.0 347.8 692.6 347.7 693.2 346.9 693.8 344.8 694.4 345.3 695.1 345.5 695.7 348.4 696.3 348.4 696.9 349.8 697.5 348.9 698.2 346.6 698.8 349.1 699.4 348.0 700.0 354.1 700.7 350.4 701.3 349.3 701.9 354.3 702.5 357.3 703.1 354.6 703.7 352.8 704.2 350.9 704.8 350.8 705.4 356.5 706.0 348.5 706.5 352.7 707.1 348.3 707.7 350.0 708.3 348.4 708.9 354.9 709.5 351.4 710.1 351.4 710.6 354.8 711.2 358.0 711.8 357.3 712.5 352.0 713.2 349.4 713.9 340.7 714.6 343.7 715.3 348.5 716.0 352.1 716.6 354.2 717.2 352.2 717.8 354.6 718.5 352.6 719.1 349.9 719.7 350.0 720.3 356.1 720.9 355.9 721.6 357.9 722.2 354.2 722.8 354.8 723.4 352.8 724.0 348.1 724.7 353.1 725.3 345.7 725.9 347.3 726.5 343.8 727.2 344.9 727.8 343.2 728.4 343.8 729.0 344.4 729.6 348.1 730.2 347.7 730.8 346.3 731.4 352.2 731.9 353.0 732.5 352.1 733.1 355.9 733.7 349.8 734.3 355.8 734.9 359.1 735.5 354.4 736.1 354.8 736.7 358.3 737.3 360.5 737.9 355.9 738.5 355.6 739.2 358.6 739.8 354.2 740.4 351.9 741.0 351.5 741.6 352.0 742.3 354.5 742.9 352.1 743.5 350.5 744.1 353.7 744.7 347.1 745.4 348.2 746.0 350.0 746.6 352.0 747.2 351.6 747.8 352.7 748.4 357.4 748.9 352.5 749.5 352.6 750.1 356.3 750.7 351.7 751.3 355.2 751.9 353.1 752.4 354.2 753.0 349.6 753.6 349.1 754.2 352.0 754.7 354.8 755.3 352.1 755.9 350.4 756.5 355.7 757.0 352.8 757.6 351.3 758.2 354.6 758.8 349.8 759.3 353.0 759.9 355.2 760.5 352.1" fill="none" stroke="#f02a36" stroke-width="1.65" stroke-dasharray="1.9 2.3" stroke-linejoin="round"/>
<path d="M558.8 367.6H760.6" fill="none" stroke="#222" stroke-width="1.2" stroke-dasharray="1.1 1.0" stroke-linejoin="round"/>
<path d="M799.6 383.0 800.7 382.1 801.9 383.1 803.0 382.1 804.1 382.6 805.2 382.8 806.4 382.4 807.6 381.2 808.9 379.0 810.2 377.4 811.5 375.7 812.8 376.2 814.1 378.3 815.2 383.4 816.2 388.7 817.4 379.1 818.6 370.0 820.3 379.9 821.6 378.1 822.9 375.2 824.0 371.1 825.0 366.9 826.3 370.4 827.6 373.1 828.8 371.8 830.0 370.2 831.2 369.5 832.5 377.6 833.8 384.5 834.8 375.2 835.9 364.8 837.1 366.7 838.3 368.3 839.5 371.1 840.9 370.7 842.2 370.4 843.6 370.0 845.0 370.8 846.4 370.9 847.8 371.1 848.7 374.2 849.6 377.3 850.7 375.8 851.8 374.0 852.9 371.9 854.0 371.1 855.4 371.0 856.7 373.1 858.1 373.1 859.4 370.6 860.7 366.9 861.9 367.9 863.0 370.1 864.2 370.8 865.4 372.1 866.7 371.2 867.9 372.1 869.2 371.4 870.5 371.1 871.6 372.8 872.6 373.1 873.8 372.8 875.1 371.2 876.3 371.5 877.6 371.1 878.8 370.0 879.9 371.3 880.9 371.1 881.9 372.1 883.0 376.0 884.0 379.9 885.0 377.2 886.1 373.5 887.1 371.1 888.1 375.2 889.2 378.3 890.5 381.2 891.9 382.4 893.3 385.5 894.5 381.9 895.7 377.7 896.9 374.2 898.2 377.3 899.5 381.4 900.7 380.9 901.9 380.8 903.1 379.3 904.1 378.4 905.2 376.6 906.2 376.2 907.3 378.1 908.5 380.4 909.6 382.6 910.8 384.0 911.9 385.5 913.0 383.6 914.1 383.9 915.3 382.1 916.4 380.1 917.5 378.9 918.6 378.3 919.9 380.2 921.2 383.5 922.8 392.8 924.2 392.7 925.5 391.6 926.9 391.8 927.4 397.4 928.0 395.8 928.5 402.1 929.1 406.2 929.8 409.5 930.4 410.4 931.1 417.6 931.7 411.4 932.3 415.2 932.9 413.0 933.5 404.2 934.2 404.2 934.8 403.4 935.4 402.7 936.0 399.6 936.6 397.0 937.3 391.8 938.0 394.7 938.6 401.6 939.3 404.2 940.0 402.9 940.6 404.8 941.2 401.9 941.8 401.7 942.4 398.0 943.1 408.5 943.8 413.0 944.5 421.6 945.2 414.0 945.9 400.2 946.6 393.8 947.3 401.0 948.0 415.6 948.7 421.6 949.3 412.1 950.0 405.2 950.7 394.9 951.4 404.4 952.1 411.1 952.8 421.6 953.5 407.2 954.2 394.4 954.9 376.2 955.4 390.2 955.9 405.5 956.4 421.6 957.1 407.4 957.8 395.3 958.5 385.5 959.0 400.0 959.5 411.2 960.0 421.6 960.7 412.0 961.4 396.8 962.1 382.4 962.8 393.7 963.5 396.3 964.2 406.3 964.8 399.4 965.4 395.1 966.0 391.8 966.7 391.6 967.3 383.5 968.0 394.3 968.7 408.7 969.4 421.6 970.0 406.5 970.7 394.2 971.4 385.5 972.1 398.0 972.8 410.5 973.5 421.6 974.1 413.6 974.8 408.2 975.4 399.5 976.1 388.7 976.8 402.9 977.5 411.3 978.2 421.6 978.7 412.1 979.2 403.2 979.7 398.0 980.3 398.4 981.0 392.6 981.6 390.1 982.2 393.6 982.8 390.7 983.5 388.7 984.2 393.0 984.9 392.8 985.5 397.9 986.2 406.7 986.8 411.0 987.5 421.6 988.1 416.0 988.8 410.7 989.4 405.3 990.1 402.1 990.8 406.0 991.4 415.8 992.1 421.6 992.8 417.3 993.5 407.9 994.2 404.2 994.8 404.4 995.4 409.6 996.1 416.2 996.7 416.6 997.3 421.6 998.0 416.3 998.7 405.6 999.4 402.1 1000.0 401.0 1000.7 394.4 1001.3 392.4 1002.0 391.8" fill="none" stroke="#1414f5" stroke-width="1.6" stroke-linejoin="round"/>
<path d="M799.6 386.6 800.7 386.6 801.9 385.5 803.0 385.7 804.1 385.5 805.2 386.1 806.4 385.5 807.6 383.8 808.9 382.0 810.2 378.7 811.5 377.3 812.7 381.3 813.9 384.8 815.0 389.2 816.2 393.8 817.5 384.0 818.8 374.2 819.8 377.0 820.8 381.4 822.1 375.4 823.3 370.6 824.5 364.8 825.5 367.0 826.5 368.5 827.6 371.1 828.8 370.2 830.0 369.5 831.2 368.0 832.5 374.9 833.8 383.5 834.8 370.0 835.9 355.5 836.9 359.0 837.9 361.7 839.1 362.9 840.3 363.9 841.5 365.9 842.9 366.3 844.3 364.9 845.7 364.8 847.1 365.6 848.4 367.0 849.8 369.0 851.1 368.5 852.4 367.1 853.7 366.4 855.0 364.8 856.0 366.2 857.1 367.0 858.1 368.0 859.4 365.1 860.7 360.7 861.9 361.9 863.1 363.5 864.3 364.8 865.7 365.7 867.1 365.7 868.5 365.9 869.8 366.1 871.2 365.3 872.6 364.8 873.8 365.4 875.1 364.5 876.3 365.0 877.6 365.3 878.8 365.9 879.9 366.2 880.9 367.5 881.9 369.0 883.0 372.0 884.0 376.2 885.4 369.9 886.9 364.3 888.0 368.4 889.2 372.1 890.5 375.3 891.9 378.8 893.3 382.4 894.5 375.9 895.7 370.0 896.9 364.3 898.2 372.5 899.5 379.3 900.7 378.9 901.9 378.1 903.1 377.3 904.1 374.7 905.2 373.5 906.2 371.1 907.5 373.6 908.8 377.1 910.1 381.2 911.4 383.5 912.6 382.1 913.8 380.5 915.0 379.1 916.2 377.8 917.4 376.2 918.6 374.2 919.9 374.5 921.2 375.0 922.5 376.2 923.8 377.3 925.2 377.9 926.6 377.3 928.0 380.4 928.6 389.4 929.3 394.8 930.0 398.0 930.6 395.7 931.2 397.3 931.8 394.6 932.4 397.4 933.0 393.2 933.6 391.0 934.2 391.8 934.8 387.9 935.4 388.1 936.0 383.8 936.6 384.1 937.3 381.4 937.9 385.8 938.5 383.6 939.0 383.8 939.6 390.9 940.2 388.9 940.8 387.3 941.4 391.8 942.0 388.0 942.6 388.0 943.1 391.3 943.7 392.0 944.3 388.9 944.9 385.9 945.4 387.7 946.0 391.7 946.6 387.6 947.2 389.1 947.8 393.5 948.4 393.9 949.1 389.1 949.7 393.8 950.3 394.3 950.8 392.8 951.4 390.6 952.0 387.6 952.6 389.1 953.1 384.1 953.7 385.3 954.3 384.3 954.9 383.5 955.5 388.4 956.1 389.5 956.7 386.7 957.3 390.1 958.0 391.8 958.6 390.3 959.2 396.5 959.7 397.1 960.3 393.9 960.9 397.2 961.5 397.9 962.1 398.0 962.7 394.6 963.3 398.1 963.9 395.6 964.5 396.4 965.1 393.8 965.7 389.1 966.3 391.8 966.8 388.8 967.4 384.9 968.0 389.7 968.6 387.7 969.2 385.6 969.8 380.2 970.4 379.9 971.1 381.3 971.8 391.9 972.5 393.8 973.1 397.6 973.6 392.0 974.2 395.5 974.8 393.1 975.4 398.7 976.0 399.3 976.6 398.0 977.2 395.9 977.8 399.0 978.4 400.1 979.0 398.6 979.6 403.6 980.2 401.0 980.7 402.1 981.3 398.9 981.9 400.0 982.5 400.2 983.1 395.2 983.7 394.8 984.3 398.6 984.9 393.8 985.5 395.1 986.1 393.8 986.7 394.6 987.4 391.9 988.0 394.9 988.6 393.9 989.2 395.8 989.9 398.6 990.5 397.1 991.1 400.0 991.8 397.3 992.5 395.6 993.2 398.0 993.8 399.1 994.4 396.3 994.9 401.3 995.5 401.2 996.1 395.6 996.7 397.0 997.3 399.0 997.9 400.1 998.5 396.7 999.1 396.0 999.6 401.6 1000.2 398.9 1000.8 398.0 1001.4 400.1 1002.0 398.0" fill="none" stroke="#22e02e" stroke-width="1.7" stroke-dasharray="3.6 1.5" stroke-linejoin="round"/>
<path d="M799.6 413.0 800.9 412.8 802.2 412.6 803.5 412.4 804.8 413.6 806.1 413.1 807.4 413.0 808.8 412.8 810.1 412.0 811.5 411.4 812.8 411.8 814.1 412.8 815.4 413.1 816.7 413.5 818.1 412.7 819.5 411.3 820.8 409.9 822.1 409.0 823.4 406.9 824.7 405.1 826.0 404.2 827.3 402.6 828.6 402.5 829.9 400.5 831.2 400.0 832.5 402.6 833.8 404.7 834.8 397.9 835.9 390.7 837.1 393.1 838.4 396.9 839.7 397.9 841.0 397.2 842.3 399.1 843.6 399.0 844.9 399.7 846.1 398.8 847.3 399.7 848.6 399.8 849.8 399.5 851.2 398.1 852.6 398.1 854.0 396.9 855.4 397.2 856.7 399.3 858.1 399.5 859.1 397.8 860.2 395.4 861.4 396.3 862.5 395.0 863.7 395.5 864.9 396.2 866.1 396.3 867.3 395.8 868.5 396.4 869.7 397.6 870.9 398.0 872.2 397.7 873.4 397.9 874.7 399.0 875.7 398.2 876.7 396.8 877.8 395.9 879.0 397.4 880.3 398.4 881.5 399.5 882.7 400.1 884.0 402.1 885.3 396.9 886.6 392.8 887.9 394.8 889.2 396.9 890.2 398.7 891.2 399.6 892.3 401.1 893.6 398.6 894.9 395.4 896.2 393.1 897.4 389.7 898.5 396.1 899.5 402.1 900.7 401.8 901.8 401.5 903.0 401.4 904.1 402.1 905.3 401.8 906.6 403.6 907.8 404.0 909.0 404.2 910.2 403.6 911.4 404.7 912.6 403.9 913.8 402.0 915.0 402.2 916.2 400.8 917.4 399.9 918.6 398.5 919.9 398.0 921.2 397.1 922.5 397.1 923.8 395.9 924.8 393.5 925.9 389.7 926.9 390.9 928.0 395.9 928.6 398.3 929.2 403.4 929.8 405.9 930.4 406.9 931.1 410.4 931.7 409.2 932.3 412.1 932.9 406.3 933.5 405.0 934.2 406.3 934.8 405.8 935.5 401.0 936.1 403.7 936.7 399.0 937.4 399.0 938.0 404.7 938.7 402.0 939.3 404.2 940.0 407.4 940.6 406.8 941.2 407.1 941.8 403.8 942.4 403.8 943.1 403.3 943.7 404.8 944.3 408.7 944.9 404.8 945.5 408.3 946.2 406.6 946.8 409.2 947.4 406.5 948.0 407.9 948.7 407.4 949.3 410.8 949.9 407.0 950.5 413.6 951.1 410.9 951.8 410.4 952.4 408.4 953.0 403.7 953.6 399.8 954.2 399.7 954.9 392.8 955.5 400.0 956.1 403.8 956.7 402.5 957.3 410.8 958.0 414.5 958.6 415.9 959.2 412.0 959.7 409.3 960.3 408.5 960.9 403.3 961.5 405.5 962.1 402.1 962.8 409.0 963.5 408.7 964.2 416.6 964.8 415.3 965.4 414.6 966.0 411.5 966.5 412.6 967.1 413.0 967.7 411.5 968.3 407.3 969.0 402.8 969.7 398.6 970.4 398.0 971.1 405.4 971.8 408.4 972.5 412.5 973.1 415.1 973.6 415.7 974.2 411.8 974.8 414.3 975.4 412.5 976.0 416.4 976.6 414.5 977.2 415.3 977.8 411.5 978.4 412.8 979.0 412.8 979.6 409.7 980.2 408.7 980.7 410.4 981.3 410.8 981.9 408.5 982.5 412.1 983.1 415.9 983.7 415.7 984.3 410.7 984.9 414.5 985.5 415.2 986.1 412.8 986.7 411.1 987.4 404.5 988.0 406.3 988.6 409.0 989.2 405.8 989.8 411.1 990.4 408.5 990.9 409.7 991.5 409.2 992.1 412.5 992.7 414.5 993.3 409.3 993.9 413.4 994.4 410.3 995.0 407.1 995.6 410.1 996.2 408.7 996.7 404.5 997.3 407.3 997.9 410.3 998.5 406.9 999.1 405.8 999.6 411.8 1000.2 412.2 1000.8 410.3 1001.4 409.6 1002.0 412.5" fill="none" stroke="#f02a36" stroke-width="1.65" stroke-dasharray="1.9 2.3" stroke-linejoin="round"/>
<path d="M820 420.6H1002" fill="none" stroke="#222" stroke-width="1.2" stroke-dasharray="1.1 1.0" stroke-linejoin="round"/>
<path d="M74.4 855.4 75.9 847.7 77.4 839.2 78.9 835.5 80.3 832.5 81.8 841.8 83.3 851.0 84.8 850.2 86.2 849.5 87.3 852.6 88.5 854.7 89.6 849.8 90.7 845.1 91.9 850.5 93.1 856.0 94.4 861.3 95.8 857.5 97.3 854.0 98.4 851.8 99.5 849.2 100.6 846.4 101.7 843.6 103.2 846.9 104.7 851.0 105.9 846.0 107.2 839.9 108.3 849.1 109.5 858.2 110.6 867.2 111.8 861.9 113.1 856.4 114.3 851.0 115.4 847.7 116.5 843.6 117.6 847.1 118.7 851.0 120.2 849.5 121.4 852.6 122.7 856.9 123.9 859.9 125.4 862.2 126.8 865.0 128.1 863.1 129.3 861.5 130.5 859.9 132.0 861.7 133.5 862.8 134.6 861.2 135.7 859.9 137.2 864.3 138.6 860.6 139.8 862.7 140.9 865.8 142.3 866.3 143.8 867.2 145.3 859.6 146.8 852.5 148.2 861.3 149.7 854.7 151.2 860.5 152.7 867.2 153.8 865.4 154.9 862.8 156.0 865.3 157.1 867.2 158.3 866.4 159.6 866.0 160.8 865.8 161.9 857.4 163.0 848.0 164.1 855.6 165.2 862.8 166.0 856.9 167.1 862.8 168.2 868.7 169.3 867.3 170.4 865.8 171.5 865.9 172.6 864.8 173.7 864.8 174.8 864.3 175.0 864.3 176.4 854.9 177.9 846.6 179.0 853.9 180.1 861.3 181.2 858.9 182.3 856.9 183.6 860.2 184.8 863.7 186.0 867.2 187.3 867.7 188.5 868.6 189.7 868.7 191.2 864.9 192.7 861.3 194.1 863.1 195.6 865.8 196.8 866.3 198.1 866.7 199.3 866.5 200.4 868.0 201.5 868.7 203.0 865.2 204.5 862.1 206.0 864.5 207.4 867.2 208.5 867.5 209.6 866.8 210.8 866.8 211.9 867.2 213.1 867.7 214.3 868.0 215.5 868.7 216.3 859.9 217.4 865.7 218.5 871.7 219.5 865.1 220.4 859.1 221.7 865.1 222.9 870.2 224.0 868.0 225.1 865.8 226.3 869.3 227.4 873.1 228.6 873.2 229.8 873.4 231.0 873.9 232.8 869.5 233.8 871.6 234.7 873.1 236.1 863.8 237.4 854.0 238.7 863.8 239.9 873.1 241.4 874.3 242.9 874.6 244.3 869.5 245.4 872.1 246.5 874.6 247.8 873.5 249.0 872.6 250.2 871.7 251.7 872.0 253.2 873.1 254.7 870.1 256.1 867.2 257.3 869.8 258.4 872.4 259.5 876.1 260.6 879.0 261.7 875.8 262.8 872.4 264.1 872.7 265.4 873.9 266.7 874.5 268.0 875.4 269.2 873.7 270.4 871.8 271.6 869.5 272.8 871.4 273.9 873.1 275.2 871.8 276.5 870.2" fill="none" stroke="#1414f5" stroke-width="1.6" stroke-linejoin="round"/>
<path d="M74.4 885.0 75.6 880.7 76.8 876.6 78.0 871.6 79.2 867.5 80.3 862.8 81.6 870.2 82.8 876.6 84.0 883.5 85.1 884.1 86.2 884.5 87.3 885.0 88.5 885.0 89.6 877.0 90.7 870.2 91.9 876.2 93.1 883.6 94.4 889.4 95.6 888.7 96.8 887.1 98.0 886.4 99.1 881.3 100.2 875.2 101.3 870.2 102.6 875.2 104.0 880.5 105.0 878.7 106.1 876.8 107.2 875.4 108.3 879.6 109.5 884.7 110.6 889.4 112.1 883.3 113.5 876.8 114.8 878.3 116.1 880.3 117.4 882.4 118.7 883.5 119.8 884.1 120.9 885.4 122.0 886.3 123.1 887.9 124.3 889.2 125.4 890.0 126.5 891.2 127.6 892.3 128.7 890.9 129.8 890.5 130.9 889.3 132.0 887.9 133.2 888.8 134.5 890.3 135.7 890.9 137.2 888.3 138.6 886.4 139.9 889.2 141.1 892.9 142.3 895.3 143.8 892.7 145.3 890.9 146.4 886.0 147.5 882.0 149.0 877.7 150.5 874.6 151.6 884.4 152.7 893.8 154.1 895.7 155.6 896.8 156.9 896.2 158.1 896.7 159.3 896.8 160.5 888.8 161.8 880.8 163.0 873.1 164.5 883.2 166.0 893.8 167.1 894.4 168.2 894.9 169.3 896.5 170.4 896.8 171.5 896.2 172.6 896.4 173.7 896.4 174.8 896.0 175.0 895.3 176.4 886.6 177.9 877.6 179.0 885.7 180.1 893.8 181.2 890.9 182.3 887.9 183.6 891.9 184.8 894.4 186.0 898.2 187.3 898.1 188.5 898.5 189.7 899.0 191.2 894.5 192.7 889.4 194.1 893.0 195.6 896.8 196.8 896.1 198.1 895.3 199.3 895.3 200.4 896.3 201.5 898.2 203.0 895.5 204.5 892.3 206.0 895.0 207.4 898.2 208.5 898.7 209.6 899.0 210.8 899.7 211.9 900.5 213.1 899.3 214.3 899.5 215.5 898.2 216.3 890.9 217.4 896.9 218.5 902.7 219.5 892.3 220.4 882.0 221.7 892.4 222.9 903.4 224.0 900.9 225.1 897.5 226.3 901.3 227.4 904.9 228.6 904.4 229.8 904.5 231.0 904.9 232.8 896.0 233.8 899.9 234.7 902.7 236.1 890.3 237.4 878.3 238.7 890.4 239.9 902.7 241.4 903.7 242.9 905.6 244.3 895.3 245.4 899.4 246.5 902.7 247.8 902.9 249.0 903.7 250.2 904.1 251.7 902.9 253.2 901.2 254.7 898.3 256.1 895.3 257.3 898.8 258.4 902.7 259.5 905.0 260.6 907.8 261.7 905.1 262.8 901.9 264.1 902.7 265.4 904.3 266.7 905.8 268.0 906.4 269.2 904.2 270.4 901.2 271.6 898.2 272.8 900.6 273.9 902.7 275.2 900.8 276.5 899.7" fill="none" stroke="#22e02e" stroke-width="1.7" stroke-dasharray="3.6 1.5" stroke-linejoin="round"/>
<path d="M74.4 930.7 75.9 930.6 77.4 929.2 78.9 924.6 80.3 921.1 81.4 927.0 82.5 932.2 83.8 931.2 85.0 930.8 86.2 929.2 87.3 929.8 88.5 930.7 89.6 926.9 90.7 921.9 92.1 926.5 93.6 932.2 94.7 933.1 95.8 932.4 96.9 932.3 98.0 932.9 99.1 927.1 100.2 921.8 101.3 916.0 102.6 922.7 104.0 930.7 105.1 931.1 106.3 931.2 107.5 931.9 108.7 932.6 109.9 933.7 110.9 927.9 112.0 922.5 113.1 917.4 114.4 923.7 115.8 929.2 116.9 929.7 118.0 930.8 119.1 931.5 120.2 931.5 121.3 931.1 122.4 930.2 123.5 928.8 124.6 927.8 125.7 928.7 126.8 929.8 127.9 930.0 129.0 930.7 130.5 928.0 132.0 926.3 133.5 929.3 135.0 932.2 136.2 929.8 137.4 926.8 138.6 924.8 139.9 927.4 141.1 930.8 142.3 934.4 143.4 930.6 144.5 926.7 145.7 922.4 146.8 918.2 147.8 916.3 148.9 914.1 150.0 913.0 151.0 920.4 151.9 929.2 153.2 930.6 154.5 931.5 155.8 932.5 157.1 933.7 158.3 930.7 159.6 928.2 160.8 926.3 161.9 915.5 163.0 905.6 164.1 916.9 165.2 929.2 166.5 930.7 167.8 931.6 169.1 933.2 170.4 934.4 171.5 933.0 172.6 931.9 173.7 930.9 174.8 929.2 175.0 930.7 176.3 920.8 177.6 910.1 178.9 921.4 180.1 933.7 181.2 927.7 182.3 920.4 183.6 925.6 184.8 930.2 186.0 934.4 187.3 933.6 188.5 933.6 189.7 932.2 191.2 927.5 192.7 921.9 194.1 925.9 195.6 930.7 196.8 930.7 198.1 930.7 199.3 930.0 200.4 932.2 201.5 933.7 203.0 929.8 204.5 924.8 206.0 929.3 207.4 933.7 208.5 933.5 209.6 932.3 210.8 932.8 211.9 932.2 213.1 931.2 214.3 931.5 215.5 930.7 216.3 920.4 217.4 926.9 218.5 932.2 219.5 920.9 220.4 910.1 221.7 921.3 222.9 933.7 224.0 930.1 225.1 927.8 226.3 930.4 227.4 932.9 228.6 932.7 229.8 933.8 231.0 933.7 232.8 926.3 233.8 929.4 234.7 932.2 236.1 918.2 237.4 904.1 238.7 919.1 239.9 933.7 241.4 933.6 242.9 934.4 244.3 920.4 245.4 925.5 246.5 930.7 247.8 930.3 249.0 931.3 250.2 931.5 251.7 930.4 253.2 928.5 254.7 926.2 256.1 924.8 257.3 928.0 258.4 930.7 259.5 932.9 260.6 933.7 261.7 930.8 262.8 928.5 264.1 929.8 265.4 931.5 266.7 934.0 268.0 935.1 269.2 931.4 270.4 929.1 271.6 925.6 272.8 927.1 273.9 929.2 275.2 928.1 276.5 926.3" fill="none" stroke="#f02a36" stroke-width="1.65" stroke-dasharray="1.9 2.3" stroke-linejoin="round"/>
<path d="M74.4 948.4 75.9 946.4 77.4 945.5 78.5 941.1 79.6 936.6 80.7 941.9 81.8 948.4 83.3 949.4 84.8 949.2 86.0 946.9 87.2 945.8 88.5 944.0 89.7 939.7 91.0 933.7 92.3 940.5 93.6 947.7 94.7 948.8 95.8 948.5 96.9 948.3 98.0 948.4 99.1 944.8 100.2 940.7 101.3 936.6 102.6 940.8 104.0 945.5 105.1 947.1 106.3 946.5 107.5 948.2 108.7 948.5 109.9 948.4 110.9 943.3 112.0 939.6 113.1 935.9 114.5 940.3 115.9 945.4 117.2 949.2 118.5 947.8 119.7 947.9 120.9 947.0 122.2 945.5 123.4 945.1 124.6 943.3 125.9 945.8 127.1 947.2 128.3 948.4 129.5 946.1 130.8 945.5 132.0 943.3 133.2 944.1 134.5 945.9 135.7 946.2 136.9 943.2 138.2 940.3 139.3 943.2 140.4 945.4 141.6 947.2 142.7 949.2 143.8 950.6 145.3 942.1 146.8 932.2 148.0 931.9 149.2 930.6 150.5 930.7 151.6 940.5 152.7 948.4 153.9 949.1 155.1 948.9 156.4 950.6 157.5 948.5 158.6 946.4 159.7 944.0 160.8 942.5 161.7 933.9 162.7 923.3 164.0 933.6 165.2 945.5 166.5 947.4 167.8 947.8 169.1 948.2 170.4 949.9 171.5 948.5 172.6 947.6 173.7 945.8 174.8 945.5 175.0 948.4 176.4 939.4 177.9 929.2 179.0 940.6 180.1 951.4 181.2 947.2 182.3 941.1 183.6 944.9 184.8 948.0 186.0 950.6 187.3 950.9 188.5 950.0 189.7 948.4 191.2 945.0 192.7 941.1 194.1 943.7 195.6 946.2 196.8 946.0 198.1 946.4 199.3 945.5 200.4 947.8 201.5 948.4 203.0 945.4 204.5 941.1 206.0 946.5 207.4 950.6 208.5 948.8 209.6 948.6 210.8 947.1 211.9 947.0 213.1 946.1 214.3 945.1 215.5 944.0 216.3 938.1 217.4 942.6 218.5 947.0 219.5 938.1 220.4 927.8 221.7 939.4 222.9 952.1 224.0 947.0 225.1 941.1 226.3 944.9 227.4 948.4 228.6 948.1 229.8 949.9 231.0 949.2 232.8 940.3 233.8 943.5 234.7 948.4 236.1 935.8 237.4 923.3 238.7 937.4 239.9 951.4 241.4 949.4 242.9 947.0 244.3 935.1 245.4 942.8 246.5 948.4 247.8 947.1 249.0 946.3 250.2 944.0 251.7 945.8 253.2 948.4 254.7 944.0 256.1 939.6 257.3 944.4 258.4 950.6 259.5 946.9 260.6 942.5 261.7 944.6 262.8 947.0 264.1 947.9 265.4 946.9 266.7 948.0 268.0 948.4 269.2 946.9 270.4 942.5 271.6 941.1 272.8 944.3 273.9 947.0 275.2 945.1 276.5 942.5" fill="none" stroke="#222" stroke-width="1.2" stroke-dasharray="1.1 1.0" stroke-linejoin="round"/>
<path d="M312.7 862.8 314.2 854.9 315.6 846.8 317.1 839.2 318.2 842.7 319.3 845.1 320.8 855.4 322.3 856.1 323.8 856.9 325.2 859.3 326.7 862.8 328.2 860.2 329.7 856.3 331.1 854.0 332.3 860.5 333.4 868.0 334.8 862.6 336.3 858.4 337.8 857.1 339.3 855.9 340.7 854.0 342.2 855.6 343.7 856.9 344.8 851.4 345.9 846.6 347.4 860.0 348.9 872.4 350.3 869.7 351.8 865.8 353.3 862.8 354.8 854.4 356.2 846.6 357.0 859.9 358.9 855.4 360.5 861.6 362.1 867.2 363.6 869.0 365.1 869.5 366.3 869.3 367.6 868.5 368.8 867.2 370.0 868.3 371.2 868.3 372.5 869.5 374.0 870.7 375.4 871.7 376.5 870.1 377.6 868.7 378.8 869.8 380.0 870.5 381.2 871.0 382.4 872.8 383.5 873.1 384.7 871.6 385.9 871.2 387.1 870.2 388.3 870.3 389.5 868.7 390.9 868.9 392.4 870.3 393.9 870.9 395.1 871.3 396.3 870.6 397.6 870.2 398.7 873.0 399.8 874.6 401.3 872.3 402.7 870.1 404.2 868.0 405.3 871.5 406.4 875.4 407.9 873.0 409.4 870.9 410.7 870.7 412.0 870.9 412.3 870.9 413.6 868.5 415.0 867.2 416.3 865.3 417.6 862.1 418.9 865.4 420.1 868.0 421.6 867.5 423.1 866.5 424.5 869.5 426.0 872.4 427.3 872.5 428.5 873.0 429.7 873.9 431.2 872.3 432.7 869.5 434.1 871.8 435.6 873.1 436.8 873.8 438.1 875.0 439.3 875.4 440.6 874.9 441.9 872.5 443.2 871.8 444.5 870.9 446.0 871.3 447.4 871.7 448.9 872.4 450.4 873.4 451.9 874.1 453.3 875.4 454.8 876.3 456.3 878.3 457.8 877.6 459.2 875.7 460.7 874.6 462.2 876.5 463.7 877.6 464.9 877.3 466.1 877.8 467.4 878.3 468.6 877.9 469.8 878.7 471.0 879.0 472.5 877.6 474.0 876.9 475.5 876.1 477.0 876.8 478.4 878.5 479.9 879.0 481.1 880.5 482.4 881.7 483.6 883.5 484.7 881.0 485.8 878.3 487.3 879.4 488.8 880.5 489.9 879.7 491.1 880.0 492.3 879.3 493.5 878.1 494.7 878.3 495.9 878.1 497.1 877.7 498.4 877.6 500.1 882.0 501.3 876.1 502.4 877.4 503.5 879.8 505.0 880.7 506.5 880.4 508.0 880.5 509.4 880.2 510.9 878.5 512.4 877.6 513.9 878.6 515.3 879.8" fill="none" stroke="#1414f5" stroke-width="1.6" stroke-linejoin="round"/>
<path d="M312.7 892.3 314.2 890.9 315.6 887.9 316.8 884.4 317.9 882.8 319.0 879.0 320.3 883.0 321.5 887.9 322.8 889.3 324.0 891.6 325.2 892.3 326.7 889.9 328.2 887.9 329.7 890.9 331.1 893.2 332.6 896.8 333.8 896.1 335.1 894.7 336.3 892.3 337.5 890.8 338.8 889.7 340.0 889.4 341.5 889.8 343.0 890.4 344.4 890.9 345.9 883.5 347.4 890.6 348.9 896.8 350.1 895.7 351.3 895.5 352.5 894.5 353.8 891.7 355.0 889.6 356.2 887.9 357.7 889.7 359.2 893.1 360.7 895.0 362.1 896.8 363.6 898.1 365.1 899.4 366.6 900.5 368.0 900.7 369.5 899.1 371.0 899.0 372.5 899.7 374.0 900.9 375.4 901.9 376.5 901.3 377.6 899.0 378.9 899.7 380.2 900.8 381.5 902.2 382.8 903.4 384.3 904.2 385.8 904.0 387.2 904.9 388.3 902.4 389.5 901.2 390.7 903.6 391.9 905.3 393.1 907.1 394.6 905.8 396.1 903.3 397.6 902.7 399.1 903.3 400.5 904.9 401.8 902.9 403.0 902.2 404.2 901.2 405.5 902.8 406.8 903.9 408.1 904.6 409.4 904.9 410.7 904.6 412.0 904.9 412.3 904.1 413.7 903.2 415.0 902.6 416.3 900.5 417.6 899.7 418.8 900.3 420.0 901.6 421.2 901.6 422.3 902.7 423.6 904.1 424.8 905.4 426.0 907.1 427.3 907.3 428.6 906.4 429.9 905.3 431.2 905.6 432.4 905.0 433.6 906.5 434.7 905.8 435.9 907.1 437.1 907.1 438.6 906.6 440.0 907.2 441.5 907.1 443.0 906.1 444.5 905.9 446.0 904.9 447.4 905.2 448.9 906.7 450.4 907.8 451.9 908.9 453.3 908.9 454.8 910.1 455.5 904.9 456.7 909.1 457.8 911.5 459.2 910.9 460.7 908.6 461.9 910.0 463.1 910.5 464.3 911.1 465.4 911.1 466.6 911.5 468.1 912.4 469.6 911.8 471.0 912.3 472.5 913.3 474.0 916.0 475.2 907.1 476.4 910.1 477.7 911.5 479.0 913.4 480.3 913.3 481.6 914.6 482.9 916.0 484.3 910.1 485.8 911.0 487.3 913.0 488.5 913.1 489.6 911.8 490.8 912.7 492.0 911.0 493.2 911.5 494.7 910.9 496.1 911.1 497.6 910.1 499.1 911.0 500.6 911.4 502.1 913.0 503.2 912.2 504.4 913.3 505.6 912.2 506.8 912.6 508.0 913.0 509.2 912.9 510.4 912.2 511.6 911.4 512.9 912.5 514.1 912.2 515.3 911.5" fill="none" stroke="#22e02e" stroke-width="1.7" stroke-dasharray="3.6 1.5" stroke-linejoin="round"/>
<path d="M313.2 940.4 315.6 941.2 318.0 940.2 319.3 936.0 320.4 942.0 322.8 940.9 325.2 940.5 327.6 942.3 330.0 941.9 332.4 942.2 334.8 941.5 337.2 940.0 339.6 940.6 340.0 937.5 342.0 940.2 344.4 941.9 346.8 939.4 349.2 941.9 351.6 939.9 354.0 940.4 356.4 941.4 358.8 941.6 361.2 941.0 363.6 941.2 366.0 941.3 368.4 941.3 370.8 939.7 373.2 940.4 375.6 939.5 378.0 941.2 380.4 940.3 382.8 940.2 385.2 940.3 387.6 942.4 390.0 939.8 392.4 942.3 394.8 942.3 397.2 940.1 399.6 942.1 402.0 940.0 404.4 941.5 406.8 939.8 409.2 940.4 411.6 941.0 414.0 940.6 416.4 942.0 416.5 934.0 418.8 941.5 421.2 939.5 423.6 941.2 426.0 939.7 428.4 940.0 430.8 940.6 433.2 940.4 435.6 941.2 438.0 942.5 440.4 941.9 442.8 941.1 445.2 942.1 447.6 939.9 450.0 941.7 452.4 942.5 454.8 942.4 457.2 941.0 459.6 941.3 461.0 937.5 462.0 940.6 464.4 940.8 466.8 942.6 469.2 939.8 471.6 942.1 474.0 940.1 475.5 935.2 476.4 941.2 478.8 941.2 481.2 939.5 483.6 940.9 486.0 939.5 488.4 942.4 490.8 942.4 493.2 941.3 495.6 941.9 498.0 941.7 500.4 940.1 502.8 939.6 505.2 940.6 507.6 940.7 510.0 941.0 512.4 941.6 514.8 941.8" fill="none" stroke="#f02a36" stroke-width="1.65" stroke-dasharray="1.9 2.3" stroke-linejoin="round"/>
<path d="M313.2 956.1H515.6" fill="none" stroke="#222" stroke-width="1.2" stroke-dasharray="1.1 1.0" stroke-linejoin="round"/>
<path d="M556.4 859.3 557.9 851.1 559.3 843.6 560.8 835.7 561.9 838.7 563.0 841.6 564.5 851.9 566.0 852.6 567.5 853.4 568.9 856.5 570.4 859.3 571.9 856.3 573.4 853.4 574.8 850.4 576.0 857.0 577.1 864.5 578.5 859.1 580.0 854.9 581.5 853.1 583.0 852.3 584.4 850.4 585.9 851.3 587.4 853.4 588.5 848.0 589.6 843.1 591.1 855.9 592.6 868.9 594.0 865.8 595.5 862.4 597.0 859.3 598.5 851.7 599.9 843.1 600.7 856.3 602.6 851.9 604.2 858.4 605.8 863.7 607.3 864.9 608.8 865.9 610.0 864.8 611.3 865.0 612.5 863.7 613.7 865.0 614.9 865.2 616.2 865.9 617.7 867.5 619.1 868.2 620.2 867.2 621.3 865.2 622.5 866.7 623.7 866.6 624.9 867.5 626.1 869.2 627.2 869.6 628.4 868.4 629.6 867.5 630.8 866.3 632.0 866.5 633.2 865.2 634.6 865.6 636.1 866.2 637.6 867.4 638.8 867.3 640.0 866.3 641.3 866.7 642.4 869.3 643.5 871.1 645.0 868.3 646.4 867.3 647.9 864.5 649.0 867.6 650.1 871.8 651.6 869.1 653.1 867.4 654.4 867.4 655.7 867.4 656.0 867.4 657.3 865.9 658.7 863.7 660.0 861.1 661.3 858.6 662.6 861.8 663.8 864.5 665.3 863.4 666.8 863.0 668.2 866.4 669.7 868.9 671.0 869.0 672.2 869.8 673.4 870.4 674.9 868.6 676.4 865.9 677.8 867.6 679.3 869.6 680.5 869.8 681.8 871.4 683.0 871.8 684.3 870.2 685.6 869.5 686.9 868.3 688.2 867.4 689.7 867.9 691.1 867.9 692.6 868.9 694.1 870.5 695.6 871.3 697.0 871.8 698.5 873.4 700.0 874.8 701.5 873.3 702.9 872.2 704.4 871.1 705.9 872.2 707.4 874.1 708.6 874.2 709.8 874.5 711.1 875.2 712.3 874.5 713.5 875.9 714.7 875.5 716.2 875.1 717.7 873.6 719.2 872.6 720.7 873.6 722.1 874.0 723.6 875.5 724.8 876.6 726.1 877.9 727.3 880.0 728.4 876.8 729.5 874.8 731.0 876.2 732.5 877.0 733.6 876.1 734.8 876.4 736.0 876.1 737.2 875.1 738.4 874.8 739.6 874.8 740.8 874.4 742.1 874.1 743.8 878.5 745.0 872.6 746.1 874.6 747.2 876.3 748.7 876.7 750.2 877.0 751.7 877.0 753.1 875.5 754.6 875.7 756.1 874.1 757.6 874.8 759.0 876.3" fill="none" stroke="#1414f5" stroke-width="1.6" stroke-linejoin="round"/>
<path d="M556.4 886.3 557.9 883.3 559.3 881.8 560.5 879.1 561.6 876.8 562.7 873.0 564.0 877.1 565.2 881.8 566.5 883.4 567.7 884.6 568.9 886.3 570.4 884.5 571.9 881.8 573.4 885.1 574.8 887.9 576.3 890.7 577.5 890.1 578.8 888.1 580.0 886.3 581.2 885.0 582.5 884.1 583.7 883.3 585.2 884.0 586.7 884.6 588.1 884.8 589.6 877.4 591.1 883.6 592.6 890.7 593.8 890.5 595.0 889.1 596.2 888.5 597.5 886.8 598.7 883.3 599.9 881.8 601.4 884.1 602.9 887.0 604.4 888.0 605.8 890.7 607.3 891.8 608.8 892.7 610.3 894.4 611.7 893.6 613.2 892.9 614.7 892.9 616.2 894.5 617.7 895.1 619.1 895.9 620.2 894.1 621.3 892.9 622.6 894.0 623.9 894.6 625.2 897.0 626.5 897.3 628.0 898.6 629.5 898.4 630.9 898.8 632.0 896.3 633.2 895.1 634.4 897.9 635.6 898.5 636.8 901.0 638.3 898.8 639.8 897.9 641.3 896.6 642.8 897.5 644.2 898.8 645.5 898.2 646.7 895.7 647.9 895.1 649.2 895.3 650.5 896.9 651.8 897.1 653.1 898.8 654.4 899.1 655.7 898.8 656.0 898.1 657.4 896.9 658.7 896.5 660.0 895.5 661.3 893.6 662.5 893.9 663.7 895.6 664.9 895.9 666.0 896.6 667.3 898.9 668.5 898.8 669.7 901.0 671.0 900.6 672.3 901.2 673.6 899.1 674.9 899.6 676.1 899.5 677.3 899.8 678.4 900.2 679.6 901.6 680.8 901.0 682.3 900.5 683.7 901.6 685.2 901.0 686.7 899.9 688.2 900.2 689.7 898.8 691.1 899.2 692.6 900.1 694.1 901.8 695.6 903.4 697.0 902.4 698.5 904.0 699.2 898.8 700.4 902.4 701.5 905.5 702.9 903.4 704.4 902.5 705.6 903.2 706.8 903.4 708.0 904.5 709.1 905.2 710.3 905.5 711.8 906.2 713.3 905.3 714.7 906.2 716.2 908.6 717.7 909.9 718.9 901.0 720.1 902.8 721.4 905.5 722.7 906.7 724.0 908.2 725.3 909.3 726.6 909.9 728.0 904.0 729.5 905.5 731.0 906.9 732.2 906.6 733.3 905.7 734.5 906.7 735.7 905.9 736.9 905.5 738.4 905.5 739.8 905.3 741.3 904.0 742.8 905.3 744.3 905.6 745.8 906.9 746.9 906.9 748.1 906.3 749.3 906.5 750.5 907.6 751.7 906.9 752.9 907.0 754.1 905.8 755.3 906.2 756.6 905.8 757.8 906.3 759.0 905.5" fill="none" stroke="#22e02e" stroke-width="1.7" stroke-dasharray="3.6 1.5" stroke-linejoin="round"/>
<path d="M556.8 934.1 559.2 932.3 561.6 932.8 562.8 928.0 564.0 931.8 566.4 934.4 568.8 931.9 571.2 933.4 573.6 933.2 576.0 933.5 578.4 932.6 580.8 932.5 583.2 932.6 583.5 929.5 585.6 931.6 588.0 932.4 590.4 932.2 592.8 933.7 595.2 932.7 597.6 931.7 600.0 931.5 602.4 932.4 604.8 934.4 607.2 931.5 609.6 932.8 612.0 933.7 614.4 931.8 616.8 933.8 619.2 934.1 621.6 933.9 624.0 931.8 626.4 934.2 628.8 932.1 631.2 933.8 633.6 933.8 636.0 933.0 638.4 933.7 640.8 933.7 643.2 933.8 645.6 932.3 648.0 934.3 650.4 933.3 652.8 932.5 655.2 931.8 657.6 933.9 660.0 934.4 660.0 925.5 662.4 934.0 664.8 933.4 667.2 933.6 669.6 932.6 672.0 931.9 674.4 934.2 676.8 933.7 679.2 933.0 681.6 934.0 684.0 931.9 686.4 931.7 688.8 932.2 691.2 934.1 693.6 932.5 696.0 931.7 698.4 931.9 700.8 931.7 703.2 934.1 704.5 929.0 705.6 934.3 708.0 931.6 710.4 933.4 712.8 932.1 715.2 934.0 717.6 932.2 719.0 927.0 720.0 933.6 722.4 931.6 724.8 933.1 727.2 932.7 729.6 931.8 732.0 934.2 734.4 932.8 736.8 933.6 739.2 932.0 741.6 932.4 744.0 934.0 746.4 933.0 748.8 934.3 751.2 933.5 753.6 934.3 756.0 932.4 758.4 933.0" fill="none" stroke="#f02a36" stroke-width="1.65" stroke-dasharray="1.9 2.3" stroke-linejoin="round"/>
<path d="M556.8 949.2H759.4" fill="none" stroke="#222" stroke-width="1.2" stroke-dasharray="1.1 1.0" stroke-linejoin="round"/>
<path d="M804.3 882.3 805.8 875.5 807.2 869.1 808.7 861.8 810.6 866.2 811.8 864.9 813.0 874.9 814.9 874.9 816.2 877.0 817.4 880.1 818.6 882.9 820.5 883.6 822.4 873.6 823.5 879.8 824.6 887.3 825.7 884.2 826.8 880.2 828.0 877.3 829.2 878.9 830.4 881.1 832.3 876.1 833.6 876.9 834.8 876.7 836.2 871.1 837.7 866.8 839.2 879.0 840.8 892.3 842.3 884.8 843.5 891.0 844.7 882.7 846.0 875.3 847.2 866.8 849.1 877.3 850.3 876.1 851.9 881.7 853.4 887.3 855.3 892.3 857.2 887.3 858.4 888.1 859.6 889.1 860.9 889.1 862.1 888.5 863.4 888.5 864.8 890.7 866.3 892.6 867.7 895.4 869.3 893.3 870.8 890.4 872.4 890.0 873.9 891.0 875.8 895.4 877.7 893.5 878.9 897.0 880.2 899.7 882.0 891.6 883.5 890.6 884.9 890.1 886.4 889.1 887.6 889.3 888.9 890.4 890.1 894.1 891.3 896.3 892.6 899.7 893.8 896.1 895.1 893.3 896.3 889.1 897.9 890.2 899.4 891.0 900.9 890.3 902.3 889.8 903.8 889.8 904.0 889.8 905.2 891.6 906.5 892.3 907.7 886.3 909.0 879.8 910.5 885.0 912.1 889.8 913.3 887.4 914.6 884.8 916.1 888.5 917.7 891.0 919.1 892.6 920.6 895.0 922.0 897.2 923.9 889.8 925.4 891.4 927.0 892.3 928.2 893.9 929.5 895.3 930.7 896.6 932.0 895.4 933.2 893.7 934.4 892.3 935.7 891.1 936.9 889.8 938.5 890.9 940.0 892.3 941.3 893.7 942.5 893.6 943.8 894.7 945.0 896.5 946.3 898.6 947.5 901.0 949.4 892.3 950.6 908.4 951.8 899.9 953.1 892.3 954.3 896.1 955.6 899.7 957.1 898.3 958.7 896.6 959.9 896.6 961.2 897.5 962.4 898.5 963.6 900.9 964.9 902.2 966.1 897.2 967.6 910.9 968.7 903.7 969.9 897.2 971.1 898.7 972.3 899.7 973.5 903.6 974.6 907.8 976.1 897.2 977.3 898.4 978.6 901.2 979.8 902.2 981.0 901.3 982.3 899.8 983.5 899.1 984.8 899.4 986.0 899.2 987.3 899.7 988.5 897.0 989.7 893.5 991.0 902.2 992.5 893.5 994.1 901.0 995.5 899.9 997.0 900.0 998.4 899.7 999.7 900.7 1000.9 901.7 1002.2 902.2 1003.4 896.0 1005.0 897.9 1006.5 901.0" fill="none" stroke="#1414f5" stroke-width="1.6" stroke-linejoin="round"/>
<path d="M804.3 907.8 805.9 904.3 807.5 902.2 808.7 899.9 809.9 897.6 811.2 895.4 812.4 900.2 813.7 903.4 814.9 905.9 816.2 907.2 817.4 909.6 818.6 910.9 820.5 904.7 821.7 907.5 823.0 909.0 824.2 912.1 825.8 910.4 827.3 907.2 828.6 908.9 829.8 910.9 831.7 903.4 833.2 906.1 834.8 908.4 836.2 903.0 837.7 899.1 839.2 905.9 840.8 913.4 842.1 913.4 843.5 912.1 844.7 908.1 846.0 904.8 847.2 902.2 848.5 905.6 849.7 909.6 851.0 910.2 852.2 911.3 853.4 912.1 854.7 913.2 855.9 913.7 857.2 914.5 858.4 916.5 859.6 915.6 860.9 914.9 862.1 914.6 863.5 915.5 864.9 916.3 866.3 917.3 867.7 917.7 869.6 914.0 870.8 915.6 872.1 917.1 873.3 919.0 874.6 919.4 875.8 920.1 877.0 919.6 878.3 919.3 879.5 917.5 880.8 917.7 882.0 918.8 883.3 921.5 884.5 922.1 885.7 921.0 887.0 918.3 888.2 918.5 889.5 918.8 890.7 918.9 892.0 920.2 893.2 918.9 894.4 918.2 895.7 918.3 896.9 919.8 898.2 920.4 899.4 919.9 900.7 920.8 902.2 919.4 903.8 919.6 904.0 919.0 905.2 918.9 906.5 917.6 907.7 917.4 909.0 915.9 910.2 916.1 911.5 917.8 912.7 917.7 913.9 919.7 915.2 920.8 916.4 922.2 917.7 923.3 918.9 923.2 920.2 922.3 921.4 922.7 922.6 921.5 923.9 921.1 925.1 922.0 926.4 922.3 927.6 922.9 928.9 923.3 930.1 923.6 931.3 921.9 932.6 922.2 933.8 922.1 935.1 922.1 936.3 922.2 937.6 922.7 938.8 922.7 940.0 923.7 941.3 924.2 942.5 924.6 943.8 925.2 945.3 922.8 946.9 920.8 948.7 927.0 950.0 926.7 951.2 925.1 952.5 923.3 953.7 924.9 955.0 925.1 956.2 927.0 957.4 926.8 958.7 927.4 959.9 926.5 961.2 927.0 962.4 927.7 963.6 928.6 964.9 929.5 966.8 922.1 968.6 926.4 969.9 925.6 971.1 926.6 972.3 925.8 973.5 930.2 974.6 933.3 976.1 925.8 977.3 926.4 978.6 927.3 979.8 928.9 981.0 927.9 982.3 928.1 983.5 926.5 984.8 926.4 986.0 926.4 987.3 926.2 988.5 924.3 989.7 924.6 991.0 926.2 992.2 927.4 993.5 928.3 994.7 928.7 996.0 928.9 997.2 928.4 998.4 928.9 999.7 927.8 1000.9 928.7 1002.2 926.9 1003.4 927.0 1005.0 927.2 1006.5 925.8" fill="none" stroke="#22e02e" stroke-width="1.7" stroke-dasharray="3.6 1.5" stroke-linejoin="round"/>
<path d="M804.8 957.3 807.1 958.4 809.4 959.0 810.5 953.0 811.7 960.0 814.0 957.7 816.3 958.3 818.6 957.7 819.5 952.0 820.9 958.4 823.2 959.6 825.5 960.2 827.8 959.9 830.1 960.0 832.4 956.4 834.7 957.2 837.0 960.0 839.3 958.5 841.6 956.8 843.9 958.7 846.2 959.9 848.5 957.1 850.8 957.6 853.1 956.9 855.4 960.1 857.7 957.0 860.0 957.2 862.3 956.5 864.6 956.6 866.9 956.3 868.5 953.0 869.2 956.2 871.5 958.3 873.8 957.4 876.1 957.7 878.4 958.5 880.7 957.5 883.0 959.2 885.3 957.2 887.6 958.2 889.9 957.7 892.2 959.2 894.5 958.0 896.8 957.3 899.1 959.9 901.4 959.3 903.7 957.6 906.0 958.9 908.3 958.2 910.6 956.4 912.9 957.0 915.2 958.8 917.5 956.2 919.8 956.4 922.1 957.3 924.4 958.1 926.7 956.2 929.0 960.1 931.3 960.2 933.6 959.3 935.9 959.6 938.2 959.8 940.5 959.6 942.8 957.9 945.1 956.8 947.4 957.9 949.7 958.8 952.0 959.6 952.5 951.9 954.3 959.2 956.6 956.5 958.9 956.8 961.2 957.8 963.5 957.2 965.8 957.6 966.8 952.5 968.1 959.4 970.4 958.3 972.7 958.8 975.0 960.2 975.5 954.4 977.3 958.0 979.6 958.5 981.9 960.2 984.2 958.5 986.5 959.4 988.8 959.3 991.1 957.9 993.4 957.3 995.7 958.5 998.0 957.4 1000.3 957.7 1002.6 956.2 1004.9 960.1" fill="none" stroke="#f02a36" stroke-width="1.65" stroke-dasharray="1.9 2.3" stroke-linejoin="round"/>
<path d="M804.8 972.0H1006.8" fill="none" stroke="#222" stroke-width="1.2" stroke-dasharray="1.1 1.0" stroke-linejoin="round"/>
<g opacity="0.999">
<text x="63.0" y="20.6" font-family="Liberation Serif, serif" font-size="24.5" fill="#0a0a0a" xml:space="preserve">(a) (i)</text>
<text x="311.5" y="20.6" font-family="Liberation Serif, serif" font-size="24.5" fill="#0a0a0a" xml:space="preserve">(b) (i)</text>
<text x="556.5" y="20.6" font-family="Liberation Serif, serif" font-size="24.5" fill="#0a0a0a" xml:space="preserve">(c) (i)</text>
<text x="801.0" y="20.6" font-family="Liberation Serif, serif" font-size="24.5" fill="#0a0a0a" xml:space="preserve">(d) (i)</text>
<text x="63.3" y="216.9" font-family="Liberation Serif, serif" font-size="24.5" fill="#0a0a0a" xml:space="preserve">(a) (ii)</text>
<text x="311.5" y="216.9" font-family="Liberation Serif, serif" font-size="24.5" fill="#0a0a0a" xml:space="preserve">(b) (ii)</text>
<text x="556.3" y="216.9" font-family="Liberation Serif, serif" font-size="24.5" fill="#0a0a0a" xml:space="preserve">(c) (ii)</text>
<text x="800.6" y="216.9" font-family="Liberation Serif, serif" font-size="24.5" fill="#0a0a0a" xml:space="preserve">(d) (ii)</text>
<text x="63.3" y="511.75" font-family="Liberation Serif, serif" font-size="24.5" fill="#0a0a0a" xml:space="preserve">(a) (iii)</text>
<text x="311.5" y="511.75" font-family="Liberation Serif, serif" font-size="24.5" fill="#0a0a0a" xml:space="preserve">(b) (iii)</text>
<text x="556.3" y="511.75" font-family="Liberation Serif, serif" font-size="24.5" fill="#0a0a0a" xml:space="preserve">(c) (iii)</text>
<text x="800.6" y="511.75" font-family="Liberation Serif, serif" font-size="24.5" fill="#0a0a0a" xml:space="preserve">(d) (iii)</text>
<text x="63.3" y="759.0" font-family="Liberation Serif, serif" font-size="24.5" fill="#0a0a0a" xml:space="preserve">(a) <tspan dx="3.8">(iv)</tspan></text>
<text x="311.5" y="765.0" font-family="Liberation Serif, serif" font-size="24.5" fill="#0a0a0a" xml:space="preserve">(b) (iv)</text>
<text x="556.3" y="765.4" font-family="Liberation Serif, serif" font-size="24.5" fill="#0a0a0a" xml:space="preserve">(c) (iv)</text>
<text x="800.6" y="765.5" font-family="Liberation Serif, serif" font-size="24.5" fill="#0a0a0a" xml:space="preserve">(d) (iv)</text>
<rect x="72.75" y="231.0" width="203.85" height="192.25" fill="none" stroke="#262626" stroke-width="1.5"/>
<path d="M93.5 423.25v-6.5M93.5 231.0v6.5M175.4 423.25v-6.5M175.4 231.0v6.5M257.25 423.25v-6.5M257.25 231.0v6.5M72.75 240.00h6.5M276.6 240.00h-6.5M72.75 331.62h6.5M276.6 331.62h-6.5" stroke="#262626" stroke-width="1.1" fill="none"/>
<text transform="translate(94.7 447.25) scale(1.065 1)" font-family="Liberation Sans, sans-serif" font-size="17.2" fill="#111" text-anchor="middle" >2550</text>
<text transform="translate(176.6 447.25) scale(1.065 1)" font-family="Liberation Sans, sans-serif" font-size="17.2" fill="#111" text-anchor="middle" >2700</text>
<text transform="translate(258.45 447.25) scale(1.065 1)" font-family="Liberation Sans, sans-serif" font-size="17.2" fill="#111" text-anchor="middle" >2850</text>
<text transform="translate(174.675 474.25) scale(1.027 1)" font-family="Liberation Sans, sans-serif" font-size="17.8" fill="#111" text-anchor="middle" >image position</text>
<rect x="318.1" y="231.5" width="204.15" height="192.25" fill="none" stroke="#262626" stroke-width="1.5"/>
<path d="M339.5 423.75v-6.5M339.5 231.5v6.5M421.0 423.75v-6.5M421.0 231.5v6.5M502.5 423.75v-6.5M502.5 231.5v6.5M318.1 240.75h6.5M522.25 240.75h-6.5M318.1 332.25h6.5M522.25 332.25h-6.5" stroke="#262626" stroke-width="1.1" fill="none"/>
<text transform="translate(340.7 447.75) scale(1.065 1)" font-family="Liberation Sans, sans-serif" font-size="17.2" fill="#111" text-anchor="middle" >2550</text>
<text transform="translate(422.2 447.75) scale(1.065 1)" font-family="Liberation Sans, sans-serif" font-size="17.2" fill="#111" text-anchor="middle" >2700</text>
<text transform="translate(503.7 447.75) scale(1.065 1)" font-family="Liberation Sans, sans-serif" font-size="17.2" fill="#111" text-anchor="middle" >2850</text>
<text transform="translate(420.175 474.75) scale(1.027 1)" font-family="Liberation Sans, sans-serif" font-size="17.8" fill="#111" text-anchor="middle" >image position</text>
<rect x="558.1" y="231.0" width="203.15" height="191.75" fill="none" stroke="#262626" stroke-width="1.5"/>
<path d="M579.0 422.75v-6.5M579.0 231.0v6.5M660.4 422.75v-6.5M660.4 231.0v6.5M741.5 422.75v-6.5M741.5 231.0v6.5M558.1 240.00h6.5M761.25 240.00h-6.5M558.1 331.38h6.5M761.25 331.38h-6.5" stroke="#262626" stroke-width="1.1" fill="none"/>
<text transform="translate(580.2 446.75) scale(1.065 1)" font-family="Liberation Sans, sans-serif" font-size="17.2" fill="#111" text-anchor="middle" >2550</text>
<text transform="translate(661.6 446.75) scale(1.065 1)" font-family="Liberation Sans, sans-serif" font-size="17.2" fill="#111" text-anchor="middle" >2700</text>
<text transform="translate(742.7 446.75) scale(1.065 1)" font-family="Liberation Sans, sans-serif" font-size="17.2" fill="#111" text-anchor="middle" >2850</text>
<text transform="translate(659.675 473.75) scale(1.027 1)" font-family="Liberation Sans, sans-serif" font-size="17.8" fill="#111" text-anchor="middle" >image position</text>
<rect x="799.25" y="230.6" width="203.35" height="191.65" fill="none" stroke="#262626" stroke-width="1.5"/>
<path d="M820.25 422.25v-6.5M820.25 230.6v6.5M901.5 422.25v-6.5M901.5 230.6v6.5M983.3 422.25v-6.5M983.3 230.6v6.5M799.25 239.75h6.5M1002.6 239.75h-6.5M799.25 331.00h6.5M1002.6 331.00h-6.5" stroke="#262626" stroke-width="1.1" fill="none"/>
<text transform="translate(821.45 446.25) scale(1.065 1)" font-family="Liberation Sans, sans-serif" font-size="17.2" fill="#111" text-anchor="middle" >2550</text>
<text transform="translate(902.7 446.25) scale(1.065 1)" font-family="Liberation Sans, sans-serif" font-size="17.2" fill="#111" text-anchor="middle" >2700</text>
<text transform="translate(984.5 446.25) scale(1.065 1)" font-family="Liberation Sans, sans-serif" font-size="17.2" fill="#111" text-anchor="middle" >2850</text>
<text transform="translate(900.925 473.25) scale(1.027 1)" font-family="Liberation Sans, sans-serif" font-size="17.8" fill="#111" text-anchor="middle" >image position</text>
<text transform="translate(61.0 245.6) scale(1.065 1)" font-family="Liberation Sans, sans-serif" font-size="17.2" fill="#111" text-anchor="end" >40</text>
<text transform="translate(60.5 337.225) scale(1.065 1)" font-family="Liberation Sans, sans-serif" font-size="17.2" fill="#111" text-anchor="end" >20</text>
<text transform="translate(60.5 428.85) scale(1.065 1)" font-family="Liberation Sans, sans-serif" font-size="17.2" fill="#111" text-anchor="end" >0</text>
<text transform="translate(15.1 329.4) rotate(-90)" font-family="Liberation Sans, sans-serif" font-size="18" fill="#111" text-anchor="middle">radiance</text>
<text transform="translate(35.2 326.5) rotate(-90)" font-family="Liberation Sans, sans-serif" font-size="17.9" fill="#111" text-anchor="middle">(µWcm<tspan font-size="13.3" dy="-9.6">-2</tspan><tspan dy="9.6">sr</tspan><tspan font-size="13.3" dy="-9.6">-1</tspan><tspan dy="9.6" dx="2.2">nm</tspan><tspan font-size="13.3" dy="-9.6">-1</tspan><tspan dy="9.6">)</tspan></text>
<text transform="translate(942.4 251.3) scale(1.065 1)" font-family="Liberation Sans, sans-serif" font-size="17.2" fill="#111" text-anchor="end" >480 nm</text>
<text transform="translate(942.4 269.2) scale(1.065 1)" font-family="Liberation Sans, sans-serif" font-size="17.2" fill="#111" text-anchor="end" >551 nm</text>
<text transform="translate(942.4 287.1) scale(1.065 1)" font-family="Liberation Sans, sans-serif" font-size="17.2" fill="#111" text-anchor="end" >665 nm</text>
<text transform="translate(942.4 305.0) scale(1.065 1)" font-family="Liberation Sans, sans-serif" font-size="17.2" fill="#111" text-anchor="end" >805 nm</text>
<path d="M952.75 245.7H981.2" stroke="#1a1aff" stroke-width="1.4" fill="none"/>
<path d="M952.75 263.8H981.2" stroke="#2fdc3a" stroke-width="1.5" stroke-dasharray="4 1.6" fill="none"/>
<path d="M952.75 281.8H981.2" stroke="#f0303c" stroke-width="1.4" stroke-dasharray="2 2.6" fill="none"/>
<path d="M952.75 299.75H981.2" stroke="#333" stroke-width="1.2" stroke-dasharray="1.1 0.9" fill="none"/>
<rect x="73.75" y="777.25" width="203.15" height="191.75" fill="none" stroke="#262626" stroke-width="1.5"/>
<path d="M123.1 969.0v-6.5M123.1 777.25v6.5M222.5 969.0v-6.5M222.5 777.25v6.5M73.75 943.39h6.5M276.9 943.39h-6.5M73.75 917.79h6.5M276.9 917.79h-6.5M73.75 892.18h6.5M276.9 892.18h-6.5M73.75 866.57h6.5M276.9 866.57h-6.5M73.75 840.96h6.5M276.9 840.96h-6.5M73.75 815.36h6.5M276.9 815.36h-6.5M73.75 789.75h6.5M276.9 789.75h-6.5" stroke="#262626" stroke-width="1.1" fill="none"/>
<text transform="translate(124.6 993.2) scale(1.065 1)" font-family="Liberation Sans, sans-serif" font-size="17.2" fill="#111" text-anchor="middle" >2300</text>
<text transform="translate(224.0 993.2) scale(1.065 1)" font-family="Liberation Sans, sans-serif" font-size="17.2" fill="#111" text-anchor="middle" >2400</text>
<text transform="translate(175.325 1020.0) scale(1.027 1)" font-family="Liberation Sans, sans-serif" font-size="17.8" fill="#111" text-anchor="middle" >image position</text>
<rect x="312.5" y="777.5" width="203.75" height="191.75" fill="none" stroke="#262626" stroke-width="1.5"/>
<path d="M361.9 969.25v-6.5M361.9 777.5v6.5M461.5 969.25v-6.5M461.5 777.5v6.5M312.5 943.68h6.5M516.25 943.68h-6.5M312.5 918.11h6.5M516.25 918.11h-6.5M312.5 892.54h6.5M516.25 892.54h-6.5M312.5 866.96h6.5M516.25 866.96h-6.5M312.5 841.39h6.5M516.25 841.39h-6.5M312.5 815.82h6.5M516.25 815.82h-6.5M312.5 790.25h6.5M516.25 790.25h-6.5" stroke="#262626" stroke-width="1.1" fill="none"/>
<text transform="translate(363.4 993.45) scale(1.065 1)" font-family="Liberation Sans, sans-serif" font-size="17.2" fill="#111" text-anchor="middle" >2300</text>
<text transform="translate(463.0 993.45) scale(1.065 1)" font-family="Liberation Sans, sans-serif" font-size="17.2" fill="#111" text-anchor="middle" >2400</text>
<text transform="translate(414.375 1020.25) scale(1.027 1)" font-family="Liberation Sans, sans-serif" font-size="17.8" fill="#111" text-anchor="middle" >image position</text>
<rect x="556.0" y="780.0" width="204.00" height="191.50" fill="none" stroke="#262626" stroke-width="1.5"/>
<path d="M605.6 971.5v-6.5M605.6 780.0v6.5M705.0 971.5v-6.5M705.0 780.0v6.5M556.0 945.99h6.5M760.0 945.99h-6.5M556.0 920.47h6.5M760.0 920.47h-6.5M556.0 894.96h6.5M760.0 894.96h-6.5M556.0 869.44h6.5M760.0 869.44h-6.5M556.0 843.93h6.5M760.0 843.93h-6.5M556.0 818.41h6.5M760.0 818.41h-6.5M556.0 792.90h6.5M760.0 792.90h-6.5" stroke="#262626" stroke-width="1.1" fill="none"/>
<text transform="translate(607.1 995.7) scale(1.065 1)" font-family="Liberation Sans, sans-serif" font-size="17.2" fill="#111" text-anchor="middle" >2300</text>
<text transform="translate(706.5 995.7) scale(1.065 1)" font-family="Liberation Sans, sans-serif" font-size="17.2" fill="#111" text-anchor="middle" >2400</text>
<text transform="translate(658.0 1022.5) scale(1.027 1)" font-family="Liberation Sans, sans-serif" font-size="17.8" fill="#111" text-anchor="middle" >image position</text>
<rect x="804.0" y="782.0" width="203.50" height="191.50" fill="none" stroke="#262626" stroke-width="1.5"/>
<path d="M853.4 973.5v-6.5M853.4 782.0v6.5M952.9 973.5v-6.5M952.9 782.0v6.5M804.0 947.93h6.5M1007.5 947.93h-6.5M804.0 922.36h6.5M1007.5 922.36h-6.5M804.0 896.79h6.5M1007.5 896.79h-6.5M804.0 871.21h6.5M1007.5 871.21h-6.5M804.0 845.64h6.5M1007.5 845.64h-6.5M804.0 820.07h6.5M1007.5 820.07h-6.5M804.0 794.50h6.5M1007.5 794.50h-6.5" stroke="#262626" stroke-width="1.1" fill="none"/>
<text transform="translate(854.9 997.7) scale(1.065 1)" font-family="Liberation Sans, sans-serif" font-size="17.2" fill="#111" text-anchor="middle" >2300</text>
<text transform="translate(954.4 997.7) scale(1.065 1)" font-family="Liberation Sans, sans-serif" font-size="17.2" fill="#111" text-anchor="middle" >2400</text>
<text transform="translate(905.75 1024.5) scale(1.027 1)" font-family="Liberation Sans, sans-serif" font-size="17.8" fill="#111" text-anchor="middle" >image position</text>
<text transform="translate(62.0 974.8) scale(1.065 1)" font-family="Liberation Sans, sans-serif" font-size="17.2" fill="#111" text-anchor="end" >0</text>
<text transform="translate(62.0 949.1928571428571) scale(1.065 1)" font-family="Liberation Sans, sans-serif" font-size="17.2" fill="#111" text-anchor="end" >2</text>
<text transform="translate(62.0 923.5857142857143) scale(1.065 1)" font-family="Liberation Sans, sans-serif" font-size="17.2" fill="#111" text-anchor="end" >4</text>
<text transform="translate(62.0 897.9785714285714) scale(1.065 1)" font-family="Liberation Sans, sans-serif" font-size="17.2" fill="#111" text-anchor="end" >6</text>
<text transform="translate(62.0 872.3714285714285) scale(1.065 1)" font-family="Liberation Sans, sans-serif" font-size="17.2" fill="#111" text-anchor="end" >8</text>
<text transform="translate(62.0 846.7642857142857) scale(1.065 1)" font-family="Liberation Sans, sans-serif" font-size="17.2" fill="#111" text-anchor="end" >10</text>
<text transform="translate(62.0 821.1571428571428) scale(1.065 1)" font-family="Liberation Sans, sans-serif" font-size="17.2" fill="#111" text-anchor="end" >12</text>
<text transform="translate(62.0 795.55) scale(1.065 1)" font-family="Liberation Sans, sans-serif" font-size="17.2" fill="#111" text-anchor="end" >14</text>
<text transform="translate(15.1 875.0) rotate(-90)" font-family="Liberation Sans, sans-serif" font-size="18" fill="#111" text-anchor="middle">radiance</text>
<text transform="translate(35.2 872.5) rotate(-90)" font-family="Liberation Sans, sans-serif" font-size="17.9" fill="#111" text-anchor="middle">(µWcm<tspan font-size="13.3" dy="-9.6">-2</tspan><tspan dy="9.6">sr</tspan><tspan font-size="13.3" dy="-9.6">-1</tspan><tspan dy="9.6" dx="2.2">nm</tspan><tspan font-size="13.3" dy="-9.6">-1</tspan><tspan dy="9.6">)</tspan></text>
<text transform="translate(946.2 802.9) scale(1.065 1)" font-family="Liberation Sans, sans-serif" font-size="17.2" fill="#111" text-anchor="end" >480 nm</text>
<text transform="translate(946.2 820.6) scale(1.065 1)" font-family="Liberation Sans, sans-serif" font-size="17.2" fill="#111" text-anchor="end" >551 nm</text>
<text transform="translate(946.2 838.5) scale(1.065 1)" font-family="Liberation Sans, sans-serif" font-size="17.2" fill="#111" text-anchor="end" >665 nm</text>
<text transform="translate(946.2 856.5) scale(1.065 1)" font-family="Liberation Sans, sans-serif" font-size="17.2" fill="#111" text-anchor="end" >805 nm</text>
<path d="M957.4 797.1H985.9" stroke="#1a1aff" stroke-width="1.4" fill="none"/>
<path d="M957.4 815.4H985.9" stroke="#2fdc3a" stroke-width="1.5" stroke-dasharray="4 1.6" fill="none"/>
<path d="M957.4 833.3H985.9" stroke="#f0303c" stroke-width="1.4" stroke-dasharray="2 2.6" fill="none"/>
<path d="M957.4 851.3H985.9" stroke="#333" stroke-width="1.2" stroke-dasharray="1.1 0.9" fill="none"/>
</g>
</svg>
</body></html>
